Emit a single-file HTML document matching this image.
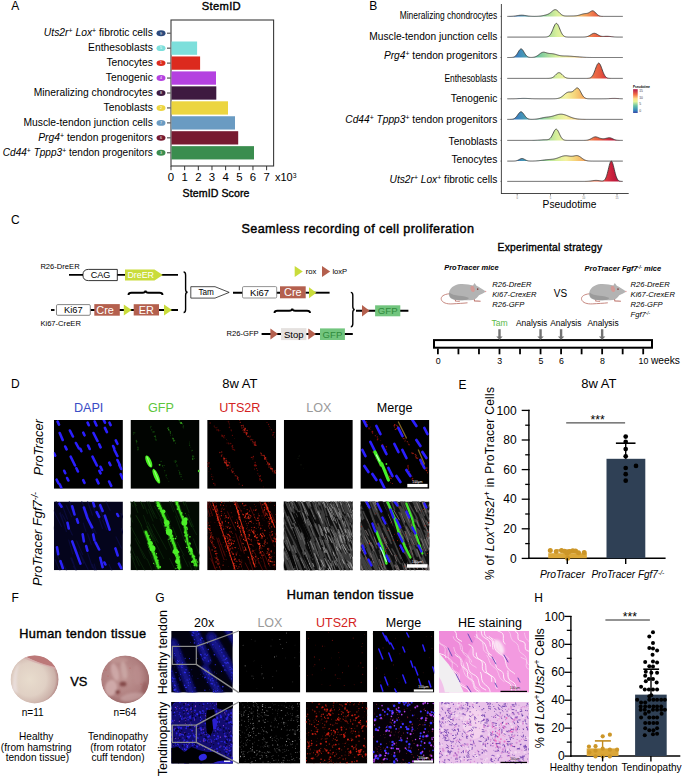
<!DOCTYPE html>
<html><head><meta charset="utf-8"><style>
html,body{margin:0;padding:0;background:#fff;}
svg{display:block;}
text{font-family:"Liberation Sans", sans-serif;}
</style></head><body>
<svg width="685" height="779" viewBox="0 0 685 779" font-family="Liberation Sans, sans-serif">
<text x="11.30" y="10.30" font-size="12.0" >A</text>
<text x="221.20" y="9.60" font-size="11.2" text-anchor="middle" textLength="39.0" lengthAdjust="spacing" fill="#000" stroke="#000" stroke-width="0.38">StemID</text>
<rect x="171.00" y="20.00" width="102.60" height="146.00" fill="none" stroke="#3a3a3a" stroke-width="1.1" />
<line x1="167.00" y1="33.20" x2="170.60" y2="33.20" stroke="#333" stroke-width="1" />
<ellipse cx="161" cy="33.20" rx="4.5" ry="2.95" fill="#2c4a7c"/>
<text x="161.00" y="34.50" font-size="3.6" text-anchor="middle" fill="#fff" >9</text>
<text x="152.80" y="36.00" font-size="10.3" text-anchor="end" ><tspan font-style="italic">Uts2r</tspan><tspan font-size="0.68em" baseline-shift="50%">+</tspan> <tspan font-style="italic">Lox</tspan><tspan font-size="0.68em" baseline-shift="50%">+</tspan> fibrotic cells</text>
<rect x="171.50" y="41.50" width="25.60" height="13.30" fill="#7ddfdb" />
<line x1="167.00" y1="48.15" x2="170.60" y2="48.15" stroke="#333" stroke-width="1" />
<ellipse cx="161" cy="48.15" rx="4.5" ry="2.95" fill="#7ddfdb"/>
<text x="161.00" y="49.45" font-size="3.6" text-anchor="middle" fill="#fff" >5</text>
<text x="152.80" y="50.95" font-size="10.3" text-anchor="end" >Enthesoblasts</text>
<rect x="171.50" y="56.45" width="28.60" height="13.30" fill="#dc2a1e" />
<line x1="167.00" y1="63.10" x2="170.60" y2="63.10" stroke="#333" stroke-width="1" />
<ellipse cx="161" cy="63.10" rx="4.5" ry="2.95" fill="#dc2a1e"/>
<text x="161.00" y="64.40" font-size="3.6" text-anchor="middle" fill="#fff" >1</text>
<text x="152.80" y="65.90" font-size="10.3" text-anchor="end" >Tenocytes</text>
<rect x="171.50" y="71.40" width="44.50" height="13.30" fill="#b441e0" />
<line x1="167.00" y1="78.05" x2="170.60" y2="78.05" stroke="#333" stroke-width="1" />
<ellipse cx="161" cy="78.05" rx="4.5" ry="2.95" fill="#b441e0"/>
<text x="161.00" y="79.35" font-size="3.6" text-anchor="middle" fill="#fff" >4</text>
<text x="152.80" y="80.85" font-size="10.3" text-anchor="end" >Tenogenic</text>
<rect x="171.50" y="86.35" width="44.80" height="13.30" fill="#3e1a40" />
<line x1="167.00" y1="93.00" x2="170.60" y2="93.00" stroke="#333" stroke-width="1" />
<ellipse cx="161" cy="93.00" rx="4.5" ry="2.95" fill="#3e1a40"/>
<text x="161.00" y="94.30" font-size="3.6" text-anchor="middle" fill="#fff" >8</text>
<text x="152.80" y="95.80" font-size="10.3" text-anchor="end" >Mineralizing chondrocytes</text>
<rect x="171.50" y="101.30" width="56.50" height="13.30" fill="#ecd540" />
<line x1="167.00" y1="107.95" x2="170.60" y2="107.95" stroke="#333" stroke-width="1" />
<ellipse cx="161" cy="107.95" rx="4.5" ry="2.95" fill="#ecd540"/>
<text x="161.00" y="109.25" font-size="3.6" text-anchor="middle" fill="#fff" >2</text>
<text x="152.80" y="110.75" font-size="10.3" text-anchor="end" >Tenoblasts</text>
<rect x="171.50" y="116.25" width="63.50" height="13.30" fill="#6a9bc2" />
<line x1="167.00" y1="122.90" x2="170.60" y2="122.90" stroke="#333" stroke-width="1" />
<ellipse cx="161" cy="122.90" rx="4.5" ry="2.95" fill="#6a9bc2"/>
<text x="161.00" y="124.20" font-size="3.6" text-anchor="middle" fill="#fff" >7</text>
<text x="152.80" y="125.70" font-size="10.3" text-anchor="end" >Muscle-tendon junction cells</text>
<rect x="171.50" y="131.20" width="66.70" height="13.30" fill="#771a30" />
<line x1="167.00" y1="137.85" x2="170.60" y2="137.85" stroke="#333" stroke-width="1" />
<ellipse cx="161" cy="137.85" rx="4.5" ry="2.95" fill="#771a30"/>
<text x="161.00" y="139.15" font-size="3.6" text-anchor="middle" fill="#fff" >6</text>
<text x="152.80" y="140.65" font-size="10.3" text-anchor="end" ><tspan font-style="italic">Prg4</tspan><tspan font-size="0.68em" baseline-shift="50%">+</tspan> tendon progenitors</text>
<rect x="171.50" y="146.15" width="82.50" height="13.30" fill="#3a8d4e" />
<line x1="167.00" y1="152.80" x2="170.60" y2="152.80" stroke="#333" stroke-width="1" />
<ellipse cx="161" cy="152.80" rx="4.5" ry="2.95" fill="#3a8d4e"/>
<text x="161.00" y="154.10" font-size="3.6" text-anchor="middle" fill="#fff" >3</text>
<text x="152.80" y="155.60" font-size="10.3" text-anchor="end" textLength="150" lengthAdjust="spacingAndGlyphs"><tspan font-style="italic">Cd44</tspan><tspan font-size="0.68em" baseline-shift="50%">+</tspan> <tspan font-style="italic">Tppp3</tspan><tspan font-size="0.68em" baseline-shift="50%">+</tspan> tendon progenitors</text>
<line x1="171.00" y1="166.00" x2="171.00" y2="170.20" stroke="#333" stroke-width="1" />
<text x="171.00" y="181.00" font-size="11.4" text-anchor="middle" >0</text>
<line x1="184.66" y1="166.00" x2="184.66" y2="170.20" stroke="#333" stroke-width="1" />
<text x="184.66" y="181.00" font-size="11.4" text-anchor="middle" >1</text>
<line x1="198.32" y1="166.00" x2="198.32" y2="170.20" stroke="#333" stroke-width="1" />
<text x="198.32" y="181.00" font-size="11.4" text-anchor="middle" >2</text>
<line x1="211.98" y1="166.00" x2="211.98" y2="170.20" stroke="#333" stroke-width="1" />
<text x="211.98" y="181.00" font-size="11.4" text-anchor="middle" >3</text>
<line x1="225.64" y1="166.00" x2="225.64" y2="170.20" stroke="#333" stroke-width="1" />
<text x="225.64" y="181.00" font-size="11.4" text-anchor="middle" >4</text>
<line x1="239.30" y1="166.00" x2="239.30" y2="170.20" stroke="#333" stroke-width="1" />
<text x="239.30" y="181.00" font-size="11.4" text-anchor="middle" >5</text>
<line x1="252.96" y1="166.00" x2="252.96" y2="170.20" stroke="#333" stroke-width="1" />
<text x="252.96" y="181.00" font-size="11.4" text-anchor="middle" >6</text>
<line x1="266.62" y1="166.00" x2="266.62" y2="170.20" stroke="#333" stroke-width="1" />
<text x="266.62" y="181.00" font-size="11.4" text-anchor="middle" >7</text>
<text x="275.00" y="181.00" font-size="11.0" >x10<tspan font-size="0.62em" dy="-0.45em">3</tspan></text>
<text x="216.00" y="196.50" font-size="10.6" text-anchor="middle" textLength="66.8" lengthAdjust="spacing" fill="#000" stroke="#000" stroke-width="0.36">StemID Score</text>
<text x="369.20" y="9.60" font-size="12.0" >B</text>
<defs><linearGradient id="spec" gradientUnits="userSpaceOnUse" x1="507" y1="0" x2="623" y2="0">
<stop offset="0.0" stop-color="#3a6fb8"/>
<stop offset="0.086" stop-color="#3a7fbf"/>
<stop offset="0.18" stop-color="#4fa7b0"/>
<stop offset="0.267" stop-color="#6cc4a0"/>
<stop offset="0.353" stop-color="#a8dc9c"/>
<stop offset="0.43" stop-color="#d8f09a"/>
<stop offset="0.508" stop-color="#f4f2a0"/>
<stop offset="0.586" stop-color="#f6d47a"/>
<stop offset="0.672" stop-color="#f4a45c"/>
<stop offset="0.758" stop-color="#ec6a46"/>
<stop offset="0.8" stop-color="#e65a3e"/>
<stop offset="0.855" stop-color="#d83640"/>
<stop offset="0.905" stop-color="#c8203c"/>
<stop offset="1" stop-color="#a80c3c"/>
</linearGradient>
<linearGradient id="specv" x1="0" y1="1" x2="0" y2="0">
<stop offset="0" stop-color="#3a46a6"/><stop offset="0.1" stop-color="#3282bc"/><stop offset="0.3" stop-color="#66c2a5"/>
<stop offset="0.48" stop-color="#e6f598"/><stop offset="0.6" stop-color="#fee08b"/>
<stop offset="0.78" stop-color="#f46d43"/><stop offset="1" stop-color="#b0184a"/>
</linearGradient></defs>
<path d="M507.3,16.39 L507.8,16.39 L508.3,16.38 L508.8,16.38 L509.3,16.37 L509.8,16.36 L510.3,16.35 L510.8,16.33 L511.3,16.31 L511.8,16.29 L512.3,16.26 L512.8,16.22 L513.3,16.18 L513.8,16.13 L514.3,16.08 L514.8,16.02 L515.3,15.95 L515.8,15.88 L516.3,15.80 L516.8,15.72 L517.3,15.64 L517.8,15.56 L518.3,15.48 L518.8,15.41 L519.3,15.35 L519.8,15.29 L520.3,15.25 L520.8,15.22 L521.3,15.20 L521.8,15.20 L522.3,15.21 L522.8,15.24 L523.3,15.28 L523.8,15.34 L524.3,15.40 L524.8,15.47 L525.3,15.54 L525.8,15.62 L526.3,15.70 L526.8,15.78 L527.3,15.86 L527.8,15.94 L528.3,16.00 L528.8,16.07 L529.3,16.12 L529.8,16.17 L530.3,16.21 L530.8,16.25 L531.3,16.28 L531.8,16.30 L532.3,16.32 L532.8,16.34 L533.3,16.35 L533.8,16.35 L534.3,16.36 L534.8,16.36 L535.3,16.35 L535.8,16.34 L536.3,16.33 L536.8,16.31 L537.3,16.29 L537.8,16.27 L538.3,16.24 L538.8,16.20 L539.3,16.16 L539.8,16.10 L540.3,16.05 L540.8,15.98 L541.3,15.91 L541.8,15.83 L542.3,15.74 L542.8,15.65 L543.3,15.55 L543.8,15.44 L544.3,15.33 L544.8,15.21 L545.3,15.08 L545.8,14.95 L546.3,14.80 L546.8,14.65 L547.3,14.47 L547.8,14.27 L548.3,14.05 L548.8,13.79 L549.3,13.50 L549.8,13.18 L550.3,12.82 L550.8,12.43 L551.3,12.02 L551.8,11.59 L552.3,11.17 L552.8,10.76 L553.3,10.40 L553.8,10.09 L554.3,9.86 L554.8,9.72 L555.3,9.68 L555.8,9.76 L556.3,9.94 L556.8,10.23 L557.3,10.60 L557.8,11.05 L558.3,11.54 L558.8,12.07 L559.3,12.61 L559.8,13.14 L560.3,13.64 L560.8,14.09 L561.3,14.50 L561.8,14.85 L562.3,15.15 L562.8,15.40 L563.3,15.59 L563.8,15.74 L564.3,15.85 L564.8,15.93 L565.3,15.98 L565.8,16.01 L566.3,16.03 L566.8,16.04 L567.3,16.04 L567.8,16.03 L568.3,16.02 L568.8,16.01 L569.3,16.01 L569.8,16.00 L570.3,15.99 L570.8,15.98 L571.3,15.97 L571.8,15.97 L572.3,15.96 L572.8,15.95 L573.3,15.94 L573.8,15.92 L574.3,15.90 L574.8,15.87 L575.3,15.84 L575.8,15.79 L576.3,15.73 L576.8,15.66 L577.3,15.57 L577.8,15.47 L578.3,15.35 L578.8,15.22 L579.3,15.08 L579.8,14.93 L580.3,14.77 L580.8,14.61 L581.3,14.45 L581.8,14.30 L582.3,14.15 L582.8,14.02 L583.3,13.90 L583.8,13.80 L584.3,13.72 L584.8,13.65 L585.3,13.60 L585.8,13.54 L586.3,13.48 L586.8,13.40 L587.3,13.29 L587.8,13.14 L588.3,12.94 L588.8,12.70 L589.3,12.41 L589.8,12.09 L590.3,11.76 L590.8,11.44 L591.3,11.16 L591.8,10.95 L592.3,10.84 L592.8,10.83 L593.3,10.95 L593.8,11.19 L594.3,11.54 L594.8,11.98 L595.3,12.48 L595.8,13.02 L596.3,13.56 L596.8,14.07 L597.3,14.55 L597.8,14.96 L598.3,15.32 L598.8,15.60 L599.3,15.83 L599.8,16.01 L600.3,16.13 L600.8,16.22 L601.3,16.29 L601.8,16.33 L602.3,16.36 L602.8,16.37 L603.3,16.39 L603.8,16.39 L604.3,16.40 L604.8,16.40 L605.3,16.40 L605.8,16.40 L606.3,16.40 L606.8,16.40 L607.3,16.40 L607.8,16.40 L608.3,16.40 L608.8,16.40 L609.3,16.40 L609.8,16.40 L610.3,16.40 L610.8,16.40 L611.3,16.40 L611.8,16.40 L612.3,16.40 L612.8,16.40 L613.3,16.40 L613.8,16.40 L614.3,16.40 L614.8,16.40 L615.3,16.40 L615.8,16.40 L616.3,16.40 L616.8,16.40 L617.3,16.40 L617.8,16.40 L618.3,16.40 L618.8,16.40 L619.3,16.40 L619.8,16.40 L620.3,16.40 L620.8,16.40 L621.3,16.40 L621.8,16.40 L622.3,16.40 L622.8,16.40 L623.0,16.4 L507.3,16.4 Z" fill="url(#spec)" />
<path d="M507.3,16.39 L507.8,16.39 L508.3,16.38 L508.8,16.38 L509.3,16.37 L509.8,16.36 L510.3,16.35 L510.8,16.33 L511.3,16.31 L511.8,16.29 L512.3,16.26 L512.8,16.22 L513.3,16.18 L513.8,16.13 L514.3,16.08 L514.8,16.02 L515.3,15.95 L515.8,15.88 L516.3,15.80 L516.8,15.72 L517.3,15.64 L517.8,15.56 L518.3,15.48 L518.8,15.41 L519.3,15.35 L519.8,15.29 L520.3,15.25 L520.8,15.22 L521.3,15.20 L521.8,15.20 L522.3,15.21 L522.8,15.24 L523.3,15.28 L523.8,15.34 L524.3,15.40 L524.8,15.47 L525.3,15.54 L525.8,15.62 L526.3,15.70 L526.8,15.78 L527.3,15.86 L527.8,15.94 L528.3,16.00 L528.8,16.07 L529.3,16.12 L529.8,16.17 L530.3,16.21 L530.8,16.25 L531.3,16.28 L531.8,16.30 L532.3,16.32 L532.8,16.34 L533.3,16.35 L533.8,16.35 L534.3,16.36 L534.8,16.36 L535.3,16.35 L535.8,16.34 L536.3,16.33 L536.8,16.31 L537.3,16.29 L537.8,16.27 L538.3,16.24 L538.8,16.20 L539.3,16.16 L539.8,16.10 L540.3,16.05 L540.8,15.98 L541.3,15.91 L541.8,15.83 L542.3,15.74 L542.8,15.65 L543.3,15.55 L543.8,15.44 L544.3,15.33 L544.8,15.21 L545.3,15.08 L545.8,14.95 L546.3,14.80 L546.8,14.65 L547.3,14.47 L547.8,14.27 L548.3,14.05 L548.8,13.79 L549.3,13.50 L549.8,13.18 L550.3,12.82 L550.8,12.43 L551.3,12.02 L551.8,11.59 L552.3,11.17 L552.8,10.76 L553.3,10.40 L553.8,10.09 L554.3,9.86 L554.8,9.72 L555.3,9.68 L555.8,9.76 L556.3,9.94 L556.8,10.23 L557.3,10.60 L557.8,11.05 L558.3,11.54 L558.8,12.07 L559.3,12.61 L559.8,13.14 L560.3,13.64 L560.8,14.09 L561.3,14.50 L561.8,14.85 L562.3,15.15 L562.8,15.40 L563.3,15.59 L563.8,15.74 L564.3,15.85 L564.8,15.93 L565.3,15.98 L565.8,16.01 L566.3,16.03 L566.8,16.04 L567.3,16.04 L567.8,16.03 L568.3,16.02 L568.8,16.01 L569.3,16.01 L569.8,16.00 L570.3,15.99 L570.8,15.98 L571.3,15.97 L571.8,15.97 L572.3,15.96 L572.8,15.95 L573.3,15.94 L573.8,15.92 L574.3,15.90 L574.8,15.87 L575.3,15.84 L575.8,15.79 L576.3,15.73 L576.8,15.66 L577.3,15.57 L577.8,15.47 L578.3,15.35 L578.8,15.22 L579.3,15.08 L579.8,14.93 L580.3,14.77 L580.8,14.61 L581.3,14.45 L581.8,14.30 L582.3,14.15 L582.8,14.02 L583.3,13.90 L583.8,13.80 L584.3,13.72 L584.8,13.65 L585.3,13.60 L585.8,13.54 L586.3,13.48 L586.8,13.40 L587.3,13.29 L587.8,13.14 L588.3,12.94 L588.8,12.70 L589.3,12.41 L589.8,12.09 L590.3,11.76 L590.8,11.44 L591.3,11.16 L591.8,10.95 L592.3,10.84 L592.8,10.83 L593.3,10.95 L593.8,11.19 L594.3,11.54 L594.8,11.98 L595.3,12.48 L595.8,13.02 L596.3,13.56 L596.8,14.07 L597.3,14.55 L597.8,14.96 L598.3,15.32 L598.8,15.60 L599.3,15.83 L599.8,16.01 L600.3,16.13 L600.8,16.22 L601.3,16.29 L601.8,16.33 L602.3,16.36 L602.8,16.37 L603.3,16.39 L603.8,16.39 L604.3,16.40 L604.8,16.40 L605.3,16.40 L605.8,16.40 L606.3,16.40 L606.8,16.40 L607.3,16.40 L607.8,16.40 L608.3,16.40 L608.8,16.40 L609.3,16.40 L609.8,16.40 L610.3,16.40 L610.8,16.40 L611.3,16.40 L611.8,16.40 L612.3,16.40 L612.8,16.40 L613.3,16.40 L613.8,16.40 L614.3,16.40 L614.8,16.40 L615.3,16.40 L615.8,16.40 L616.3,16.40 L616.8,16.40 L617.3,16.40 L617.8,16.40 L618.3,16.40 L618.8,16.40 L619.3,16.40 L619.8,16.40 L620.3,16.40 L620.8,16.40 L621.3,16.40 L621.8,16.40 L622.3,16.40 L622.8,16.40" fill="none" stroke="#303030" stroke-width="0.8" />
<line x1="500.60" y1="16.40" x2="501.40" y2="16.40" stroke="#333" stroke-width="0.8" />
<text x="497.30" y="18.70" font-size="10.2" text-anchor="end" textLength="97.6" lengthAdjust="spacingAndGlyphs">Mineralizing chondrocytes</text>
<path d="M507.3,37.10 L507.8,37.10 L508.3,37.10 L508.8,37.10 L509.3,37.10 L509.8,37.10 L510.3,37.10 L510.8,37.10 L511.3,37.10 L511.8,37.10 L512.3,37.10 L512.8,37.10 L513.3,37.10 L513.8,37.10 L514.3,37.10 L514.8,37.10 L515.3,37.10 L515.8,37.10 L516.3,37.10 L516.8,37.10 L517.3,37.10 L517.8,37.10 L518.3,37.10 L518.8,37.10 L519.3,37.10 L519.8,37.10 L520.3,37.10 L520.8,37.10 L521.3,37.10 L521.8,37.10 L522.3,37.10 L522.8,37.10 L523.3,37.10 L523.8,37.10 L524.3,37.10 L524.8,37.10 L525.3,37.10 L525.8,37.10 L526.3,37.10 L526.8,37.10 L527.3,37.10 L527.8,37.10 L528.3,37.10 L528.8,37.10 L529.3,37.10 L529.8,37.10 L530.3,37.10 L530.8,37.10 L531.3,37.10 L531.8,37.10 L532.3,37.10 L532.8,37.10 L533.3,37.10 L533.8,37.10 L534.3,37.10 L534.8,37.10 L535.3,37.10 L535.8,37.10 L536.3,37.10 L536.8,37.10 L537.3,37.10 L537.8,37.10 L538.3,37.10 L538.8,37.10 L539.3,37.10 L539.8,37.10 L540.3,37.10 L540.8,37.10 L541.3,37.10 L541.8,37.10 L542.3,37.10 L542.8,37.10 L543.3,37.09 L543.8,37.09 L544.3,37.08 L544.8,37.07 L545.3,37.05 L545.8,37.02 L546.3,36.97 L546.8,36.90 L547.3,36.79 L547.8,36.64 L548.3,36.43 L548.8,36.13 L549.3,35.75 L549.8,35.25 L550.3,34.62 L550.8,33.85 L551.3,32.95 L551.8,31.91 L552.3,30.77 L552.8,29.54 L553.3,28.29 L553.8,27.06 L554.3,25.91 L554.8,24.92 L555.3,24.14 L555.8,23.62 L556.3,23.41 L556.8,23.50 L557.3,23.90 L557.8,24.58 L558.3,25.49 L558.8,26.58 L559.3,27.79 L559.8,29.04 L560.3,30.29 L560.8,31.47 L561.3,32.55 L561.8,33.51 L562.3,34.33 L562.8,35.01 L563.3,35.56 L563.8,35.99 L564.3,36.32 L564.8,36.56 L565.3,36.74 L565.8,36.86 L566.3,36.95 L566.8,37.00 L567.3,37.04 L567.8,37.06 L568.3,37.08 L568.8,37.09 L569.3,37.09 L569.8,37.10 L570.3,37.10 L570.8,37.10 L571.3,37.10 L571.8,37.10 L572.3,37.10 L572.8,37.10 L573.3,37.10 L573.8,37.10 L574.3,37.10 L574.8,37.10 L575.3,37.10 L575.8,37.10 L576.3,37.10 L576.8,37.10 L577.3,37.10 L577.8,37.10 L578.3,37.10 L578.8,37.10 L579.3,37.10 L579.8,37.10 L580.3,37.10 L580.8,37.10 L581.3,37.09 L581.8,37.09 L582.3,37.09 L582.8,37.08 L583.3,37.06 L583.8,37.05 L584.3,37.02 L584.8,36.98 L585.3,36.93 L585.8,36.87 L586.3,36.78 L586.8,36.67 L587.3,36.53 L587.8,36.36 L588.3,36.15 L588.8,35.92 L589.3,35.65 L589.8,35.36 L590.3,35.05 L590.8,34.73 L591.3,34.41 L591.8,34.11 L592.3,33.84 L592.8,33.61 L593.3,33.44 L593.8,33.33 L594.3,33.29 L594.8,33.33 L595.3,33.43 L595.8,33.60 L596.3,33.82 L596.8,34.08 L597.3,34.37 L597.8,34.67 L598.3,34.98 L598.8,35.26 L599.3,35.53 L599.8,35.76 L600.3,35.96 L600.8,36.11 L601.3,36.24 L601.8,36.32 L602.3,36.38 L602.8,36.41 L603.3,36.41 L603.8,36.40 L604.3,36.38 L604.8,36.36 L605.3,36.33 L605.8,36.31 L606.3,36.30 L606.8,36.29 L607.3,36.30 L607.8,36.31 L608.3,36.34 L608.8,36.38 L609.3,36.42 L609.8,36.47 L610.3,36.53 L610.8,36.59 L611.3,36.65 L611.8,36.71 L612.3,36.77 L612.8,36.82 L613.3,36.87 L613.8,36.91 L614.3,36.95 L614.8,36.98 L615.3,37.01 L615.8,37.03 L616.3,37.05 L616.8,37.06 L617.3,37.07 L617.8,37.08 L618.3,37.09 L618.8,37.09 L619.3,37.09 L619.8,37.10 L620.3,37.10 L620.8,37.10 L621.3,37.10 L621.8,37.10 L622.3,37.10 L622.8,37.10 L623.0,37.1 L507.3,37.1 Z" fill="url(#spec)" />
<path d="M507.3,37.10 L507.8,37.10 L508.3,37.10 L508.8,37.10 L509.3,37.10 L509.8,37.10 L510.3,37.10 L510.8,37.10 L511.3,37.10 L511.8,37.10 L512.3,37.10 L512.8,37.10 L513.3,37.10 L513.8,37.10 L514.3,37.10 L514.8,37.10 L515.3,37.10 L515.8,37.10 L516.3,37.10 L516.8,37.10 L517.3,37.10 L517.8,37.10 L518.3,37.10 L518.8,37.10 L519.3,37.10 L519.8,37.10 L520.3,37.10 L520.8,37.10 L521.3,37.10 L521.8,37.10 L522.3,37.10 L522.8,37.10 L523.3,37.10 L523.8,37.10 L524.3,37.10 L524.8,37.10 L525.3,37.10 L525.8,37.10 L526.3,37.10 L526.8,37.10 L527.3,37.10 L527.8,37.10 L528.3,37.10 L528.8,37.10 L529.3,37.10 L529.8,37.10 L530.3,37.10 L530.8,37.10 L531.3,37.10 L531.8,37.10 L532.3,37.10 L532.8,37.10 L533.3,37.10 L533.8,37.10 L534.3,37.10 L534.8,37.10 L535.3,37.10 L535.8,37.10 L536.3,37.10 L536.8,37.10 L537.3,37.10 L537.8,37.10 L538.3,37.10 L538.8,37.10 L539.3,37.10 L539.8,37.10 L540.3,37.10 L540.8,37.10 L541.3,37.10 L541.8,37.10 L542.3,37.10 L542.8,37.10 L543.3,37.09 L543.8,37.09 L544.3,37.08 L544.8,37.07 L545.3,37.05 L545.8,37.02 L546.3,36.97 L546.8,36.90 L547.3,36.79 L547.8,36.64 L548.3,36.43 L548.8,36.13 L549.3,35.75 L549.8,35.25 L550.3,34.62 L550.8,33.85 L551.3,32.95 L551.8,31.91 L552.3,30.77 L552.8,29.54 L553.3,28.29 L553.8,27.06 L554.3,25.91 L554.8,24.92 L555.3,24.14 L555.8,23.62 L556.3,23.41 L556.8,23.50 L557.3,23.90 L557.8,24.58 L558.3,25.49 L558.8,26.58 L559.3,27.79 L559.8,29.04 L560.3,30.29 L560.8,31.47 L561.3,32.55 L561.8,33.51 L562.3,34.33 L562.8,35.01 L563.3,35.56 L563.8,35.99 L564.3,36.32 L564.8,36.56 L565.3,36.74 L565.8,36.86 L566.3,36.95 L566.8,37.00 L567.3,37.04 L567.8,37.06 L568.3,37.08 L568.8,37.09 L569.3,37.09 L569.8,37.10 L570.3,37.10 L570.8,37.10 L571.3,37.10 L571.8,37.10 L572.3,37.10 L572.8,37.10 L573.3,37.10 L573.8,37.10 L574.3,37.10 L574.8,37.10 L575.3,37.10 L575.8,37.10 L576.3,37.10 L576.8,37.10 L577.3,37.10 L577.8,37.10 L578.3,37.10 L578.8,37.10 L579.3,37.10 L579.8,37.10 L580.3,37.10 L580.8,37.10 L581.3,37.09 L581.8,37.09 L582.3,37.09 L582.8,37.08 L583.3,37.06 L583.8,37.05 L584.3,37.02 L584.8,36.98 L585.3,36.93 L585.8,36.87 L586.3,36.78 L586.8,36.67 L587.3,36.53 L587.8,36.36 L588.3,36.15 L588.8,35.92 L589.3,35.65 L589.8,35.36 L590.3,35.05 L590.8,34.73 L591.3,34.41 L591.8,34.11 L592.3,33.84 L592.8,33.61 L593.3,33.44 L593.8,33.33 L594.3,33.29 L594.8,33.33 L595.3,33.43 L595.8,33.60 L596.3,33.82 L596.8,34.08 L597.3,34.37 L597.8,34.67 L598.3,34.98 L598.8,35.26 L599.3,35.53 L599.8,35.76 L600.3,35.96 L600.8,36.11 L601.3,36.24 L601.8,36.32 L602.3,36.38 L602.8,36.41 L603.3,36.41 L603.8,36.40 L604.3,36.38 L604.8,36.36 L605.3,36.33 L605.8,36.31 L606.3,36.30 L606.8,36.29 L607.3,36.30 L607.8,36.31 L608.3,36.34 L608.8,36.38 L609.3,36.42 L609.8,36.47 L610.3,36.53 L610.8,36.59 L611.3,36.65 L611.8,36.71 L612.3,36.77 L612.8,36.82 L613.3,36.87 L613.8,36.91 L614.3,36.95 L614.8,36.98 L615.3,37.01 L615.8,37.03 L616.3,37.05 L616.8,37.06 L617.3,37.07 L617.8,37.08 L618.3,37.09 L618.8,37.09 L619.3,37.09 L619.8,37.10 L620.3,37.10 L620.8,37.10 L621.3,37.10 L621.8,37.10 L622.3,37.10 L622.8,37.10" fill="none" stroke="#303030" stroke-width="0.8" />
<line x1="500.60" y1="37.10" x2="501.40" y2="37.10" stroke="#333" stroke-width="0.8" />
<text x="497.30" y="39.70" font-size="10.2" text-anchor="end" >Muscle-tendon junction cells</text>
<path d="M507.3,57.50 L507.8,57.50 L508.3,57.50 L508.8,57.50 L509.3,57.50 L509.8,57.49 L510.3,57.49 L510.8,57.48 L511.3,57.46 L511.8,57.43 L512.3,57.38 L512.8,57.31 L513.3,57.21 L513.8,57.05 L514.3,56.84 L514.8,56.55 L515.3,56.17 L515.8,55.69 L516.3,55.11 L516.8,54.42 L517.3,53.64 L517.8,52.80 L518.3,51.94 L518.8,51.09 L519.3,50.32 L519.8,49.67 L520.3,49.20 L520.8,48.94 L521.3,48.92 L521.8,49.13 L522.3,49.56 L522.8,50.18 L523.3,50.93 L523.8,51.76 L524.3,52.63 L524.8,53.48 L525.3,54.27 L525.8,54.98 L526.3,55.58 L526.8,56.08 L527.3,56.48 L527.8,56.79 L528.3,57.01 L528.8,57.18 L529.3,57.29 L529.8,57.36 L530.3,57.40 L530.8,57.42 L531.3,57.42 L531.8,57.41 L532.3,57.38 L532.8,57.34 L533.3,57.28 L533.8,57.20 L534.3,57.09 L534.8,56.96 L535.3,56.80 L535.8,56.60 L536.3,56.36 L536.8,56.09 L537.3,55.78 L537.8,55.44 L538.3,55.07 L538.8,54.68 L539.3,54.28 L539.8,53.89 L540.3,53.51 L540.8,53.16 L541.3,52.85 L541.8,52.60 L542.3,52.40 L542.8,52.27 L543.3,52.20 L543.8,52.19 L544.3,52.24 L544.8,52.33 L545.3,52.46 L545.8,52.60 L546.3,52.76 L546.8,52.92 L547.3,53.06 L547.8,53.19 L548.3,53.30 L548.8,53.39 L549.3,53.46 L549.8,53.51 L550.3,53.56 L550.8,53.59 L551.3,53.62 L551.8,53.66 L552.3,53.71 L552.8,53.77 L553.3,53.85 L553.8,53.94 L554.3,54.05 L554.8,54.18 L555.3,54.31 L555.8,54.46 L556.3,54.61 L556.8,54.76 L557.3,54.91 L557.8,55.06 L558.3,55.20 L558.8,55.33 L559.3,55.44 L559.8,55.55 L560.3,55.64 L560.8,55.71 L561.3,55.78 L561.8,55.83 L562.3,55.87 L562.8,55.91 L563.3,55.93 L563.8,55.95 L564.3,55.97 L564.8,55.98 L565.3,55.99 L565.8,56.00 L566.3,56.02 L566.8,56.03 L567.3,56.05 L567.8,56.07 L568.3,56.10 L568.8,56.12 L569.3,56.15 L569.8,56.18 L570.3,56.21 L570.8,56.25 L571.3,56.28 L571.8,56.32 L572.3,56.36 L572.8,56.39 L573.3,56.43 L573.8,56.47 L574.3,56.50 L574.8,56.54 L575.3,56.57 L575.8,56.61 L576.3,56.65 L576.8,56.69 L577.3,56.72 L577.8,56.76 L578.3,56.80 L578.8,56.84 L579.3,56.88 L579.8,56.92 L580.3,56.97 L580.8,57.01 L581.3,57.05 L581.8,57.09 L582.3,57.13 L582.8,57.17 L583.3,57.21 L583.8,57.24 L584.3,57.27 L584.8,57.30 L585.3,57.33 L585.8,57.36 L586.3,57.38 L586.8,57.40 L587.3,57.42 L587.8,57.43 L588.3,57.44 L588.8,57.45 L589.3,57.46 L589.8,57.47 L590.3,57.48 L590.8,57.48 L591.3,57.49 L591.8,57.49 L592.3,57.49 L592.8,57.49 L593.3,57.50 L593.8,57.50 L594.3,57.50 L594.8,57.50 L595.3,57.50 L595.8,57.50 L596.3,57.50 L596.8,57.50 L597.3,57.50 L597.8,57.50 L598.3,57.50 L598.8,57.50 L599.3,57.50 L599.8,57.50 L600.3,57.50 L600.8,57.50 L601.3,57.50 L601.8,57.50 L602.3,57.50 L602.8,57.50 L603.3,57.50 L603.8,57.50 L604.3,57.50 L604.8,57.50 L605.3,57.50 L605.8,57.50 L606.3,57.50 L606.8,57.50 L607.3,57.50 L607.8,57.50 L608.3,57.50 L608.8,57.50 L609.3,57.50 L609.8,57.50 L610.3,57.50 L610.8,57.50 L611.3,57.50 L611.8,57.50 L612.3,57.50 L612.8,57.50 L613.3,57.50 L613.8,57.50 L614.3,57.50 L614.8,57.50 L615.3,57.50 L615.8,57.50 L616.3,57.50 L616.8,57.50 L617.3,57.50 L617.8,57.50 L618.3,57.50 L618.8,57.50 L619.3,57.50 L619.8,57.50 L620.3,57.50 L620.8,57.50 L621.3,57.50 L621.8,57.50 L622.3,57.50 L622.8,57.50 L623.0,57.5 L507.3,57.5 Z" fill="url(#spec)" />
<path d="M507.3,57.50 L507.8,57.50 L508.3,57.50 L508.8,57.50 L509.3,57.50 L509.8,57.49 L510.3,57.49 L510.8,57.48 L511.3,57.46 L511.8,57.43 L512.3,57.38 L512.8,57.31 L513.3,57.21 L513.8,57.05 L514.3,56.84 L514.8,56.55 L515.3,56.17 L515.8,55.69 L516.3,55.11 L516.8,54.42 L517.3,53.64 L517.8,52.80 L518.3,51.94 L518.8,51.09 L519.3,50.32 L519.8,49.67 L520.3,49.20 L520.8,48.94 L521.3,48.92 L521.8,49.13 L522.3,49.56 L522.8,50.18 L523.3,50.93 L523.8,51.76 L524.3,52.63 L524.8,53.48 L525.3,54.27 L525.8,54.98 L526.3,55.58 L526.8,56.08 L527.3,56.48 L527.8,56.79 L528.3,57.01 L528.8,57.18 L529.3,57.29 L529.8,57.36 L530.3,57.40 L530.8,57.42 L531.3,57.42 L531.8,57.41 L532.3,57.38 L532.8,57.34 L533.3,57.28 L533.8,57.20 L534.3,57.09 L534.8,56.96 L535.3,56.80 L535.8,56.60 L536.3,56.36 L536.8,56.09 L537.3,55.78 L537.8,55.44 L538.3,55.07 L538.8,54.68 L539.3,54.28 L539.8,53.89 L540.3,53.51 L540.8,53.16 L541.3,52.85 L541.8,52.60 L542.3,52.40 L542.8,52.27 L543.3,52.20 L543.8,52.19 L544.3,52.24 L544.8,52.33 L545.3,52.46 L545.8,52.60 L546.3,52.76 L546.8,52.92 L547.3,53.06 L547.8,53.19 L548.3,53.30 L548.8,53.39 L549.3,53.46 L549.8,53.51 L550.3,53.56 L550.8,53.59 L551.3,53.62 L551.8,53.66 L552.3,53.71 L552.8,53.77 L553.3,53.85 L553.8,53.94 L554.3,54.05 L554.8,54.18 L555.3,54.31 L555.8,54.46 L556.3,54.61 L556.8,54.76 L557.3,54.91 L557.8,55.06 L558.3,55.20 L558.8,55.33 L559.3,55.44 L559.8,55.55 L560.3,55.64 L560.8,55.71 L561.3,55.78 L561.8,55.83 L562.3,55.87 L562.8,55.91 L563.3,55.93 L563.8,55.95 L564.3,55.97 L564.8,55.98 L565.3,55.99 L565.8,56.00 L566.3,56.02 L566.8,56.03 L567.3,56.05 L567.8,56.07 L568.3,56.10 L568.8,56.12 L569.3,56.15 L569.8,56.18 L570.3,56.21 L570.8,56.25 L571.3,56.28 L571.8,56.32 L572.3,56.36 L572.8,56.39 L573.3,56.43 L573.8,56.47 L574.3,56.50 L574.8,56.54 L575.3,56.57 L575.8,56.61 L576.3,56.65 L576.8,56.69 L577.3,56.72 L577.8,56.76 L578.3,56.80 L578.8,56.84 L579.3,56.88 L579.8,56.92 L580.3,56.97 L580.8,57.01 L581.3,57.05 L581.8,57.09 L582.3,57.13 L582.8,57.17 L583.3,57.21 L583.8,57.24 L584.3,57.27 L584.8,57.30 L585.3,57.33 L585.8,57.36 L586.3,57.38 L586.8,57.40 L587.3,57.42 L587.8,57.43 L588.3,57.44 L588.8,57.45 L589.3,57.46 L589.8,57.47 L590.3,57.48 L590.8,57.48 L591.3,57.49 L591.8,57.49 L592.3,57.49 L592.8,57.49 L593.3,57.50 L593.8,57.50 L594.3,57.50 L594.8,57.50 L595.3,57.50 L595.8,57.50 L596.3,57.50 L596.8,57.50 L597.3,57.50 L597.8,57.50 L598.3,57.50 L598.8,57.50 L599.3,57.50 L599.8,57.50 L600.3,57.50 L600.8,57.50 L601.3,57.50 L601.8,57.50 L602.3,57.50 L602.8,57.50 L603.3,57.50 L603.8,57.50 L604.3,57.50 L604.8,57.50 L605.3,57.50 L605.8,57.50 L606.3,57.50 L606.8,57.50 L607.3,57.50 L607.8,57.50 L608.3,57.50 L608.8,57.50 L609.3,57.50 L609.8,57.50 L610.3,57.50 L610.8,57.50 L611.3,57.50 L611.8,57.50 L612.3,57.50 L612.8,57.50 L613.3,57.50 L613.8,57.50 L614.3,57.50 L614.8,57.50 L615.3,57.50 L615.8,57.50 L616.3,57.50 L616.8,57.50 L617.3,57.50 L617.8,57.50 L618.3,57.50 L618.8,57.50 L619.3,57.50 L619.8,57.50 L620.3,57.50 L620.8,57.50 L621.3,57.50 L621.8,57.50 L622.3,57.50 L622.8,57.50" fill="none" stroke="#303030" stroke-width="0.8" />
<line x1="500.60" y1="57.50" x2="501.40" y2="57.50" stroke="#333" stroke-width="0.8" />
<text x="497.30" y="59.40" font-size="10.2" text-anchor="end" ><tspan font-style="italic">Prg4</tspan><tspan font-size="0.68em" baseline-shift="50%">+</tspan> tendon progenitors</text>
<path d="M507.3,78.40 L507.8,78.40 L508.3,78.40 L508.8,78.40 L509.3,78.40 L509.8,78.40 L510.3,78.40 L510.8,78.40 L511.3,78.40 L511.8,78.40 L512.3,78.40 L512.8,78.40 L513.3,78.40 L513.8,78.40 L514.3,78.40 L514.8,78.40 L515.3,78.40 L515.8,78.40 L516.3,78.40 L516.8,78.40 L517.3,78.40 L517.8,78.40 L518.3,78.40 L518.8,78.40 L519.3,78.40 L519.8,78.40 L520.3,78.40 L520.8,78.40 L521.3,78.40 L521.8,78.40 L522.3,78.40 L522.8,78.40 L523.3,78.40 L523.8,78.40 L524.3,78.40 L524.8,78.40 L525.3,78.40 L525.8,78.40 L526.3,78.40 L526.8,78.40 L527.3,78.40 L527.8,78.40 L528.3,78.40 L528.8,78.40 L529.3,78.40 L529.8,78.40 L530.3,78.40 L530.8,78.40 L531.3,78.40 L531.8,78.40 L532.3,78.40 L532.8,78.40 L533.3,78.40 L533.8,78.40 L534.3,78.40 L534.8,78.40 L535.3,78.40 L535.8,78.40 L536.3,78.40 L536.8,78.40 L537.3,78.40 L537.8,78.40 L538.3,78.40 L538.8,78.40 L539.3,78.40 L539.8,78.40 L540.3,78.40 L540.8,78.40 L541.3,78.40 L541.8,78.40 L542.3,78.40 L542.8,78.40 L543.3,78.40 L543.8,78.40 L544.3,78.40 L544.8,78.40 L545.3,78.40 L545.8,78.40 L546.3,78.39 L546.8,78.39 L547.3,78.38 L547.8,78.37 L548.3,78.36 L548.8,78.34 L549.3,78.30 L549.8,78.25 L550.3,78.18 L550.8,78.09 L551.3,77.96 L551.8,77.79 L552.3,77.58 L552.8,77.32 L553.3,77.00 L553.8,76.63 L554.3,76.21 L554.8,75.74 L555.3,75.25 L555.8,74.74 L556.3,74.24 L556.8,73.78 L557.3,73.37 L557.8,73.04 L558.3,72.82 L558.8,72.71 L559.3,72.72 L559.8,72.86 L560.3,73.10 L560.8,73.45 L561.3,73.87 L561.8,74.34 L562.3,74.84 L562.8,75.35 L563.3,75.84 L563.8,76.30 L564.3,76.71 L564.8,77.07 L565.3,77.38 L565.8,77.63 L566.3,77.83 L566.8,77.99 L567.3,78.11 L567.8,78.20 L568.3,78.26 L568.8,78.31 L569.3,78.34 L569.8,78.36 L570.3,78.38 L570.8,78.39 L571.3,78.39 L571.8,78.40 L572.3,78.40 L572.8,78.40 L573.3,78.40 L573.8,78.40 L574.3,78.40 L574.8,78.40 L575.3,78.40 L575.8,78.40 L576.3,78.40 L576.8,78.40 L577.3,78.40 L577.8,78.40 L578.3,78.40 L578.8,78.40 L579.3,78.40 L579.8,78.40 L580.3,78.40 L580.8,78.40 L581.3,78.40 L581.8,78.40 L582.3,78.40 L582.8,78.40 L583.3,78.40 L583.8,78.40 L584.3,78.40 L584.8,78.40 L585.3,78.40 L585.8,78.39 L586.3,78.39 L586.8,78.38 L587.3,78.36 L587.8,78.33 L588.3,78.29 L588.8,78.23 L589.3,78.14 L589.8,78.00 L590.3,77.80 L590.8,77.53 L591.3,77.16 L591.8,76.68 L592.3,76.07 L592.8,75.31 L593.3,74.39 L593.8,73.32 L594.3,72.11 L594.8,70.79 L595.3,69.40 L595.8,68.00 L596.3,66.66 L596.8,65.44 L597.3,64.42 L597.8,63.66 L598.3,63.21 L598.8,63.11 L599.3,63.35 L599.8,63.93 L600.3,64.80 L600.8,65.90 L601.3,67.18 L601.8,68.56 L602.3,69.96 L602.8,71.33 L603.3,72.61 L603.8,73.76 L604.3,74.77 L604.8,75.63 L605.3,76.33 L605.8,76.89 L606.3,77.32 L606.8,77.65 L607.3,77.89 L607.8,78.06 L608.3,78.18 L608.8,78.26 L609.3,78.31 L609.8,78.35 L610.3,78.37 L610.8,78.38 L611.3,78.39 L611.8,78.39 L612.3,78.40 L612.8,78.40 L613.3,78.40 L613.8,78.40 L614.3,78.40 L614.8,78.40 L615.3,78.40 L615.8,78.40 L616.3,78.40 L616.8,78.40 L617.3,78.40 L617.8,78.40 L618.3,78.40 L618.8,78.40 L619.3,78.40 L619.8,78.40 L620.3,78.40 L620.8,78.40 L621.3,78.40 L621.8,78.40 L622.3,78.40 L622.8,78.40 L623.0,78.4 L507.3,78.4 Z" fill="url(#spec)" />
<path d="M507.3,78.40 L507.8,78.40 L508.3,78.40 L508.8,78.40 L509.3,78.40 L509.8,78.40 L510.3,78.40 L510.8,78.40 L511.3,78.40 L511.8,78.40 L512.3,78.40 L512.8,78.40 L513.3,78.40 L513.8,78.40 L514.3,78.40 L514.8,78.40 L515.3,78.40 L515.8,78.40 L516.3,78.40 L516.8,78.40 L517.3,78.40 L517.8,78.40 L518.3,78.40 L518.8,78.40 L519.3,78.40 L519.8,78.40 L520.3,78.40 L520.8,78.40 L521.3,78.40 L521.8,78.40 L522.3,78.40 L522.8,78.40 L523.3,78.40 L523.8,78.40 L524.3,78.40 L524.8,78.40 L525.3,78.40 L525.8,78.40 L526.3,78.40 L526.8,78.40 L527.3,78.40 L527.8,78.40 L528.3,78.40 L528.8,78.40 L529.3,78.40 L529.8,78.40 L530.3,78.40 L530.8,78.40 L531.3,78.40 L531.8,78.40 L532.3,78.40 L532.8,78.40 L533.3,78.40 L533.8,78.40 L534.3,78.40 L534.8,78.40 L535.3,78.40 L535.8,78.40 L536.3,78.40 L536.8,78.40 L537.3,78.40 L537.8,78.40 L538.3,78.40 L538.8,78.40 L539.3,78.40 L539.8,78.40 L540.3,78.40 L540.8,78.40 L541.3,78.40 L541.8,78.40 L542.3,78.40 L542.8,78.40 L543.3,78.40 L543.8,78.40 L544.3,78.40 L544.8,78.40 L545.3,78.40 L545.8,78.40 L546.3,78.39 L546.8,78.39 L547.3,78.38 L547.8,78.37 L548.3,78.36 L548.8,78.34 L549.3,78.30 L549.8,78.25 L550.3,78.18 L550.8,78.09 L551.3,77.96 L551.8,77.79 L552.3,77.58 L552.8,77.32 L553.3,77.00 L553.8,76.63 L554.3,76.21 L554.8,75.74 L555.3,75.25 L555.8,74.74 L556.3,74.24 L556.8,73.78 L557.3,73.37 L557.8,73.04 L558.3,72.82 L558.8,72.71 L559.3,72.72 L559.8,72.86 L560.3,73.10 L560.8,73.45 L561.3,73.87 L561.8,74.34 L562.3,74.84 L562.8,75.35 L563.3,75.84 L563.8,76.30 L564.3,76.71 L564.8,77.07 L565.3,77.38 L565.8,77.63 L566.3,77.83 L566.8,77.99 L567.3,78.11 L567.8,78.20 L568.3,78.26 L568.8,78.31 L569.3,78.34 L569.8,78.36 L570.3,78.38 L570.8,78.39 L571.3,78.39 L571.8,78.40 L572.3,78.40 L572.8,78.40 L573.3,78.40 L573.8,78.40 L574.3,78.40 L574.8,78.40 L575.3,78.40 L575.8,78.40 L576.3,78.40 L576.8,78.40 L577.3,78.40 L577.8,78.40 L578.3,78.40 L578.8,78.40 L579.3,78.40 L579.8,78.40 L580.3,78.40 L580.8,78.40 L581.3,78.40 L581.8,78.40 L582.3,78.40 L582.8,78.40 L583.3,78.40 L583.8,78.40 L584.3,78.40 L584.8,78.40 L585.3,78.40 L585.8,78.39 L586.3,78.39 L586.8,78.38 L587.3,78.36 L587.8,78.33 L588.3,78.29 L588.8,78.23 L589.3,78.14 L589.8,78.00 L590.3,77.80 L590.8,77.53 L591.3,77.16 L591.8,76.68 L592.3,76.07 L592.8,75.31 L593.3,74.39 L593.8,73.32 L594.3,72.11 L594.8,70.79 L595.3,69.40 L595.8,68.00 L596.3,66.66 L596.8,65.44 L597.3,64.42 L597.8,63.66 L598.3,63.21 L598.8,63.11 L599.3,63.35 L599.8,63.93 L600.3,64.80 L600.8,65.90 L601.3,67.18 L601.8,68.56 L602.3,69.96 L602.8,71.33 L603.3,72.61 L603.8,73.76 L604.3,74.77 L604.8,75.63 L605.3,76.33 L605.8,76.89 L606.3,77.32 L606.8,77.65 L607.3,77.89 L607.8,78.06 L608.3,78.18 L608.8,78.26 L609.3,78.31 L609.8,78.35 L610.3,78.37 L610.8,78.38 L611.3,78.39 L611.8,78.39 L612.3,78.40 L612.8,78.40 L613.3,78.40 L613.8,78.40 L614.3,78.40 L614.8,78.40 L615.3,78.40 L615.8,78.40 L616.3,78.40 L616.8,78.40 L617.3,78.40 L617.8,78.40 L618.3,78.40 L618.8,78.40 L619.3,78.40 L619.8,78.40 L620.3,78.40 L620.8,78.40 L621.3,78.40 L621.8,78.40 L622.3,78.40 L622.8,78.40" fill="none" stroke="#303030" stroke-width="0.8" />
<line x1="500.60" y1="78.40" x2="501.40" y2="78.40" stroke="#333" stroke-width="0.8" />
<text x="497.30" y="81.70" font-size="10.2" text-anchor="end" textLength="52.9" lengthAdjust="spacingAndGlyphs">Enthesoblasts</text>
<path d="M507.3,98.80 L507.8,98.80 L508.3,98.80 L508.8,98.80 L509.3,98.79 L509.8,98.79 L510.3,98.79 L510.8,98.79 L511.3,98.78 L511.8,98.78 L512.3,98.77 L512.8,98.77 L513.3,98.76 L513.8,98.75 L514.3,98.74 L514.8,98.73 L515.3,98.71 L515.8,98.70 L516.3,98.68 L516.8,98.66 L517.3,98.64 L517.8,98.61 L518.3,98.59 L518.8,98.57 L519.3,98.54 L519.8,98.52 L520.3,98.50 L520.8,98.47 L521.3,98.45 L521.8,98.44 L522.3,98.42 L522.8,98.41 L523.3,98.40 L523.8,98.40 L524.3,98.40 L524.8,98.41 L525.3,98.41 L525.8,98.43 L526.3,98.44 L526.8,98.46 L527.3,98.48 L527.8,98.50 L528.3,98.52 L528.8,98.55 L529.3,98.57 L529.8,98.60 L530.3,98.62 L530.8,98.64 L531.3,98.66 L531.8,98.68 L532.3,98.70 L532.8,98.71 L533.3,98.73 L533.8,98.74 L534.3,98.75 L534.8,98.76 L535.3,98.77 L535.8,98.78 L536.3,98.78 L536.8,98.78 L537.3,98.79 L537.8,98.79 L538.3,98.79 L538.8,98.79 L539.3,98.80 L539.8,98.80 L540.3,98.80 L540.8,98.80 L541.3,98.80 L541.8,98.80 L542.3,98.80 L542.8,98.80 L543.3,98.80 L543.8,98.80 L544.3,98.80 L544.8,98.80 L545.3,98.80 L545.8,98.80 L546.3,98.80 L546.8,98.80 L547.3,98.80 L547.8,98.80 L548.3,98.80 L548.8,98.80 L549.3,98.80 L549.8,98.80 L550.3,98.80 L550.8,98.80 L551.3,98.80 L551.8,98.79 L552.3,98.79 L552.8,98.79 L553.3,98.78 L553.8,98.77 L554.3,98.76 L554.8,98.74 L555.3,98.71 L555.8,98.68 L556.3,98.64 L556.8,98.58 L557.3,98.51 L557.8,98.42 L558.3,98.30 L558.8,98.16 L559.3,98.00 L559.8,97.80 L560.3,97.56 L560.8,97.30 L561.3,96.99 L561.8,96.65 L562.3,96.28 L562.8,95.89 L563.3,95.47 L563.8,95.03 L564.3,94.59 L564.8,94.16 L565.3,93.74 L565.8,93.36 L566.3,93.01 L566.8,92.70 L567.3,92.46 L567.8,92.27 L568.3,92.13 L568.8,92.05 L569.3,92.01 L569.8,92.00 L570.3,91.99 L570.8,91.97 L571.3,91.92 L571.8,91.81 L572.3,91.63 L572.8,91.36 L573.3,91.01 L573.8,90.58 L574.3,90.09 L574.8,89.56 L575.3,89.05 L575.8,88.58 L576.3,88.21 L576.8,87.98 L577.3,87.91 L577.8,88.04 L578.3,88.36 L578.8,88.87 L579.3,89.54 L579.8,90.36 L580.3,91.26 L580.8,92.21 L581.3,93.17 L581.8,94.10 L582.3,94.96 L582.8,95.73 L583.3,96.40 L583.8,96.97 L584.3,97.43 L584.8,97.80 L585.3,98.09 L585.8,98.30 L586.3,98.46 L586.8,98.58 L587.3,98.65 L587.8,98.71 L588.3,98.74 L588.8,98.76 L589.3,98.78 L589.8,98.79 L590.3,98.79 L590.8,98.80 L591.3,98.80 L591.8,98.80 L592.3,98.80 L592.8,98.80 L593.3,98.80 L593.8,98.80 L594.3,98.80 L594.8,98.80 L595.3,98.80 L595.8,98.80 L596.3,98.80 L596.8,98.80 L597.3,98.80 L597.8,98.80 L598.3,98.80 L598.8,98.80 L599.3,98.80 L599.8,98.80 L600.3,98.80 L600.8,98.80 L601.3,98.80 L601.8,98.80 L602.3,98.79 L602.8,98.79 L603.3,98.79 L603.8,98.78 L604.3,98.78 L604.8,98.77 L605.3,98.76 L605.8,98.75 L606.3,98.74 L606.8,98.72 L607.3,98.70 L607.8,98.68 L608.3,98.66 L608.8,98.63 L609.3,98.60 L609.8,98.57 L610.3,98.54 L610.8,98.51 L611.3,98.48 L611.8,98.46 L612.3,98.43 L612.8,98.42 L613.3,98.41 L613.8,98.40 L614.3,98.40 L614.8,98.41 L615.3,98.42 L615.8,98.44 L616.3,98.46 L616.8,98.49 L617.3,98.52 L617.8,98.55 L618.3,98.58 L618.8,98.61 L619.3,98.63 L619.8,98.66 L620.3,98.68 L620.8,98.71 L621.3,98.72 L621.8,98.74 L622.3,98.75 L622.8,98.76 L623.0,98.8 L507.3,98.8 Z" fill="url(#spec)" />
<path d="M507.3,98.80 L507.8,98.80 L508.3,98.80 L508.8,98.80 L509.3,98.79 L509.8,98.79 L510.3,98.79 L510.8,98.79 L511.3,98.78 L511.8,98.78 L512.3,98.77 L512.8,98.77 L513.3,98.76 L513.8,98.75 L514.3,98.74 L514.8,98.73 L515.3,98.71 L515.8,98.70 L516.3,98.68 L516.8,98.66 L517.3,98.64 L517.8,98.61 L518.3,98.59 L518.8,98.57 L519.3,98.54 L519.8,98.52 L520.3,98.50 L520.8,98.47 L521.3,98.45 L521.8,98.44 L522.3,98.42 L522.8,98.41 L523.3,98.40 L523.8,98.40 L524.3,98.40 L524.8,98.41 L525.3,98.41 L525.8,98.43 L526.3,98.44 L526.8,98.46 L527.3,98.48 L527.8,98.50 L528.3,98.52 L528.8,98.55 L529.3,98.57 L529.8,98.60 L530.3,98.62 L530.8,98.64 L531.3,98.66 L531.8,98.68 L532.3,98.70 L532.8,98.71 L533.3,98.73 L533.8,98.74 L534.3,98.75 L534.8,98.76 L535.3,98.77 L535.8,98.78 L536.3,98.78 L536.8,98.78 L537.3,98.79 L537.8,98.79 L538.3,98.79 L538.8,98.79 L539.3,98.80 L539.8,98.80 L540.3,98.80 L540.8,98.80 L541.3,98.80 L541.8,98.80 L542.3,98.80 L542.8,98.80 L543.3,98.80 L543.8,98.80 L544.3,98.80 L544.8,98.80 L545.3,98.80 L545.8,98.80 L546.3,98.80 L546.8,98.80 L547.3,98.80 L547.8,98.80 L548.3,98.80 L548.8,98.80 L549.3,98.80 L549.8,98.80 L550.3,98.80 L550.8,98.80 L551.3,98.80 L551.8,98.79 L552.3,98.79 L552.8,98.79 L553.3,98.78 L553.8,98.77 L554.3,98.76 L554.8,98.74 L555.3,98.71 L555.8,98.68 L556.3,98.64 L556.8,98.58 L557.3,98.51 L557.8,98.42 L558.3,98.30 L558.8,98.16 L559.3,98.00 L559.8,97.80 L560.3,97.56 L560.8,97.30 L561.3,96.99 L561.8,96.65 L562.3,96.28 L562.8,95.89 L563.3,95.47 L563.8,95.03 L564.3,94.59 L564.8,94.16 L565.3,93.74 L565.8,93.36 L566.3,93.01 L566.8,92.70 L567.3,92.46 L567.8,92.27 L568.3,92.13 L568.8,92.05 L569.3,92.01 L569.8,92.00 L570.3,91.99 L570.8,91.97 L571.3,91.92 L571.8,91.81 L572.3,91.63 L572.8,91.36 L573.3,91.01 L573.8,90.58 L574.3,90.09 L574.8,89.56 L575.3,89.05 L575.8,88.58 L576.3,88.21 L576.8,87.98 L577.3,87.91 L577.8,88.04 L578.3,88.36 L578.8,88.87 L579.3,89.54 L579.8,90.36 L580.3,91.26 L580.8,92.21 L581.3,93.17 L581.8,94.10 L582.3,94.96 L582.8,95.73 L583.3,96.40 L583.8,96.97 L584.3,97.43 L584.8,97.80 L585.3,98.09 L585.8,98.30 L586.3,98.46 L586.8,98.58 L587.3,98.65 L587.8,98.71 L588.3,98.74 L588.8,98.76 L589.3,98.78 L589.8,98.79 L590.3,98.79 L590.8,98.80 L591.3,98.80 L591.8,98.80 L592.3,98.80 L592.8,98.80 L593.3,98.80 L593.8,98.80 L594.3,98.80 L594.8,98.80 L595.3,98.80 L595.8,98.80 L596.3,98.80 L596.8,98.80 L597.3,98.80 L597.8,98.80 L598.3,98.80 L598.8,98.80 L599.3,98.80 L599.8,98.80 L600.3,98.80 L600.8,98.80 L601.3,98.80 L601.8,98.80 L602.3,98.79 L602.8,98.79 L603.3,98.79 L603.8,98.78 L604.3,98.78 L604.8,98.77 L605.3,98.76 L605.8,98.75 L606.3,98.74 L606.8,98.72 L607.3,98.70 L607.8,98.68 L608.3,98.66 L608.8,98.63 L609.3,98.60 L609.8,98.57 L610.3,98.54 L610.8,98.51 L611.3,98.48 L611.8,98.46 L612.3,98.43 L612.8,98.42 L613.3,98.41 L613.8,98.40 L614.3,98.40 L614.8,98.41 L615.3,98.42 L615.8,98.44 L616.3,98.46 L616.8,98.49 L617.3,98.52 L617.8,98.55 L618.3,98.58 L618.8,98.61 L619.3,98.63 L619.8,98.66 L620.3,98.68 L620.8,98.71 L621.3,98.72 L621.8,98.74 L622.3,98.75 L622.8,98.76" fill="none" stroke="#303030" stroke-width="0.8" />
<line x1="500.60" y1="98.80" x2="501.40" y2="98.80" stroke="#333" stroke-width="0.8" />
<text x="497.30" y="102.00" font-size="10.2" text-anchor="end" >Tenogenic</text>
<path d="M507.3,119.40 L507.8,119.40 L508.3,119.40 L508.8,119.39 L509.3,119.39 L509.8,119.38 L510.3,119.37 L510.8,119.35 L511.3,119.32 L511.8,119.28 L512.3,119.21 L512.8,119.11 L513.3,118.98 L513.8,118.80 L514.3,118.55 L514.8,118.24 L515.3,117.84 L515.8,117.37 L516.3,116.82 L516.8,116.19 L517.3,115.51 L517.8,114.79 L518.3,114.08 L518.8,113.40 L519.3,112.80 L519.8,112.32 L520.3,111.98 L520.8,111.81 L521.3,111.83 L521.8,112.03 L522.3,112.40 L522.8,112.91 L523.3,113.53 L523.8,114.22 L524.3,114.93 L524.8,115.64 L525.3,116.32 L525.8,116.93 L526.3,117.47 L526.8,117.93 L527.3,118.30 L527.8,118.60 L528.3,118.83 L528.8,119.00 L529.3,119.13 L529.8,119.21 L530.3,119.27 L530.8,119.30 L531.3,119.32 L531.8,119.33 L532.3,119.32 L532.8,119.31 L533.3,119.29 L533.8,119.27 L534.3,119.24 L534.8,119.20 L535.3,119.16 L535.8,119.11 L536.3,119.05 L536.8,118.98 L537.3,118.91 L537.8,118.82 L538.3,118.74 L538.8,118.64 L539.3,118.54 L539.8,118.43 L540.3,118.32 L540.8,118.21 L541.3,118.09 L541.8,117.98 L542.3,117.87 L542.8,117.76 L543.3,117.66 L543.8,117.57 L544.3,117.48 L544.8,117.40 L545.3,117.32 L545.8,117.25 L546.3,117.19 L546.8,117.13 L547.3,117.07 L547.8,117.01 L548.3,116.95 L548.8,116.89 L549.3,116.82 L549.8,116.75 L550.3,116.67 L550.8,116.57 L551.3,116.47 L551.8,116.35 L552.3,116.23 L552.8,116.10 L553.3,115.95 L553.8,115.80 L554.3,115.64 L554.8,115.49 L555.3,115.32 L555.8,115.17 L556.3,115.01 L556.8,114.86 L557.3,114.72 L557.8,114.60 L558.3,114.48 L558.8,114.39 L559.3,114.31 L559.8,114.25 L560.3,114.21 L560.8,114.19 L561.3,114.20 L561.8,114.22 L562.3,114.27 L562.8,114.34 L563.3,114.44 L563.8,114.55 L564.3,114.68 L564.8,114.83 L565.3,114.99 L565.8,115.16 L566.3,115.35 L566.8,115.54 L567.3,115.75 L567.8,115.95 L568.3,116.16 L568.8,116.37 L569.3,116.58 L569.8,116.79 L570.3,116.99 L570.8,117.19 L571.3,117.37 L571.8,117.56 L572.3,117.73 L572.8,117.89 L573.3,118.04 L573.8,118.19 L574.3,118.32 L574.8,118.44 L575.3,118.56 L575.8,118.66 L576.3,118.75 L576.8,118.83 L577.3,118.91 L577.8,118.98 L578.3,119.04 L578.8,119.09 L579.3,119.14 L579.8,119.18 L580.3,119.21 L580.8,119.24 L581.3,119.27 L581.8,119.29 L582.3,119.31 L582.8,119.32 L583.3,119.34 L583.8,119.35 L584.3,119.36 L584.8,119.37 L585.3,119.37 L585.8,119.38 L586.3,119.38 L586.8,119.39 L587.3,119.39 L587.8,119.39 L588.3,119.39 L588.8,119.39 L589.3,119.40 L589.8,119.40 L590.3,119.40 L590.8,119.40 L591.3,119.40 L591.8,119.40 L592.3,119.40 L592.8,119.40 L593.3,119.40 L593.8,119.40 L594.3,119.40 L594.8,119.40 L595.3,119.40 L595.8,119.40 L596.3,119.40 L596.8,119.40 L597.3,119.40 L597.8,119.40 L598.3,119.40 L598.8,119.40 L599.3,119.40 L599.8,119.40 L600.3,119.40 L600.8,119.40 L601.3,119.40 L601.8,119.40 L602.3,119.40 L602.8,119.40 L603.3,119.40 L603.8,119.40 L604.3,119.40 L604.8,119.40 L605.3,119.40 L605.8,119.40 L606.3,119.40 L606.8,119.40 L607.3,119.40 L607.8,119.40 L608.3,119.40 L608.8,119.40 L609.3,119.40 L609.8,119.40 L610.3,119.40 L610.8,119.40 L611.3,119.40 L611.8,119.40 L612.3,119.40 L612.8,119.40 L613.3,119.40 L613.8,119.40 L614.3,119.40 L614.8,119.40 L615.3,119.40 L615.8,119.40 L616.3,119.40 L616.8,119.40 L617.3,119.40 L617.8,119.40 L618.3,119.40 L618.8,119.40 L619.3,119.40 L619.8,119.40 L620.3,119.40 L620.8,119.40 L621.3,119.40 L621.8,119.40 L622.3,119.40 L622.8,119.40 L623.0,119.4 L507.3,119.4 Z" fill="url(#spec)" />
<path d="M507.3,119.40 L507.8,119.40 L508.3,119.40 L508.8,119.39 L509.3,119.39 L509.8,119.38 L510.3,119.37 L510.8,119.35 L511.3,119.32 L511.8,119.28 L512.3,119.21 L512.8,119.11 L513.3,118.98 L513.8,118.80 L514.3,118.55 L514.8,118.24 L515.3,117.84 L515.8,117.37 L516.3,116.82 L516.8,116.19 L517.3,115.51 L517.8,114.79 L518.3,114.08 L518.8,113.40 L519.3,112.80 L519.8,112.32 L520.3,111.98 L520.8,111.81 L521.3,111.83 L521.8,112.03 L522.3,112.40 L522.8,112.91 L523.3,113.53 L523.8,114.22 L524.3,114.93 L524.8,115.64 L525.3,116.32 L525.8,116.93 L526.3,117.47 L526.8,117.93 L527.3,118.30 L527.8,118.60 L528.3,118.83 L528.8,119.00 L529.3,119.13 L529.8,119.21 L530.3,119.27 L530.8,119.30 L531.3,119.32 L531.8,119.33 L532.3,119.32 L532.8,119.31 L533.3,119.29 L533.8,119.27 L534.3,119.24 L534.8,119.20 L535.3,119.16 L535.8,119.11 L536.3,119.05 L536.8,118.98 L537.3,118.91 L537.8,118.82 L538.3,118.74 L538.8,118.64 L539.3,118.54 L539.8,118.43 L540.3,118.32 L540.8,118.21 L541.3,118.09 L541.8,117.98 L542.3,117.87 L542.8,117.76 L543.3,117.66 L543.8,117.57 L544.3,117.48 L544.8,117.40 L545.3,117.32 L545.8,117.25 L546.3,117.19 L546.8,117.13 L547.3,117.07 L547.8,117.01 L548.3,116.95 L548.8,116.89 L549.3,116.82 L549.8,116.75 L550.3,116.67 L550.8,116.57 L551.3,116.47 L551.8,116.35 L552.3,116.23 L552.8,116.10 L553.3,115.95 L553.8,115.80 L554.3,115.64 L554.8,115.49 L555.3,115.32 L555.8,115.17 L556.3,115.01 L556.8,114.86 L557.3,114.72 L557.8,114.60 L558.3,114.48 L558.8,114.39 L559.3,114.31 L559.8,114.25 L560.3,114.21 L560.8,114.19 L561.3,114.20 L561.8,114.22 L562.3,114.27 L562.8,114.34 L563.3,114.44 L563.8,114.55 L564.3,114.68 L564.8,114.83 L565.3,114.99 L565.8,115.16 L566.3,115.35 L566.8,115.54 L567.3,115.75 L567.8,115.95 L568.3,116.16 L568.8,116.37 L569.3,116.58 L569.8,116.79 L570.3,116.99 L570.8,117.19 L571.3,117.37 L571.8,117.56 L572.3,117.73 L572.8,117.89 L573.3,118.04 L573.8,118.19 L574.3,118.32 L574.8,118.44 L575.3,118.56 L575.8,118.66 L576.3,118.75 L576.8,118.83 L577.3,118.91 L577.8,118.98 L578.3,119.04 L578.8,119.09 L579.3,119.14 L579.8,119.18 L580.3,119.21 L580.8,119.24 L581.3,119.27 L581.8,119.29 L582.3,119.31 L582.8,119.32 L583.3,119.34 L583.8,119.35 L584.3,119.36 L584.8,119.37 L585.3,119.37 L585.8,119.38 L586.3,119.38 L586.8,119.39 L587.3,119.39 L587.8,119.39 L588.3,119.39 L588.8,119.39 L589.3,119.40 L589.8,119.40 L590.3,119.40 L590.8,119.40 L591.3,119.40 L591.8,119.40 L592.3,119.40 L592.8,119.40 L593.3,119.40 L593.8,119.40 L594.3,119.40 L594.8,119.40 L595.3,119.40 L595.8,119.40 L596.3,119.40 L596.8,119.40 L597.3,119.40 L597.8,119.40 L598.3,119.40 L598.8,119.40 L599.3,119.40 L599.8,119.40 L600.3,119.40 L600.8,119.40 L601.3,119.40 L601.8,119.40 L602.3,119.40 L602.8,119.40 L603.3,119.40 L603.8,119.40 L604.3,119.40 L604.8,119.40 L605.3,119.40 L605.8,119.40 L606.3,119.40 L606.8,119.40 L607.3,119.40 L607.8,119.40 L608.3,119.40 L608.8,119.40 L609.3,119.40 L609.8,119.40 L610.3,119.40 L610.8,119.40 L611.3,119.40 L611.8,119.40 L612.3,119.40 L612.8,119.40 L613.3,119.40 L613.8,119.40 L614.3,119.40 L614.8,119.40 L615.3,119.40 L615.8,119.40 L616.3,119.40 L616.8,119.40 L617.3,119.40 L617.8,119.40 L618.3,119.40 L618.8,119.40 L619.3,119.40 L619.8,119.40 L620.3,119.40 L620.8,119.40 L621.3,119.40 L621.8,119.40 L622.3,119.40 L622.8,119.40" fill="none" stroke="#303030" stroke-width="0.8" />
<line x1="500.60" y1="119.40" x2="501.40" y2="119.40" stroke="#333" stroke-width="0.8" />
<text x="497.30" y="122.50" font-size="10.2" text-anchor="end" ><tspan font-style="italic">Cd44</tspan><tspan font-size="0.68em" baseline-shift="50%">+</tspan> <tspan font-style="italic">Tppp3</tspan><tspan font-size="0.68em" baseline-shift="50%">+</tspan> tendon progenitors</text>
<path d="M507.3,140.40 L507.8,140.40 L508.3,140.40 L508.8,140.40 L509.3,140.40 L509.8,140.40 L510.3,140.40 L510.8,140.40 L511.3,140.40 L511.8,140.40 L512.3,140.40 L512.8,140.40 L513.3,140.40 L513.8,140.40 L514.3,140.40 L514.8,140.40 L515.3,140.40 L515.8,140.40 L516.3,140.40 L516.8,140.40 L517.3,140.40 L517.8,140.40 L518.3,140.40 L518.8,140.40 L519.3,140.40 L519.8,140.40 L520.3,140.40 L520.8,140.40 L521.3,140.40 L521.8,140.40 L522.3,140.40 L522.8,140.40 L523.3,140.40 L523.8,140.40 L524.3,140.40 L524.8,140.40 L525.3,140.40 L525.8,140.40 L526.3,140.40 L526.8,140.40 L527.3,140.40 L527.8,140.40 L528.3,140.40 L528.8,140.40 L529.3,140.40 L529.8,140.39 L530.3,140.39 L530.8,140.39 L531.3,140.39 L531.8,140.38 L532.3,140.38 L532.8,140.37 L533.3,140.36 L533.8,140.35 L534.3,140.34 L534.8,140.33 L535.3,140.31 L535.8,140.29 L536.3,140.27 L536.8,140.24 L537.3,140.22 L537.8,140.19 L538.3,140.16 L538.8,140.12 L539.3,140.09 L539.8,140.05 L540.3,140.01 L540.8,139.98 L541.3,139.94 L541.8,139.91 L542.3,139.88 L542.8,139.85 L543.3,139.83 L543.8,139.81 L544.3,139.80 L544.8,139.79 L545.3,139.78 L545.8,139.77 L546.3,139.75 L546.8,139.72 L547.3,139.68 L547.8,139.60 L548.3,139.48 L548.8,139.30 L549.3,139.04 L549.8,138.69 L550.3,138.23 L550.8,137.64 L551.3,136.92 L551.8,136.07 L552.3,135.12 L552.8,134.08 L553.3,133.02 L553.8,131.97 L554.3,131.01 L554.8,130.20 L555.3,129.59 L555.8,129.23 L556.3,129.16 L556.8,129.37 L557.3,129.85 L557.8,130.57 L558.3,131.48 L558.8,132.51 L559.3,133.60 L559.8,134.69 L560.3,135.72 L560.8,136.67 L561.3,137.50 L561.8,138.21 L562.3,138.78 L562.8,139.24 L563.3,139.59 L563.8,139.84 L564.3,140.03 L564.8,140.16 L565.3,140.25 L565.8,140.31 L566.3,140.34 L566.8,140.37 L567.3,140.38 L567.8,140.39 L568.3,140.39 L568.8,140.40 L569.3,140.40 L569.8,140.40 L570.3,140.40 L570.8,140.40 L571.3,140.40 L571.8,140.40 L572.3,140.40 L572.8,140.40 L573.3,140.40 L573.8,140.40 L574.3,140.40 L574.8,140.40 L575.3,140.40 L575.8,140.40 L576.3,140.40 L576.8,140.40 L577.3,140.40 L577.8,140.40 L578.3,140.40 L578.8,140.40 L579.3,140.40 L579.8,140.40 L580.3,140.40 L580.8,140.40 L581.3,140.40 L581.8,140.40 L582.3,140.39 L582.8,140.39 L583.3,140.39 L583.8,140.38 L584.3,140.37 L584.8,140.35 L585.3,140.33 L585.8,140.29 L586.3,140.25 L586.8,140.18 L587.3,140.10 L587.8,140.00 L588.3,139.87 L588.8,139.71 L589.3,139.53 L589.8,139.31 L590.3,139.07 L590.8,138.80 L591.3,138.51 L591.8,138.22 L592.3,137.92 L592.8,137.65 L593.3,137.39 L593.8,137.18 L594.3,137.01 L594.8,136.90 L595.3,136.85 L595.8,136.86 L596.3,136.92 L596.8,137.04 L597.3,137.20 L597.8,137.38 L598.3,137.58 L598.8,137.78 L599.3,137.97 L599.8,138.15 L600.3,138.31 L600.8,138.44 L601.3,138.54 L601.8,138.62 L602.3,138.68 L602.8,138.71 L603.3,138.72 L603.8,138.70 L604.3,138.65 L604.8,138.58 L605.3,138.49 L605.8,138.37 L606.3,138.25 L606.8,138.12 L607.3,137.99 L607.8,137.88 L608.3,137.79 L608.8,137.74 L609.3,137.73 L609.8,137.77 L610.3,137.86 L610.8,137.99 L611.3,138.16 L611.8,138.37 L612.3,138.59 L612.8,138.82 L613.3,139.05 L613.8,139.27 L614.3,139.48 L614.8,139.66 L615.3,139.82 L615.8,139.96 L616.3,140.07 L616.8,140.16 L617.3,140.23 L617.8,140.28 L618.3,140.32 L618.8,140.34 L619.3,140.36 L619.8,140.38 L620.3,140.38 L620.8,140.39 L621.3,140.39 L621.8,140.40 L622.3,140.40 L622.8,140.40 L623.0,140.4 L507.3,140.4 Z" fill="url(#spec)" />
<path d="M507.3,140.40 L507.8,140.40 L508.3,140.40 L508.8,140.40 L509.3,140.40 L509.8,140.40 L510.3,140.40 L510.8,140.40 L511.3,140.40 L511.8,140.40 L512.3,140.40 L512.8,140.40 L513.3,140.40 L513.8,140.40 L514.3,140.40 L514.8,140.40 L515.3,140.40 L515.8,140.40 L516.3,140.40 L516.8,140.40 L517.3,140.40 L517.8,140.40 L518.3,140.40 L518.8,140.40 L519.3,140.40 L519.8,140.40 L520.3,140.40 L520.8,140.40 L521.3,140.40 L521.8,140.40 L522.3,140.40 L522.8,140.40 L523.3,140.40 L523.8,140.40 L524.3,140.40 L524.8,140.40 L525.3,140.40 L525.8,140.40 L526.3,140.40 L526.8,140.40 L527.3,140.40 L527.8,140.40 L528.3,140.40 L528.8,140.40 L529.3,140.40 L529.8,140.39 L530.3,140.39 L530.8,140.39 L531.3,140.39 L531.8,140.38 L532.3,140.38 L532.8,140.37 L533.3,140.36 L533.8,140.35 L534.3,140.34 L534.8,140.33 L535.3,140.31 L535.8,140.29 L536.3,140.27 L536.8,140.24 L537.3,140.22 L537.8,140.19 L538.3,140.16 L538.8,140.12 L539.3,140.09 L539.8,140.05 L540.3,140.01 L540.8,139.98 L541.3,139.94 L541.8,139.91 L542.3,139.88 L542.8,139.85 L543.3,139.83 L543.8,139.81 L544.3,139.80 L544.8,139.79 L545.3,139.78 L545.8,139.77 L546.3,139.75 L546.8,139.72 L547.3,139.68 L547.8,139.60 L548.3,139.48 L548.8,139.30 L549.3,139.04 L549.8,138.69 L550.3,138.23 L550.8,137.64 L551.3,136.92 L551.8,136.07 L552.3,135.12 L552.8,134.08 L553.3,133.02 L553.8,131.97 L554.3,131.01 L554.8,130.20 L555.3,129.59 L555.8,129.23 L556.3,129.16 L556.8,129.37 L557.3,129.85 L557.8,130.57 L558.3,131.48 L558.8,132.51 L559.3,133.60 L559.8,134.69 L560.3,135.72 L560.8,136.67 L561.3,137.50 L561.8,138.21 L562.3,138.78 L562.8,139.24 L563.3,139.59 L563.8,139.84 L564.3,140.03 L564.8,140.16 L565.3,140.25 L565.8,140.31 L566.3,140.34 L566.8,140.37 L567.3,140.38 L567.8,140.39 L568.3,140.39 L568.8,140.40 L569.3,140.40 L569.8,140.40 L570.3,140.40 L570.8,140.40 L571.3,140.40 L571.8,140.40 L572.3,140.40 L572.8,140.40 L573.3,140.40 L573.8,140.40 L574.3,140.40 L574.8,140.40 L575.3,140.40 L575.8,140.40 L576.3,140.40 L576.8,140.40 L577.3,140.40 L577.8,140.40 L578.3,140.40 L578.8,140.40 L579.3,140.40 L579.8,140.40 L580.3,140.40 L580.8,140.40 L581.3,140.40 L581.8,140.40 L582.3,140.39 L582.8,140.39 L583.3,140.39 L583.8,140.38 L584.3,140.37 L584.8,140.35 L585.3,140.33 L585.8,140.29 L586.3,140.25 L586.8,140.18 L587.3,140.10 L587.8,140.00 L588.3,139.87 L588.8,139.71 L589.3,139.53 L589.8,139.31 L590.3,139.07 L590.8,138.80 L591.3,138.51 L591.8,138.22 L592.3,137.92 L592.8,137.65 L593.3,137.39 L593.8,137.18 L594.3,137.01 L594.8,136.90 L595.3,136.85 L595.8,136.86 L596.3,136.92 L596.8,137.04 L597.3,137.20 L597.8,137.38 L598.3,137.58 L598.8,137.78 L599.3,137.97 L599.8,138.15 L600.3,138.31 L600.8,138.44 L601.3,138.54 L601.8,138.62 L602.3,138.68 L602.8,138.71 L603.3,138.72 L603.8,138.70 L604.3,138.65 L604.8,138.58 L605.3,138.49 L605.8,138.37 L606.3,138.25 L606.8,138.12 L607.3,137.99 L607.8,137.88 L608.3,137.79 L608.8,137.74 L609.3,137.73 L609.8,137.77 L610.3,137.86 L610.8,137.99 L611.3,138.16 L611.8,138.37 L612.3,138.59 L612.8,138.82 L613.3,139.05 L613.8,139.27 L614.3,139.48 L614.8,139.66 L615.3,139.82 L615.8,139.96 L616.3,140.07 L616.8,140.16 L617.3,140.23 L617.8,140.28 L618.3,140.32 L618.8,140.34 L619.3,140.36 L619.8,140.38 L620.3,140.38 L620.8,140.39 L621.3,140.39 L621.8,140.40 L622.3,140.40 L622.8,140.40" fill="none" stroke="#303030" stroke-width="0.8" />
<line x1="500.60" y1="140.40" x2="501.40" y2="140.40" stroke="#333" stroke-width="0.8" />
<text x="497.30" y="144.60" font-size="10.2" text-anchor="end" >Tenoblasts</text>
<path d="M507.3,161.10 L507.8,161.10 L508.3,161.10 L508.8,161.10 L509.3,161.10 L509.8,161.10 L510.3,161.10 L510.8,161.10 L511.3,161.10 L511.8,161.10 L512.3,161.09 L512.8,161.09 L513.3,161.08 L513.8,161.06 L514.3,161.04 L514.8,161.00 L515.3,160.95 L515.8,160.88 L516.3,160.77 L516.8,160.64 L517.3,160.46 L517.8,160.26 L518.3,160.01 L518.8,159.75 L519.3,159.47 L519.8,159.19 L520.3,158.94 L520.8,158.73 L521.3,158.58 L521.8,158.51 L522.3,158.51 L522.8,158.60 L523.3,158.77 L523.8,158.98 L524.3,159.24 L524.8,159.52 L525.3,159.80 L525.8,160.06 L526.3,160.30 L526.8,160.50 L527.3,160.66 L527.8,160.79 L528.3,160.89 L528.8,160.96 L529.3,161.00 L529.8,161.03 L530.3,161.05 L530.8,161.06 L531.3,161.06 L531.8,161.06 L532.3,161.05 L532.8,161.05 L533.3,161.03 L533.8,161.02 L534.3,161.00 L534.8,160.98 L535.3,160.96 L535.8,160.93 L536.3,160.90 L536.8,160.87 L537.3,160.83 L537.8,160.79 L538.3,160.75 L538.8,160.70 L539.3,160.64 L539.8,160.58 L540.3,160.52 L540.8,160.46 L541.3,160.39 L541.8,160.32 L542.3,160.25 L542.8,160.18 L543.3,160.11 L543.8,160.04 L544.3,159.97 L544.8,159.91 L545.3,159.85 L545.8,159.79 L546.3,159.73 L546.8,159.68 L547.3,159.63 L547.8,159.59 L548.3,159.55 L548.8,159.51 L549.3,159.48 L549.8,159.44 L550.3,159.41 L550.8,159.37 L551.3,159.32 L551.8,159.28 L552.3,159.22 L552.8,159.16 L553.3,159.09 L553.8,159.01 L554.3,158.91 L554.8,158.80 L555.3,158.68 L555.8,158.55 L556.3,158.41 L556.8,158.25 L557.3,158.08 L557.8,157.91 L558.3,157.73 L558.8,157.54 L559.3,157.34 L559.8,157.15 L560.3,156.96 L560.8,156.78 L561.3,156.60 L561.8,156.43 L562.3,156.28 L562.8,156.14 L563.3,156.02 L563.8,155.92 L564.3,155.85 L564.8,155.79 L565.3,155.76 L565.8,155.75 L566.3,155.76 L566.8,155.78 L567.3,155.83 L567.8,155.89 L568.3,155.95 L568.8,156.02 L569.3,156.09 L569.8,156.16 L570.3,156.21 L570.8,156.25 L571.3,156.26 L571.8,156.26 L572.3,156.23 L572.8,156.17 L573.3,156.10 L573.8,156.01 L574.3,155.91 L574.8,155.82 L575.3,155.73 L575.8,155.66 L576.3,155.61 L576.8,155.61 L577.3,155.65 L577.8,155.74 L578.3,155.89 L578.8,156.09 L579.3,156.34 L579.8,156.63 L580.3,156.96 L580.8,157.31 L581.3,157.68 L581.8,158.06 L582.3,158.44 L582.8,158.80 L583.3,159.14 L583.8,159.45 L584.3,159.74 L584.8,159.99 L585.3,160.20 L585.8,160.39 L586.3,160.55 L586.8,160.67 L587.3,160.78 L587.8,160.86 L588.3,160.92 L588.8,160.97 L589.3,161.01 L589.8,161.03 L590.3,161.05 L590.8,161.07 L591.3,161.08 L591.8,161.08 L592.3,161.09 L592.8,161.09 L593.3,161.10 L593.8,161.10 L594.3,161.10 L594.8,161.10 L595.3,161.10 L595.8,161.10 L596.3,161.10 L596.8,161.10 L597.3,161.10 L597.8,161.10 L598.3,161.10 L598.8,161.10 L599.3,161.10 L599.8,161.10 L600.3,161.10 L600.8,161.10 L601.3,161.10 L601.8,161.10 L602.3,161.10 L602.8,161.10 L603.3,161.10 L603.8,161.10 L604.3,161.10 L604.8,161.10 L605.3,161.10 L605.8,161.10 L606.3,161.10 L606.8,161.10 L607.3,161.10 L607.8,161.10 L608.3,161.10 L608.8,161.10 L609.3,161.10 L609.8,161.10 L610.3,161.10 L610.8,161.10 L611.3,161.10 L611.8,161.10 L612.3,161.10 L612.8,161.10 L613.3,161.10 L613.8,161.10 L614.3,161.10 L614.8,161.10 L615.3,161.10 L615.8,161.10 L616.3,161.10 L616.8,161.10 L617.3,161.10 L617.8,161.10 L618.3,161.10 L618.8,161.10 L619.3,161.10 L619.8,161.10 L620.3,161.10 L620.8,161.10 L621.3,161.10 L621.8,161.10 L622.3,161.10 L622.8,161.10 L623.0,161.1 L507.3,161.1 Z" fill="url(#spec)" />
<path d="M507.3,161.10 L507.8,161.10 L508.3,161.10 L508.8,161.10 L509.3,161.10 L509.8,161.10 L510.3,161.10 L510.8,161.10 L511.3,161.10 L511.8,161.10 L512.3,161.09 L512.8,161.09 L513.3,161.08 L513.8,161.06 L514.3,161.04 L514.8,161.00 L515.3,160.95 L515.8,160.88 L516.3,160.77 L516.8,160.64 L517.3,160.46 L517.8,160.26 L518.3,160.01 L518.8,159.75 L519.3,159.47 L519.8,159.19 L520.3,158.94 L520.8,158.73 L521.3,158.58 L521.8,158.51 L522.3,158.51 L522.8,158.60 L523.3,158.77 L523.8,158.98 L524.3,159.24 L524.8,159.52 L525.3,159.80 L525.8,160.06 L526.3,160.30 L526.8,160.50 L527.3,160.66 L527.8,160.79 L528.3,160.89 L528.8,160.96 L529.3,161.00 L529.8,161.03 L530.3,161.05 L530.8,161.06 L531.3,161.06 L531.8,161.06 L532.3,161.05 L532.8,161.05 L533.3,161.03 L533.8,161.02 L534.3,161.00 L534.8,160.98 L535.3,160.96 L535.8,160.93 L536.3,160.90 L536.8,160.87 L537.3,160.83 L537.8,160.79 L538.3,160.75 L538.8,160.70 L539.3,160.64 L539.8,160.58 L540.3,160.52 L540.8,160.46 L541.3,160.39 L541.8,160.32 L542.3,160.25 L542.8,160.18 L543.3,160.11 L543.8,160.04 L544.3,159.97 L544.8,159.91 L545.3,159.85 L545.8,159.79 L546.3,159.73 L546.8,159.68 L547.3,159.63 L547.8,159.59 L548.3,159.55 L548.8,159.51 L549.3,159.48 L549.8,159.44 L550.3,159.41 L550.8,159.37 L551.3,159.32 L551.8,159.28 L552.3,159.22 L552.8,159.16 L553.3,159.09 L553.8,159.01 L554.3,158.91 L554.8,158.80 L555.3,158.68 L555.8,158.55 L556.3,158.41 L556.8,158.25 L557.3,158.08 L557.8,157.91 L558.3,157.73 L558.8,157.54 L559.3,157.34 L559.8,157.15 L560.3,156.96 L560.8,156.78 L561.3,156.60 L561.8,156.43 L562.3,156.28 L562.8,156.14 L563.3,156.02 L563.8,155.92 L564.3,155.85 L564.8,155.79 L565.3,155.76 L565.8,155.75 L566.3,155.76 L566.8,155.78 L567.3,155.83 L567.8,155.89 L568.3,155.95 L568.8,156.02 L569.3,156.09 L569.8,156.16 L570.3,156.21 L570.8,156.25 L571.3,156.26 L571.8,156.26 L572.3,156.23 L572.8,156.17 L573.3,156.10 L573.8,156.01 L574.3,155.91 L574.8,155.82 L575.3,155.73 L575.8,155.66 L576.3,155.61 L576.8,155.61 L577.3,155.65 L577.8,155.74 L578.3,155.89 L578.8,156.09 L579.3,156.34 L579.8,156.63 L580.3,156.96 L580.8,157.31 L581.3,157.68 L581.8,158.06 L582.3,158.44 L582.8,158.80 L583.3,159.14 L583.8,159.45 L584.3,159.74 L584.8,159.99 L585.3,160.20 L585.8,160.39 L586.3,160.55 L586.8,160.67 L587.3,160.78 L587.8,160.86 L588.3,160.92 L588.8,160.97 L589.3,161.01 L589.8,161.03 L590.3,161.05 L590.8,161.07 L591.3,161.08 L591.8,161.08 L592.3,161.09 L592.8,161.09 L593.3,161.10 L593.8,161.10 L594.3,161.10 L594.8,161.10 L595.3,161.10 L595.8,161.10 L596.3,161.10 L596.8,161.10 L597.3,161.10 L597.8,161.10 L598.3,161.10 L598.8,161.10 L599.3,161.10 L599.8,161.10 L600.3,161.10 L600.8,161.10 L601.3,161.10 L601.8,161.10 L602.3,161.10 L602.8,161.10 L603.3,161.10 L603.8,161.10 L604.3,161.10 L604.8,161.10 L605.3,161.10 L605.8,161.10 L606.3,161.10 L606.8,161.10 L607.3,161.10 L607.8,161.10 L608.3,161.10 L608.8,161.10 L609.3,161.10 L609.8,161.10 L610.3,161.10 L610.8,161.10 L611.3,161.10 L611.8,161.10 L612.3,161.10 L612.8,161.10 L613.3,161.10 L613.8,161.10 L614.3,161.10 L614.8,161.10 L615.3,161.10 L615.8,161.10 L616.3,161.10 L616.8,161.10 L617.3,161.10 L617.8,161.10 L618.3,161.10 L618.8,161.10 L619.3,161.10 L619.8,161.10 L620.3,161.10 L620.8,161.10 L621.3,161.10 L621.8,161.10 L622.3,161.10 L622.8,161.10" fill="none" stroke="#303030" stroke-width="0.8" />
<line x1="500.60" y1="161.10" x2="501.40" y2="161.10" stroke="#333" stroke-width="0.8" />
<text x="497.30" y="163.10" font-size="10.2" text-anchor="end" >Tenocytes</text>
<path d="M507.3,181.40 L507.8,181.40 L508.3,181.40 L508.8,181.40 L509.3,181.40 L509.8,181.40 L510.3,181.40 L510.8,181.40 L511.3,181.40 L511.8,181.40 L512.3,181.40 L512.8,181.40 L513.3,181.40 L513.8,181.40 L514.3,181.40 L514.8,181.40 L515.3,181.40 L515.8,181.40 L516.3,181.40 L516.8,181.40 L517.3,181.40 L517.8,181.40 L518.3,181.40 L518.8,181.40 L519.3,181.40 L519.8,181.40 L520.3,181.40 L520.8,181.40 L521.3,181.40 L521.8,181.40 L522.3,181.40 L522.8,181.40 L523.3,181.40 L523.8,181.40 L524.3,181.40 L524.8,181.40 L525.3,181.40 L525.8,181.40 L526.3,181.40 L526.8,181.40 L527.3,181.40 L527.8,181.40 L528.3,181.40 L528.8,181.40 L529.3,181.40 L529.8,181.40 L530.3,181.40 L530.8,181.40 L531.3,181.40 L531.8,181.40 L532.3,181.40 L532.8,181.40 L533.3,181.40 L533.8,181.40 L534.3,181.40 L534.8,181.40 L535.3,181.40 L535.8,181.40 L536.3,181.40 L536.8,181.40 L537.3,181.40 L537.8,181.40 L538.3,181.40 L538.8,181.40 L539.3,181.40 L539.8,181.40 L540.3,181.40 L540.8,181.40 L541.3,181.40 L541.8,181.40 L542.3,181.40 L542.8,181.40 L543.3,181.40 L543.8,181.40 L544.3,181.40 L544.8,181.40 L545.3,181.40 L545.8,181.40 L546.3,181.40 L546.8,181.40 L547.3,181.40 L547.8,181.40 L548.3,181.40 L548.8,181.40 L549.3,181.40 L549.8,181.40 L550.3,181.40 L550.8,181.40 L551.3,181.40 L551.8,181.40 L552.3,181.40 L552.8,181.40 L553.3,181.40 L553.8,181.40 L554.3,181.40 L554.8,181.40 L555.3,181.40 L555.8,181.40 L556.3,181.40 L556.8,181.40 L557.3,181.40 L557.8,181.40 L558.3,181.40 L558.8,181.40 L559.3,181.40 L559.8,181.40 L560.3,181.40 L560.8,181.40 L561.3,181.40 L561.8,181.40 L562.3,181.40 L562.8,181.40 L563.3,181.40 L563.8,181.40 L564.3,181.40 L564.8,181.40 L565.3,181.40 L565.8,181.40 L566.3,181.40 L566.8,181.40 L567.3,181.40 L567.8,181.40 L568.3,181.40 L568.8,181.40 L569.3,181.40 L569.8,181.40 L570.3,181.40 L570.8,181.40 L571.3,181.40 L571.8,181.40 L572.3,181.40 L572.8,181.40 L573.3,181.40 L573.8,181.40 L574.3,181.40 L574.8,181.40 L575.3,181.40 L575.8,181.40 L576.3,181.40 L576.8,181.40 L577.3,181.40 L577.8,181.40 L578.3,181.40 L578.8,181.40 L579.3,181.40 L579.8,181.40 L580.3,181.40 L580.8,181.40 L581.3,181.40 L581.8,181.40 L582.3,181.40 L582.8,181.40 L583.3,181.39 L583.8,181.39 L584.3,181.39 L584.8,181.38 L585.3,181.37 L585.8,181.36 L586.3,181.35 L586.8,181.33 L587.3,181.31 L587.8,181.28 L588.3,181.24 L588.8,181.20 L589.3,181.15 L589.8,181.10 L590.3,181.04 L590.8,180.97 L591.3,180.90 L591.8,180.82 L592.3,180.75 L592.8,180.67 L593.3,180.60 L593.8,180.54 L594.3,180.49 L594.8,180.44 L595.3,180.42 L595.8,180.40 L596.3,180.40 L596.8,180.42 L597.3,180.45 L597.8,180.50 L598.3,180.55 L598.8,180.62 L599.3,180.68 L599.8,180.76 L600.3,180.82 L600.8,180.88 L601.3,180.93 L601.8,180.96 L602.3,180.95 L602.8,180.89 L603.3,180.76 L603.8,180.53 L604.3,180.18 L604.8,179.66 L605.3,178.95 L605.8,177.99 L606.3,176.77 L606.8,175.28 L607.3,173.54 L607.8,171.59 L608.3,169.50 L608.8,167.39 L609.3,165.39 L609.8,163.64 L610.3,162.27 L610.8,161.40 L611.3,161.10 L611.8,161.40 L612.3,162.27 L612.8,163.64 L613.3,165.40 L613.8,167.40 L614.3,169.51 L614.8,171.60 L615.3,173.56 L615.8,175.31 L616.3,176.81 L616.8,178.04 L617.3,179.01 L617.8,179.75 L618.3,180.30 L618.8,180.68 L619.3,180.95 L619.8,181.12 L620.3,181.24 L620.8,181.31 L621.3,181.35 L621.8,181.37 L622.3,181.38 L622.8,181.39 L623.0,181.4 L507.3,181.4 Z" fill="url(#spec)" />
<path d="M507.3,181.40 L507.8,181.40 L508.3,181.40 L508.8,181.40 L509.3,181.40 L509.8,181.40 L510.3,181.40 L510.8,181.40 L511.3,181.40 L511.8,181.40 L512.3,181.40 L512.8,181.40 L513.3,181.40 L513.8,181.40 L514.3,181.40 L514.8,181.40 L515.3,181.40 L515.8,181.40 L516.3,181.40 L516.8,181.40 L517.3,181.40 L517.8,181.40 L518.3,181.40 L518.8,181.40 L519.3,181.40 L519.8,181.40 L520.3,181.40 L520.8,181.40 L521.3,181.40 L521.8,181.40 L522.3,181.40 L522.8,181.40 L523.3,181.40 L523.8,181.40 L524.3,181.40 L524.8,181.40 L525.3,181.40 L525.8,181.40 L526.3,181.40 L526.8,181.40 L527.3,181.40 L527.8,181.40 L528.3,181.40 L528.8,181.40 L529.3,181.40 L529.8,181.40 L530.3,181.40 L530.8,181.40 L531.3,181.40 L531.8,181.40 L532.3,181.40 L532.8,181.40 L533.3,181.40 L533.8,181.40 L534.3,181.40 L534.8,181.40 L535.3,181.40 L535.8,181.40 L536.3,181.40 L536.8,181.40 L537.3,181.40 L537.8,181.40 L538.3,181.40 L538.8,181.40 L539.3,181.40 L539.8,181.40 L540.3,181.40 L540.8,181.40 L541.3,181.40 L541.8,181.40 L542.3,181.40 L542.8,181.40 L543.3,181.40 L543.8,181.40 L544.3,181.40 L544.8,181.40 L545.3,181.40 L545.8,181.40 L546.3,181.40 L546.8,181.40 L547.3,181.40 L547.8,181.40 L548.3,181.40 L548.8,181.40 L549.3,181.40 L549.8,181.40 L550.3,181.40 L550.8,181.40 L551.3,181.40 L551.8,181.40 L552.3,181.40 L552.8,181.40 L553.3,181.40 L553.8,181.40 L554.3,181.40 L554.8,181.40 L555.3,181.40 L555.8,181.40 L556.3,181.40 L556.8,181.40 L557.3,181.40 L557.8,181.40 L558.3,181.40 L558.8,181.40 L559.3,181.40 L559.8,181.40 L560.3,181.40 L560.8,181.40 L561.3,181.40 L561.8,181.40 L562.3,181.40 L562.8,181.40 L563.3,181.40 L563.8,181.40 L564.3,181.40 L564.8,181.40 L565.3,181.40 L565.8,181.40 L566.3,181.40 L566.8,181.40 L567.3,181.40 L567.8,181.40 L568.3,181.40 L568.8,181.40 L569.3,181.40 L569.8,181.40 L570.3,181.40 L570.8,181.40 L571.3,181.40 L571.8,181.40 L572.3,181.40 L572.8,181.40 L573.3,181.40 L573.8,181.40 L574.3,181.40 L574.8,181.40 L575.3,181.40 L575.8,181.40 L576.3,181.40 L576.8,181.40 L577.3,181.40 L577.8,181.40 L578.3,181.40 L578.8,181.40 L579.3,181.40 L579.8,181.40 L580.3,181.40 L580.8,181.40 L581.3,181.40 L581.8,181.40 L582.3,181.40 L582.8,181.40 L583.3,181.39 L583.8,181.39 L584.3,181.39 L584.8,181.38 L585.3,181.37 L585.8,181.36 L586.3,181.35 L586.8,181.33 L587.3,181.31 L587.8,181.28 L588.3,181.24 L588.8,181.20 L589.3,181.15 L589.8,181.10 L590.3,181.04 L590.8,180.97 L591.3,180.90 L591.8,180.82 L592.3,180.75 L592.8,180.67 L593.3,180.60 L593.8,180.54 L594.3,180.49 L594.8,180.44 L595.3,180.42 L595.8,180.40 L596.3,180.40 L596.8,180.42 L597.3,180.45 L597.8,180.50 L598.3,180.55 L598.8,180.62 L599.3,180.68 L599.8,180.76 L600.3,180.82 L600.8,180.88 L601.3,180.93 L601.8,180.96 L602.3,180.95 L602.8,180.89 L603.3,180.76 L603.8,180.53 L604.3,180.18 L604.8,179.66 L605.3,178.95 L605.8,177.99 L606.3,176.77 L606.8,175.28 L607.3,173.54 L607.8,171.59 L608.3,169.50 L608.8,167.39 L609.3,165.39 L609.8,163.64 L610.3,162.27 L610.8,161.40 L611.3,161.10 L611.8,161.40 L612.3,162.27 L612.8,163.64 L613.3,165.40 L613.8,167.40 L614.3,169.51 L614.8,171.60 L615.3,173.56 L615.8,175.31 L616.3,176.81 L616.8,178.04 L617.3,179.01 L617.8,179.75 L618.3,180.30 L618.8,180.68 L619.3,180.95 L619.8,181.12 L620.3,181.24 L620.8,181.31 L621.3,181.35 L621.8,181.37 L622.3,181.38 L622.8,181.39" fill="none" stroke="#303030" stroke-width="0.8" />
<line x1="500.60" y1="181.40" x2="501.40" y2="181.40" stroke="#333" stroke-width="0.8" />
<text x="497.30" y="183.10" font-size="10.2" text-anchor="end" ><tspan font-style="italic">Uts2r</tspan><tspan font-size="0.68em" baseline-shift="50%">+</tspan> <tspan font-style="italic">Lox</tspan><tspan font-size="0.68em" baseline-shift="50%">+</tspan> fibrotic cells</text>
<line x1="501.40" y1="4.00" x2="501.40" y2="193.90" stroke="#333" stroke-width="0.9" />
<line x1="501.00" y1="193.50" x2="628.70" y2="193.50" stroke="#333" stroke-width="0.9" />
<line x1="517.20" y1="193.50" x2="517.20" y2="195.60" stroke="#333" stroke-width="0.6" />
<text x="517.20" y="199.20" font-size="2.6" text-anchor="middle" fill="#666" >0</text>
<line x1="550.50" y1="193.50" x2="550.50" y2="195.60" stroke="#333" stroke-width="0.6" />
<text x="550.50" y="199.20" font-size="2.6" text-anchor="middle" fill="#666" >5</text>
<line x1="583.80" y1="193.50" x2="583.80" y2="195.60" stroke="#333" stroke-width="0.6" />
<text x="583.80" y="199.20" font-size="2.6" text-anchor="middle" fill="#666" >10</text>
<line x1="617.00" y1="193.50" x2="617.00" y2="195.60" stroke="#333" stroke-width="0.6" />
<text x="617.00" y="199.20" font-size="2.6" text-anchor="middle" fill="#666" >15</text>
<text x="569.50" y="208.20" font-size="10.2" text-anchor="middle" >Pseudotime</text>
<rect x="633.10" y="89.20" width="4.60" height="23.80" fill="url(#specv)" />
<text x="633.00" y="87.60" font-size="3.0" font-weight="700" >Pseudotime</text>
<text x="639.20" y="91.70" font-size="3.4" fill="#444" >15</text>
<text x="639.20" y="98.60" font-size="3.4" fill="#444" >10</text>
<text x="639.20" y="105.30" font-size="3.4" fill="#444" >5</text>
<text x="639.20" y="112.10" font-size="3.4" fill="#444" >0</text>
<text x="11.00" y="223.80" font-size="12.0" >C</text>
<text x="357.70" y="232.80" font-size="12.6" text-anchor="middle" textLength="232.5" lengthAdjust="spacing" fill="#000" stroke="#000" stroke-width="0.42">Seamless recording of cell proliferation</text>
<text x="40.40" y="269.40" font-size="7.6" >R26-DreER</text>
<line x1="69.00" y1="274.90" x2="178.00" y2="274.90" stroke="#000" stroke-width="1.9" />
<path d="M88.5,269.4 L117.3,269.4 L117.3,280.6 L88.5,280.6 Q82.9,280.6 82.9,275 Q82.9,269.4 88.5,269.4 Z" fill="#fff" stroke="#000" stroke-width="0.8" />
<text x="100.60" y="278.30" font-size="9.1" text-anchor="middle" >CAG</text>
<path d="M125,269.6 L154.5,269.6 L162.8,275.1 L154.5,280.6 L125,280.6 Z" fill="#c9dc3b" />
<text x="140.70" y="278.30" font-size="8.9" text-anchor="middle" fill="#fff" >DreER</text>
<path d="M128.50,295.00 Q128.50,292.80 131.50,292.80 L142.50,292.80 Q145.50,292.80 145.50,290.60 Q145.50,292.80 148.50,292.80 L159.50,292.80 Q162.50,292.80 162.50,295.00" fill="none" stroke="#000" stroke-width="1.9" />
<line x1="51.00" y1="310.00" x2="54.50" y2="310.00" stroke="#000" stroke-width="1.9" />
<line x1="90.30" y1="310.00" x2="178.00" y2="310.00" stroke="#000" stroke-width="1.9" />
<rect x="56.50" y="304.60" width="33.80" height="10.70" fill="#fff" stroke="#666" stroke-width="0.8" rx="1.2"/>
<text x="73.40" y="313.30" font-size="9.3" text-anchor="middle" >Ki67</text>
<rect x="94.30" y="304.10" width="25.50" height="11.60" fill="#b4604e" />
<text x="105.05" y="313.82" font-size="10.9" text-anchor="middle" fill="#fff" >Cre</text>
<path d="M123.80,304.50 L131.70,310.00 L123.80,315.50 Z" fill="#c9dc3b" />
<rect x="133.70" y="304.20" width="25.30" height="11.30" fill="#b4604e" />
<text x="146.35" y="313.77" font-size="10.9" text-anchor="middle" fill="#fff" >ER</text>
<path d="M164.00,304.50 L172.00,310.00 L164.00,315.50 Z" fill="#c9dc3b" />
<text x="40.40" y="326.40" font-size="7.6" >Ki67-CreER</text>
<path d="M183.60,272.00 Q185.60,272.00 185.60,275.00 L185.60,289.25 Q185.60,292.25 187.60,292.25 Q185.60,292.25 185.60,295.25 L185.60,309.50 Q185.60,312.50 183.60,312.50" fill="none" stroke="#000" stroke-width="1.4" />
<path d="M190.8,286.7 L215,286.7 L229.2,292.4 L215,298.1 L190.8,298.1 Z" fill="#fff" stroke="#000" stroke-width="0.7" />
<text x="206.20" y="295.40" font-size="8.2" text-anchor="middle" >Tam</text>
<line x1="233.00" y1="292.70" x2="280.00" y2="292.70" stroke="#000" stroke-width="1.9" />
<rect x="242.50" y="286.60" width="34.20" height="11.40" fill="#fff" stroke="#777" stroke-width="0.8" rx="1.2"/>
<text x="259.60" y="295.72" font-size="9.5" text-anchor="middle" >Ki67</text>
<rect x="280.00" y="286.30" width="25.70" height="12.00" fill="#b4604e" />
<text x="292.85" y="296.22" font-size="10.9" text-anchor="middle" fill="#fff" >Cre</text>
<line x1="305.70" y1="292.70" x2="329.60" y2="292.70" stroke="#000" stroke-width="1.9" />
<path d="M309.00,287.20 L316.40,292.70 L309.00,298.20 Z" fill="#c9dc3b" />
<path d="M274.50,313.00 Q274.50,310.80 277.50,310.80 L289.25,310.80 Q292.25,310.80 292.25,308.60 Q292.25,310.80 295.25,310.80 L307.00,310.80 Q310.00,310.80 310.00,313.00" fill="none" stroke="#000" stroke-width="1.9" />
<path d="M294.70,266.10 L302.80,271.60 L294.70,277.10 Z" fill="#c9dc3b" />
<text x="305.70" y="274.30" font-size="7.7" >rox</text>
<path d="M322.00,266.10 L330.20,271.60 L322.00,277.10 Z" fill="#b4604e" />
<text x="332.40" y="274.30" font-size="7.6" >loxP</text>
<path d="M350.80,292.40 Q352.80,292.40 352.80,295.40 L352.80,306.60 Q352.80,309.60 354.80,309.60 Q352.80,309.60 352.80,312.60 L352.80,323.80 Q352.80,326.80 350.80,326.80" fill="none" stroke="#000" stroke-width="1.4" />
<line x1="356.00" y1="310.80" x2="408.40" y2="310.80" stroke="#000" stroke-width="1.9" />
<path d="M362.00,305.00 L369.60,310.80 L362.00,316.60 Z" fill="#b4604e" />
<rect x="375.10" y="305.30" width="25.20" height="11.00" fill="#72c57e" />
<text x="387.70" y="314.26" font-size="9.6" text-anchor="middle" fill="#2f8a3c" >GFP</text>
<text x="226.60" y="336.40" font-size="7.6" >R26-GFP</text>
<line x1="261.60" y1="334.00" x2="352.80" y2="334.00" stroke="#000" stroke-width="1.9" />
<path d="M270.40,328.40 L278.10,334.00 L270.40,339.60 Z" fill="#b4604e" />
<rect x="281.00" y="328.10" width="25.40" height="12.00" fill="#e5e1df" />
<text x="293.70" y="337.52" font-size="9.5" text-anchor="middle" >Stop</text>
<path d="M308.30,328.40 L316.00,334.00 L308.30,339.60 Z" fill="#b4604e" />
<rect x="320.00" y="328.40" width="24.90" height="11.60" fill="#72c57e" />
<text x="332.45" y="337.66" font-size="9.6" text-anchor="middle" fill="#2f8a3c" >GFP</text>
<text x="549.80" y="250.90" font-size="10.3" text-anchor="middle" textLength="104.5" lengthAdjust="spacing" fill="#000" stroke="#000" stroke-width="0.36">Experimental strategy</text>
<text x="444.20" y="270.40" font-size="7.5" font-weight="700" font-style="italic" >ProTracer mice</text>
<text x="584.50" y="270.70" font-size="7.5" font-weight="700" font-style="italic" >ProTracer Fgf7<tspan font-size="0.6em" dy="-0.45em">-/-</tspan><tspan dy="0.27em"> mice</tspan></text>
<text x="492.20" y="286.70" font-size="7.6" font-style="italic" >R26-DreER</text>
<text x="492.20" y="296.90" font-size="7.6" font-style="italic" >Ki67-CrexER</text>
<text x="492.20" y="307.10" font-size="7.6" font-style="italic" >R26-GFP</text>
<text x="630.60" y="286.70" font-size="7.6" font-style="italic" >R26-DreER</text>
<text x="630.60" y="296.95" font-size="7.6" font-style="italic" >Ki67-CrexER</text>
<text x="630.60" y="307.20" font-size="7.6" font-style="italic" >R26-GFP</text>
<text x="630.60" y="317.45" font-size="7.6" font-style="italic" >Fgf7<tspan font-size="0.6em" dy="-0.45em">-/-</tspan></text>
<text x="560.40" y="297.20" font-size="10.0" text-anchor="middle" >VS</text>
<g transform="translate(438,278)"><path d="M11.2,15.8 C6,16.2 2.5,18.5 3.3,21.5 C4.2,24.8 9,26.2 14,25.9 C20,25.5 25,25.3 29.5,24.8" fill="none" stroke="#c07a72" stroke-width="0.9"/><path d="M17,20.5 L17.6,23.0 L21.8,23.2" fill="none" stroke="#c07a72" stroke-width="1.1"/><path d="M36,20.5 L36.6,22.9 L42.6,23.2" fill="none" stroke="#c07a72" stroke-width="1.1"/><g transform="translate(0,-0.5) scale(1,1.08)"><path d="M11,15 C11,10 16,6.5 22.5,6 C28,5.8 32,6.6 35,7.3 L36.5,5 L38.5,7.6 C41,8.6 44.5,10.8 47.8,12.9 C45.5,14.5 43,15.6 41,16.5 C39.5,18.5 37.5,20.3 35,20.8 C29,21.2 22,21 17,20.5 C12.5,20 11,18 11,15 Z" fill="#b3b3b3"/><path d="M11.2,16 C12,19.5 16,21 22,21 C27,21.2 30,20.8 31,19 C29,18.2 25,17.2 21,17 C17,16.8 13.5,15.5 11.2,14 Z" fill="#9b9b9b"/><ellipse cx="34.6" cy="10.6" rx="2.0" ry="2.9" transform="rotate(-20 34.6 10.6)" fill="#d39a96"/><circle cx="39.7" cy="10.8" r="0.75" fill="#7a3a3a"/><circle cx="47.6" cy="12.9" r="0.7" fill="#e0a0a0"/></g></g>
<g transform="translate(578.3,278)"><path d="M11.2,15.8 C6,16.2 2.5,18.5 3.3,21.5 C4.2,24.8 9,26.2 14,25.9 C20,25.5 25,25.3 29.5,24.8" fill="none" stroke="#c07a72" stroke-width="0.9"/><path d="M17,20.5 L17.6,23.0 L21.8,23.2" fill="none" stroke="#c07a72" stroke-width="1.1"/><path d="M36,20.5 L36.6,22.9 L42.6,23.2" fill="none" stroke="#c07a72" stroke-width="1.1"/><g transform="translate(0,-0.5) scale(1,1.08)"><path d="M11,15 C11,10 16,6.5 22.5,6 C28,5.8 32,6.6 35,7.3 L36.5,5 L38.5,7.6 C41,8.6 44.5,10.8 47.8,12.9 C45.5,14.5 43,15.6 41,16.5 C39.5,18.5 37.5,20.3 35,20.8 C29,21.2 22,21 17,20.5 C12.5,20 11,18 11,15 Z" fill="#b3b3b3"/><path d="M11.2,16 C12,19.5 16,21 22,21 C27,21.2 30,20.8 31,19 C29,18.2 25,17.2 21,17 C17,16.8 13.5,15.5 11.2,14 Z" fill="#9b9b9b"/><ellipse cx="34.6" cy="10.6" rx="2.0" ry="2.9" transform="rotate(-20 34.6 10.6)" fill="#d39a96"/><circle cx="39.7" cy="10.8" r="0.75" fill="#7a3a3a"/><circle cx="47.6" cy="12.9" r="0.7" fill="#e0a0a0"/></g></g>
<rect x="434.00" y="340.10" width="218.00" height="7.60" fill="#fff" stroke="#000" stroke-width="2.0" />
<line x1="437.90" y1="348.50" x2="437.90" y2="354.30" stroke="#000" stroke-width="1.8" />
<line x1="458.43" y1="348.50" x2="458.43" y2="354.30" stroke="#000" stroke-width="1.8" />
<line x1="478.96" y1="348.50" x2="478.96" y2="354.30" stroke="#000" stroke-width="1.8" />
<line x1="499.49" y1="348.50" x2="499.49" y2="354.30" stroke="#000" stroke-width="1.8" />
<line x1="520.02" y1="348.50" x2="520.02" y2="354.30" stroke="#000" stroke-width="1.8" />
<line x1="540.55" y1="348.50" x2="540.55" y2="354.30" stroke="#000" stroke-width="1.8" />
<line x1="561.08" y1="348.50" x2="561.08" y2="354.30" stroke="#000" stroke-width="1.8" />
<line x1="581.61" y1="348.50" x2="581.61" y2="354.30" stroke="#000" stroke-width="1.8" />
<line x1="602.14" y1="348.50" x2="602.14" y2="354.30" stroke="#000" stroke-width="1.8" />
<line x1="622.67" y1="348.50" x2="622.67" y2="354.30" stroke="#000" stroke-width="1.8" />
<line x1="643.20" y1="348.50" x2="643.20" y2="354.30" stroke="#000" stroke-width="1.8" />
<text x="438.20" y="363.80" font-size="8.8" text-anchor="middle" >0</text>
<text x="499.79" y="363.80" font-size="8.8" text-anchor="middle" >3</text>
<text x="540.85" y="363.80" font-size="8.8" text-anchor="middle" >5</text>
<text x="561.38" y="363.80" font-size="8.8" text-anchor="middle" >6</text>
<text x="602.44" y="363.80" font-size="8.8" text-anchor="middle" >8</text>
<text x="643.50" y="363.80" font-size="8.8" text-anchor="middle" >10</text>
<text x="651.00" y="363.70" font-size="10.2" >weeks</text>
<line x1="499.49" y1="329.20" x2="499.49" y2="337.00" stroke="#727272" stroke-width="2.4" />
<path d="M496.29,336.4 L502.69,336.4 L499.49,339.7 Z" fill="#727272" />
<line x1="540.55" y1="329.20" x2="540.55" y2="337.00" stroke="#727272" stroke-width="2.4" />
<path d="M537.35,336.4 L543.75,336.4 L540.55,339.7 Z" fill="#727272" />
<line x1="561.08" y1="329.20" x2="561.08" y2="337.00" stroke="#727272" stroke-width="2.4" />
<path d="M557.88,336.4 L564.28,336.4 L561.08,339.7 Z" fill="#727272" />
<line x1="602.14" y1="329.20" x2="602.14" y2="337.00" stroke="#727272" stroke-width="2.4" />
<path d="M598.94,336.4 L605.34,336.4 L602.14,339.7 Z" fill="#727272" />
<text x="499.50" y="326.30" font-size="8.6" text-anchor="middle" fill="#5cb94a" >Tam</text>
<text x="531.60" y="326.30" font-size="8.4" text-anchor="middle" >Analysis</text>
<text x="565.80" y="326.30" font-size="8.4" text-anchor="middle" >Analysis</text>
<text x="603.00" y="326.30" font-size="8.4" text-anchor="middle" >Analysis</text>
<text x="11.10" y="388.30" font-size="12.0" >D</text>
<text x="239.90" y="388.20" font-size="13.0" text-anchor="middle" >8w AT</text>
<text x="88.60" y="411.90" font-size="12.6" text-anchor="middle" fill="#3a4ec6" >DAPI</text>
<text x="160.90" y="411.90" font-size="12.6" text-anchor="middle" fill="#5ec63c" >GFP</text>
<text x="239.80" y="411.90" font-size="12.6" text-anchor="middle" fill="#d42222" >UTS2R</text>
<text x="318.80" y="411.90" font-size="12.6" text-anchor="middle" fill="#9a9a9a" >LOX</text>
<text x="394.70" y="411.90" font-size="12.6" text-anchor="middle" >Merge</text>
<text transform="translate(43.2,447.3) rotate(-90)" font-size="12.9" font-style="italic" text-anchor="middle">ProTracer</text>
<text transform="translate(41.8,539.0) rotate(-90)" font-size="12.9" font-style="italic" text-anchor="middle">ProTracer Fgf7<tspan font-size="0.68em" baseline-shift="50%">-/-</tspan></text>
<clipPath id="c1"><rect x="53.90" y="420.00" width="69.00" height="68.80"/></clipPath><g clip-path="url(#c1)">
<rect x="53.90" y="420.00" width="69.00" height="68.80" fill="#000" />
<path d="M57.6,421.6l1.4,3.0M87.6,422.6l1.2,2.6M94.7,421.5l1.8,4.0M103.3,419.0l1.7,3.7M109.5,422.7l1.1,2.4M59.7,433.0l3.0,7.0M69.9,430.5l3.0,6.0M93.5,433.0l4.0,8.0M75.9,443.0l3.0,5.5M88.1,445.5l1.6,3.5M99.2,444.3l1.4,3.1M114.4,450.0l3.0,6.0M113.1,446.0l1.1,2.4M115.8,440.4l1.6,3.4M54.1,453.3l1.1,2.4M70.7,456.7l4.3,8.8M92.5,456.7l4.4,8.8M76.4,468.3l1.5,3.2M64.2,470.8l1.1,2.4M99.3,470.8l1.2,2.5M100.5,466.8l1.5,3.2M117.4,460.0l2.5,5.0M119.3,464.9l1.9,4.1M67.1,478.0l1.2,2.5M83.2,480.1l1.3,2.8M96.8,479.7l1.7,3.7M109.1,481.5l2.1,4.4M56.7,479.7l1.7,3.6M59.7,484.3l1.5,3.2M120.7,474.2l2.1,4.5M80.3,448.8l1.1,2.4M104.9,427.9l2.0,4.2M65.2,446.5l1.4,2.9M83.3,432.7l1.2,2.6M109.3,462.7l1.2,2.5" stroke="#2a1eff" stroke-width="2.6" stroke-linecap="round" fill="none"/>
</g>
<clipPath id="c2"><rect x="130.50" y="420.00" width="69.00" height="68.80"/></clipPath><g clip-path="url(#c2)">
<rect x="130.50" y="420.00" width="69.00" height="68.80" fill="#010401" />
<path d="M170.0,432.1a0.53,0.53 0 1,0 1.07,0a0.53,0.53 0 1,0 -1.07,0M171.8,438.1a0.33,0.33 0 1,0 0.65,0a0.33,0.33 0 1,0 -0.65,0M168.4,429.6a0.47,0.47 0 1,0 0.94,0a0.47,0.47 0 1,0 -0.94,0M169.4,432.2a0.42,0.42 0 1,0 0.84,0a0.42,0.42 0 1,0 -0.84,0M173.1,439.4a0.53,0.53 0 1,0 1.06,0a0.53,0.53 0 1,0 -1.06,0M172.1,435.1a0.42,0.42 0 1,0 0.83,0a0.42,0.42 0 1,0 -0.83,0M174.9,443.1a0.60,0.60 0 1,0 1.21,0a0.60,0.60 0 1,0 -1.21,0M168.5,430.1a0.57,0.57 0 1,0 1.13,0a0.57,0.57 0 1,0 -1.13,0M172.0,438.9a0.43,0.43 0 1,0 0.85,0a0.43,0.43 0 1,0 -0.85,0M171.9,437.9a0.48,0.48 0 1,0 0.96,0a0.48,0.48 0 1,0 -0.96,0M174.2,440.3a0.57,0.57 0 1,0 1.13,0a0.57,0.57 0 1,0 -1.13,0M167.7,427.9a0.70,0.70 0 1,0 1.39,0a0.70,0.70 0 1,0 -1.39,0M173.3,440.9a0.57,0.57 0 1,0 1.13,0a0.57,0.57 0 1,0 -1.13,0M167.7,428.2a0.35,0.35 0 1,0 0.69,0a0.35,0.35 0 1,0 -0.69,0" fill="#124a0c"/>
<path d="M179.4,420.2a0.40,0.40 0 1,0 0.80,0a0.40,0.40 0 1,0 -0.80,0M180.8,422.9a0.48,0.48 0 1,0 0.96,0a0.48,0.48 0 1,0 -0.96,0M181.9,423.7a0.65,0.65 0 1,0 1.29,0a0.65,0.65 0 1,0 -1.29,0M179.5,422.5a0.65,0.65 0 1,0 1.31,0a0.65,0.65 0 1,0 -1.31,0M183.2,428.0a0.39,0.39 0 1,0 0.79,0a0.39,0.39 0 1,0 -0.79,0M179.2,421.9a0.41,0.41 0 1,0 0.81,0a0.41,0.41 0 1,0 -0.81,0M178.5,420.3a0.53,0.53 0 1,0 1.05,0a0.53,0.53 0 1,0 -1.05,0M182.5,427.0a0.55,0.55 0 1,0 1.09,0a0.55,0.55 0 1,0 -1.09,0M182.8,425.8a0.61,0.61 0 1,0 1.22,0a0.61,0.61 0 1,0 -1.22,0M182.7,426.4a0.46,0.46 0 1,0 0.92,0a0.46,0.46 0 1,0 -0.92,0M179.4,420.7a0.33,0.33 0 1,0 0.65,0a0.33,0.33 0 1,0 -0.65,0M180.3,422.1a0.32,0.32 0 1,0 0.64,0a0.32,0.32 0 1,0 -0.64,0M179.2,420.2a0.45,0.45 0 1,0 0.89,0a0.45,0.45 0 1,0 -0.89,0M179.8,419.6a0.36,0.36 0 1,0 0.72,0a0.36,0.36 0 1,0 -0.72,0" fill="#124a0c"/>
<path d="M189.1,445.5a0.35,0.35 0 1,0 0.70,0a0.35,0.35 0 1,0 -0.70,0M192.9,456.9a0.49,0.49 0 1,0 0.99,0a0.49,0.49 0 1,0 -0.99,0M189.0,442.0a0.41,0.41 0 1,0 0.81,0a0.41,0.41 0 1,0 -0.81,0M192.0,456.7a0.68,0.68 0 1,0 1.36,0a0.68,0.68 0 1,0 -1.36,0M191.3,451.2a0.31,0.31 0 1,0 0.62,0a0.31,0.31 0 1,0 -0.62,0M191.7,450.4a0.58,0.58 0 1,0 1.16,0a0.58,0.58 0 1,0 -1.16,0M189.0,445.5a0.61,0.61 0 1,0 1.22,0a0.61,0.61 0 1,0 -1.22,0M190.9,450.1a0.39,0.39 0 1,0 0.78,0a0.39,0.39 0 1,0 -0.78,0M193.1,456.1a0.62,0.62 0 1,0 1.24,0a0.62,0.62 0 1,0 -1.24,0M192.1,455.9a0.51,0.51 0 1,0 1.01,0a0.51,0.51 0 1,0 -1.01,0M190.0,447.1a0.41,0.41 0 1,0 0.82,0a0.41,0.41 0 1,0 -0.82,0M188.8,443.8a0.48,0.48 0 1,0 0.96,0a0.48,0.48 0 1,0 -0.96,0M194.2,458.6a0.45,0.45 0 1,0 0.89,0a0.45,0.45 0 1,0 -0.89,0M189.3,444.8a0.38,0.38 0 1,0 0.76,0a0.38,0.38 0 1,0 -0.76,0" fill="#124a0c"/>
<path d="M136.7,441.8a0.49,0.49 0 1,0 0.98,0a0.49,0.49 0 1,0 -0.98,0M135.9,442.8a0.56,0.56 0 1,0 1.13,0a0.56,0.56 0 1,0 -1.13,0M137.7,447.2a0.49,0.49 0 1,0 0.98,0a0.49,0.49 0 1,0 -0.98,0M133.1,433.0a0.62,0.62 0 1,0 1.24,0a0.62,0.62 0 1,0 -1.24,0M137.2,449.8a0.68,0.68 0 1,0 1.36,0a0.68,0.68 0 1,0 -1.36,0M136.6,444.8a0.36,0.36 0 1,0 0.72,0a0.36,0.36 0 1,0 -0.72,0M137.4,447.8a0.63,0.63 0 1,0 1.26,0a0.63,0.63 0 1,0 -1.26,0M137.6,449.1a0.52,0.52 0 1,0 1.04,0a0.52,0.52 0 1,0 -1.04,0M134.3,432.8a0.56,0.56 0 1,0 1.12,0a0.56,0.56 0 1,0 -1.12,0M135.6,440.3a0.65,0.65 0 1,0 1.30,0a0.65,0.65 0 1,0 -1.30,0M137.2,447.0a0.42,0.42 0 1,0 0.83,0a0.42,0.42 0 1,0 -0.83,0M133.1,434.6a0.47,0.47 0 1,0 0.94,0a0.47,0.47 0 1,0 -0.94,0M133.3,432.3a0.48,0.48 0 1,0 0.97,0a0.48,0.48 0 1,0 -0.97,0M135.8,441.3a0.67,0.67 0 1,0 1.33,0a0.67,0.67 0 1,0 -1.33,0" fill="#124a0c"/>
<path d="M152.5,432.4a0.31,0.31 0 1,0 0.61,0a0.31,0.31 0 1,0 -0.61,0M152.5,431.7a0.62,0.62 0 1,0 1.24,0a0.62,0.62 0 1,0 -1.24,0M150.1,427.7a0.52,0.52 0 1,0 1.05,0a0.52,0.52 0 1,0 -1.05,0M151.1,429.8a0.61,0.61 0 1,0 1.23,0a0.61,0.61 0 1,0 -1.23,0M150.3,426.4a0.41,0.41 0 1,0 0.82,0a0.41,0.41 0 1,0 -0.82,0M153.8,436.5a0.60,0.60 0 1,0 1.21,0a0.60,0.60 0 1,0 -1.21,0M154.7,439.0a0.50,0.50 0 1,0 1.00,0a0.50,0.50 0 1,0 -1.00,0M152.8,432.1a0.51,0.51 0 1,0 1.03,0a0.51,0.51 0 1,0 -1.03,0M153.6,431.8a0.65,0.65 0 1,0 1.30,0a0.65,0.65 0 1,0 -1.30,0M155.4,439.9a0.68,0.68 0 1,0 1.35,0a0.68,0.68 0 1,0 -1.35,0M155.3,437.8a0.48,0.48 0 1,0 0.95,0a0.48,0.48 0 1,0 -0.95,0M150.4,426.3a0.57,0.57 0 1,0 1.14,0a0.57,0.57 0 1,0 -1.14,0M154.9,436.5a0.59,0.59 0 1,0 1.17,0a0.59,0.59 0 1,0 -1.17,0M154.5,435.9a0.69,0.69 0 1,0 1.37,0a0.69,0.69 0 1,0 -1.37,0" fill="#124a0c"/>
<path d="M176.3,464.2a0.49,0.49 0 1,0 0.99,0a0.49,0.49 0 1,0 -0.99,0M182.1,479.5a0.47,0.47 0 1,0 0.95,0a0.47,0.47 0 1,0 -0.95,0M178.0,470.6a0.43,0.43 0 1,0 0.85,0a0.43,0.43 0 1,0 -0.85,0M180.6,474.5a0.48,0.48 0 1,0 0.95,0a0.48,0.48 0 1,0 -0.95,0M173.7,461.1a0.50,0.50 0 1,0 1.01,0a0.50,0.50 0 1,0 -1.01,0M175.4,461.2a0.69,0.69 0 1,0 1.38,0a0.69,0.69 0 1,0 -1.38,0M174.7,462.3a0.61,0.61 0 1,0 1.22,0a0.61,0.61 0 1,0 -1.22,0M176.4,465.9a0.66,0.66 0 1,0 1.33,0a0.66,0.66 0 1,0 -1.33,0M180.4,476.7a0.67,0.67 0 1,0 1.34,0a0.67,0.67 0 1,0 -1.34,0M178.7,471.2a0.32,0.32 0 1,0 0.65,0a0.32,0.32 0 1,0 -0.65,0M179.1,473.9a0.68,0.68 0 1,0 1.35,0a0.68,0.68 0 1,0 -1.35,0M179.0,472.5a0.64,0.64 0 1,0 1.28,0a0.64,0.64 0 1,0 -1.28,0M175.0,460.8a0.44,0.44 0 1,0 0.87,0a0.44,0.44 0 1,0 -0.87,0M179.0,470.9a0.35,0.35 0 1,0 0.70,0a0.35,0.35 0 1,0 -0.70,0" fill="#124a0c"/>
<path d="M164.4,471.9a0.36,0.36 0 1,0 0.73,0a0.36,0.36 0 1,0 -0.73,0M160.6,461.6a0.42,0.42 0 1,0 0.84,0a0.42,0.42 0 1,0 -0.84,0M166.0,477.4a0.37,0.37 0 1,0 0.74,0a0.37,0.37 0 1,0 -0.74,0M163.4,467.7a0.31,0.31 0 1,0 0.61,0a0.31,0.31 0 1,0 -0.61,0M165.5,476.0a0.49,0.49 0 1,0 0.98,0a0.49,0.49 0 1,0 -0.98,0M168.4,481.2a0.47,0.47 0 1,0 0.95,0a0.47,0.47 0 1,0 -0.95,0M164.3,470.4a0.50,0.50 0 1,0 1.01,0a0.50,0.50 0 1,0 -1.01,0M165.9,475.1a0.63,0.63 0 1,0 1.27,0a0.63,0.63 0 1,0 -1.27,0M165.3,475.1a0.44,0.44 0 1,0 0.88,0a0.44,0.44 0 1,0 -0.88,0M160.5,461.4a0.60,0.60 0 1,0 1.19,0a0.60,0.60 0 1,0 -1.19,0M162.0,465.8a0.64,0.64 0 1,0 1.27,0a0.64,0.64 0 1,0 -1.27,0M166.8,478.7a0.40,0.40 0 1,0 0.79,0a0.40,0.40 0 1,0 -0.79,0M162.0,466.5a0.48,0.48 0 1,0 0.96,0a0.48,0.48 0 1,0 -0.96,0M163.7,465.4a0.52,0.52 0 1,0 1.04,0a0.52,0.52 0 1,0 -1.04,0" fill="#124a0c"/>
<path d="M169.9,431.4a0.48,0.48 0 1,0 0.96,0a0.48,0.48 0 1,0 -0.96,0M167.2,428.2a0.55,0.55 0 1,0 1.10,0a0.55,0.55 0 1,0 -1.10,0M169.1,430.9a0.43,0.43 0 1,0 0.86,0a0.43,0.43 0 1,0 -0.86,0M168.4,429.3a0.31,0.31 0 1,0 0.62,0a0.31,0.31 0 1,0 -0.62,0M169.8,433.1a0.56,0.56 0 1,0 1.13,0a0.56,0.56 0 1,0 -1.13,0M172.3,438.5a0.74,0.74 0 1,0 1.48,0a0.74,0.74 0 1,0 -1.48,0M169.9,435.0a0.37,0.37 0 1,0 0.75,0a0.37,0.37 0 1,0 -0.75,0M172.5,438.7a0.72,0.72 0 1,0 1.44,0a0.72,0.72 0 1,0 -1.44,0M173.2,440.8a0.71,0.71 0 1,0 1.41,0a0.71,0.71 0 1,0 -1.41,0M167.9,429.8a0.72,0.72 0 1,0 1.43,0a0.72,0.72 0 1,0 -1.43,0" fill="#2a7a18"/>
<ellipse cx="148.8" cy="461.5" rx="2.6" ry="6.5" transform="rotate(-24 148.8 461.5)" fill="#46f020"/>
<ellipse cx="156.3" cy="476.2" rx="2.4" ry="8.0" transform="rotate(-24 156.3 476.2)" fill="#46f020"/>
<path d="M147.0,457.0l3.5,9.0M154.5,471.0l4.0,10.0" stroke="#90ff70" stroke-width="1.2" stroke-linecap="round" fill="none"/>
<circle cx="159.60" cy="464.80" r="0.90" fill="#3ac020" />
<circle cx="199.00" cy="471.00" r="1.20" fill="#40d020" />
<circle cx="181.10" cy="423.00" r="1.00" fill="#3ab020" />
<circle cx="192.70" cy="459.00" r="0.80" fill="#2a9018" />
</g>
<clipPath id="c3"><rect x="207.20" y="420.00" width="69.00" height="68.80"/></clipPath><g clip-path="url(#c3)">
<rect x="207.20" y="420.00" width="69.00" height="68.80" fill="#000" />
<path d="M230.1,443.5a0.66,0.66 0 1,0 1.31,0a0.66,0.66 0 1,0 -1.31,0M226.8,440.5a0.31,0.31 0 1,0 0.62,0a0.31,0.31 0 1,0 -0.62,0M213.6,426.1a0.63,0.63 0 1,0 1.27,0a0.63,0.63 0 1,0 -1.27,0M223.0,436.7a0.57,0.57 0 1,0 1.14,0a0.57,0.57 0 1,0 -1.14,0M223.9,435.7a0.60,0.60 0 1,0 1.20,0a0.60,0.60 0 1,0 -1.20,0M221.6,435.8a0.33,0.33 0 1,0 0.65,0a0.33,0.33 0 1,0 -0.65,0M228.2,443.0a0.41,0.41 0 1,0 0.81,0a0.41,0.41 0 1,0 -0.81,0M228.2,443.8a0.69,0.69 0 1,0 1.38,0a0.69,0.69 0 1,0 -1.38,0M221.6,436.5a0.57,0.57 0 1,0 1.15,0a0.57,0.57 0 1,0 -1.15,0M228.1,442.6a0.33,0.33 0 1,0 0.66,0a0.33,0.33 0 1,0 -0.66,0M214.4,427.6a0.42,0.42 0 1,0 0.84,0a0.42,0.42 0 1,0 -0.84,0M224.6,437.9a0.41,0.41 0 1,0 0.82,0a0.41,0.41 0 1,0 -0.82,0M226.2,439.6a0.42,0.42 0 1,0 0.83,0a0.42,0.42 0 1,0 -0.83,0M222.2,436.7a0.35,0.35 0 1,0 0.69,0a0.35,0.35 0 1,0 -0.69,0M232.4,449.4a0.67,0.67 0 1,0 1.35,0a0.67,0.67 0 1,0 -1.35,0M209.5,422.9a0.69,0.69 0 1,0 1.37,0a0.69,0.69 0 1,0 -1.37,0M221.2,435.2a0.68,0.68 0 1,0 1.36,0a0.68,0.68 0 1,0 -1.36,0M215.4,427.7a0.51,0.51 0 1,0 1.02,0a0.51,0.51 0 1,0 -1.02,0M234.3,449.9a0.50,0.50 0 1,0 1.01,0a0.50,0.50 0 1,0 -1.01,0M231.3,446.2a0.66,0.66 0 1,0 1.32,0a0.66,0.66 0 1,0 -1.32,0M222.4,435.6a0.50,0.50 0 1,0 0.99,0a0.50,0.50 0 1,0 -0.99,0M221.4,435.1a0.44,0.44 0 1,0 0.88,0a0.44,0.44 0 1,0 -0.88,0M218.2,430.8a0.60,0.60 0 1,0 1.20,0a0.60,0.60 0 1,0 -1.20,0M231.9,446.9a0.59,0.59 0 1,0 1.17,0a0.59,0.59 0 1,0 -1.17,0M231.8,448.1a0.46,0.46 0 1,0 0.91,0a0.46,0.46 0 1,0 -0.91,0M233.6,449.5a0.47,0.47 0 1,0 0.94,0a0.47,0.47 0 1,0 -0.94,0M217.6,429.8a0.63,0.63 0 1,0 1.27,0a0.63,0.63 0 1,0 -1.27,0M218.3,429.7a0.41,0.41 0 1,0 0.81,0a0.41,0.41 0 1,0 -0.81,0M223.0,437.1a0.68,0.68 0 1,0 1.36,0a0.68,0.68 0 1,0 -1.36,0M231.9,445.6a0.67,0.67 0 1,0 1.33,0a0.67,0.67 0 1,0 -1.33,0M231.7,447.9a0.32,0.32 0 1,0 0.64,0a0.32,0.32 0 1,0 -0.64,0M226.5,443.0a0.56,0.56 0 1,0 1.12,0a0.56,0.56 0 1,0 -1.12,0M219.7,430.6a0.35,0.35 0 1,0 0.70,0a0.35,0.35 0 1,0 -0.70,0M221.4,435.9a0.60,0.60 0 1,0 1.19,0a0.60,0.60 0 1,0 -1.19,0M233.7,450.6a0.42,0.42 0 1,0 0.84,0a0.42,0.42 0 1,0 -0.84,0M223.6,437.9a0.36,0.36 0 1,0 0.73,0a0.36,0.36 0 1,0 -0.73,0M216.8,427.2a0.39,0.39 0 1,0 0.78,0a0.39,0.39 0 1,0 -0.78,0M233.2,447.4a0.36,0.36 0 1,0 0.71,0a0.36,0.36 0 1,0 -0.71,0M216.3,427.8a0.34,0.34 0 1,0 0.67,0a0.34,0.34 0 1,0 -0.67,0M216.3,429.9a0.65,0.65 0 1,0 1.31,0a0.65,0.65 0 1,0 -1.31,0" fill="#660a06"/>
<path d="M250.4,440.0a0.51,0.51 0 1,0 1.02,0a0.51,0.51 0 1,0 -1.02,0M245.1,431.1a0.41,0.41 0 1,0 0.82,0a0.41,0.41 0 1,0 -0.82,0M255.5,445.4a0.55,0.55 0 1,0 1.10,0a0.55,0.55 0 1,0 -1.10,0M253.3,442.9a0.40,0.40 0 1,0 0.80,0a0.40,0.40 0 1,0 -0.80,0M243.3,432.1a0.64,0.64 0 1,0 1.28,0a0.64,0.64 0 1,0 -1.28,0M253.4,442.5a0.58,0.58 0 1,0 1.17,0a0.58,0.58 0 1,0 -1.17,0M252.6,443.2a0.30,0.30 0 1,0 0.60,0a0.30,0.30 0 1,0 -0.60,0M246.7,430.4a0.64,0.64 0 1,0 1.28,0a0.64,0.64 0 1,0 -1.28,0M255.0,445.2a0.36,0.36 0 1,0 0.72,0a0.36,0.36 0 1,0 -0.72,0M246.5,432.3a0.59,0.59 0 1,0 1.18,0a0.59,0.59 0 1,0 -1.18,0M249.6,436.2a0.52,0.52 0 1,0 1.04,0a0.52,0.52 0 1,0 -1.04,0M239.6,422.3a0.67,0.67 0 1,0 1.34,0a0.67,0.67 0 1,0 -1.34,0M249.5,437.5a0.40,0.40 0 1,0 0.80,0a0.40,0.40 0 1,0 -0.80,0M249.4,436.5a0.33,0.33 0 1,0 0.66,0a0.33,0.33 0 1,0 -0.66,0M246.9,433.8a0.39,0.39 0 1,0 0.78,0a0.39,0.39 0 1,0 -0.78,0M249.6,436.1a0.48,0.48 0 1,0 0.97,0a0.48,0.48 0 1,0 -0.97,0M253.5,443.0a0.49,0.49 0 1,0 0.98,0a0.49,0.49 0 1,0 -0.98,0M242.8,429.8a0.58,0.58 0 1,0 1.16,0a0.58,0.58 0 1,0 -1.16,0M245.0,429.3a0.57,0.57 0 1,0 1.14,0a0.57,0.57 0 1,0 -1.14,0M245.6,433.2a0.67,0.67 0 1,0 1.34,0a0.67,0.67 0 1,0 -1.34,0M243.5,427.5a0.47,0.47 0 1,0 0.94,0a0.47,0.47 0 1,0 -0.94,0M250.5,439.5a0.60,0.60 0 1,0 1.19,0a0.60,0.60 0 1,0 -1.19,0M248.0,436.1a0.42,0.42 0 1,0 0.85,0a0.42,0.42 0 1,0 -0.85,0M252.3,441.8a0.60,0.60 0 1,0 1.21,0a0.60,0.60 0 1,0 -1.21,0M244.9,428.6a0.37,0.37 0 1,0 0.75,0a0.37,0.37 0 1,0 -0.75,0M241.3,427.9a0.68,0.68 0 1,0 1.36,0a0.68,0.68 0 1,0 -1.36,0M240.7,425.8a0.69,0.69 0 1,0 1.38,0a0.69,0.69 0 1,0 -1.38,0M241.7,425.4a0.46,0.46 0 1,0 0.91,0a0.46,0.46 0 1,0 -0.91,0M254.5,442.0a0.70,0.70 0 1,0 1.40,0a0.70,0.70 0 1,0 -1.40,0M253.7,444.3a0.67,0.67 0 1,0 1.35,0a0.67,0.67 0 1,0 -1.35,0M252.5,439.7a0.45,0.45 0 1,0 0.90,0a0.45,0.45 0 1,0 -0.90,0M245.0,431.2a0.30,0.30 0 1,0 0.60,0a0.30,0.30 0 1,0 -0.60,0M242.4,430.4a0.35,0.35 0 1,0 0.70,0a0.35,0.35 0 1,0 -0.70,0M254.8,445.4a0.63,0.63 0 1,0 1.26,0a0.63,0.63 0 1,0 -1.26,0M252.1,441.4a0.49,0.49 0 1,0 0.98,0a0.49,0.49 0 1,0 -0.98,0M245.6,430.4a0.45,0.45 0 1,0 0.89,0a0.45,0.45 0 1,0 -0.89,0M254.4,443.2a0.62,0.62 0 1,0 1.25,0a0.62,0.62 0 1,0 -1.25,0M251.9,440.0a0.33,0.33 0 1,0 0.65,0a0.33,0.33 0 1,0 -0.65,0M253.8,445.0a0.66,0.66 0 1,0 1.32,0a0.66,0.66 0 1,0 -1.32,0M244.2,432.2a0.55,0.55 0 1,0 1.09,0a0.55,0.55 0 1,0 -1.09,0M243.2,427.4a0.41,0.41 0 1,0 0.82,0a0.41,0.41 0 1,0 -0.82,0M239.1,420.1a0.55,0.55 0 1,0 1.11,0a0.55,0.55 0 1,0 -1.11,0M255.0,444.2a0.49,0.49 0 1,0 0.98,0a0.49,0.49 0 1,0 -0.98,0M255.5,444.1a0.40,0.40 0 1,0 0.80,0a0.40,0.40 0 1,0 -0.80,0M244.1,432.1a0.37,0.37 0 1,0 0.75,0a0.37,0.37 0 1,0 -0.75,0" fill="#901610"/>
<path d="M236.9,476.9a0.61,0.61 0 1,0 1.22,0a0.61,0.61 0 1,0 -1.22,0M232.7,472.9a0.44,0.44 0 1,0 0.89,0a0.44,0.44 0 1,0 -0.89,0M237.2,478.2a0.60,0.60 0 1,0 1.20,0a0.60,0.60 0 1,0 -1.20,0M225.7,460.6a0.52,0.52 0 1,0 1.04,0a0.52,0.52 0 1,0 -1.04,0M228.8,462.8a0.70,0.70 0 1,0 1.39,0a0.70,0.70 0 1,0 -1.39,0M226.2,461.2a0.50,0.50 0 1,0 1.00,0a0.50,0.50 0 1,0 -1.00,0M234.6,475.8a0.47,0.47 0 1,0 0.93,0a0.47,0.47 0 1,0 -0.93,0M232.5,471.3a0.64,0.64 0 1,0 1.28,0a0.64,0.64 0 1,0 -1.28,0M235.6,475.3a0.42,0.42 0 1,0 0.84,0a0.42,0.42 0 1,0 -0.84,0M231.3,471.9a0.38,0.38 0 1,0 0.76,0a0.38,0.38 0 1,0 -0.76,0M225.4,461.0a0.65,0.65 0 1,0 1.31,0a0.65,0.65 0 1,0 -1.31,0M231.8,472.1a0.70,0.70 0 1,0 1.39,0a0.70,0.70 0 1,0 -1.39,0M231.1,470.6a0.56,0.56 0 1,0 1.12,0a0.56,0.56 0 1,0 -1.12,0M241.8,485.3a0.63,0.63 0 1,0 1.26,0a0.63,0.63 0 1,0 -1.26,0M238.3,479.7a0.42,0.42 0 1,0 0.83,0a0.42,0.42 0 1,0 -0.83,0M223.7,458.5a0.53,0.53 0 1,0 1.07,0a0.53,0.53 0 1,0 -1.07,0M238.6,484.0a0.48,0.48 0 1,0 0.96,0a0.48,0.48 0 1,0 -0.96,0M226.3,458.7a0.34,0.34 0 1,0 0.68,0a0.34,0.34 0 1,0 -0.68,0M232.4,471.4a0.45,0.45 0 1,0 0.89,0a0.45,0.45 0 1,0 -0.89,0M223.4,457.7a0.54,0.54 0 1,0 1.08,0a0.54,0.54 0 1,0 -1.08,0M234.1,473.8a0.43,0.43 0 1,0 0.86,0a0.43,0.43 0 1,0 -0.86,0M235.0,475.2a0.38,0.38 0 1,0 0.76,0a0.38,0.38 0 1,0 -0.76,0M236.8,478.2a0.34,0.34 0 1,0 0.68,0a0.34,0.34 0 1,0 -0.68,0M227.5,464.9a0.34,0.34 0 1,0 0.67,0a0.34,0.34 0 1,0 -0.67,0M223.5,456.9a0.41,0.41 0 1,0 0.83,0a0.41,0.41 0 1,0 -0.83,0M227.5,462.2a0.53,0.53 0 1,0 1.05,0a0.53,0.53 0 1,0 -1.05,0M226.0,464.9a0.70,0.70 0 1,0 1.40,0a0.70,0.70 0 1,0 -1.40,0M228.5,465.6a0.38,0.38 0 1,0 0.76,0a0.38,0.38 0 1,0 -0.76,0M221.1,452.0a0.63,0.63 0 1,0 1.26,0a0.63,0.63 0 1,0 -1.26,0M229.7,465.0a0.37,0.37 0 1,0 0.73,0a0.37,0.37 0 1,0 -0.73,0M219.2,452.5a0.66,0.66 0 1,0 1.33,0a0.66,0.66 0 1,0 -1.33,0M221.5,454.7a0.50,0.50 0 1,0 1.00,0a0.50,0.50 0 1,0 -1.00,0M223.0,458.2a0.67,0.67 0 1,0 1.34,0a0.67,0.67 0 1,0 -1.34,0M220.8,456.0a0.69,0.69 0 1,0 1.37,0a0.69,0.69 0 1,0 -1.37,0M225.8,460.4a0.69,0.69 0 1,0 1.38,0a0.69,0.69 0 1,0 -1.38,0M232.4,468.8a0.46,0.46 0 1,0 0.91,0a0.46,0.46 0 1,0 -0.91,0M238.2,480.7a0.36,0.36 0 1,0 0.73,0a0.36,0.36 0 1,0 -0.73,0M236.8,478.9a0.64,0.64 0 1,0 1.28,0a0.64,0.64 0 1,0 -1.28,0M238.0,480.0a0.46,0.46 0 1,0 0.92,0a0.46,0.46 0 1,0 -0.92,0M230.9,469.6a0.40,0.40 0 1,0 0.80,0a0.40,0.40 0 1,0 -0.80,0M235.7,475.9a0.52,0.52 0 1,0 1.05,0a0.52,0.52 0 1,0 -1.05,0M238.0,477.5a0.35,0.35 0 1,0 0.69,0a0.35,0.35 0 1,0 -0.69,0M231.8,471.6a0.42,0.42 0 1,0 0.84,0a0.42,0.42 0 1,0 -0.84,0M228.2,465.6a0.56,0.56 0 1,0 1.13,0a0.56,0.56 0 1,0 -1.13,0M229.5,467.0a0.55,0.55 0 1,0 1.10,0a0.55,0.55 0 1,0 -1.10,0" fill="#901610"/>
<path d="M267.5,464.2a0.61,0.61 0 1,0 1.22,0a0.61,0.61 0 1,0 -1.22,0M267.6,462.9a0.34,0.34 0 1,0 0.69,0a0.34,0.34 0 1,0 -0.69,0M261.6,455.3a0.48,0.48 0 1,0 0.95,0a0.48,0.48 0 1,0 -0.95,0M269.2,463.4a0.33,0.33 0 1,0 0.67,0a0.33,0.33 0 1,0 -0.67,0M271.5,466.7a0.32,0.32 0 1,0 0.64,0a0.32,0.32 0 1,0 -0.64,0M266.2,464.5a0.35,0.35 0 1,0 0.71,0a0.35,0.35 0 1,0 -0.71,0M274.4,470.4a0.63,0.63 0 1,0 1.25,0a0.63,0.63 0 1,0 -1.25,0M263.8,456.3a0.68,0.68 0 1,0 1.37,0a0.68,0.68 0 1,0 -1.37,0M274.6,473.0a0.67,0.67 0 1,0 1.34,0a0.67,0.67 0 1,0 -1.34,0M260.2,455.0a0.36,0.36 0 1,0 0.73,0a0.36,0.36 0 1,0 -0.73,0M273.5,472.9a0.36,0.36 0 1,0 0.71,0a0.36,0.36 0 1,0 -0.71,0M268.3,462.6a0.41,0.41 0 1,0 0.81,0a0.41,0.41 0 1,0 -0.81,0M267.7,463.2a0.37,0.37 0 1,0 0.75,0a0.37,0.37 0 1,0 -0.75,0M263.5,455.3a0.66,0.66 0 1,0 1.32,0a0.66,0.66 0 1,0 -1.32,0M262.6,455.5a0.51,0.51 0 1,0 1.02,0a0.51,0.51 0 1,0 -1.02,0M268.5,467.2a0.52,0.52 0 1,0 1.04,0a0.52,0.52 0 1,0 -1.04,0M268.9,464.3a0.70,0.70 0 1,0 1.39,0a0.70,0.70 0 1,0 -1.39,0M268.4,466.6a0.41,0.41 0 1,0 0.81,0a0.41,0.41 0 1,0 -0.81,0M274.2,472.8a0.61,0.61 0 1,0 1.21,0a0.61,0.61 0 1,0 -1.21,0M267.6,463.0a0.32,0.32 0 1,0 0.64,0a0.32,0.32 0 1,0 -0.64,0M272.2,470.9a0.69,0.69 0 1,0 1.39,0a0.69,0.69 0 1,0 -1.39,0M268.7,464.0a0.30,0.30 0 1,0 0.60,0a0.30,0.30 0 1,0 -0.60,0M261.3,454.1a0.47,0.47 0 1,0 0.95,0a0.47,0.47 0 1,0 -0.95,0M268.3,462.9a0.39,0.39 0 1,0 0.78,0a0.39,0.39 0 1,0 -0.78,0M270.0,466.1a0.44,0.44 0 1,0 0.88,0a0.44,0.44 0 1,0 -0.88,0M261.2,455.1a0.53,0.53 0 1,0 1.07,0a0.53,0.53 0 1,0 -1.07,0M269.3,466.0a0.49,0.49 0 1,0 0.98,0a0.49,0.49 0 1,0 -0.98,0M262.8,455.0a0.36,0.36 0 1,0 0.72,0a0.36,0.36 0 1,0 -0.72,0M260.2,453.0a0.61,0.61 0 1,0 1.23,0a0.61,0.61 0 1,0 -1.23,0M266.0,461.0a0.56,0.56 0 1,0 1.12,0a0.56,0.56 0 1,0 -1.12,0M267.8,465.3a0.48,0.48 0 1,0 0.96,0a0.48,0.48 0 1,0 -0.96,0M274.0,471.4a0.66,0.66 0 1,0 1.32,0a0.66,0.66 0 1,0 -1.32,0M259.9,453.1a0.40,0.40 0 1,0 0.79,0a0.40,0.40 0 1,0 -0.79,0M260.9,453.5a0.52,0.52 0 1,0 1.04,0a0.52,0.52 0 1,0 -1.04,0M274.6,472.6a0.54,0.54 0 1,0 1.09,0a0.54,0.54 0 1,0 -1.09,0M266.8,461.8a0.37,0.37 0 1,0 0.74,0a0.37,0.37 0 1,0 -0.74,0M264.5,459.2a0.66,0.66 0 1,0 1.31,0a0.66,0.66 0 1,0 -1.31,0M271.7,468.7a0.64,0.64 0 1,0 1.28,0a0.64,0.64 0 1,0 -1.28,0M269.9,468.4a0.48,0.48 0 1,0 0.96,0a0.48,0.48 0 1,0 -0.96,0M264.1,457.5a0.32,0.32 0 1,0 0.63,0a0.32,0.32 0 1,0 -0.63,0" fill="#981a0e"/>
<path d="M254.6,464.7a0.64,0.64 0 1,0 1.28,0a0.64,0.64 0 1,0 -1.28,0M259.2,478.5a0.47,0.47 0 1,0 0.95,0a0.47,0.47 0 1,0 -0.95,0M259.4,479.6a0.56,0.56 0 1,0 1.11,0a0.56,0.56 0 1,0 -1.11,0M262.9,486.8a0.31,0.31 0 1,0 0.61,0a0.31,0.31 0 1,0 -0.61,0M253.8,465.3a0.68,0.68 0 1,0 1.36,0a0.68,0.68 0 1,0 -1.36,0M258.9,480.0a0.43,0.43 0 1,0 0.86,0a0.43,0.43 0 1,0 -0.86,0M254.6,462.5a0.58,0.58 0 1,0 1.15,0a0.58,0.58 0 1,0 -1.15,0M259.6,475.8a0.64,0.64 0 1,0 1.27,0a0.64,0.64 0 1,0 -1.27,0M259.6,476.2a0.59,0.59 0 1,0 1.18,0a0.59,0.59 0 1,0 -1.18,0M257.3,473.7a0.55,0.55 0 1,0 1.10,0a0.55,0.55 0 1,0 -1.10,0M252.2,458.1a0.31,0.31 0 1,0 0.62,0a0.31,0.31 0 1,0 -0.62,0M252.9,458.8a0.36,0.36 0 1,0 0.71,0a0.36,0.36 0 1,0 -0.71,0M252.3,457.2a0.55,0.55 0 1,0 1.11,0a0.55,0.55 0 1,0 -1.11,0M259.0,476.6a0.54,0.54 0 1,0 1.07,0a0.54,0.54 0 1,0 -1.07,0M255.6,465.4a0.66,0.66 0 1,0 1.31,0a0.66,0.66 0 1,0 -1.31,0M252.7,456.5a0.68,0.68 0 1,0 1.36,0a0.68,0.68 0 1,0 -1.36,0M252.3,459.6a0.31,0.31 0 1,0 0.63,0a0.31,0.31 0 1,0 -0.63,0M261.2,480.3a0.63,0.63 0 1,0 1.26,0a0.63,0.63 0 1,0 -1.26,0M258.3,475.3a0.34,0.34 0 1,0 0.68,0a0.34,0.34 0 1,0 -0.68,0M260.0,479.5a0.47,0.47 0 1,0 0.94,0a0.47,0.47 0 1,0 -0.94,0M250.8,457.4a0.59,0.59 0 1,0 1.17,0a0.59,0.59 0 1,0 -1.17,0M254.1,469.1a0.50,0.50 0 1,0 1.00,0a0.50,0.50 0 1,0 -1.00,0M260.8,481.4a0.47,0.47 0 1,0 0.93,0a0.47,0.47 0 1,0 -0.93,0M256.0,468.3a0.58,0.58 0 1,0 1.16,0a0.58,0.58 0 1,0 -1.16,0M257.7,473.9a0.34,0.34 0 1,0 0.67,0a0.34,0.34 0 1,0 -0.67,0M260.7,480.6a0.38,0.38 0 1,0 0.76,0a0.38,0.38 0 1,0 -0.76,0M259.9,478.9a0.50,0.50 0 1,0 0.99,0a0.50,0.50 0 1,0 -0.99,0M256.8,470.2a0.50,0.50 0 1,0 1.00,0a0.50,0.50 0 1,0 -1.00,0M255.0,465.8a0.68,0.68 0 1,0 1.36,0a0.68,0.68 0 1,0 -1.36,0M254.4,465.9a0.50,0.50 0 1,0 1.00,0a0.50,0.50 0 1,0 -1.00,0" fill="#7a0c08"/>
<path d="M207.2,462.6a0.62,0.62 0 1,0 1.23,0a0.62,0.62 0 1,0 -1.23,0M212.6,476.9a0.44,0.44 0 1,0 0.88,0a0.44,0.44 0 1,0 -0.88,0M208.6,471.6a0.33,0.33 0 1,0 0.67,0a0.33,0.33 0 1,0 -0.67,0M214.5,483.2a0.41,0.41 0 1,0 0.81,0a0.41,0.41 0 1,0 -0.81,0M212.9,483.4a0.65,0.65 0 1,0 1.31,0a0.65,0.65 0 1,0 -1.31,0M207.4,466.3a0.60,0.60 0 1,0 1.20,0a0.60,0.60 0 1,0 -1.20,0M212.3,478.9a0.43,0.43 0 1,0 0.86,0a0.43,0.43 0 1,0 -0.86,0M208.6,462.9a0.60,0.60 0 1,0 1.19,0a0.60,0.60 0 1,0 -1.19,0M206.6,465.0a0.53,0.53 0 1,0 1.06,0a0.53,0.53 0 1,0 -1.06,0M206.0,463.7a0.40,0.40 0 1,0 0.79,0a0.40,0.40 0 1,0 -0.79,0M207.6,466.3a0.64,0.64 0 1,0 1.27,0a0.64,0.64 0 1,0 -1.27,0M208.4,464.6a0.43,0.43 0 1,0 0.86,0a0.43,0.43 0 1,0 -0.86,0M211.4,474.3a0.38,0.38 0 1,0 0.75,0a0.38,0.38 0 1,0 -0.75,0M214.3,484.9a0.68,0.68 0 1,0 1.37,0a0.68,0.68 0 1,0 -1.37,0M205.5,464.4a0.62,0.62 0 1,0 1.24,0a0.62,0.62 0 1,0 -1.24,0M212.0,479.3a0.56,0.56 0 1,0 1.11,0a0.56,0.56 0 1,0 -1.11,0M208.0,463.6a0.31,0.31 0 1,0 0.63,0a0.31,0.31 0 1,0 -0.63,0M210.2,469.0a0.50,0.50 0 1,0 1.00,0a0.50,0.50 0 1,0 -1.00,0M211.2,476.6a0.54,0.54 0 1,0 1.08,0a0.54,0.54 0 1,0 -1.08,0M209.9,468.6a0.47,0.47 0 1,0 0.94,0a0.47,0.47 0 1,0 -0.94,0" fill="#6a0a08"/>
<path d="M271.4,430.2a0.39,0.39 0 1,0 0.78,0a0.39,0.39 0 1,0 -0.78,0M273.5,432.5a0.58,0.58 0 1,0 1.16,0a0.58,0.58 0 1,0 -1.16,0M273.0,434.5a0.48,0.48 0 1,0 0.96,0a0.48,0.48 0 1,0 -0.96,0M269.0,426.7a0.47,0.47 0 1,0 0.94,0a0.47,0.47 0 1,0 -0.94,0M272.8,433.3a0.40,0.40 0 1,0 0.80,0a0.40,0.40 0 1,0 -0.80,0M268.9,429.1a0.46,0.46 0 1,0 0.93,0a0.46,0.46 0 1,0 -0.93,0M272.6,432.6a0.56,0.56 0 1,0 1.12,0a0.56,0.56 0 1,0 -1.12,0M271.9,435.1a0.69,0.69 0 1,0 1.38,0a0.69,0.69 0 1,0 -1.38,0M266.4,422.5a0.61,0.61 0 1,0 1.23,0a0.61,0.61 0 1,0 -1.23,0M273.8,437.0a0.53,0.53 0 1,0 1.06,0a0.53,0.53 0 1,0 -1.06,0M270.8,429.6a0.56,0.56 0 1,0 1.11,0a0.56,0.56 0 1,0 -1.11,0M272.2,435.1a0.68,0.68 0 1,0 1.36,0a0.68,0.68 0 1,0 -1.36,0M267.9,424.5a0.61,0.61 0 1,0 1.21,0a0.61,0.61 0 1,0 -1.21,0M268.7,423.9a0.32,0.32 0 1,0 0.65,0a0.32,0.32 0 1,0 -0.65,0M268.8,426.5a0.47,0.47 0 1,0 0.93,0a0.47,0.47 0 1,0 -0.93,0M269.9,427.9a0.41,0.41 0 1,0 0.81,0a0.41,0.41 0 1,0 -0.81,0" fill="#6a0a08"/>
<path d="M228.8,423.9a0.51,0.51 0 1,0 1.02,0a0.51,0.51 0 1,0 -1.02,0M229.3,425.1a0.38,0.38 0 1,0 0.77,0a0.38,0.38 0 1,0 -0.77,0M228.2,422.7a0.55,0.55 0 1,0 1.11,0a0.55,0.55 0 1,0 -1.11,0M230.6,430.2a0.69,0.69 0 1,0 1.37,0a0.69,0.69 0 1,0 -1.37,0M229.0,427.1a0.63,0.63 0 1,0 1.25,0a0.63,0.63 0 1,0 -1.25,0M231.2,431.5a0.35,0.35 0 1,0 0.70,0a0.35,0.35 0 1,0 -0.70,0M234.1,438.4a0.41,0.41 0 1,0 0.81,0a0.41,0.41 0 1,0 -0.81,0M230.6,429.7a0.37,0.37 0 1,0 0.75,0a0.37,0.37 0 1,0 -0.75,0M226.7,421.3a0.40,0.40 0 1,0 0.80,0a0.40,0.40 0 1,0 -0.80,0M228.7,427.6a0.55,0.55 0 1,0 1.11,0a0.55,0.55 0 1,0 -1.11,0M231.8,435.4a0.64,0.64 0 1,0 1.28,0a0.64,0.64 0 1,0 -1.28,0M228.1,421.3a0.61,0.61 0 1,0 1.23,0a0.61,0.61 0 1,0 -1.23,0M228.9,423.4a0.31,0.31 0 1,0 0.61,0a0.31,0.31 0 1,0 -0.61,0M228.2,421.8a0.40,0.40 0 1,0 0.80,0a0.40,0.40 0 1,0 -0.80,0" fill="#5a0806"/>
<path d="M223.5,458.7a0.61,0.61 0 1,0 1.22,0a0.61,0.61 0 1,0 -1.22,0M225.4,462.6a0.62,0.62 0 1,0 1.23,0a0.62,0.62 0 1,0 -1.23,0M224.2,458.7a0.61,0.61 0 1,0 1.23,0a0.61,0.61 0 1,0 -1.23,0M227.4,465.0a0.64,0.64 0 1,0 1.27,0a0.64,0.64 0 1,0 -1.27,0M223.5,458.9a0.60,0.60 0 1,0 1.19,0a0.60,0.60 0 1,0 -1.19,0M226.0,462.2a0.41,0.41 0 1,0 0.81,0a0.41,0.41 0 1,0 -0.81,0M224.7,460.6a0.32,0.32 0 1,0 0.65,0a0.32,0.32 0 1,0 -0.65,0M225.9,463.6a0.50,0.50 0 1,0 1.00,0a0.50,0.50 0 1,0 -1.00,0M225.8,464.0a0.64,0.64 0 1,0 1.27,0a0.64,0.64 0 1,0 -1.27,0M224.6,462.7a0.64,0.64 0 1,0 1.27,0a0.64,0.64 0 1,0 -1.27,0M223.8,462.6a0.33,0.33 0 1,0 0.66,0a0.33,0.33 0 1,0 -0.66,0M226.4,465.2a0.54,0.54 0 1,0 1.09,0a0.54,0.54 0 1,0 -1.09,0M227.1,465.6a0.69,0.69 0 1,0 1.39,0a0.69,0.69 0 1,0 -1.39,0M224.7,463.8a0.31,0.31 0 1,0 0.63,0a0.31,0.31 0 1,0 -0.63,0M226.5,465.9a0.64,0.64 0 1,0 1.29,0a0.64,0.64 0 1,0 -1.29,0M224.1,461.9a0.61,0.61 0 1,0 1.22,0a0.61,0.61 0 1,0 -1.22,0M223.4,460.0a0.52,0.52 0 1,0 1.04,0a0.52,0.52 0 1,0 -1.04,0M227.4,468.8a0.46,0.46 0 1,0 0.92,0a0.46,0.46 0 1,0 -0.92,0" fill="#c82416"/>
<path d="M245.4,432.8a0.69,0.69 0 1,0 1.38,0a0.69,0.69 0 1,0 -1.38,0M246.8,433.3a0.43,0.43 0 1,0 0.85,0a0.43,0.43 0 1,0 -0.85,0M243.7,429.2a0.61,0.61 0 1,0 1.23,0a0.61,0.61 0 1,0 -1.23,0M242.7,425.2a0.52,0.52 0 1,0 1.04,0a0.52,0.52 0 1,0 -1.04,0M243.1,426.7a0.38,0.38 0 1,0 0.75,0a0.38,0.38 0 1,0 -0.75,0M247.4,436.5a0.62,0.62 0 1,0 1.23,0a0.62,0.62 0 1,0 -1.23,0M247.5,436.4a0.55,0.55 0 1,0 1.10,0a0.55,0.55 0 1,0 -1.10,0M246.2,433.8a0.39,0.39 0 1,0 0.77,0a0.39,0.39 0 1,0 -0.77,0M245.9,434.3a0.34,0.34 0 1,0 0.68,0a0.34,0.34 0 1,0 -0.68,0M244.6,428.4a0.67,0.67 0 1,0 1.33,0a0.67,0.67 0 1,0 -1.33,0M245.8,434.7a0.61,0.61 0 1,0 1.23,0a0.61,0.61 0 1,0 -1.23,0M246.1,433.3a0.47,0.47 0 1,0 0.94,0a0.47,0.47 0 1,0 -0.94,0M243.7,430.2a0.67,0.67 0 1,0 1.35,0a0.67,0.67 0 1,0 -1.35,0M243.0,426.6a0.35,0.35 0 1,0 0.70,0a0.35,0.35 0 1,0 -0.70,0" fill="#c02214"/>
<path d="M270.0,468.7a0.48,0.48 0 1,0 0.96,0a0.48,0.48 0 1,0 -0.96,0M264.0,458.7a0.68,0.68 0 1,0 1.35,0a0.68,0.68 0 1,0 -1.35,0M272.1,471.8a0.34,0.34 0 1,0 0.68,0a0.34,0.34 0 1,0 -0.68,0M270.1,467.4a0.31,0.31 0 1,0 0.61,0a0.31,0.31 0 1,0 -0.61,0M264.4,457.8a0.69,0.69 0 1,0 1.37,0a0.69,0.69 0 1,0 -1.37,0M265.8,459.0a0.31,0.31 0 1,0 0.61,0a0.31,0.31 0 1,0 -0.61,0M270.6,469.0a0.37,0.37 0 1,0 0.75,0a0.37,0.37 0 1,0 -0.75,0M265.1,457.8a0.64,0.64 0 1,0 1.28,0a0.64,0.64 0 1,0 -1.28,0M271.2,468.6a0.58,0.58 0 1,0 1.17,0a0.58,0.58 0 1,0 -1.17,0M268.6,464.3a0.69,0.69 0 1,0 1.37,0a0.69,0.69 0 1,0 -1.37,0M270.5,468.0a0.56,0.56 0 1,0 1.12,0a0.56,0.56 0 1,0 -1.12,0M271.6,469.7a0.59,0.59 0 1,0 1.18,0a0.59,0.59 0 1,0 -1.18,0M266.6,459.8a0.32,0.32 0 1,0 0.65,0a0.32,0.32 0 1,0 -0.65,0M267.0,462.9a0.57,0.57 0 1,0 1.14,0a0.57,0.57 0 1,0 -1.14,0" fill="#c82416"/>
</g>
<clipPath id="c4"><rect x="283.80" y="420.00" width="69.00" height="68.80"/></clipPath><g clip-path="url(#c4)">
<rect x="283.80" y="420.00" width="69.00" height="68.80" fill="#000" />
<path d="M298.4,456.4a0.49,0.49 0 1,0 0.99,0a0.49,0.49 0 1,0 -0.99,0M300.4,464.8a0.54,0.54 0 1,0 1.07,0a0.54,0.54 0 1,0 -1.07,0M303.3,468.2a0.39,0.39 0 1,0 0.78,0a0.39,0.39 0 1,0 -0.78,0M298.8,455.7a0.55,0.55 0 1,0 1.10,0a0.55,0.55 0 1,0 -1.10,0M297.5,458.6a0.55,0.55 0 1,0 1.10,0a0.55,0.55 0 1,0 -1.10,0M300.5,464.8a0.57,0.57 0 1,0 1.13,0a0.57,0.57 0 1,0 -1.13,0" fill="#141a10"/>
</g>
<clipPath id="c5"><rect x="360.40" y="420.00" width="69.00" height="68.80"/></clipPath><g clip-path="url(#c5)">
<rect x="360.40" y="420.00" width="69.00" height="68.80" fill="#000" />
<path d="M371.9,431.4a0.66,0.66 0 1,0 1.32,0a0.66,0.66 0 1,0 -1.32,0M382.6,444.7a0.41,0.41 0 1,0 0.81,0a0.41,0.41 0 1,0 -0.81,0M372.0,433.0a0.65,0.65 0 1,0 1.31,0a0.65,0.65 0 1,0 -1.31,0M365.5,421.8a0.65,0.65 0 1,0 1.29,0a0.65,0.65 0 1,0 -1.29,0M376.7,439.8a0.62,0.62 0 1,0 1.25,0a0.62,0.62 0 1,0 -1.25,0M380.5,440.7a0.33,0.33 0 1,0 0.67,0a0.33,0.33 0 1,0 -0.67,0M376.7,436.9a0.60,0.60 0 1,0 1.20,0a0.60,0.60 0 1,0 -1.20,0M385.4,449.3a0.57,0.57 0 1,0 1.14,0a0.57,0.57 0 1,0 -1.14,0M374.7,435.7a0.60,0.60 0 1,0 1.20,0a0.60,0.60 0 1,0 -1.20,0M381.6,444.3a0.62,0.62 0 1,0 1.25,0a0.62,0.62 0 1,0 -1.25,0M381.6,444.8a0.66,0.66 0 1,0 1.32,0a0.66,0.66 0 1,0 -1.32,0M383.2,446.6a0.54,0.54 0 1,0 1.07,0a0.54,0.54 0 1,0 -1.07,0M368.4,427.8a0.58,0.58 0 1,0 1.16,0a0.58,0.58 0 1,0 -1.16,0M371.4,431.8a0.51,0.51 0 1,0 1.01,0a0.51,0.51 0 1,0 -1.01,0M370.3,427.0a0.45,0.45 0 1,0 0.90,0a0.45,0.45 0 1,0 -0.90,0M365.4,423.8a0.36,0.36 0 1,0 0.72,0a0.36,0.36 0 1,0 -0.72,0M377.2,439.6a0.31,0.31 0 1,0 0.62,0a0.31,0.31 0 1,0 -0.62,0M366.5,422.8a0.49,0.49 0 1,0 0.99,0a0.49,0.49 0 1,0 -0.99,0M376.9,439.4a0.47,0.47 0 1,0 0.94,0a0.47,0.47 0 1,0 -0.94,0M385.7,446.8a0.69,0.69 0 1,0 1.37,0a0.69,0.69 0 1,0 -1.37,0M370.5,429.3a0.37,0.37 0 1,0 0.74,0a0.37,0.37 0 1,0 -0.74,0M366.8,424.7a0.65,0.65 0 1,0 1.30,0a0.65,0.65 0 1,0 -1.30,0M376.5,434.2a0.33,0.33 0 1,0 0.65,0a0.33,0.33 0 1,0 -0.65,0M377.1,439.0a0.68,0.68 0 1,0 1.37,0a0.68,0.68 0 1,0 -1.37,0M368.4,428.7a0.68,0.68 0 1,0 1.37,0a0.68,0.68 0 1,0 -1.37,0" fill="#8a1010"/>
<path d="M402.0,438.0a0.36,0.36 0 1,0 0.73,0a0.36,0.36 0 1,0 -0.73,0M408.2,444.2a0.32,0.32 0 1,0 0.63,0a0.32,0.32 0 1,0 -0.63,0M394.7,429.4a0.66,0.66 0 1,0 1.32,0a0.66,0.66 0 1,0 -1.32,0M406.7,441.7a0.58,0.58 0 1,0 1.17,0a0.58,0.58 0 1,0 -1.17,0M402.7,436.8a0.36,0.36 0 1,0 0.72,0a0.36,0.36 0 1,0 -0.72,0M405.3,438.9a0.42,0.42 0 1,0 0.84,0a0.42,0.42 0 1,0 -0.84,0M401.5,435.2a0.43,0.43 0 1,0 0.86,0a0.43,0.43 0 1,0 -0.86,0M396.9,428.6a0.37,0.37 0 1,0 0.73,0a0.37,0.37 0 1,0 -0.73,0M396.8,428.5a0.31,0.31 0 1,0 0.61,0a0.31,0.31 0 1,0 -0.61,0M403.3,438.7a0.67,0.67 0 1,0 1.34,0a0.67,0.67 0 1,0 -1.34,0M396.9,426.3a0.66,0.66 0 1,0 1.31,0a0.66,0.66 0 1,0 -1.31,0M393.6,425.3a0.67,0.67 0 1,0 1.34,0a0.67,0.67 0 1,0 -1.34,0M404.8,440.7a0.44,0.44 0 1,0 0.87,0a0.44,0.44 0 1,0 -0.87,0M404.0,441.1a0.36,0.36 0 1,0 0.71,0a0.36,0.36 0 1,0 -0.71,0M396.8,427.6a0.52,0.52 0 1,0 1.04,0a0.52,0.52 0 1,0 -1.04,0M394.7,424.8a0.46,0.46 0 1,0 0.93,0a0.46,0.46 0 1,0 -0.93,0M394.2,427.3a0.43,0.43 0 1,0 0.87,0a0.43,0.43 0 1,0 -0.87,0M393.6,425.9a0.66,0.66 0 1,0 1.32,0a0.66,0.66 0 1,0 -1.32,0M393.9,424.6a0.66,0.66 0 1,0 1.32,0a0.66,0.66 0 1,0 -1.32,0M402.9,438.4a0.41,0.41 0 1,0 0.83,0a0.41,0.41 0 1,0 -0.83,0M396.1,428.7a0.70,0.70 0 1,0 1.39,0a0.70,0.70 0 1,0 -1.39,0M408.3,444.8a0.42,0.42 0 1,0 0.83,0a0.42,0.42 0 1,0 -0.83,0M407.7,443.1a0.42,0.42 0 1,0 0.83,0a0.42,0.42 0 1,0 -0.83,0M409.2,444.7a0.44,0.44 0 1,0 0.87,0a0.44,0.44 0 1,0 -0.87,0M395.8,425.2a0.51,0.51 0 1,0 1.02,0a0.51,0.51 0 1,0 -1.02,0" fill="#a01a10"/>
<path d="M375.1,458.9a0.39,0.39 0 1,0 0.77,0a0.39,0.39 0 1,0 -0.77,0M385.2,471.3a0.61,0.61 0 1,0 1.22,0a0.61,0.61 0 1,0 -1.22,0M388.1,475.8a0.33,0.33 0 1,0 0.67,0a0.33,0.33 0 1,0 -0.67,0M385.1,472.1a0.38,0.38 0 1,0 0.76,0a0.38,0.38 0 1,0 -0.76,0M385.3,470.6a0.53,0.53 0 1,0 1.07,0a0.53,0.53 0 1,0 -1.07,0M378.5,459.3a0.46,0.46 0 1,0 0.93,0a0.46,0.46 0 1,0 -0.93,0M389.7,476.4a0.43,0.43 0 1,0 0.87,0a0.43,0.43 0 1,0 -0.87,0M391.5,479.0a0.31,0.31 0 1,0 0.61,0a0.31,0.31 0 1,0 -0.61,0M390.3,482.3a0.41,0.41 0 1,0 0.81,0a0.41,0.41 0 1,0 -0.81,0M377.4,457.4a0.37,0.37 0 1,0 0.73,0a0.37,0.37 0 1,0 -0.73,0M380.6,464.2a0.51,0.51 0 1,0 1.02,0a0.51,0.51 0 1,0 -1.02,0M381.7,466.7a0.59,0.59 0 1,0 1.17,0a0.59,0.59 0 1,0 -1.17,0M390.5,478.4a0.58,0.58 0 1,0 1.17,0a0.58,0.58 0 1,0 -1.17,0M380.8,464.3a0.65,0.65 0 1,0 1.30,0a0.65,0.65 0 1,0 -1.30,0M391.8,483.5a0.51,0.51 0 1,0 1.02,0a0.51,0.51 0 1,0 -1.02,0M386.6,470.0a0.39,0.39 0 1,0 0.78,0a0.39,0.39 0 1,0 -0.78,0M377.1,458.4a0.63,0.63 0 1,0 1.25,0a0.63,0.63 0 1,0 -1.25,0M374.8,453.8a0.38,0.38 0 1,0 0.76,0a0.38,0.38 0 1,0 -0.76,0M372.3,451.9a0.51,0.51 0 1,0 1.02,0a0.51,0.51 0 1,0 -1.02,0M389.0,476.3a0.59,0.59 0 1,0 1.17,0a0.59,0.59 0 1,0 -1.17,0M374.6,454.2a0.50,0.50 0 1,0 1.00,0a0.50,0.50 0 1,0 -1.00,0M379.6,461.9a0.35,0.35 0 1,0 0.71,0a0.35,0.35 0 1,0 -0.71,0M385.6,471.1a0.53,0.53 0 1,0 1.06,0a0.53,0.53 0 1,0 -1.06,0M389.3,478.1a0.68,0.68 0 1,0 1.35,0a0.68,0.68 0 1,0 -1.35,0M379.5,465.7a0.51,0.51 0 1,0 1.02,0a0.51,0.51 0 1,0 -1.02,0" fill="#a01a10"/>
<path d="M420.4,459.7a0.44,0.44 0 1,0 0.87,0a0.44,0.44 0 1,0 -0.87,0M415.8,457.9a0.69,0.69 0 1,0 1.38,0a0.69,0.69 0 1,0 -1.38,0M426.2,468.0a0.64,0.64 0 1,0 1.28,0a0.64,0.64 0 1,0 -1.28,0M411.3,452.9a0.67,0.67 0 1,0 1.35,0a0.67,0.67 0 1,0 -1.35,0M415.6,457.8a0.45,0.45 0 1,0 0.89,0a0.45,0.45 0 1,0 -0.89,0M421.7,463.6a0.50,0.50 0 1,0 1.00,0a0.50,0.50 0 1,0 -1.00,0M414.6,454.3a0.61,0.61 0 1,0 1.22,0a0.61,0.61 0 1,0 -1.22,0M425.7,470.5a0.65,0.65 0 1,0 1.31,0a0.65,0.65 0 1,0 -1.31,0M427.5,470.9a0.41,0.41 0 1,0 0.81,0a0.41,0.41 0 1,0 -0.81,0M422.7,467.4a0.67,0.67 0 1,0 1.34,0a0.67,0.67 0 1,0 -1.34,0M422.2,466.1a0.47,0.47 0 1,0 0.95,0a0.47,0.47 0 1,0 -0.95,0M426.9,472.7a0.56,0.56 0 1,0 1.12,0a0.56,0.56 0 1,0 -1.12,0M412.8,453.3a0.51,0.51 0 1,0 1.01,0a0.51,0.51 0 1,0 -1.01,0M416.0,457.9a0.36,0.36 0 1,0 0.72,0a0.36,0.36 0 1,0 -0.72,0M415.3,455.2a0.46,0.46 0 1,0 0.93,0a0.46,0.46 0 1,0 -0.93,0M417.2,458.4a0.52,0.52 0 1,0 1.04,0a0.52,0.52 0 1,0 -1.04,0M424.5,468.9a0.56,0.56 0 1,0 1.12,0a0.56,0.56 0 1,0 -1.12,0M415.7,455.3a0.52,0.52 0 1,0 1.04,0a0.52,0.52 0 1,0 -1.04,0M421.4,465.0a0.40,0.40 0 1,0 0.79,0a0.40,0.40 0 1,0 -0.79,0M415.3,456.6a0.53,0.53 0 1,0 1.07,0a0.53,0.53 0 1,0 -1.07,0M412.1,453.7a0.40,0.40 0 1,0 0.79,0a0.40,0.40 0 1,0 -0.79,0M420.3,463.7a0.70,0.70 0 1,0 1.39,0a0.70,0.70 0 1,0 -1.39,0M417.6,457.7a0.33,0.33 0 1,0 0.65,0a0.33,0.33 0 1,0 -0.65,0M425.7,470.4a0.46,0.46 0 1,0 0.91,0a0.46,0.46 0 1,0 -0.91,0M419.6,460.8a0.39,0.39 0 1,0 0.78,0a0.39,0.39 0 1,0 -0.78,0" fill="#b02010"/>
<path d="M415.4,484.3a0.43,0.43 0 1,0 0.87,0a0.43,0.43 0 1,0 -0.87,0M407.4,465.5a0.64,0.64 0 1,0 1.28,0a0.64,0.64 0 1,0 -1.28,0M412.2,480.5a0.60,0.60 0 1,0 1.19,0a0.60,0.60 0 1,0 -1.19,0M411.4,479.0a0.58,0.58 0 1,0 1.17,0a0.58,0.58 0 1,0 -1.17,0M416.3,484.7a0.30,0.30 0 1,0 0.60,0a0.30,0.30 0 1,0 -0.60,0M412.0,478.4a0.69,0.69 0 1,0 1.37,0a0.69,0.69 0 1,0 -1.37,0M409.2,473.9a0.65,0.65 0 1,0 1.30,0a0.65,0.65 0 1,0 -1.30,0M410.5,474.9a0.48,0.48 0 1,0 0.97,0a0.48,0.48 0 1,0 -0.97,0M412.3,478.6a0.52,0.52 0 1,0 1.04,0a0.52,0.52 0 1,0 -1.04,0M407.7,469.0a0.64,0.64 0 1,0 1.28,0a0.64,0.64 0 1,0 -1.28,0M409.4,471.2a0.42,0.42 0 1,0 0.84,0a0.42,0.42 0 1,0 -0.84,0M404.7,459.8a0.34,0.34 0 1,0 0.67,0a0.34,0.34 0 1,0 -0.67,0M414.0,485.2a0.64,0.64 0 1,0 1.27,0a0.64,0.64 0 1,0 -1.27,0M415.5,485.7a0.66,0.66 0 1,0 1.33,0a0.66,0.66 0 1,0 -1.33,0M405.1,456.7a0.50,0.50 0 1,0 1.00,0a0.50,0.50 0 1,0 -1.00,0M414.9,482.5a0.70,0.70 0 1,0 1.40,0a0.70,0.70 0 1,0 -1.40,0M408.8,471.4a0.46,0.46 0 1,0 0.91,0a0.46,0.46 0 1,0 -0.91,0M407.3,466.3a0.68,0.68 0 1,0 1.36,0a0.68,0.68 0 1,0 -1.36,0M411.7,476.2a0.45,0.45 0 1,0 0.90,0a0.45,0.45 0 1,0 -0.90,0M407.5,467.6a0.65,0.65 0 1,0 1.30,0a0.65,0.65 0 1,0 -1.30,0" fill="#801010"/>
<path d="M363.4,420.0l3.0,6.0M376.4,426.0l4.0,8.0M370.4,442.0l4.0,8.0M382.4,446.0l4.0,8.0M394.4,444.0l4.0,8.0M398.4,428.0l4.0,8.0M402.4,450.0l4.0,8.0M412.4,420.0l4.0,6.0M416.4,440.0l4.0,6.0M422.4,452.0l4.0,6.0M420.4,460.0l4.0,8.0M364.4,466.0l4.0,6.0M372.4,474.0l4.0,6.0M388.4,468.0l4.0,8.0M396.4,476.0l4.0,6.0M406.4,470.0l4.0,6.0M380.4,480.0l4.0,8.0M424.4,428.0l3.0,6.0M362.4,450.0l3.0,6.0" stroke="#2a1eff" stroke-width="2.7" stroke-linecap="round" fill="none"/>
<path d="M374.9,452.0l6.5,13.0" stroke="#44ee28" stroke-width="3.4" stroke-linecap="round" fill="none"/>
<path d="M381.9,464.0l6.5,16.0" stroke="#44ee28" stroke-width="3.2" stroke-linecap="round" fill="none"/>
<path d="M376.4,455.0l3.0,6.0" stroke="#c0ffc0" stroke-width="1.2" stroke-linecap="round" fill="none"/>
<path d="M398.4,422.0l8.0,16.0M418.4,450.0l6.0,14.0" stroke="#a08030" stroke-width="1.3" stroke-linecap="round" fill="none" stroke-opacity="0.8"/>
<circle cx="386.40" cy="464.00" r="0.90" fill="#40e020" />
<rect x="407.30" y="483.90" width="20.30" height="3.30" fill="#fff" />
<text x="417.45" y="482.90" font-size="3.3" text-anchor="middle" fill="#fff" >100μm</text>
</g>
<clipPath id="c6"><rect x="53.90" y="501.50" width="69.00" height="68.80"/></clipPath><g clip-path="url(#c6)">
<rect x="53.90" y="501.50" width="69.00" height="68.80" fill="#04041c" />
<path d="M121.3,528.7l4.7,12.4M123.8,517.2l4.5,13.6M60.3,512.7l6.1,18.8M86.2,497.6l6.3,17.6M109.1,564.4l7.3,17.2M59.7,513.4l5.3,13.1M62.0,504.6l5.5,14.6M73.6,566.3l7.2,13.9M79.7,552.2l3.9,11.0M47.5,512.6l6.5,16.9M98.6,506.4l5.1,13.0M68.7,540.1l4.0,13.8M92.0,524.9l4.2,8.5M106.1,502.0l4.0,8.3M87.7,553.1l4.8,14.6M51.6,491.1l7.0,15.7M102.6,520.3l4.2,9.1M55.0,559.6l6.1,13.7M83.3,523.1l2.6,8.3M92.3,564.5l4.7,12.4M66.5,492.3l5.8,18.3M70.7,558.0l7.3,16.2M94.2,564.0l4.0,13.4M65.3,520.0l7.1,15.0M71.7,557.8l4.4,13.1M66.3,505.6l5.3,11.1M120.9,513.5l6.6,13.2M88.0,521.5l5.9,11.4M57.2,555.0l5.2,11.1M62.5,514.7l5.0,9.6M99.2,519.2l3.3,9.3M53.5,510.4l8.0,16.1M80.2,553.4l7.8,15.9M75.5,546.7l3.6,12.0M63.2,563.7l6.0,12.7M81.3,500.5l6.9,14.9M116.1,536.9l5.3,11.2M92.5,505.9l8.2,16.5M87.6,533.8l3.6,10.6M76.6,541.1l6.1,13.5" stroke="#0a0a3a" stroke-width="1.2" stroke-linecap="round" fill="none"/>
<path d="M59.5,503.7l2.0,3.0M72.2,506.3l2.3,8.2M83.9,507.5l3.5,10.5M93.2,502.8l1.2,3.5M100.2,505.2l2.4,5.8M96.7,512.2l2.4,4.7M104.9,515.7l4.7,14.0M67.5,522.7l1.2,5.8M76.9,519.2l1.1,3.5M87.4,518.0l4.7,9.4M117.2,514.0l1.0,2.0M82.7,534.4l1.2,7.0M93.2,534.4l1.2,5.8M95.6,542.5l3.5,7.0M72.2,541.4l8.2,22.2M57.0,547.2l1.2,7.0M86.2,546.1l1.2,4.6M100.2,557.7l2.4,9.4M115.4,548.4l2.3,7.0M60.5,561.2l2.3,7.0M118.9,563.6l2.3,4.6M104.4,562.5l1.0,2.0" stroke="#2a22f8" stroke-width="2.6" stroke-linecap="round" fill="none"/>
</g>
<clipPath id="c7"><rect x="130.50" y="501.50" width="69.00" height="68.80"/></clipPath><g clip-path="url(#c7)">
<rect x="130.50" y="501.50" width="69.00" height="68.80" fill="#020a02" />
<path d="M154.4,498.2l4.6,12.7M149.0,542.6l4.8,11.2M150.6,529.0l7.8,13.9M148.4,509.4l4.6,11.7M143.5,515.4l10.0,26.4M191.2,557.6l5.7,11.3M124.2,539.0l10.1,21.0M152.9,537.3l10.9,21.4M186.0,514.7l10.5,20.0M131.3,555.6l9.0,23.0M127.1,495.2l6.1,11.7M147.7,522.0l4.8,9.7M170.2,499.3l10.5,24.6M178.0,508.7l6.9,17.4M148.8,485.7l9.4,25.0M143.6,488.8l10.5,25.0M128.5,510.8l4.3,11.4M136.9,556.3l12.1,21.9M175.5,516.1l8.6,23.4M142.3,491.7l12.2,26.2M193.4,538.8l8.5,23.3M172.7,527.2l4.1,10.3M152.8,524.2l13.6,25.1M180.7,490.1l8.4,22.6M141.3,525.8l11.2,27.2M165.9,511.9l4.9,10.1M154.4,506.2l7.7,14.3M177.3,542.2l6.7,13.1M159.9,518.8l12.5,25.9M147.2,559.1l5.1,11.8M148.6,550.0l7.5,19.6M135.3,538.5l9.1,20.0M182.5,555.5l5.5,11.0M151.9,508.7l5.0,10.0M137.5,542.8l9.1,16.6M147.6,525.9l8.1,15.2M127.2,484.9l10.7,27.9M127.6,538.7l11.7,27.2M131.0,526.8l8.7,16.5M162.9,485.6l10.8,26.3M169.5,558.6l10.5,20.5M143.9,503.6l3.7,9.9M188.2,514.1l5.2,12.7M188.9,561.9l4.7,12.5M186.2,546.9l7.7,14.6" stroke="#0a220a" stroke-width="1.0" stroke-linecap="round" fill="none"/>
<path d="M187.8,517.8l3.8,8.9M153.0,557.3l4.1,7.3M167.5,539.0l5.2,13.2M193.5,564.6l4.5,10.0M136.1,515.6l5.7,10.3M177.6,505.5l3.3,9.9M131.4,496.5l4.8,9.2M179.5,491.5l4.9,13.6M185.1,526.2l3.3,8.2M164.1,525.7l3.9,8.5M174.1,553.9l7.1,13.3M147.0,526.4l5.1,10.5M140.0,500.3l3.8,8.4M198.5,559.9l4.6,13.9" stroke="#14400e" stroke-width="0.7" stroke-linecap="round" fill="none"/>
<path d="M157.5,501.5 L166.8,522.7 L169.1,532.0 L173.8,543.7 L177.3,555.4 L179.6,567.5" fill="none" stroke="#2a9a14" stroke-width="4.8" stroke-linecap="round" stroke-linejoin="round" opacity="0.35"/>
<path d="M157.5,501.5 L166.8,522.7 L169.1,532.0 L173.8,543.7 L177.3,555.4 L179.6,567.5" fill="none" stroke="#40e020" stroke-width="2.55" stroke-linecap="round" stroke-linejoin="round"/>
<path d="M163.9,519.9a0.44,0.44 0 1,0 0.87,0a0.44,0.44 0 1,0 -0.87,0M162.0,515.0a0.74,0.74 0 1,0 1.49,0a0.74,0.74 0 1,0 -1.49,0M163.5,522.0a0.58,0.58 0 1,0 1.16,0a0.58,0.58 0 1,0 -1.16,0M160.5,508.5a0.51,0.51 0 1,0 1.03,0a0.51,0.51 0 1,0 -1.03,0M162.4,516.1a0.80,0.80 0 1,0 1.59,0a0.80,0.80 0 1,0 -1.59,0M158.8,508.6a0.72,0.72 0 1,0 1.44,0a0.72,0.72 0 1,0 -1.44,0M161.6,514.0a0.51,0.51 0 1,0 1.02,0a0.51,0.51 0 1,0 -1.02,0M164.1,520.1a0.92,0.92 0 1,0 1.83,0a0.92,0.92 0 1,0 -1.83,0M160.9,508.0a0.55,0.55 0 1,0 1.10,0a0.55,0.55 0 1,0 -1.10,0M160.2,511.5a0.74,0.74 0 1,0 1.49,0a0.74,0.74 0 1,0 -1.49,0M156.0,503.7a0.45,0.45 0 1,0 0.90,0a0.45,0.45 0 1,0 -0.90,0M161.9,510.9a0.92,0.92 0 1,0 1.84,0a0.92,0.92 0 1,0 -1.84,0M161.6,510.5a0.47,0.47 0 1,0 0.94,0a0.47,0.47 0 1,0 -0.94,0M165.7,521.8a0.90,0.90 0 1,0 1.80,0a0.90,0.90 0 1,0 -1.80,0M162.3,513.4a0.74,0.74 0 1,0 1.48,0a0.74,0.74 0 1,0 -1.48,0M166.1,520.0a0.43,0.43 0 1,0 0.87,0a0.43,0.43 0 1,0 -0.87,0M158.8,506.7a0.76,0.76 0 1,0 1.51,0a0.76,0.76 0 1,0 -1.51,0M158.1,508.4a0.66,0.66 0 1,0 1.31,0a0.66,0.66 0 1,0 -1.31,0" fill="#48e824"/>
<path d="M165.8,528.7a0.74,0.74 0 1,0 1.48,0a0.74,0.74 0 1,0 -1.48,0M168.7,530.5a0.85,0.85 0 1,0 1.69,0a0.85,0.85 0 1,0 -1.69,0M166.9,523.5a0.90,0.90 0 1,0 1.79,0a0.90,0.90 0 1,0 -1.79,0M164.3,525.7a0.97,0.97 0 1,0 1.94,0a0.97,0.97 0 1,0 -1.94,0M170.1,530.0a0.46,0.46 0 1,0 0.92,0a0.46,0.46 0 1,0 -0.92,0M167.4,527.1a0.96,0.96 0 1,0 1.91,0a0.96,0.96 0 1,0 -1.91,0M167.7,530.0a0.67,0.67 0 1,0 1.34,0a0.67,0.67 0 1,0 -1.34,0M167.6,530.1a0.41,0.41 0 1,0 0.83,0a0.41,0.41 0 1,0 -0.83,0M166.6,522.8a0.73,0.73 0 1,0 1.47,0a0.73,0.73 0 1,0 -1.47,0M166.4,524.0a0.49,0.49 0 1,0 0.97,0a0.49,0.49 0 1,0 -0.97,0M165.6,530.3a0.88,0.88 0 1,0 1.77,0a0.88,0.88 0 1,0 -1.77,0M170.0,531.7a0.49,0.49 0 1,0 0.98,0a0.49,0.49 0 1,0 -0.98,0M169.5,525.3a0.42,0.42 0 1,0 0.84,0a0.42,0.42 0 1,0 -0.84,0M167.6,522.2a0.64,0.64 0 1,0 1.27,0a0.64,0.64 0 1,0 -1.27,0M168.9,529.7a0.64,0.64 0 1,0 1.27,0a0.64,0.64 0 1,0 -1.27,0M167.7,530.4a0.60,0.60 0 1,0 1.20,0a0.60,0.60 0 1,0 -1.20,0M168.5,523.4a0.43,0.43 0 1,0 0.85,0a0.43,0.43 0 1,0 -0.85,0M165.3,525.7a0.75,0.75 0 1,0 1.49,0a0.75,0.75 0 1,0 -1.49,0" fill="#48e824"/>
<path d="M170.1,536.7a0.75,0.75 0 1,0 1.49,0a0.75,0.75 0 1,0 -1.49,0M171.4,536.1a0.99,0.99 0 1,0 1.98,0a0.99,0.99 0 1,0 -1.98,0M170.2,534.4a0.56,0.56 0 1,0 1.13,0a0.56,0.56 0 1,0 -1.13,0M168.4,535.2a0.74,0.74 0 1,0 1.48,0a0.74,0.74 0 1,0 -1.48,0M176.0,536.8a0.42,0.42 0 1,0 0.84,0a0.42,0.42 0 1,0 -0.84,0M171.3,535.3a0.86,0.86 0 1,0 1.73,0a0.86,0.86 0 1,0 -1.73,0M170.5,538.3a0.57,0.57 0 1,0 1.14,0a0.57,0.57 0 1,0 -1.14,0M174.7,538.6a0.81,0.81 0 1,0 1.62,0a0.81,0.81 0 1,0 -1.62,0M170.0,532.9a0.71,0.71 0 1,0 1.41,0a0.71,0.71 0 1,0 -1.41,0M170.2,541.1a0.64,0.64 0 1,0 1.29,0a0.64,0.64 0 1,0 -1.29,0M167.7,533.9a0.99,0.99 0 1,0 1.99,0a0.99,0.99 0 1,0 -1.99,0M170.0,538.5a0.54,0.54 0 1,0 1.08,0a0.54,0.54 0 1,0 -1.08,0M169.9,536.2a0.92,0.92 0 1,0 1.85,0a0.92,0.92 0 1,0 -1.85,0M168.7,538.0a0.58,0.58 0 1,0 1.16,0a0.58,0.58 0 1,0 -1.16,0M170.5,534.5a0.59,0.59 0 1,0 1.17,0a0.59,0.59 0 1,0 -1.17,0M168.3,539.3a0.60,0.60 0 1,0 1.21,0a0.60,0.60 0 1,0 -1.21,0M172.4,542.5a0.51,0.51 0 1,0 1.01,0a0.51,0.51 0 1,0 -1.01,0M172.5,538.7a0.86,0.86 0 1,0 1.73,0a0.86,0.86 0 1,0 -1.73,0" fill="#48e824"/>
<path d="M175.0,548.3a0.69,0.69 0 1,0 1.38,0a0.69,0.69 0 1,0 -1.38,0M176.3,555.4a0.41,0.41 0 1,0 0.83,0a0.41,0.41 0 1,0 -0.83,0M173.6,548.1a0.53,0.53 0 1,0 1.06,0a0.53,0.53 0 1,0 -1.06,0M174.9,550.4a0.92,0.92 0 1,0 1.84,0a0.92,0.92 0 1,0 -1.84,0M175.9,553.7a0.98,0.98 0 1,0 1.96,0a0.98,0.98 0 1,0 -1.96,0M177.5,552.1a0.93,0.93 0 1,0 1.85,0a0.93,0.93 0 1,0 -1.85,0M174.9,548.5a0.72,0.72 0 1,0 1.44,0a0.72,0.72 0 1,0 -1.44,0M174.0,551.2a0.53,0.53 0 1,0 1.05,0a0.53,0.53 0 1,0 -1.05,0M174.3,545.2a0.64,0.64 0 1,0 1.29,0a0.64,0.64 0 1,0 -1.29,0M175.2,552.1a0.65,0.65 0 1,0 1.30,0a0.65,0.65 0 1,0 -1.30,0M172.2,543.2a0.70,0.70 0 1,0 1.39,0a0.70,0.70 0 1,0 -1.39,0M175.4,552.5a0.41,0.41 0 1,0 0.82,0a0.41,0.41 0 1,0 -0.82,0M172.2,552.7a0.43,0.43 0 1,0 0.87,0a0.43,0.43 0 1,0 -0.87,0M175.3,549.5a0.46,0.46 0 1,0 0.91,0a0.46,0.46 0 1,0 -0.91,0M175.6,547.7a0.45,0.45 0 1,0 0.91,0a0.45,0.45 0 1,0 -0.91,0M174.1,554.1a0.75,0.75 0 1,0 1.51,0a0.75,0.75 0 1,0 -1.51,0M174.0,548.4a0.60,0.60 0 1,0 1.20,0a0.60,0.60 0 1,0 -1.20,0M175.4,554.9a0.86,0.86 0 1,0 1.72,0a0.86,0.86 0 1,0 -1.72,0" fill="#48e824"/>
<path d="M177.1,567.4a0.99,0.99 0 1,0 1.97,0a0.99,0.99 0 1,0 -1.97,0M177.0,562.8a0.96,0.96 0 1,0 1.93,0a0.96,0.96 0 1,0 -1.93,0M178.6,557.1a0.79,0.79 0 1,0 1.59,0a0.79,0.79 0 1,0 -1.59,0M175.4,568.4a0.54,0.54 0 1,0 1.07,0a0.54,0.54 0 1,0 -1.07,0M178.9,564.8a0.48,0.48 0 1,0 0.96,0a0.48,0.48 0 1,0 -0.96,0M174.9,556.1a0.51,0.51 0 1,0 1.02,0a0.51,0.51 0 1,0 -1.02,0M178.4,567.5a0.51,0.51 0 1,0 1.01,0a0.51,0.51 0 1,0 -1.01,0M179.4,563.9a0.42,0.42 0 1,0 0.83,0a0.42,0.42 0 1,0 -0.83,0M178.6,569.4a0.70,0.70 0 1,0 1.40,0a0.70,0.70 0 1,0 -1.40,0M176.5,565.5a0.68,0.68 0 1,0 1.35,0a0.68,0.68 0 1,0 -1.35,0M177.8,558.9a0.84,0.84 0 1,0 1.68,0a0.84,0.84 0 1,0 -1.68,0M175.5,554.9a0.92,0.92 0 1,0 1.84,0a0.92,0.92 0 1,0 -1.84,0M175.0,555.5a0.95,0.95 0 1,0 1.90,0a0.95,0.95 0 1,0 -1.90,0M178.1,566.0a0.55,0.55 0 1,0 1.10,0a0.55,0.55 0 1,0 -1.10,0M176.3,559.0a0.52,0.52 0 1,0 1.04,0a0.52,0.52 0 1,0 -1.04,0M177.2,563.5a1.00,1.00 0 1,0 1.99,0a1.00,1.00 0 1,0 -1.99,0M176.0,557.6a0.92,0.92 0 1,0 1.84,0a0.92,0.92 0 1,0 -1.84,0M178.1,568.6a0.89,0.89 0 1,0 1.79,0a0.89,0.89 0 1,0 -1.79,0" fill="#48e824"/>
<path d="M176.1,501.5 L184.3,522.7 L187.8,543.7 L193.7,557.7 L196.5,565.5" fill="none" stroke="#2a9a14" stroke-width="4.0" stroke-linecap="round" stroke-linejoin="round" opacity="0.35"/>
<path d="M176.1,501.5 L184.3,522.7 L187.8,543.7 L193.7,557.7 L196.5,565.5" fill="none" stroke="#40e020" stroke-width="1.9500000000000002" stroke-linecap="round" stroke-linejoin="round"/>
<path d="M176.6,509.1a0.93,0.93 0 1,0 1.87,0a0.93,0.93 0 1,0 -1.87,0M175.9,503.0a0.67,0.67 0 1,0 1.34,0a0.67,0.67 0 1,0 -1.34,0M180.7,513.0a0.93,0.93 0 1,0 1.86,0a0.93,0.93 0 1,0 -1.86,0M179.1,506.0a0.51,0.51 0 1,0 1.02,0a0.51,0.51 0 1,0 -1.02,0M184.1,519.8a0.41,0.41 0 1,0 0.83,0a0.41,0.41 0 1,0 -0.83,0M176.3,503.8a0.95,0.95 0 1,0 1.89,0a0.95,0.95 0 1,0 -1.89,0M176.8,504.0a0.50,0.50 0 1,0 1.00,0a0.50,0.50 0 1,0 -1.00,0M182.0,516.8a0.95,0.95 0 1,0 1.90,0a0.95,0.95 0 1,0 -1.90,0M184.8,513.7a0.42,0.42 0 1,0 0.84,0a0.42,0.42 0 1,0 -0.84,0M178.2,504.1a0.42,0.42 0 1,0 0.85,0a0.42,0.42 0 1,0 -0.85,0M180.0,513.9a0.46,0.46 0 1,0 0.93,0a0.46,0.46 0 1,0 -0.93,0M176.7,501.8a0.93,0.93 0 1,0 1.85,0a0.93,0.93 0 1,0 -1.85,0M175.6,504.1a0.66,0.66 0 1,0 1.31,0a0.66,0.66 0 1,0 -1.31,0M176.4,504.5a0.84,0.84 0 1,0 1.69,0a0.84,0.84 0 1,0 -1.69,0M180.6,513.1a0.70,0.70 0 1,0 1.40,0a0.70,0.70 0 1,0 -1.40,0M182.0,521.9a0.98,0.98 0 1,0 1.96,0a0.98,0.98 0 1,0 -1.96,0M182.7,519.0a0.51,0.51 0 1,0 1.01,0a0.51,0.51 0 1,0 -1.01,0M178.0,507.3a0.71,0.71 0 1,0 1.41,0a0.71,0.71 0 1,0 -1.41,0" fill="#48e824"/>
<path d="M183.9,530.7a0.41,0.41 0 1,0 0.81,0a0.41,0.41 0 1,0 -0.81,0M184.8,535.5a0.73,0.73 0 1,0 1.46,0a0.73,0.73 0 1,0 -1.46,0M189.1,536.8a0.83,0.83 0 1,0 1.66,0a0.83,0.83 0 1,0 -1.66,0M184.0,532.6a0.98,0.98 0 1,0 1.97,0a0.98,0.98 0 1,0 -1.97,0M183.9,531.9a0.49,0.49 0 1,0 0.97,0a0.49,0.49 0 1,0 -0.97,0M189.0,543.7a0.96,0.96 0 1,0 1.91,0a0.96,0.96 0 1,0 -1.91,0M183.5,527.0a0.54,0.54 0 1,0 1.09,0a0.54,0.54 0 1,0 -1.09,0M186.4,528.9a0.87,0.87 0 1,0 1.74,0a0.87,0.87 0 1,0 -1.74,0M189.2,542.5a0.59,0.59 0 1,0 1.19,0a0.59,0.59 0 1,0 -1.19,0M184.3,535.8a0.98,0.98 0 1,0 1.97,0a0.98,0.98 0 1,0 -1.97,0M183.5,519.6a0.71,0.71 0 1,0 1.41,0a0.71,0.71 0 1,0 -1.41,0M186.8,535.1a0.78,0.78 0 1,0 1.56,0a0.78,0.78 0 1,0 -1.56,0M184.4,540.1a0.64,0.64 0 1,0 1.27,0a0.64,0.64 0 1,0 -1.27,0M183.7,532.2a0.59,0.59 0 1,0 1.19,0a0.59,0.59 0 1,0 -1.19,0M184.6,535.6a0.77,0.77 0 1,0 1.54,0a0.77,0.77 0 1,0 -1.54,0M185.9,527.3a0.83,0.83 0 1,0 1.67,0a0.83,0.83 0 1,0 -1.67,0M184.5,533.8a0.49,0.49 0 1,0 0.97,0a0.49,0.49 0 1,0 -0.97,0M184.9,541.8a0.72,0.72 0 1,0 1.43,0a0.72,0.72 0 1,0 -1.43,0" fill="#48e824"/>
<path d="M191.8,556.1a0.89,0.89 0 1,0 1.79,0a0.89,0.89 0 1,0 -1.79,0M187.7,547.8a0.94,0.94 0 1,0 1.87,0a0.94,0.94 0 1,0 -1.87,0M193.5,556.3a0.90,0.90 0 1,0 1.80,0a0.90,0.90 0 1,0 -1.80,0M192.7,555.8a0.55,0.55 0 1,0 1.10,0a0.55,0.55 0 1,0 -1.10,0M185.9,547.4a0.71,0.71 0 1,0 1.43,0a0.71,0.71 0 1,0 -1.43,0M190.8,550.9a1.00,1.00 0 1,0 2.00,0a1.00,1.00 0 1,0 -2.00,0M189.3,554.0a0.88,0.88 0 1,0 1.76,0a0.88,0.88 0 1,0 -1.76,0M193.1,556.3a0.62,0.62 0 1,0 1.24,0a0.62,0.62 0 1,0 -1.24,0M190.4,552.5a0.60,0.60 0 1,0 1.21,0a0.60,0.60 0 1,0 -1.21,0M190.4,549.2a0.74,0.74 0 1,0 1.48,0a0.74,0.74 0 1,0 -1.48,0M188.7,546.8a0.56,0.56 0 1,0 1.13,0a0.56,0.56 0 1,0 -1.13,0M189.4,551.3a0.45,0.45 0 1,0 0.91,0a0.45,0.45 0 1,0 -0.91,0M191.6,551.8a0.65,0.65 0 1,0 1.31,0a0.65,0.65 0 1,0 -1.31,0M190.9,553.8a0.43,0.43 0 1,0 0.85,0a0.43,0.43 0 1,0 -0.85,0M188.1,551.8a0.58,0.58 0 1,0 1.15,0a0.58,0.58 0 1,0 -1.15,0M187.9,547.1a0.61,0.61 0 1,0 1.22,0a0.61,0.61 0 1,0 -1.22,0M186.4,547.4a0.51,0.51 0 1,0 1.03,0a0.51,0.51 0 1,0 -1.03,0M192.4,555.8a0.80,0.80 0 1,0 1.60,0a0.80,0.80 0 1,0 -1.60,0" fill="#48e824"/>
<path d="M196.4,561.4a0.63,0.63 0 1,0 1.26,0a0.63,0.63 0 1,0 -1.26,0M190.9,561.9a0.85,0.85 0 1,0 1.71,0a0.85,0.85 0 1,0 -1.71,0M191.6,556.9a0.68,0.68 0 1,0 1.35,0a0.68,0.68 0 1,0 -1.35,0M193.6,565.2a0.93,0.93 0 1,0 1.87,0a0.93,0.93 0 1,0 -1.87,0M192.1,561.2a0.89,0.89 0 1,0 1.79,0a0.89,0.89 0 1,0 -1.79,0M195.1,561.3a0.42,0.42 0 1,0 0.85,0a0.42,0.42 0 1,0 -0.85,0M192.2,562.1a0.86,0.86 0 1,0 1.72,0a0.86,0.86 0 1,0 -1.72,0M193.3,559.3a0.89,0.89 0 1,0 1.78,0a0.89,0.89 0 1,0 -1.78,0M195.5,559.9a0.74,0.74 0 1,0 1.48,0a0.74,0.74 0 1,0 -1.48,0M192.1,555.8a0.69,0.69 0 1,0 1.38,0a0.69,0.69 0 1,0 -1.38,0M192.5,556.6a0.75,0.75 0 1,0 1.50,0a0.75,0.75 0 1,0 -1.50,0M197.3,562.5a0.49,0.49 0 1,0 0.97,0a0.49,0.49 0 1,0 -0.97,0M193.5,560.3a0.99,0.99 0 1,0 1.99,0a0.99,0.99 0 1,0 -1.99,0M193.8,561.2a0.55,0.55 0 1,0 1.11,0a0.55,0.55 0 1,0 -1.11,0M193.7,563.7a0.65,0.65 0 1,0 1.30,0a0.65,0.65 0 1,0 -1.30,0M191.9,561.1a0.88,0.88 0 1,0 1.76,0a0.88,0.88 0 1,0 -1.76,0M195.6,565.5a0.43,0.43 0 1,0 0.86,0a0.43,0.43 0 1,0 -0.86,0M193.3,563.2a0.69,0.69 0 1,0 1.39,0a0.69,0.69 0 1,0 -1.39,0" fill="#48e824"/>
<path d="M145.8,532.0 L152.8,550.7 L158.6,567.5" fill="none" stroke="#2a9a14" stroke-width="4.8" stroke-linecap="round" stroke-linejoin="round" opacity="0.35"/>
<path d="M145.8,532.0 L152.8,550.7 L158.6,567.5" fill="none" stroke="#40e020" stroke-width="2.55" stroke-linecap="round" stroke-linejoin="round"/>
<path d="M147.5,545.1a0.52,0.52 0 1,0 1.04,0a0.52,0.52 0 1,0 -1.04,0M151.2,549.0a0.59,0.59 0 1,0 1.18,0a0.59,0.59 0 1,0 -1.18,0M147.2,543.1a0.59,0.59 0 1,0 1.19,0a0.59,0.59 0 1,0 -1.19,0M147.3,535.8a0.83,0.83 0 1,0 1.65,0a0.83,0.83 0 1,0 -1.65,0M149.0,546.0a0.96,0.96 0 1,0 1.92,0a0.96,0.96 0 1,0 -1.92,0M148.7,539.9a0.66,0.66 0 1,0 1.32,0a0.66,0.66 0 1,0 -1.32,0M152.9,544.9a0.44,0.44 0 1,0 0.89,0a0.44,0.44 0 1,0 -0.89,0M150.8,546.4a0.74,0.74 0 1,0 1.47,0a0.74,0.74 0 1,0 -1.47,0M148.2,547.0a0.80,0.80 0 1,0 1.61,0a0.80,0.80 0 1,0 -1.61,0M148.1,540.5a0.49,0.49 0 1,0 0.97,0a0.49,0.49 0 1,0 -0.97,0M152.0,549.9a0.46,0.46 0 1,0 0.91,0a0.46,0.46 0 1,0 -0.91,0M152.1,546.2a0.80,0.80 0 1,0 1.59,0a0.80,0.80 0 1,0 -1.59,0M149.1,535.5a0.49,0.49 0 1,0 0.99,0a0.49,0.49 0 1,0 -0.99,0M145.1,532.6a0.90,0.90 0 1,0 1.80,0a0.90,0.90 0 1,0 -1.80,0M147.5,539.6a0.59,0.59 0 1,0 1.18,0a0.59,0.59 0 1,0 -1.18,0M151.1,545.4a0.59,0.59 0 1,0 1.19,0a0.59,0.59 0 1,0 -1.19,0M152.4,550.1a0.99,0.99 0 1,0 1.98,0a0.99,0.99 0 1,0 -1.98,0M149.3,539.6a0.78,0.78 0 1,0 1.57,0a0.78,0.78 0 1,0 -1.57,0" fill="#48e824"/>
<path d="M152.7,554.3a0.68,0.68 0 1,0 1.36,0a0.68,0.68 0 1,0 -1.36,0M154.4,564.0a0.47,0.47 0 1,0 0.94,0a0.47,0.47 0 1,0 -0.94,0M159.2,567.1a1.00,1.00 0 1,0 2.00,0a1.00,1.00 0 1,0 -2.00,0M156.3,566.3a0.61,0.61 0 1,0 1.22,0a0.61,0.61 0 1,0 -1.22,0M153.0,563.4a0.46,0.46 0 1,0 0.91,0a0.46,0.46 0 1,0 -0.91,0M156.3,557.2a0.72,0.72 0 1,0 1.45,0a0.72,0.72 0 1,0 -1.45,0M153.2,553.2a0.94,0.94 0 1,0 1.87,0a0.94,0.94 0 1,0 -1.87,0M157.8,568.5a0.42,0.42 0 1,0 0.84,0a0.42,0.42 0 1,0 -0.84,0M156.7,560.5a0.97,0.97 0 1,0 1.93,0a0.97,0.97 0 1,0 -1.93,0M157.3,562.2a0.67,0.67 0 1,0 1.34,0a0.67,0.67 0 1,0 -1.34,0M153.3,553.9a0.87,0.87 0 1,0 1.75,0a0.87,0.87 0 1,0 -1.75,0M155.9,556.6a0.46,0.46 0 1,0 0.91,0a0.46,0.46 0 1,0 -0.91,0M155.8,557.9a0.68,0.68 0 1,0 1.35,0a0.68,0.68 0 1,0 -1.35,0M151.5,551.2a0.79,0.79 0 1,0 1.58,0a0.79,0.79 0 1,0 -1.58,0M151.6,552.2a0.62,0.62 0 1,0 1.25,0a0.62,0.62 0 1,0 -1.25,0M156.2,562.7a0.96,0.96 0 1,0 1.93,0a0.96,0.96 0 1,0 -1.93,0M155.8,553.6a0.69,0.69 0 1,0 1.38,0a0.69,0.69 0 1,0 -1.38,0M155.9,555.0a0.47,0.47 0 1,0 0.94,0a0.47,0.47 0 1,0 -0.94,0" fill="#48e824"/>
<circle cx="166.80" cy="522.70" r="2.80" fill="#4cf028" />
<circle cx="169.10" cy="532.00" r="3.20" fill="#4cf028" />
<circle cx="175.50" cy="551.50" r="2.80" fill="#4cf028" />
<circle cx="184.30" cy="522.70" r="3.00" fill="#4cf028" />
<circle cx="185.50" cy="519.50" r="2.20" fill="#4cf028" />
<circle cx="152.50" cy="548.50" r="3.00" fill="#4cf028" />
<circle cx="150.50" cy="543.50" r="2.40" fill="#4cf028" />
<circle cx="163.50" cy="511.50" r="2.00" fill="#4cf028" />
<circle cx="190.50" cy="549.50" r="2.00" fill="#4cf028" />
<circle cx="177.50" cy="561.50" r="2.40" fill="#4cf028" />
<circle cx="158.50" cy="505.50" r="1.80" fill="#4cf028" />
</g>
<clipPath id="c8"><rect x="207.20" y="501.50" width="69.00" height="68.80"/></clipPath><g clip-path="url(#c8)">
<rect x="207.20" y="501.50" width="69.00" height="68.80" fill="#050000" />
<path d="M241.1,538.4a0.34,0.34 0 1,0 0.67,0a0.34,0.34 0 1,0 -0.67,0M239.0,512.8a0.46,0.46 0 1,0 0.92,0a0.46,0.46 0 1,0 -0.92,0M241.8,526.7a0.36,0.36 0 1,0 0.72,0a0.36,0.36 0 1,0 -0.72,0M234.7,515.5a0.34,0.34 0 1,0 0.68,0a0.34,0.34 0 1,0 -0.68,0M223.3,561.5a0.45,0.45 0 1,0 0.90,0a0.45,0.45 0 1,0 -0.90,0M268.1,502.5a0.58,0.58 0 1,0 1.17,0a0.58,0.58 0 1,0 -1.17,0M240.4,555.9a0.47,0.47 0 1,0 0.94,0a0.47,0.47 0 1,0 -0.94,0M254.2,517.3a0.53,0.53 0 1,0 1.05,0a0.53,0.53 0 1,0 -1.05,0M217.5,519.7a0.31,0.31 0 1,0 0.62,0a0.31,0.31 0 1,0 -0.62,0M233.9,537.1a0.39,0.39 0 1,0 0.78,0a0.39,0.39 0 1,0 -0.78,0M268.2,507.3a0.47,0.47 0 1,0 0.95,0a0.47,0.47 0 1,0 -0.95,0M222.8,542.5a0.54,0.54 0 1,0 1.07,0a0.54,0.54 0 1,0 -1.07,0M255.9,505.8a0.37,0.37 0 1,0 0.75,0a0.37,0.37 0 1,0 -0.75,0M248.2,569.1a0.31,0.31 0 1,0 0.62,0a0.31,0.31 0 1,0 -0.62,0M249.3,549.1a0.54,0.54 0 1,0 1.09,0a0.54,0.54 0 1,0 -1.09,0M230.4,557.3a0.44,0.44 0 1,0 0.88,0a0.44,0.44 0 1,0 -0.88,0M270.2,502.2a0.58,0.58 0 1,0 1.16,0a0.58,0.58 0 1,0 -1.16,0M235.3,529.5a0.33,0.33 0 1,0 0.65,0a0.33,0.33 0 1,0 -0.65,0M223.6,552.0a0.50,0.50 0 1,0 1.01,0a0.50,0.50 0 1,0 -1.01,0M217.3,525.2a0.34,0.34 0 1,0 0.68,0a0.34,0.34 0 1,0 -0.68,0M220.5,516.6a0.40,0.40 0 1,0 0.80,0a0.40,0.40 0 1,0 -0.80,0M274.0,570.1a0.54,0.54 0 1,0 1.07,0a0.54,0.54 0 1,0 -1.07,0M239.8,535.7a0.53,0.53 0 1,0 1.07,0a0.53,0.53 0 1,0 -1.07,0M269.4,553.2a0.49,0.49 0 1,0 0.98,0a0.49,0.49 0 1,0 -0.98,0M220.4,544.5a0.55,0.55 0 1,0 1.11,0a0.55,0.55 0 1,0 -1.11,0M261.0,507.9a0.52,0.52 0 1,0 1.03,0a0.52,0.52 0 1,0 -1.03,0M230.7,512.7a0.59,0.59 0 1,0 1.18,0a0.59,0.59 0 1,0 -1.18,0M253.3,552.8a0.34,0.34 0 1,0 0.68,0a0.34,0.34 0 1,0 -0.68,0M263.8,566.0a0.57,0.57 0 1,0 1.14,0a0.57,0.57 0 1,0 -1.14,0M258.1,558.8a0.54,0.54 0 1,0 1.08,0a0.54,0.54 0 1,0 -1.08,0M247.4,531.5a0.55,0.55 0 1,0 1.10,0a0.55,0.55 0 1,0 -1.10,0M260.9,561.4a0.39,0.39 0 1,0 0.78,0a0.39,0.39 0 1,0 -0.78,0M272.9,538.1a0.58,0.58 0 1,0 1.17,0a0.58,0.58 0 1,0 -1.17,0M214.7,568.1a0.54,0.54 0 1,0 1.07,0a0.54,0.54 0 1,0 -1.07,0M224.2,559.2a0.37,0.37 0 1,0 0.74,0a0.37,0.37 0 1,0 -0.74,0M220.5,533.0a0.37,0.37 0 1,0 0.74,0a0.37,0.37 0 1,0 -0.74,0M240.7,564.0a0.51,0.51 0 1,0 1.01,0a0.51,0.51 0 1,0 -1.01,0M255.7,528.5a0.54,0.54 0 1,0 1.07,0a0.54,0.54 0 1,0 -1.07,0M261.4,548.5a0.58,0.58 0 1,0 1.17,0a0.58,0.58 0 1,0 -1.17,0M263.9,529.4a0.33,0.33 0 1,0 0.65,0a0.33,0.33 0 1,0 -0.65,0M251.8,559.0a0.40,0.40 0 1,0 0.80,0a0.40,0.40 0 1,0 -0.80,0M247.7,559.0a0.54,0.54 0 1,0 1.08,0a0.54,0.54 0 1,0 -1.08,0M207.2,535.1a0.30,0.30 0 1,0 0.61,0a0.30,0.30 0 1,0 -0.61,0M214.4,557.4a0.43,0.43 0 1,0 0.85,0a0.43,0.43 0 1,0 -0.85,0M248.5,533.0a0.40,0.40 0 1,0 0.80,0a0.40,0.40 0 1,0 -0.80,0M221.4,525.8a0.55,0.55 0 1,0 1.11,0a0.55,0.55 0 1,0 -1.11,0M249.6,521.6a0.33,0.33 0 1,0 0.65,0a0.33,0.33 0 1,0 -0.65,0M225.5,549.7a0.43,0.43 0 1,0 0.87,0a0.43,0.43 0 1,0 -0.87,0M252.5,557.0a0.34,0.34 0 1,0 0.67,0a0.34,0.34 0 1,0 -0.67,0M253.8,504.4a0.55,0.55 0 1,0 1.09,0a0.55,0.55 0 1,0 -1.09,0M219.3,520.2a0.59,0.59 0 1,0 1.17,0a0.59,0.59 0 1,0 -1.17,0M231.6,516.9a0.57,0.57 0 1,0 1.13,0a0.57,0.57 0 1,0 -1.13,0M248.9,563.0a0.42,0.42 0 1,0 0.84,0a0.42,0.42 0 1,0 -0.84,0M241.2,567.3a0.45,0.45 0 1,0 0.90,0a0.45,0.45 0 1,0 -0.90,0M274.9,514.5a0.55,0.55 0 1,0 1.10,0a0.55,0.55 0 1,0 -1.10,0M218.1,537.8a0.30,0.30 0 1,0 0.60,0a0.30,0.30 0 1,0 -0.60,0M218.9,566.5a0.44,0.44 0 1,0 0.87,0a0.44,0.44 0 1,0 -0.87,0M262.6,518.8a0.41,0.41 0 1,0 0.81,0a0.41,0.41 0 1,0 -0.81,0M213.6,539.5a0.56,0.56 0 1,0 1.12,0a0.56,0.56 0 1,0 -1.12,0M242.1,527.4a0.58,0.58 0 1,0 1.16,0a0.58,0.58 0 1,0 -1.16,0M268.5,547.3a0.32,0.32 0 1,0 0.65,0a0.32,0.32 0 1,0 -0.65,0M249.7,532.1a0.59,0.59 0 1,0 1.17,0a0.59,0.59 0 1,0 -1.17,0M231.7,547.0a0.49,0.49 0 1,0 0.98,0a0.49,0.49 0 1,0 -0.98,0M232.6,537.4a0.50,0.50 0 1,0 1.01,0a0.50,0.50 0 1,0 -1.01,0M269.4,535.8a0.41,0.41 0 1,0 0.82,0a0.41,0.41 0 1,0 -0.82,0M274.0,505.4a0.55,0.55 0 1,0 1.10,0a0.55,0.55 0 1,0 -1.10,0M253.9,539.9a0.43,0.43 0 1,0 0.87,0a0.43,0.43 0 1,0 -0.87,0M258.5,562.8a0.52,0.52 0 1,0 1.04,0a0.52,0.52 0 1,0 -1.04,0M258.5,503.9a0.40,0.40 0 1,0 0.80,0a0.40,0.40 0 1,0 -0.80,0M216.1,567.1a0.57,0.57 0 1,0 1.13,0a0.57,0.57 0 1,0 -1.13,0M216.7,541.9a0.47,0.47 0 1,0 0.95,0a0.47,0.47 0 1,0 -0.95,0M209.9,528.5a0.52,0.52 0 1,0 1.05,0a0.52,0.52 0 1,0 -1.05,0M250.9,520.8a0.53,0.53 0 1,0 1.06,0a0.53,0.53 0 1,0 -1.06,0M226.9,538.9a0.43,0.43 0 1,0 0.85,0a0.43,0.43 0 1,0 -0.85,0M274.2,546.1a0.54,0.54 0 1,0 1.08,0a0.54,0.54 0 1,0 -1.08,0M253.3,527.7a0.59,0.59 0 1,0 1.18,0a0.59,0.59 0 1,0 -1.18,0M255.8,549.0a0.38,0.38 0 1,0 0.77,0a0.38,0.38 0 1,0 -0.77,0M217.8,541.1a0.55,0.55 0 1,0 1.10,0a0.55,0.55 0 1,0 -1.10,0M261.6,525.4a0.34,0.34 0 1,0 0.68,0a0.34,0.34 0 1,0 -0.68,0M242.5,561.9a0.35,0.35 0 1,0 0.70,0a0.35,0.35 0 1,0 -0.70,0M257.8,513.2a0.39,0.39 0 1,0 0.79,0a0.39,0.39 0 1,0 -0.79,0M210.5,522.0a0.41,0.41 0 1,0 0.83,0a0.41,0.41 0 1,0 -0.83,0M273.6,567.7a0.36,0.36 0 1,0 0.71,0a0.36,0.36 0 1,0 -0.71,0M228.2,566.4a0.36,0.36 0 1,0 0.72,0a0.36,0.36 0 1,0 -0.72,0M229.0,531.7a0.33,0.33 0 1,0 0.67,0a0.33,0.33 0 1,0 -0.67,0M224.7,528.6a0.42,0.42 0 1,0 0.83,0a0.42,0.42 0 1,0 -0.83,0M273.3,519.9a0.36,0.36 0 1,0 0.72,0a0.36,0.36 0 1,0 -0.72,0M269.4,532.5a0.55,0.55 0 1,0 1.10,0a0.55,0.55 0 1,0 -1.10,0M250.8,555.1a0.39,0.39 0 1,0 0.79,0a0.39,0.39 0 1,0 -0.79,0M217.3,553.6a0.44,0.44 0 1,0 0.88,0a0.44,0.44 0 1,0 -0.88,0M245.2,547.6a0.53,0.53 0 1,0 1.05,0a0.53,0.53 0 1,0 -1.05,0M225.6,526.5a0.58,0.58 0 1,0 1.15,0a0.58,0.58 0 1,0 -1.15,0M243.2,521.3a0.49,0.49 0 1,0 0.98,0a0.49,0.49 0 1,0 -0.98,0M224.8,554.6a0.31,0.31 0 1,0 0.62,0a0.31,0.31 0 1,0 -0.62,0M263.8,540.5a0.41,0.41 0 1,0 0.81,0a0.41,0.41 0 1,0 -0.81,0M271.7,519.8a0.37,0.37 0 1,0 0.75,0a0.37,0.37 0 1,0 -0.75,0M211.5,539.2a0.53,0.53 0 1,0 1.05,0a0.53,0.53 0 1,0 -1.05,0M253.4,529.9a0.54,0.54 0 1,0 1.08,0a0.54,0.54 0 1,0 -1.08,0M214.4,522.6a0.49,0.49 0 1,0 0.99,0a0.49,0.49 0 1,0 -0.99,0M273.4,545.1a0.51,0.51 0 1,0 1.02,0a0.51,0.51 0 1,0 -1.02,0M260.1,528.6a0.58,0.58 0 1,0 1.16,0a0.58,0.58 0 1,0 -1.16,0M258.0,525.0a0.42,0.42 0 1,0 0.84,0a0.42,0.42 0 1,0 -0.84,0M262.4,525.6a0.36,0.36 0 1,0 0.71,0a0.36,0.36 0 1,0 -0.71,0M266.9,538.1a0.46,0.46 0 1,0 0.91,0a0.46,0.46 0 1,0 -0.91,0M253.0,563.5a0.34,0.34 0 1,0 0.68,0a0.34,0.34 0 1,0 -0.68,0M230.1,506.0a0.42,0.42 0 1,0 0.85,0a0.42,0.42 0 1,0 -0.85,0M241.3,560.1a0.50,0.50 0 1,0 1.00,0a0.50,0.50 0 1,0 -1.00,0M246.6,529.3a0.47,0.47 0 1,0 0.94,0a0.47,0.47 0 1,0 -0.94,0M225.6,559.6a0.54,0.54 0 1,0 1.07,0a0.54,0.54 0 1,0 -1.07,0M264.5,511.9a0.50,0.50 0 1,0 1.00,0a0.50,0.50 0 1,0 -1.00,0M258.7,535.9a0.57,0.57 0 1,0 1.14,0a0.57,0.57 0 1,0 -1.14,0M268.7,552.6a0.55,0.55 0 1,0 1.09,0a0.55,0.55 0 1,0 -1.09,0M251.6,562.0a0.34,0.34 0 1,0 0.68,0a0.34,0.34 0 1,0 -0.68,0M255.3,549.9a0.48,0.48 0 1,0 0.97,0a0.48,0.48 0 1,0 -0.97,0M225.7,506.1a0.48,0.48 0 1,0 0.96,0a0.48,0.48 0 1,0 -0.96,0M263.7,520.3a0.36,0.36 0 1,0 0.73,0a0.36,0.36 0 1,0 -0.73,0M222.1,508.0a0.50,0.50 0 1,0 1.01,0a0.50,0.50 0 1,0 -1.01,0M274.1,556.7a0.41,0.41 0 1,0 0.82,0a0.41,0.41 0 1,0 -0.82,0M254.9,506.5a0.55,0.55 0 1,0 1.10,0a0.55,0.55 0 1,0 -1.10,0M229.1,501.7a0.49,0.49 0 1,0 0.98,0a0.49,0.49 0 1,0 -0.98,0M216.5,520.4a0.32,0.32 0 1,0 0.64,0a0.32,0.32 0 1,0 -0.64,0M237.4,539.7a0.54,0.54 0 1,0 1.08,0a0.54,0.54 0 1,0 -1.08,0M209.6,558.4a0.33,0.33 0 1,0 0.67,0a0.33,0.33 0 1,0 -0.67,0M222.3,544.8a0.40,0.40 0 1,0 0.80,0a0.40,0.40 0 1,0 -0.80,0M229.7,540.6a0.37,0.37 0 1,0 0.73,0a0.37,0.37 0 1,0 -0.73,0M261.4,515.9a0.55,0.55 0 1,0 1.10,0a0.55,0.55 0 1,0 -1.10,0M262.7,538.5a0.31,0.31 0 1,0 0.62,0a0.31,0.31 0 1,0 -0.62,0M260.4,503.5a0.45,0.45 0 1,0 0.90,0a0.45,0.45 0 1,0 -0.90,0M236.0,505.8a0.49,0.49 0 1,0 0.98,0a0.49,0.49 0 1,0 -0.98,0M256.8,541.7a0.42,0.42 0 1,0 0.84,0a0.42,0.42 0 1,0 -0.84,0M242.2,542.0a0.37,0.37 0 1,0 0.74,0a0.37,0.37 0 1,0 -0.74,0M266.5,570.0a0.54,0.54 0 1,0 1.08,0a0.54,0.54 0 1,0 -1.08,0M272.9,524.2a0.60,0.60 0 1,0 1.19,0a0.60,0.60 0 1,0 -1.19,0M211.8,534.4a0.34,0.34 0 1,0 0.68,0a0.34,0.34 0 1,0 -0.68,0M238.0,548.5a0.51,0.51 0 1,0 1.03,0a0.51,0.51 0 1,0 -1.03,0M238.2,525.0a0.36,0.36 0 1,0 0.71,0a0.36,0.36 0 1,0 -0.71,0M234.6,520.9a0.36,0.36 0 1,0 0.72,0a0.36,0.36 0 1,0 -0.72,0M257.6,537.0a0.43,0.43 0 1,0 0.86,0a0.43,0.43 0 1,0 -0.86,0M220.5,549.9a0.36,0.36 0 1,0 0.72,0a0.36,0.36 0 1,0 -0.72,0M225.0,540.0a0.51,0.51 0 1,0 1.02,0a0.51,0.51 0 1,0 -1.02,0M273.8,552.9a0.58,0.58 0 1,0 1.17,0a0.58,0.58 0 1,0 -1.17,0M270.2,551.2a0.52,0.52 0 1,0 1.03,0a0.52,0.52 0 1,0 -1.03,0M211.2,515.6a0.30,0.30 0 1,0 0.61,0a0.30,0.30 0 1,0 -0.61,0M266.3,551.2a0.49,0.49 0 1,0 0.98,0a0.49,0.49 0 1,0 -0.98,0M225.1,526.0a0.35,0.35 0 1,0 0.70,0a0.35,0.35 0 1,0 -0.70,0M250.4,569.7a0.39,0.39 0 1,0 0.78,0a0.39,0.39 0 1,0 -0.78,0M209.8,513.6a0.41,0.41 0 1,0 0.81,0a0.41,0.41 0 1,0 -0.81,0M268.8,556.8a0.44,0.44 0 1,0 0.87,0a0.44,0.44 0 1,0 -0.87,0M213.9,508.8a0.35,0.35 0 1,0 0.69,0a0.35,0.35 0 1,0 -0.69,0M260.2,533.9a0.60,0.60 0 1,0 1.19,0a0.60,0.60 0 1,0 -1.19,0M269.7,556.2a0.44,0.44 0 1,0 0.89,0a0.44,0.44 0 1,0 -0.89,0M263.6,510.3a0.33,0.33 0 1,0 0.67,0a0.33,0.33 0 1,0 -0.67,0M245.7,536.4a0.36,0.36 0 1,0 0.73,0a0.36,0.36 0 1,0 -0.73,0M224.0,503.0a0.57,0.57 0 1,0 1.15,0a0.57,0.57 0 1,0 -1.15,0M255.6,566.5a0.59,0.59 0 1,0 1.19,0a0.59,0.59 0 1,0 -1.19,0M236.9,551.9a0.42,0.42 0 1,0 0.83,0a0.42,0.42 0 1,0 -0.83,0M262.9,559.4a0.34,0.34 0 1,0 0.68,0a0.34,0.34 0 1,0 -0.68,0M207.6,516.2a0.48,0.48 0 1,0 0.95,0a0.48,0.48 0 1,0 -0.95,0M232.8,502.1a0.55,0.55 0 1,0 1.10,0a0.55,0.55 0 1,0 -1.10,0M261.1,533.4a0.31,0.31 0 1,0 0.63,0a0.31,0.31 0 1,0 -0.63,0" fill="#5a0a06"/>
<path d="M269.5,534.3l3.4,8.5M248.7,557.6l5.0,15.0M215.3,506.0l8.2,20.9M209.6,538.2l4.0,9.2M235.7,533.7l5.5,17.3M232.9,494.3l8.4,17.7M236.7,519.4l5.6,17.9M218.6,538.3l6.6,17.9M210.8,558.9l7.5,15.9M219.7,567.3l4.2,10.9M260.9,551.7l5.3,17.3M203.3,493.8l6.7,22.7M205.1,496.0l3.0,11.5M216.8,538.0l7.2,21.7M271.2,513.3l4.5,9.4M257.7,494.7l7.1,22.5M216.1,554.2l3.6,10.0M208.9,546.9l5.8,21.5M201.6,554.4l4.7,16.2M239.4,536.6l4.9,16.8M206.4,494.4l6.4,15.5M229.6,489.7l8.6,17.9M263.5,552.5l6.4,13.9M250.0,507.0l6.2,13.5M275.0,533.2l5.7,12.4M254.6,552.6l9.0,19.6M227.5,511.8l8.3,18.4M245.3,563.0l8.9,18.3M206.4,497.6l6.2,18.1M240.9,525.7l4.6,13.8" stroke="#6a0c08" stroke-width="0.7" stroke-linecap="round" fill="none"/>
<path d="M212.8,502.8l22.2,66.6" stroke="#d82a14" stroke-width="1.0" stroke-linecap="round" fill="none"/>
<path d="M227.4,545.5a0.62,0.62 0 1,0 1.24,0a0.62,0.62 0 1,0 -1.24,0M233.2,562.8a0.31,0.31 0 1,0 0.62,0a0.31,0.31 0 1,0 -0.62,0M227.6,547.6a0.65,0.65 0 1,0 1.30,0a0.65,0.65 0 1,0 -1.30,0M216.8,514.5a0.58,0.58 0 1,0 1.17,0a0.58,0.58 0 1,0 -1.17,0M217.8,520.2a0.43,0.43 0 1,0 0.86,0a0.43,0.43 0 1,0 -0.86,0M212.8,509.7a0.56,0.56 0 1,0 1.12,0a0.56,0.56 0 1,0 -1.12,0M232.9,563.7a0.70,0.70 0 1,0 1.40,0a0.70,0.70 0 1,0 -1.40,0M229.0,553.4a0.46,0.46 0 1,0 0.93,0a0.46,0.46 0 1,0 -0.93,0M212.7,505.4a0.67,0.67 0 1,0 1.34,0a0.67,0.67 0 1,0 -1.34,0M219.6,523.7a0.66,0.66 0 1,0 1.31,0a0.66,0.66 0 1,0 -1.31,0M229.5,555.7a0.63,0.63 0 1,0 1.26,0a0.63,0.63 0 1,0 -1.26,0M218.8,523.3a0.51,0.51 0 1,0 1.03,0a0.51,0.51 0 1,0 -1.03,0M234.1,567.7a0.56,0.56 0 1,0 1.12,0a0.56,0.56 0 1,0 -1.12,0M224.7,538.4a0.67,0.67 0 1,0 1.33,0a0.67,0.67 0 1,0 -1.33,0M228.0,548.7a0.38,0.38 0 1,0 0.77,0a0.38,0.38 0 1,0 -0.77,0M218.9,521.9a0.40,0.40 0 1,0 0.81,0a0.40,0.40 0 1,0 -0.81,0M228.6,550.4a0.48,0.48 0 1,0 0.95,0a0.48,0.48 0 1,0 -0.95,0M227.1,547.6a0.60,0.60 0 1,0 1.20,0a0.60,0.60 0 1,0 -1.20,0M217.7,519.5a0.58,0.58 0 1,0 1.15,0a0.58,0.58 0 1,0 -1.15,0M216.8,518.3a0.56,0.56 0 1,0 1.11,0a0.56,0.56 0 1,0 -1.11,0M224.9,541.5a0.58,0.58 0 1,0 1.16,0a0.58,0.58 0 1,0 -1.16,0M219.4,523.1a0.31,0.31 0 1,0 0.61,0a0.31,0.31 0 1,0 -0.61,0M220.5,527.1a0.50,0.50 0 1,0 0.99,0a0.50,0.50 0 1,0 -0.99,0M233.5,566.9a0.61,0.61 0 1,0 1.22,0a0.61,0.61 0 1,0 -1.22,0M216.7,514.9a0.46,0.46 0 1,0 0.93,0a0.46,0.46 0 1,0 -0.93,0M226.9,549.1a0.34,0.34 0 1,0 0.68,0a0.34,0.34 0 1,0 -0.68,0M232.6,565.8a0.31,0.31 0 1,0 0.62,0a0.31,0.31 0 1,0 -0.62,0M230.8,559.2a0.62,0.62 0 1,0 1.24,0a0.62,0.62 0 1,0 -1.24,0M227.3,547.6a0.38,0.38 0 1,0 0.75,0a0.38,0.38 0 1,0 -0.75,0M232.8,563.8a0.53,0.53 0 1,0 1.07,0a0.53,0.53 0 1,0 -1.07,0M227.3,547.1a0.34,0.34 0 1,0 0.68,0a0.34,0.34 0 1,0 -0.68,0M233.4,568.8a0.53,0.53 0 1,0 1.06,0a0.53,0.53 0 1,0 -1.06,0M217.2,517.7a0.64,0.64 0 1,0 1.28,0a0.64,0.64 0 1,0 -1.28,0M215.7,511.3a0.59,0.59 0 1,0 1.18,0a0.59,0.59 0 1,0 -1.18,0M215.5,511.6a0.45,0.45 0 1,0 0.89,0a0.45,0.45 0 1,0 -0.89,0M224.1,537.9a0.62,0.62 0 1,0 1.24,0a0.62,0.62 0 1,0 -1.24,0M218.0,522.5a0.39,0.39 0 1,0 0.78,0a0.39,0.39 0 1,0 -0.78,0M216.8,516.3a0.45,0.45 0 1,0 0.89,0a0.45,0.45 0 1,0 -0.89,0M225.5,545.7a0.32,0.32 0 1,0 0.64,0a0.32,0.32 0 1,0 -0.64,0M227.4,546.6a0.31,0.31 0 1,0 0.62,0a0.31,0.31 0 1,0 -0.62,0" fill="#e8321a"/>
<path d="M235.0,502.8l19.9,64.3" stroke="#d82a14" stroke-width="1.0" stroke-linecap="round" fill="none"/>
<path d="M243.6,531.4a0.58,0.58 0 1,0 1.17,0a0.58,0.58 0 1,0 -1.17,0M237.0,509.3a0.37,0.37 0 1,0 0.74,0a0.37,0.37 0 1,0 -0.74,0M239.0,517.7a0.33,0.33 0 1,0 0.65,0a0.33,0.33 0 1,0 -0.65,0M240.3,526.3a0.52,0.52 0 1,0 1.04,0a0.52,0.52 0 1,0 -1.04,0M236.1,508.4a0.53,0.53 0 1,0 1.05,0a0.53,0.53 0 1,0 -1.05,0M253.1,558.5a0.34,0.34 0 1,0 0.69,0a0.34,0.34 0 1,0 -0.69,0M253.0,563.4a0.37,0.37 0 1,0 0.74,0a0.37,0.37 0 1,0 -0.74,0M251.9,558.6a0.41,0.41 0 1,0 0.81,0a0.41,0.41 0 1,0 -0.81,0M252.1,562.5a0.33,0.33 0 1,0 0.66,0a0.33,0.33 0 1,0 -0.66,0M243.3,532.3a0.57,0.57 0 1,0 1.13,0a0.57,0.57 0 1,0 -1.13,0M243.0,527.2a0.49,0.49 0 1,0 0.99,0a0.49,0.49 0 1,0 -0.99,0M238.9,514.4a0.51,0.51 0 1,0 1.01,0a0.51,0.51 0 1,0 -1.01,0M234.0,504.6a0.51,0.51 0 1,0 1.03,0a0.51,0.51 0 1,0 -1.03,0M238.3,517.9a0.56,0.56 0 1,0 1.12,0a0.56,0.56 0 1,0 -1.12,0M237.8,510.8a0.60,0.60 0 1,0 1.19,0a0.60,0.60 0 1,0 -1.19,0M250.8,558.9a0.37,0.37 0 1,0 0.75,0a0.37,0.37 0 1,0 -0.75,0M238.1,516.6a0.33,0.33 0 1,0 0.67,0a0.33,0.33 0 1,0 -0.67,0M239.6,516.9a0.36,0.36 0 1,0 0.71,0a0.36,0.36 0 1,0 -0.71,0M238.1,514.3a0.68,0.68 0 1,0 1.35,0a0.68,0.68 0 1,0 -1.35,0M242.3,528.6a0.68,0.68 0 1,0 1.36,0a0.68,0.68 0 1,0 -1.36,0M238.2,517.9a0.68,0.68 0 1,0 1.36,0a0.68,0.68 0 1,0 -1.36,0M245.2,534.4a0.39,0.39 0 1,0 0.77,0a0.39,0.39 0 1,0 -0.77,0M251.8,558.7a0.48,0.48 0 1,0 0.97,0a0.48,0.48 0 1,0 -0.97,0M239.6,517.2a0.46,0.46 0 1,0 0.93,0a0.46,0.46 0 1,0 -0.93,0M241.3,524.8a0.45,0.45 0 1,0 0.90,0a0.45,0.45 0 1,0 -0.90,0M237.7,513.2a0.54,0.54 0 1,0 1.09,0a0.54,0.54 0 1,0 -1.09,0M238.8,519.6a0.58,0.58 0 1,0 1.17,0a0.58,0.58 0 1,0 -1.17,0M237.1,512.0a0.68,0.68 0 1,0 1.37,0a0.68,0.68 0 1,0 -1.37,0M237.9,512.9a0.53,0.53 0 1,0 1.07,0a0.53,0.53 0 1,0 -1.07,0M252.7,560.0a0.37,0.37 0 1,0 0.73,0a0.37,0.37 0 1,0 -0.73,0M245.4,540.6a0.66,0.66 0 1,0 1.31,0a0.66,0.66 0 1,0 -1.31,0M248.7,544.2a0.41,0.41 0 1,0 0.82,0a0.41,0.41 0 1,0 -0.82,0M252.9,563.5a0.67,0.67 0 1,0 1.33,0a0.67,0.67 0 1,0 -1.33,0M237.1,509.5a0.42,0.42 0 1,0 0.83,0a0.42,0.42 0 1,0 -0.83,0M254.2,564.5a0.51,0.51 0 1,0 1.02,0a0.51,0.51 0 1,0 -1.02,0M251.7,556.6a0.51,0.51 0 1,0 1.01,0a0.51,0.51 0 1,0 -1.01,0M236.8,511.2a0.53,0.53 0 1,0 1.07,0a0.53,0.53 0 1,0 -1.07,0M251.8,553.4a0.38,0.38 0 1,0 0.75,0a0.38,0.38 0 1,0 -0.75,0M236.8,507.2a0.37,0.37 0 1,0 0.75,0a0.37,0.37 0 1,0 -0.75,0M248.3,547.7a0.45,0.45 0 1,0 0.89,0a0.45,0.45 0 1,0 -0.89,0" fill="#e8321a"/>
<path d="M265.4,502.8l9.3,24.6" stroke="#d82a14" stroke-width="1.0" stroke-linecap="round" fill="none"/>
<path d="M269.6,515.5a0.60,0.60 0 1,0 1.19,0a0.60,0.60 0 1,0 -1.19,0M269.7,518.3a0.62,0.62 0 1,0 1.24,0a0.62,0.62 0 1,0 -1.24,0M264.0,503.2a0.58,0.58 0 1,0 1.17,0a0.58,0.58 0 1,0 -1.17,0M271.4,520.1a0.61,0.61 0 1,0 1.23,0a0.61,0.61 0 1,0 -1.23,0M265.8,509.2a0.38,0.38 0 1,0 0.77,0a0.38,0.38 0 1,0 -0.77,0M270.1,512.6a0.39,0.39 0 1,0 0.79,0a0.39,0.39 0 1,0 -0.79,0M271.1,521.6a0.61,0.61 0 1,0 1.21,0a0.61,0.61 0 1,0 -1.21,0M266.3,506.3a0.41,0.41 0 1,0 0.81,0a0.41,0.41 0 1,0 -0.81,0M265.7,504.1a0.47,0.47 0 1,0 0.94,0a0.47,0.47 0 1,0 -0.94,0M264.3,504.0a0.53,0.53 0 1,0 1.06,0a0.53,0.53 0 1,0 -1.06,0M268.2,510.9a0.37,0.37 0 1,0 0.74,0a0.37,0.37 0 1,0 -0.74,0M270.4,514.7a0.36,0.36 0 1,0 0.73,0a0.36,0.36 0 1,0 -0.73,0M269.2,511.7a0.63,0.63 0 1,0 1.27,0a0.63,0.63 0 1,0 -1.27,0M270.1,517.9a0.69,0.69 0 1,0 1.37,0a0.69,0.69 0 1,0 -1.37,0M266.9,507.1a0.40,0.40 0 1,0 0.80,0a0.40,0.40 0 1,0 -0.80,0M271.5,522.3a0.65,0.65 0 1,0 1.30,0a0.65,0.65 0 1,0 -1.30,0M270.4,517.4a0.51,0.51 0 1,0 1.03,0a0.51,0.51 0 1,0 -1.03,0M271.8,520.9a0.30,0.30 0 1,0 0.60,0a0.30,0.30 0 1,0 -0.60,0M266.6,507.0a0.39,0.39 0 1,0 0.78,0a0.39,0.39 0 1,0 -0.78,0M267.1,507.6a0.31,0.31 0 1,0 0.62,0a0.31,0.31 0 1,0 -0.62,0M267.6,505.0a0.36,0.36 0 1,0 0.72,0a0.36,0.36 0 1,0 -0.72,0M267.5,511.0a0.47,0.47 0 1,0 0.93,0a0.47,0.47 0 1,0 -0.93,0M269.5,514.8a0.33,0.33 0 1,0 0.67,0a0.33,0.33 0 1,0 -0.67,0M267.0,507.3a0.58,0.58 0 1,0 1.16,0a0.58,0.58 0 1,0 -1.16,0M267.7,508.3a0.44,0.44 0 1,0 0.87,0a0.44,0.44 0 1,0 -0.87,0M270.0,516.2a0.52,0.52 0 1,0 1.05,0a0.52,0.52 0 1,0 -1.05,0M265.9,504.8a0.45,0.45 0 1,0 0.91,0a0.45,0.45 0 1,0 -0.91,0M271.6,521.5a0.62,0.62 0 1,0 1.24,0a0.62,0.62 0 1,0 -1.24,0M265.4,504.9a0.58,0.58 0 1,0 1.17,0a0.58,0.58 0 1,0 -1.17,0M272.7,522.2a0.34,0.34 0 1,0 0.67,0a0.34,0.34 0 1,0 -0.67,0M270.9,519.0a0.38,0.38 0 1,0 0.75,0a0.38,0.38 0 1,0 -0.75,0M271.1,517.7a0.40,0.40 0 1,0 0.79,0a0.40,0.40 0 1,0 -0.79,0M266.6,509.5a0.59,0.59 0 1,0 1.18,0a0.59,0.59 0 1,0 -1.18,0M265.2,503.1a0.42,0.42 0 1,0 0.83,0a0.42,0.42 0 1,0 -0.83,0M270.4,517.8a0.66,0.66 0 1,0 1.32,0a0.66,0.66 0 1,0 -1.32,0M266.6,508.7a0.40,0.40 0 1,0 0.81,0a0.40,0.40 0 1,0 -0.81,0M266.4,507.7a0.63,0.63 0 1,0 1.26,0a0.63,0.63 0 1,0 -1.26,0M272.7,520.1a0.42,0.42 0 1,0 0.85,0a0.42,0.42 0 1,0 -0.85,0M267.8,510.4a0.54,0.54 0 1,0 1.09,0a0.54,0.54 0 1,0 -1.09,0M266.6,505.2a0.36,0.36 0 1,0 0.72,0a0.36,0.36 0 1,0 -0.72,0" fill="#e8321a"/>
<path d="M240.6,562.0a0.39,0.39 0 1,0 0.78,0a0.39,0.39 0 1,0 -0.78,0M221.4,511.1a0.46,0.46 0 1,0 0.93,0a0.46,0.46 0 1,0 -0.93,0M232.8,548.9a0.35,0.35 0 1,0 0.70,0a0.35,0.35 0 1,0 -0.70,0M221.0,509.0a0.41,0.41 0 1,0 0.83,0a0.41,0.41 0 1,0 -0.83,0M234.3,547.5a0.51,0.51 0 1,0 1.03,0a0.51,0.51 0 1,0 -1.03,0M235.1,547.8a0.50,0.50 0 1,0 1.00,0a0.50,0.50 0 1,0 -1.00,0M241.2,562.1a0.35,0.35 0 1,0 0.69,0a0.35,0.35 0 1,0 -0.69,0M229.3,531.8a0.32,0.32 0 1,0 0.63,0a0.32,0.32 0 1,0 -0.63,0M240.9,565.9a0.51,0.51 0 1,0 1.02,0a0.51,0.51 0 1,0 -1.02,0M232.8,543.6a0.64,0.64 0 1,0 1.28,0a0.64,0.64 0 1,0 -1.28,0M235.6,553.1a0.48,0.48 0 1,0 0.95,0a0.48,0.48 0 1,0 -0.95,0M223.1,509.4a0.43,0.43 0 1,0 0.86,0a0.43,0.43 0 1,0 -0.86,0M236.7,553.1a0.33,0.33 0 1,0 0.66,0a0.33,0.33 0 1,0 -0.66,0M221.5,513.5a0.38,0.38 0 1,0 0.75,0a0.38,0.38 0 1,0 -0.75,0M224.4,513.1a0.45,0.45 0 1,0 0.90,0a0.45,0.45 0 1,0 -0.90,0M223.5,515.1a0.35,0.35 0 1,0 0.71,0a0.35,0.35 0 1,0 -0.71,0M225.5,517.2a0.71,0.71 0 1,0 1.41,0a0.71,0.71 0 1,0 -1.41,0M232.1,533.2a0.43,0.43 0 1,0 0.86,0a0.43,0.43 0 1,0 -0.86,0M229.7,531.0a0.36,0.36 0 1,0 0.72,0a0.36,0.36 0 1,0 -0.72,0M225.1,515.7a0.67,0.67 0 1,0 1.33,0a0.67,0.67 0 1,0 -1.33,0M227.5,526.3a0.51,0.51 0 1,0 1.02,0a0.51,0.51 0 1,0 -1.02,0M242.2,569.1a0.44,0.44 0 1,0 0.89,0a0.44,0.44 0 1,0 -0.89,0M224.2,513.3a0.38,0.38 0 1,0 0.77,0a0.38,0.38 0 1,0 -0.77,0M230.2,527.8a0.56,0.56 0 1,0 1.12,0a0.56,0.56 0 1,0 -1.12,0M220.9,502.3a0.70,0.70 0 1,0 1.41,0a0.70,0.70 0 1,0 -1.41,0M238.3,566.8a0.67,0.67 0 1,0 1.34,0a0.67,0.67 0 1,0 -1.34,0M225.2,521.5a0.46,0.46 0 1,0 0.92,0a0.46,0.46 0 1,0 -0.92,0M228.8,528.3a0.71,0.71 0 1,0 1.42,0a0.71,0.71 0 1,0 -1.42,0M226.8,527.6a0.64,0.64 0 1,0 1.28,0a0.64,0.64 0 1,0 -1.28,0M227.6,517.9a0.75,0.75 0 1,0 1.49,0a0.75,0.75 0 1,0 -1.49,0M235.4,547.5a0.41,0.41 0 1,0 0.83,0a0.41,0.41 0 1,0 -0.83,0M232.0,547.3a0.36,0.36 0 1,0 0.72,0a0.36,0.36 0 1,0 -0.72,0M230.2,540.2a0.46,0.46 0 1,0 0.91,0a0.46,0.46 0 1,0 -0.91,0M239.4,555.2a0.36,0.36 0 1,0 0.73,0a0.36,0.36 0 1,0 -0.73,0M239.3,561.4a0.59,0.59 0 1,0 1.19,0a0.59,0.59 0 1,0 -1.19,0M222.9,505.3a0.51,0.51 0 1,0 1.01,0a0.51,0.51 0 1,0 -1.01,0M227.8,522.8a0.69,0.69 0 1,0 1.38,0a0.69,0.69 0 1,0 -1.38,0M224.6,518.1a0.35,0.35 0 1,0 0.69,0a0.35,0.35 0 1,0 -0.69,0M229.8,524.8a0.40,0.40 0 1,0 0.80,0a0.40,0.40 0 1,0 -0.80,0M224.3,509.0a0.39,0.39 0 1,0 0.78,0a0.39,0.39 0 1,0 -0.78,0M227.7,534.5a0.73,0.73 0 1,0 1.46,0a0.73,0.73 0 1,0 -1.46,0M224.9,521.1a0.51,0.51 0 1,0 1.02,0a0.51,0.51 0 1,0 -1.02,0M238.4,559.9a0.69,0.69 0 1,0 1.39,0a0.69,0.69 0 1,0 -1.39,0M233.5,541.3a0.67,0.67 0 1,0 1.35,0a0.67,0.67 0 1,0 -1.35,0M229.4,536.8a0.70,0.70 0 1,0 1.39,0a0.70,0.70 0 1,0 -1.39,0M234.4,547.4a0.46,0.46 0 1,0 0.93,0a0.46,0.46 0 1,0 -0.93,0M239.4,564.2a0.71,0.71 0 1,0 1.42,0a0.71,0.71 0 1,0 -1.42,0M220.0,504.9a0.62,0.62 0 1,0 1.25,0a0.62,0.62 0 1,0 -1.25,0M230.5,531.9a0.67,0.67 0 1,0 1.34,0a0.67,0.67 0 1,0 -1.34,0M235.7,554.8a0.64,0.64 0 1,0 1.27,0a0.64,0.64 0 1,0 -1.27,0" fill="#b81e10"/>
<path d="M259.4,552.8a0.75,0.75 0 1,0 1.49,0a0.75,0.75 0 1,0 -1.49,0M250.7,530.1a0.72,0.72 0 1,0 1.44,0a0.72,0.72 0 1,0 -1.44,0M247.8,516.4a0.63,0.63 0 1,0 1.26,0a0.63,0.63 0 1,0 -1.26,0M246.4,513.9a0.60,0.60 0 1,0 1.20,0a0.60,0.60 0 1,0 -1.20,0M253.3,510.1a0.55,0.55 0 1,0 1.10,0a0.55,0.55 0 1,0 -1.10,0M260.2,552.4a0.55,0.55 0 1,0 1.10,0a0.55,0.55 0 1,0 -1.10,0M259.1,546.6a0.72,0.72 0 1,0 1.43,0a0.72,0.72 0 1,0 -1.43,0M249.9,515.8a0.70,0.70 0 1,0 1.41,0a0.70,0.70 0 1,0 -1.41,0M262.3,555.3a0.72,0.72 0 1,0 1.44,0a0.72,0.72 0 1,0 -1.44,0M255.8,537.5a0.66,0.66 0 1,0 1.32,0a0.66,0.66 0 1,0 -1.32,0M251.5,527.4a0.42,0.42 0 1,0 0.85,0a0.42,0.42 0 1,0 -0.85,0M250.9,527.7a0.34,0.34 0 1,0 0.68,0a0.34,0.34 0 1,0 -0.68,0M243.5,505.7a0.64,0.64 0 1,0 1.27,0a0.64,0.64 0 1,0 -1.27,0M249.0,518.9a0.38,0.38 0 1,0 0.76,0a0.38,0.38 0 1,0 -0.76,0M256.3,537.9a0.56,0.56 0 1,0 1.13,0a0.56,0.56 0 1,0 -1.13,0M257.5,543.1a0.62,0.62 0 1,0 1.24,0a0.62,0.62 0 1,0 -1.24,0M251.5,516.6a0.32,0.32 0 1,0 0.65,0a0.32,0.32 0 1,0 -0.65,0M261.3,558.5a0.33,0.33 0 1,0 0.66,0a0.33,0.33 0 1,0 -0.66,0M258.7,549.0a0.51,0.51 0 1,0 1.01,0a0.51,0.51 0 1,0 -1.01,0M257.3,540.5a0.64,0.64 0 1,0 1.29,0a0.64,0.64 0 1,0 -1.29,0M249.4,518.5a0.48,0.48 0 1,0 0.97,0a0.48,0.48 0 1,0 -0.97,0M255.7,540.1a0.40,0.40 0 1,0 0.80,0a0.40,0.40 0 1,0 -0.80,0M246.6,509.6a0.53,0.53 0 1,0 1.05,0a0.53,0.53 0 1,0 -1.05,0M246.3,514.3a0.74,0.74 0 1,0 1.48,0a0.74,0.74 0 1,0 -1.48,0M255.1,531.2a0.39,0.39 0 1,0 0.78,0a0.39,0.39 0 1,0 -0.78,0M256.0,538.5a0.33,0.33 0 1,0 0.67,0a0.33,0.33 0 1,0 -0.67,0M258.8,543.9a0.46,0.46 0 1,0 0.92,0a0.46,0.46 0 1,0 -0.92,0M251.1,529.9a0.48,0.48 0 1,0 0.95,0a0.48,0.48 0 1,0 -0.95,0M248.8,511.0a0.30,0.30 0 1,0 0.61,0a0.30,0.30 0 1,0 -0.61,0M259.7,551.5a0.58,0.58 0 1,0 1.17,0a0.58,0.58 0 1,0 -1.17,0M260.1,557.7a0.43,0.43 0 1,0 0.87,0a0.43,0.43 0 1,0 -0.87,0M253.3,533.7a0.73,0.73 0 1,0 1.45,0a0.73,0.73 0 1,0 -1.45,0M245.3,514.0a0.66,0.66 0 1,0 1.31,0a0.66,0.66 0 1,0 -1.31,0M254.5,536.6a0.73,0.73 0 1,0 1.45,0a0.73,0.73 0 1,0 -1.45,0M254.0,535.9a0.35,0.35 0 1,0 0.70,0a0.35,0.35 0 1,0 -0.70,0M261.0,555.2a0.45,0.45 0 1,0 0.89,0a0.45,0.45 0 1,0 -0.89,0M251.8,531.4a0.70,0.70 0 1,0 1.41,0a0.70,0.70 0 1,0 -1.41,0M247.8,523.1a0.59,0.59 0 1,0 1.18,0a0.59,0.59 0 1,0 -1.18,0M252.5,532.4a0.57,0.57 0 1,0 1.15,0a0.57,0.57 0 1,0 -1.15,0M258.8,550.4a0.47,0.47 0 1,0 0.95,0a0.47,0.47 0 1,0 -0.95,0M252.8,523.6a0.42,0.42 0 1,0 0.85,0a0.42,0.42 0 1,0 -0.85,0M250.9,522.0a0.61,0.61 0 1,0 1.22,0a0.61,0.61 0 1,0 -1.22,0M245.1,505.2a0.66,0.66 0 1,0 1.33,0a0.66,0.66 0 1,0 -1.33,0M247.5,512.5a0.42,0.42 0 1,0 0.84,0a0.42,0.42 0 1,0 -0.84,0M257.1,543.0a0.73,0.73 0 1,0 1.45,0a0.73,0.73 0 1,0 -1.45,0M254.9,535.2a0.72,0.72 0 1,0 1.43,0a0.72,0.72 0 1,0 -1.43,0M253.1,530.9a0.69,0.69 0 1,0 1.37,0a0.69,0.69 0 1,0 -1.37,0M253.9,527.4a0.64,0.64 0 1,0 1.28,0a0.64,0.64 0 1,0 -1.28,0M256.0,538.1a0.33,0.33 0 1,0 0.65,0a0.33,0.33 0 1,0 -0.65,0M249.0,511.0a0.58,0.58 0 1,0 1.17,0a0.58,0.58 0 1,0 -1.17,0" fill="#b81e10"/>
<path d="M257.1,518.5a0.57,0.57 0 1,0 1.15,0a0.57,0.57 0 1,0 -1.15,0M267.9,548.9a0.74,0.74 0 1,0 1.48,0a0.74,0.74 0 1,0 -1.48,0M261.8,536.5a0.40,0.40 0 1,0 0.81,0a0.40,0.40 0 1,0 -0.81,0M274.6,566.0a0.38,0.38 0 1,0 0.76,0a0.38,0.38 0 1,0 -0.76,0M258.6,522.6a0.63,0.63 0 1,0 1.26,0a0.63,0.63 0 1,0 -1.26,0M253.9,514.4a0.32,0.32 0 1,0 0.63,0a0.32,0.32 0 1,0 -0.63,0M263.1,534.3a0.50,0.50 0 1,0 1.01,0a0.50,0.50 0 1,0 -1.01,0M269.6,560.1a0.48,0.48 0 1,0 0.96,0a0.48,0.48 0 1,0 -0.96,0M273.6,561.9a0.55,0.55 0 1,0 1.10,0a0.55,0.55 0 1,0 -1.10,0M257.8,520.7a0.61,0.61 0 1,0 1.22,0a0.61,0.61 0 1,0 -1.22,0M255.5,509.4a0.53,0.53 0 1,0 1.06,0a0.53,0.53 0 1,0 -1.06,0M255.1,510.4a0.60,0.60 0 1,0 1.20,0a0.60,0.60 0 1,0 -1.20,0M264.5,542.0a0.73,0.73 0 1,0 1.46,0a0.73,0.73 0 1,0 -1.46,0M273.7,564.2a0.44,0.44 0 1,0 0.88,0a0.44,0.44 0 1,0 -0.88,0M261.0,535.6a0.66,0.66 0 1,0 1.31,0a0.66,0.66 0 1,0 -1.31,0M270.6,551.8a0.61,0.61 0 1,0 1.22,0a0.61,0.61 0 1,0 -1.22,0M260.4,528.2a0.57,0.57 0 1,0 1.15,0a0.57,0.57 0 1,0 -1.15,0M258.6,519.1a0.42,0.42 0 1,0 0.85,0a0.42,0.42 0 1,0 -0.85,0M274.0,564.8a0.64,0.64 0 1,0 1.28,0a0.64,0.64 0 1,0 -1.28,0M257.3,518.0a0.71,0.71 0 1,0 1.42,0a0.71,0.71 0 1,0 -1.42,0M262.5,545.8a0.34,0.34 0 1,0 0.68,0a0.34,0.34 0 1,0 -0.68,0M269.7,555.7a0.35,0.35 0 1,0 0.70,0a0.35,0.35 0 1,0 -0.70,0M268.4,561.1a0.42,0.42 0 1,0 0.83,0a0.42,0.42 0 1,0 -0.83,0M267.4,551.9a0.52,0.52 0 1,0 1.04,0a0.52,0.52 0 1,0 -1.04,0M268.2,553.9a0.43,0.43 0 1,0 0.85,0a0.43,0.43 0 1,0 -0.85,0M264.1,530.6a0.75,0.75 0 1,0 1.50,0a0.75,0.75 0 1,0 -1.50,0M259.9,534.3a0.64,0.64 0 1,0 1.28,0a0.64,0.64 0 1,0 -1.28,0M263.6,536.0a0.73,0.73 0 1,0 1.46,0a0.73,0.73 0 1,0 -1.46,0M265.1,539.6a0.37,0.37 0 1,0 0.73,0a0.37,0.37 0 1,0 -0.73,0M270.8,550.9a0.54,0.54 0 1,0 1.09,0a0.54,0.54 0 1,0 -1.09,0M269.4,554.4a0.47,0.47 0 1,0 0.94,0a0.47,0.47 0 1,0 -0.94,0M259.3,525.1a0.52,0.52 0 1,0 1.03,0a0.52,0.52 0 1,0 -1.03,0M258.2,514.0a0.32,0.32 0 1,0 0.63,0a0.32,0.32 0 1,0 -0.63,0M260.7,537.9a0.63,0.63 0 1,0 1.26,0a0.63,0.63 0 1,0 -1.26,0M261.8,530.4a0.36,0.36 0 1,0 0.72,0a0.36,0.36 0 1,0 -0.72,0M270.0,557.7a0.53,0.53 0 1,0 1.05,0a0.53,0.53 0 1,0 -1.05,0M262.4,533.1a0.51,0.51 0 1,0 1.03,0a0.51,0.51 0 1,0 -1.03,0M268.9,558.6a0.40,0.40 0 1,0 0.80,0a0.40,0.40 0 1,0 -0.80,0M268.0,559.8a0.65,0.65 0 1,0 1.29,0a0.65,0.65 0 1,0 -1.29,0M263.4,546.3a0.50,0.50 0 1,0 1.00,0a0.50,0.50 0 1,0 -1.00,0M258.5,515.7a0.61,0.61 0 1,0 1.21,0a0.61,0.61 0 1,0 -1.21,0M268.1,554.8a0.67,0.67 0 1,0 1.34,0a0.67,0.67 0 1,0 -1.34,0M272.6,565.0a0.61,0.61 0 1,0 1.22,0a0.61,0.61 0 1,0 -1.22,0M264.1,543.0a0.36,0.36 0 1,0 0.72,0a0.36,0.36 0 1,0 -0.72,0M262.1,537.9a0.47,0.47 0 1,0 0.93,0a0.47,0.47 0 1,0 -0.93,0M264.9,540.7a0.37,0.37 0 1,0 0.75,0a0.37,0.37 0 1,0 -0.75,0M268.0,563.7a0.74,0.74 0 1,0 1.48,0a0.74,0.74 0 1,0 -1.48,0M254.1,517.6a0.47,0.47 0 1,0 0.95,0a0.47,0.47 0 1,0 -0.95,0M264.5,542.5a0.39,0.39 0 1,0 0.78,0a0.39,0.39 0 1,0 -0.78,0M256.5,520.4a0.55,0.55 0 1,0 1.11,0a0.55,0.55 0 1,0 -1.11,0" fill="#b81e10"/>
<path d="M217.3,563.9a0.73,0.73 0 1,0 1.45,0a0.73,0.73 0 1,0 -1.45,0M211.5,549.9a0.60,0.60 0 1,0 1.20,0a0.60,0.60 0 1,0 -1.20,0M209.9,537.4a0.74,0.74 0 1,0 1.47,0a0.74,0.74 0 1,0 -1.47,0M210.3,532.6a0.30,0.30 0 1,0 0.61,0a0.30,0.30 0 1,0 -0.61,0M213.9,548.5a0.35,0.35 0 1,0 0.71,0a0.35,0.35 0 1,0 -0.71,0M215.5,558.1a0.72,0.72 0 1,0 1.43,0a0.72,0.72 0 1,0 -1.43,0M217.8,565.1a0.30,0.30 0 1,0 0.60,0a0.30,0.30 0 1,0 -0.60,0M204.0,525.4a0.44,0.44 0 1,0 0.88,0a0.44,0.44 0 1,0 -0.88,0M214.8,547.7a0.71,0.71 0 1,0 1.41,0a0.71,0.71 0 1,0 -1.41,0M214.0,548.4a0.39,0.39 0 1,0 0.78,0a0.39,0.39 0 1,0 -0.78,0M209.0,529.2a0.72,0.72 0 1,0 1.44,0a0.72,0.72 0 1,0 -1.44,0M211.2,532.7a0.45,0.45 0 1,0 0.89,0a0.45,0.45 0 1,0 -0.89,0M216.7,567.2a0.33,0.33 0 1,0 0.66,0a0.33,0.33 0 1,0 -0.66,0M217.2,559.6a0.64,0.64 0 1,0 1.27,0a0.64,0.64 0 1,0 -1.27,0M210.6,535.0a0.60,0.60 0 1,0 1.20,0a0.60,0.60 0 1,0 -1.20,0M222.5,565.2a0.58,0.58 0 1,0 1.16,0a0.58,0.58 0 1,0 -1.16,0M215.7,553.5a0.55,0.55 0 1,0 1.10,0a0.55,0.55 0 1,0 -1.10,0M212.0,537.4a0.36,0.36 0 1,0 0.73,0a0.36,0.36 0 1,0 -0.73,0M209.5,530.3a0.66,0.66 0 1,0 1.32,0a0.66,0.66 0 1,0 -1.32,0M206.7,528.8a0.55,0.55 0 1,0 1.10,0a0.55,0.55 0 1,0 -1.10,0M211.6,540.4a0.33,0.33 0 1,0 0.65,0a0.33,0.33 0 1,0 -0.65,0M212.1,543.3a0.41,0.41 0 1,0 0.82,0a0.41,0.41 0 1,0 -0.82,0M216.6,560.0a0.51,0.51 0 1,0 1.03,0a0.51,0.51 0 1,0 -1.03,0M210.2,541.4a0.40,0.40 0 1,0 0.80,0a0.40,0.40 0 1,0 -0.80,0M215.5,551.0a0.53,0.53 0 1,0 1.05,0a0.53,0.53 0 1,0 -1.05,0M217.3,563.4a0.33,0.33 0 1,0 0.66,0a0.33,0.33 0 1,0 -0.66,0M207.3,525.8a0.59,0.59 0 1,0 1.18,0a0.59,0.59 0 1,0 -1.18,0M211.0,542.6a0.72,0.72 0 1,0 1.44,0a0.72,0.72 0 1,0 -1.44,0M210.4,533.7a0.45,0.45 0 1,0 0.89,0a0.45,0.45 0 1,0 -0.89,0M217.3,561.9a0.37,0.37 0 1,0 0.75,0a0.37,0.37 0 1,0 -0.75,0M209.1,525.5a0.59,0.59 0 1,0 1.18,0a0.59,0.59 0 1,0 -1.18,0M208.2,528.4a0.53,0.53 0 1,0 1.06,0a0.53,0.53 0 1,0 -1.06,0M212.4,538.3a0.62,0.62 0 1,0 1.25,0a0.62,0.62 0 1,0 -1.25,0M213.9,546.8a0.49,0.49 0 1,0 0.99,0a0.49,0.49 0 1,0 -0.99,0M217.4,553.6a0.30,0.30 0 1,0 0.60,0a0.30,0.30 0 1,0 -0.60,0M208.8,532.3a0.34,0.34 0 1,0 0.68,0a0.34,0.34 0 1,0 -0.68,0M216.3,553.1a0.42,0.42 0 1,0 0.84,0a0.42,0.42 0 1,0 -0.84,0M214.9,553.7a0.61,0.61 0 1,0 1.22,0a0.61,0.61 0 1,0 -1.22,0M212.1,541.8a0.54,0.54 0 1,0 1.09,0a0.54,0.54 0 1,0 -1.09,0M219.1,566.8a0.53,0.53 0 1,0 1.05,0a0.53,0.53 0 1,0 -1.05,0M213.3,545.9a0.52,0.52 0 1,0 1.05,0a0.52,0.52 0 1,0 -1.05,0M215.4,561.9a0.67,0.67 0 1,0 1.33,0a0.67,0.67 0 1,0 -1.33,0M213.5,544.5a0.36,0.36 0 1,0 0.71,0a0.36,0.36 0 1,0 -0.71,0M214.1,551.3a0.74,0.74 0 1,0 1.48,0a0.74,0.74 0 1,0 -1.48,0M206.8,521.1a0.35,0.35 0 1,0 0.70,0a0.35,0.35 0 1,0 -0.70,0M212.2,536.9a0.63,0.63 0 1,0 1.25,0a0.63,0.63 0 1,0 -1.25,0M210.3,536.2a0.62,0.62 0 1,0 1.24,0a0.62,0.62 0 1,0 -1.24,0M211.7,534.0a0.30,0.30 0 1,0 0.60,0a0.30,0.30 0 1,0 -0.60,0M207.3,522.9a0.59,0.59 0 1,0 1.17,0a0.59,0.59 0 1,0 -1.17,0M210.3,527.0a0.35,0.35 0 1,0 0.70,0a0.35,0.35 0 1,0 -0.70,0" fill="#b81e10"/>
<path d="M230.6,545.1a0.32,0.32 0 1,0 0.64,0a0.32,0.32 0 1,0 -0.64,0M233.6,540.9a0.44,0.44 0 1,0 0.89,0a0.44,0.44 0 1,0 -0.89,0M236.4,561.5a0.56,0.56 0 1,0 1.13,0a0.56,0.56 0 1,0 -1.13,0M234.2,563.7a0.55,0.55 0 1,0 1.11,0a0.55,0.55 0 1,0 -1.11,0M227.1,538.4a0.45,0.45 0 1,0 0.90,0a0.45,0.45 0 1,0 -0.90,0M228.7,544.8a0.40,0.40 0 1,0 0.80,0a0.40,0.40 0 1,0 -0.80,0M227.8,541.5a0.49,0.49 0 1,0 0.98,0a0.49,0.49 0 1,0 -0.98,0M234.1,557.0a0.42,0.42 0 1,0 0.85,0a0.42,0.42 0 1,0 -0.85,0M233.7,556.9a0.53,0.53 0 1,0 1.07,0a0.53,0.53 0 1,0 -1.07,0M230.7,539.7a0.47,0.47 0 1,0 0.94,0a0.47,0.47 0 1,0 -0.94,0M227.6,543.2a0.67,0.67 0 1,0 1.34,0a0.67,0.67 0 1,0 -1.34,0M231.4,547.9a0.50,0.50 0 1,0 1.01,0a0.50,0.50 0 1,0 -1.01,0M229.7,545.6a0.64,0.64 0 1,0 1.28,0a0.64,0.64 0 1,0 -1.28,0M234.2,558.9a0.65,0.65 0 1,0 1.31,0a0.65,0.65 0 1,0 -1.31,0M232.2,553.3a0.61,0.61 0 1,0 1.22,0a0.61,0.61 0 1,0 -1.22,0M230.8,541.8a0.31,0.31 0 1,0 0.63,0a0.31,0.31 0 1,0 -0.63,0M234.0,565.8a0.73,0.73 0 1,0 1.47,0a0.73,0.73 0 1,0 -1.47,0M235.1,561.7a0.35,0.35 0 1,0 0.70,0a0.35,0.35 0 1,0 -0.70,0M234.6,558.5a0.47,0.47 0 1,0 0.93,0a0.47,0.47 0 1,0 -0.93,0M227.0,541.4a0.70,0.70 0 1,0 1.41,0a0.70,0.70 0 1,0 -1.41,0M236.2,560.9a0.49,0.49 0 1,0 0.98,0a0.49,0.49 0 1,0 -0.98,0M230.8,542.7a0.37,0.37 0 1,0 0.74,0a0.37,0.37 0 1,0 -0.74,0M232.0,540.3a0.45,0.45 0 1,0 0.90,0a0.45,0.45 0 1,0 -0.90,0M236.5,561.2a0.39,0.39 0 1,0 0.77,0a0.39,0.39 0 1,0 -0.77,0M233.7,559.8a0.71,0.71 0 1,0 1.41,0a0.71,0.71 0 1,0 -1.41,0M229.7,548.5a0.41,0.41 0 1,0 0.83,0a0.41,0.41 0 1,0 -0.83,0M226.0,533.1a0.30,0.30 0 1,0 0.61,0a0.30,0.30 0 1,0 -0.61,0M230.4,543.6a0.61,0.61 0 1,0 1.21,0a0.61,0.61 0 1,0 -1.21,0M232.9,554.2a0.60,0.60 0 1,0 1.21,0a0.60,0.60 0 1,0 -1.21,0M232.4,554.4a0.68,0.68 0 1,0 1.37,0a0.68,0.68 0 1,0 -1.37,0M235.9,566.1a0.56,0.56 0 1,0 1.12,0a0.56,0.56 0 1,0 -1.12,0M231.0,543.4a0.59,0.59 0 1,0 1.18,0a0.59,0.59 0 1,0 -1.18,0M232.1,553.1a0.40,0.40 0 1,0 0.79,0a0.40,0.40 0 1,0 -0.79,0M228.5,543.4a0.71,0.71 0 1,0 1.41,0a0.71,0.71 0 1,0 -1.41,0M228.7,535.6a0.69,0.69 0 1,0 1.37,0a0.69,0.69 0 1,0 -1.37,0M228.2,539.6a0.32,0.32 0 1,0 0.63,0a0.32,0.32 0 1,0 -0.63,0M234.9,559.1a0.65,0.65 0 1,0 1.30,0a0.65,0.65 0 1,0 -1.30,0M232.0,548.7a0.47,0.47 0 1,0 0.94,0a0.47,0.47 0 1,0 -0.94,0M227.1,538.0a0.68,0.68 0 1,0 1.36,0a0.68,0.68 0 1,0 -1.36,0M230.4,552.9a0.35,0.35 0 1,0 0.69,0a0.35,0.35 0 1,0 -0.69,0M229.1,539.4a0.75,0.75 0 1,0 1.49,0a0.75,0.75 0 1,0 -1.49,0M226.9,535.0a0.30,0.30 0 1,0 0.60,0a0.30,0.30 0 1,0 -0.60,0M228.8,535.6a0.49,0.49 0 1,0 0.99,0a0.49,0.49 0 1,0 -0.99,0M231.2,551.9a0.53,0.53 0 1,0 1.06,0a0.53,0.53 0 1,0 -1.06,0M237.3,568.3a0.52,0.52 0 1,0 1.04,0a0.52,0.52 0 1,0 -1.04,0M230.8,544.2a0.69,0.69 0 1,0 1.39,0a0.69,0.69 0 1,0 -1.39,0M229.2,546.0a0.55,0.55 0 1,0 1.11,0a0.55,0.55 0 1,0 -1.11,0M232.6,543.5a0.47,0.47 0 1,0 0.93,0a0.47,0.47 0 1,0 -0.93,0M226.9,534.2a0.45,0.45 0 1,0 0.89,0a0.45,0.45 0 1,0 -0.89,0M230.7,542.3a0.49,0.49 0 1,0 0.98,0a0.49,0.49 0 1,0 -0.98,0" fill="#b81e10"/>
<path d="M255.2,565.8a0.37,0.37 0 1,0 0.75,0a0.37,0.37 0 1,0 -0.75,0M250.5,544.6a0.48,0.48 0 1,0 0.97,0a0.48,0.48 0 1,0 -0.97,0M244.6,516.9a0.67,0.67 0 1,0 1.35,0a0.67,0.67 0 1,0 -1.35,0M246.8,527.2a0.40,0.40 0 1,0 0.80,0a0.40,0.40 0 1,0 -0.80,0M255.2,563.1a0.52,0.52 0 1,0 1.05,0a0.52,0.52 0 1,0 -1.05,0M248.4,534.5a0.59,0.59 0 1,0 1.18,0a0.59,0.59 0 1,0 -1.18,0M251.8,549.9a0.36,0.36 0 1,0 0.72,0a0.36,0.36 0 1,0 -0.72,0M251.4,544.2a0.44,0.44 0 1,0 0.88,0a0.44,0.44 0 1,0 -0.88,0M250.5,539.9a0.58,0.58 0 1,0 1.15,0a0.58,0.58 0 1,0 -1.15,0M242.1,514.1a0.55,0.55 0 1,0 1.09,0a0.55,0.55 0 1,0 -1.09,0M251.0,541.2a0.40,0.40 0 1,0 0.80,0a0.40,0.40 0 1,0 -0.80,0M248.5,530.2a0.64,0.64 0 1,0 1.28,0a0.64,0.64 0 1,0 -1.28,0M242.8,528.0a0.67,0.67 0 1,0 1.34,0a0.67,0.67 0 1,0 -1.34,0M252.8,546.5a0.31,0.31 0 1,0 0.63,0a0.31,0.31 0 1,0 -0.63,0M257.9,562.9a0.42,0.42 0 1,0 0.84,0a0.42,0.42 0 1,0 -0.84,0M255.4,560.0a0.53,0.53 0 1,0 1.07,0a0.53,0.53 0 1,0 -1.07,0M241.9,503.5a0.67,0.67 0 1,0 1.35,0a0.67,0.67 0 1,0 -1.35,0M249.1,547.0a0.39,0.39 0 1,0 0.78,0a0.39,0.39 0 1,0 -0.78,0M255.0,561.3a0.45,0.45 0 1,0 0.90,0a0.45,0.45 0 1,0 -0.90,0M243.7,508.6a0.35,0.35 0 1,0 0.71,0a0.35,0.35 0 1,0 -0.71,0M242.7,514.8a0.71,0.71 0 1,0 1.43,0a0.71,0.71 0 1,0 -1.43,0M258.1,558.4a0.50,0.50 0 1,0 1.00,0a0.50,0.50 0 1,0 -1.00,0M252.7,557.6a0.66,0.66 0 1,0 1.33,0a0.66,0.66 0 1,0 -1.33,0M252.3,551.0a0.72,0.72 0 1,0 1.43,0a0.72,0.72 0 1,0 -1.43,0M247.5,537.0a0.36,0.36 0 1,0 0.73,0a0.36,0.36 0 1,0 -0.73,0M249.5,548.8a0.51,0.51 0 1,0 1.01,0a0.51,0.51 0 1,0 -1.01,0M244.8,515.8a0.64,0.64 0 1,0 1.27,0a0.64,0.64 0 1,0 -1.27,0M254.1,558.9a0.48,0.48 0 1,0 0.96,0a0.48,0.48 0 1,0 -0.96,0M245.0,521.2a0.47,0.47 0 1,0 0.93,0a0.47,0.47 0 1,0 -0.93,0M248.4,536.1a0.64,0.64 0 1,0 1.28,0a0.64,0.64 0 1,0 -1.28,0M253.7,550.3a0.39,0.39 0 1,0 0.79,0a0.39,0.39 0 1,0 -0.79,0M246.0,523.7a0.48,0.48 0 1,0 0.97,0a0.48,0.48 0 1,0 -0.97,0M250.9,539.7a0.51,0.51 0 1,0 1.02,0a0.51,0.51 0 1,0 -1.02,0M248.9,535.0a0.63,0.63 0 1,0 1.25,0a0.63,0.63 0 1,0 -1.25,0M246.7,525.5a0.42,0.42 0 1,0 0.85,0a0.42,0.42 0 1,0 -0.85,0M249.5,544.3a0.56,0.56 0 1,0 1.12,0a0.56,0.56 0 1,0 -1.12,0M243.9,517.5a0.66,0.66 0 1,0 1.32,0a0.66,0.66 0 1,0 -1.32,0M245.6,518.2a0.57,0.57 0 1,0 1.14,0a0.57,0.57 0 1,0 -1.14,0M252.5,545.3a0.43,0.43 0 1,0 0.86,0a0.43,0.43 0 1,0 -0.86,0M254.8,556.7a0.67,0.67 0 1,0 1.33,0a0.67,0.67 0 1,0 -1.33,0M246.2,528.4a0.39,0.39 0 1,0 0.77,0a0.39,0.39 0 1,0 -0.77,0M241.0,510.8a0.37,0.37 0 1,0 0.73,0a0.37,0.37 0 1,0 -0.73,0M245.3,516.6a0.37,0.37 0 1,0 0.73,0a0.37,0.37 0 1,0 -0.73,0M242.8,514.8a0.51,0.51 0 1,0 1.03,0a0.51,0.51 0 1,0 -1.03,0M247.6,538.5a0.68,0.68 0 1,0 1.35,0a0.68,0.68 0 1,0 -1.35,0M242.0,504.2a0.32,0.32 0 1,0 0.63,0a0.32,0.32 0 1,0 -0.63,0M251.5,551.9a0.40,0.40 0 1,0 0.80,0a0.40,0.40 0 1,0 -0.80,0M252.5,555.6a0.40,0.40 0 1,0 0.81,0a0.40,0.40 0 1,0 -0.81,0M249.0,539.1a0.52,0.52 0 1,0 1.03,0a0.52,0.52 0 1,0 -1.03,0M240.5,506.0a0.37,0.37 0 1,0 0.74,0a0.37,0.37 0 1,0 -0.74,0" fill="#b81e10"/>
<path d="M269.1,523.8a0.68,0.68 0 1,0 1.36,0a0.68,0.68 0 1,0 -1.36,0M274.3,536.9a0.34,0.34 0 1,0 0.68,0a0.34,0.34 0 1,0 -0.68,0M267.2,513.9a0.41,0.41 0 1,0 0.83,0a0.41,0.41 0 1,0 -0.83,0M264.8,515.2a0.65,0.65 0 1,0 1.31,0a0.65,0.65 0 1,0 -1.31,0M272.3,531.6a0.30,0.30 0 1,0 0.61,0a0.30,0.30 0 1,0 -0.61,0M268.2,517.4a0.65,0.65 0 1,0 1.30,0a0.65,0.65 0 1,0 -1.30,0M274.6,541.7a0.64,0.64 0 1,0 1.28,0a0.64,0.64 0 1,0 -1.28,0M269.0,518.6a0.44,0.44 0 1,0 0.88,0a0.44,0.44 0 1,0 -0.88,0M265.2,505.7a0.50,0.50 0 1,0 1.00,0a0.50,0.50 0 1,0 -1.00,0M268.2,517.5a0.51,0.51 0 1,0 1.03,0a0.51,0.51 0 1,0 -1.03,0M262.4,511.9a0.48,0.48 0 1,0 0.97,0a0.48,0.48 0 1,0 -0.97,0M269.1,528.0a0.56,0.56 0 1,0 1.12,0a0.56,0.56 0 1,0 -1.12,0M263.2,511.8a0.34,0.34 0 1,0 0.67,0a0.34,0.34 0 1,0 -0.67,0M270.2,514.9a0.31,0.31 0 1,0 0.61,0a0.31,0.31 0 1,0 -0.61,0M268.4,525.3a0.51,0.51 0 1,0 1.02,0a0.51,0.51 0 1,0 -1.02,0M263.5,510.6a0.63,0.63 0 1,0 1.26,0a0.63,0.63 0 1,0 -1.26,0M263.8,509.7a0.60,0.60 0 1,0 1.19,0a0.60,0.60 0 1,0 -1.19,0M261.7,504.8a0.57,0.57 0 1,0 1.14,0a0.57,0.57 0 1,0 -1.14,0M268.3,517.8a0.43,0.43 0 1,0 0.86,0a0.43,0.43 0 1,0 -0.86,0M271.4,535.2a0.66,0.66 0 1,0 1.33,0a0.66,0.66 0 1,0 -1.33,0M263.8,507.4a0.72,0.72 0 1,0 1.44,0a0.72,0.72 0 1,0 -1.44,0M262.9,503.1a0.38,0.38 0 1,0 0.76,0a0.38,0.38 0 1,0 -0.76,0M266.1,518.5a0.36,0.36 0 1,0 0.71,0a0.36,0.36 0 1,0 -0.71,0M267.9,526.8a0.47,0.47 0 1,0 0.94,0a0.47,0.47 0 1,0 -0.94,0M268.5,523.7a0.44,0.44 0 1,0 0.89,0a0.44,0.44 0 1,0 -0.89,0M271.0,526.8a0.64,0.64 0 1,0 1.28,0a0.64,0.64 0 1,0 -1.28,0M266.4,514.4a0.50,0.50 0 1,0 1.00,0a0.50,0.50 0 1,0 -1.00,0M273.5,538.2a0.64,0.64 0 1,0 1.29,0a0.64,0.64 0 1,0 -1.29,0M267.0,515.4a0.49,0.49 0 1,0 0.98,0a0.49,0.49 0 1,0 -0.98,0M274.7,538.5a0.55,0.55 0 1,0 1.10,0a0.55,0.55 0 1,0 -1.10,0M269.0,519.6a0.71,0.71 0 1,0 1.42,0a0.71,0.71 0 1,0 -1.42,0M264.6,513.9a0.33,0.33 0 1,0 0.66,0a0.33,0.33 0 1,0 -0.66,0M274.6,539.4a0.62,0.62 0 1,0 1.24,0a0.62,0.62 0 1,0 -1.24,0M262.4,504.7a0.51,0.51 0 1,0 1.03,0a0.51,0.51 0 1,0 -1.03,0M263.6,504.9a0.34,0.34 0 1,0 0.67,0a0.34,0.34 0 1,0 -0.67,0M264.5,508.5a0.36,0.36 0 1,0 0.72,0a0.36,0.36 0 1,0 -0.72,0M271.7,535.2a0.41,0.41 0 1,0 0.82,0a0.41,0.41 0 1,0 -0.82,0M275.1,536.1a0.34,0.34 0 1,0 0.69,0a0.34,0.34 0 1,0 -0.69,0M272.3,540.4a0.69,0.69 0 1,0 1.38,0a0.69,0.69 0 1,0 -1.38,0M265.8,508.2a0.56,0.56 0 1,0 1.13,0a0.56,0.56 0 1,0 -1.13,0M271.2,532.5a0.38,0.38 0 1,0 0.77,0a0.38,0.38 0 1,0 -0.77,0M267.6,521.9a0.43,0.43 0 1,0 0.87,0a0.43,0.43 0 1,0 -0.87,0M265.5,513.5a0.66,0.66 0 1,0 1.32,0a0.66,0.66 0 1,0 -1.32,0M268.7,523.0a0.53,0.53 0 1,0 1.06,0a0.53,0.53 0 1,0 -1.06,0M268.5,521.3a0.49,0.49 0 1,0 0.97,0a0.49,0.49 0 1,0 -0.97,0M272.6,541.3a0.70,0.70 0 1,0 1.40,0a0.70,0.70 0 1,0 -1.40,0M275.4,540.8a0.67,0.67 0 1,0 1.33,0a0.67,0.67 0 1,0 -1.33,0M271.3,531.4a0.59,0.59 0 1,0 1.18,0a0.59,0.59 0 1,0 -1.18,0M271.7,534.1a0.69,0.69 0 1,0 1.38,0a0.69,0.69 0 1,0 -1.38,0M264.8,512.1a0.39,0.39 0 1,0 0.77,0a0.39,0.39 0 1,0 -0.77,0" fill="#b81e10"/>
<path d="M220.9,525.1a0.60,0.60 0 1,0 1.19,0a0.60,0.60 0 1,0 -1.19,0M214.1,508.8a0.61,0.61 0 1,0 1.22,0a0.61,0.61 0 1,0 -1.22,0M216.6,508.9a0.48,0.48 0 1,0 0.95,0a0.48,0.48 0 1,0 -0.95,0M219.0,525.4a0.63,0.63 0 1,0 1.27,0a0.63,0.63 0 1,0 -1.27,0M222.3,535.8a0.53,0.53 0 1,0 1.06,0a0.53,0.53 0 1,0 -1.06,0M220.6,511.4a0.65,0.65 0 1,0 1.30,0a0.65,0.65 0 1,0 -1.30,0M226.1,551.7a0.41,0.41 0 1,0 0.82,0a0.41,0.41 0 1,0 -0.82,0M224.2,535.9a0.68,0.68 0 1,0 1.35,0a0.68,0.68 0 1,0 -1.35,0M226.7,548.2a0.51,0.51 0 1,0 1.03,0a0.51,0.51 0 1,0 -1.03,0M217.2,520.3a0.68,0.68 0 1,0 1.36,0a0.68,0.68 0 1,0 -1.36,0M226.2,543.3a0.37,0.37 0 1,0 0.74,0a0.37,0.37 0 1,0 -0.74,0M223.1,532.0a0.35,0.35 0 1,0 0.69,0a0.35,0.35 0 1,0 -0.69,0M216.5,510.0a0.68,0.68 0 1,0 1.36,0a0.68,0.68 0 1,0 -1.36,0M220.1,518.3a0.42,0.42 0 1,0 0.84,0a0.42,0.42 0 1,0 -0.84,0M221.7,522.6a0.47,0.47 0 1,0 0.94,0a0.47,0.47 0 1,0 -0.94,0M216.0,503.1a0.30,0.30 0 1,0 0.60,0a0.30,0.30 0 1,0 -0.60,0M228.5,550.7a0.31,0.31 0 1,0 0.62,0a0.31,0.31 0 1,0 -0.62,0M215.6,506.5a0.53,0.53 0 1,0 1.05,0a0.53,0.53 0 1,0 -1.05,0M217.3,518.9a0.47,0.47 0 1,0 0.94,0a0.47,0.47 0 1,0 -0.94,0M228.9,550.5a0.68,0.68 0 1,0 1.36,0a0.68,0.68 0 1,0 -1.36,0M214.3,502.0a0.61,0.61 0 1,0 1.23,0a0.61,0.61 0 1,0 -1.23,0M222.7,529.1a0.54,0.54 0 1,0 1.09,0a0.54,0.54 0 1,0 -1.09,0M217.6,516.8a0.62,0.62 0 1,0 1.24,0a0.62,0.62 0 1,0 -1.24,0M223.0,529.1a0.57,0.57 0 1,0 1.14,0a0.57,0.57 0 1,0 -1.14,0M228.4,546.1a0.45,0.45 0 1,0 0.89,0a0.45,0.45 0 1,0 -0.89,0M227.3,548.5a0.45,0.45 0 1,0 0.90,0a0.45,0.45 0 1,0 -0.90,0M226.3,536.6a0.60,0.60 0 1,0 1.20,0a0.60,0.60 0 1,0 -1.20,0M228.1,547.0a0.51,0.51 0 1,0 1.02,0a0.51,0.51 0 1,0 -1.02,0M225.0,540.6a0.58,0.58 0 1,0 1.16,0a0.58,0.58 0 1,0 -1.16,0M225.8,544.5a0.70,0.70 0 1,0 1.40,0a0.70,0.70 0 1,0 -1.40,0M217.6,510.9a0.45,0.45 0 1,0 0.90,0a0.45,0.45 0 1,0 -0.90,0M229.4,549.0a0.66,0.66 0 1,0 1.31,0a0.66,0.66 0 1,0 -1.31,0M225.4,537.1a0.38,0.38 0 1,0 0.76,0a0.38,0.38 0 1,0 -0.76,0M215.5,507.2a0.52,0.52 0 1,0 1.03,0a0.52,0.52 0 1,0 -1.03,0M221.7,522.9a0.68,0.68 0 1,0 1.36,0a0.68,0.68 0 1,0 -1.36,0M224.8,540.4a0.44,0.44 0 1,0 0.87,0a0.44,0.44 0 1,0 -0.87,0M220.0,528.3a0.53,0.53 0 1,0 1.05,0a0.53,0.53 0 1,0 -1.05,0M215.6,516.1a0.39,0.39 0 1,0 0.78,0a0.39,0.39 0 1,0 -0.78,0M220.2,519.7a0.32,0.32 0 1,0 0.65,0a0.32,0.32 0 1,0 -0.65,0M221.5,521.9a0.73,0.73 0 1,0 1.47,0a0.73,0.73 0 1,0 -1.47,0M225.0,542.7a0.31,0.31 0 1,0 0.61,0a0.31,0.31 0 1,0 -0.61,0M220.1,523.9a0.33,0.33 0 1,0 0.66,0a0.33,0.33 0 1,0 -0.66,0M221.2,530.7a0.48,0.48 0 1,0 0.96,0a0.48,0.48 0 1,0 -0.96,0M215.8,505.9a0.57,0.57 0 1,0 1.14,0a0.57,0.57 0 1,0 -1.14,0M213.8,507.4a0.74,0.74 0 1,0 1.49,0a0.74,0.74 0 1,0 -1.49,0M228.0,540.7a0.60,0.60 0 1,0 1.20,0a0.60,0.60 0 1,0 -1.20,0M220.7,515.5a0.70,0.70 0 1,0 1.41,0a0.70,0.70 0 1,0 -1.41,0M217.0,514.7a0.43,0.43 0 1,0 0.87,0a0.43,0.43 0 1,0 -0.87,0M224.4,539.2a0.54,0.54 0 1,0 1.09,0a0.54,0.54 0 1,0 -1.09,0M224.8,546.8a0.55,0.55 0 1,0 1.11,0a0.55,0.55 0 1,0 -1.11,0" fill="#b81e10"/>
<path d="M261.7,551.4a0.52,0.52 0 1,0 1.04,0a0.52,0.52 0 1,0 -1.04,0M258.3,540.3a0.49,0.49 0 1,0 0.98,0a0.49,0.49 0 1,0 -0.98,0M253.9,536.5a0.68,0.68 0 1,0 1.36,0a0.68,0.68 0 1,0 -1.36,0M246.2,513.9a0.32,0.32 0 1,0 0.65,0a0.32,0.32 0 1,0 -0.65,0M259.1,543.4a0.62,0.62 0 1,0 1.24,0a0.62,0.62 0 1,0 -1.24,0M249.4,521.5a0.58,0.58 0 1,0 1.16,0a0.58,0.58 0 1,0 -1.16,0M253.4,532.1a0.53,0.53 0 1,0 1.07,0a0.53,0.53 0 1,0 -1.07,0M260.6,547.3a0.40,0.40 0 1,0 0.80,0a0.40,0.40 0 1,0 -0.80,0M253.1,532.7a0.62,0.62 0 1,0 1.24,0a0.62,0.62 0 1,0 -1.24,0M247.4,517.9a0.67,0.67 0 1,0 1.35,0a0.67,0.67 0 1,0 -1.35,0M246.6,513.4a0.67,0.67 0 1,0 1.35,0a0.67,0.67 0 1,0 -1.35,0M249.5,517.2a0.52,0.52 0 1,0 1.04,0a0.52,0.52 0 1,0 -1.04,0M260.7,549.0a0.36,0.36 0 1,0 0.72,0a0.36,0.36 0 1,0 -0.72,0M248.0,518.3a0.53,0.53 0 1,0 1.06,0a0.53,0.53 0 1,0 -1.06,0M248.9,515.2a0.36,0.36 0 1,0 0.71,0a0.36,0.36 0 1,0 -0.71,0M258.3,543.7a0.68,0.68 0 1,0 1.35,0a0.68,0.68 0 1,0 -1.35,0M257.9,544.0a0.65,0.65 0 1,0 1.29,0a0.65,0.65 0 1,0 -1.29,0M259.6,545.5a0.61,0.61 0 1,0 1.22,0a0.61,0.61 0 1,0 -1.22,0M257.1,534.3a0.43,0.43 0 1,0 0.86,0a0.43,0.43 0 1,0 -0.86,0M259.1,544.4a0.57,0.57 0 1,0 1.15,0a0.57,0.57 0 1,0 -1.15,0M257.1,537.8a0.41,0.41 0 1,0 0.82,0a0.41,0.41 0 1,0 -0.82,0M249.6,521.4a0.64,0.64 0 1,0 1.29,0a0.64,0.64 0 1,0 -1.29,0M259.2,548.6a0.57,0.57 0 1,0 1.14,0a0.57,0.57 0 1,0 -1.14,0M248.8,514.7a0.42,0.42 0 1,0 0.85,0a0.42,0.42 0 1,0 -0.85,0M247.7,517.1a0.49,0.49 0 1,0 0.97,0a0.49,0.49 0 1,0 -0.97,0M258.4,544.5a0.44,0.44 0 1,0 0.88,0a0.44,0.44 0 1,0 -0.88,0M259.1,547.0a0.60,0.60 0 1,0 1.20,0a0.60,0.60 0 1,0 -1.20,0M247.9,514.8a0.40,0.40 0 1,0 0.80,0a0.40,0.40 0 1,0 -0.80,0M256.7,537.3a0.48,0.48 0 1,0 0.96,0a0.48,0.48 0 1,0 -0.96,0M246.6,513.4a0.62,0.62 0 1,0 1.23,0a0.62,0.62 0 1,0 -1.23,0" fill="#e8361c"/>
<path d="M266.9,548.9a0.58,0.58 0 1,0 1.16,0a0.58,0.58 0 1,0 -1.16,0M257.9,527.1a0.41,0.41 0 1,0 0.83,0a0.41,0.41 0 1,0 -0.83,0M267.3,551.9a0.41,0.41 0 1,0 0.83,0a0.41,0.41 0 1,0 -0.83,0M268.1,555.2a0.45,0.45 0 1,0 0.90,0a0.45,0.45 0 1,0 -0.90,0M270.6,558.0a0.53,0.53 0 1,0 1.05,0a0.53,0.53 0 1,0 -1.05,0M268.9,556.8a0.34,0.34 0 1,0 0.68,0a0.34,0.34 0 1,0 -0.68,0M263.8,541.0a0.47,0.47 0 1,0 0.95,0a0.47,0.47 0 1,0 -0.95,0M269.5,561.2a0.64,0.64 0 1,0 1.27,0a0.64,0.64 0 1,0 -1.27,0M268.8,557.5a0.55,0.55 0 1,0 1.11,0a0.55,0.55 0 1,0 -1.11,0M268.4,550.4a0.42,0.42 0 1,0 0.85,0a0.42,0.42 0 1,0 -0.85,0M263.7,543.2a0.49,0.49 0 1,0 0.97,0a0.49,0.49 0 1,0 -0.97,0M271.4,556.7a0.49,0.49 0 1,0 0.98,0a0.49,0.49 0 1,0 -0.98,0M271.6,561.8a0.56,0.56 0 1,0 1.11,0a0.56,0.56 0 1,0 -1.11,0M266.5,558.0a0.31,0.31 0 1,0 0.62,0a0.31,0.31 0 1,0 -0.62,0M268.8,554.5a0.63,0.63 0 1,0 1.26,0a0.63,0.63 0 1,0 -1.26,0M259.7,528.9a0.46,0.46 0 1,0 0.93,0a0.46,0.46 0 1,0 -0.93,0M260.1,527.8a0.34,0.34 0 1,0 0.67,0a0.34,0.34 0 1,0 -0.67,0M270.6,561.6a0.47,0.47 0 1,0 0.93,0a0.47,0.47 0 1,0 -0.93,0M266.6,543.0a0.55,0.55 0 1,0 1.11,0a0.55,0.55 0 1,0 -1.11,0M262.1,536.4a0.51,0.51 0 1,0 1.02,0a0.51,0.51 0 1,0 -1.02,0M262.2,545.8a0.47,0.47 0 1,0 0.93,0a0.47,0.47 0 1,0 -0.93,0M260.9,535.8a0.68,0.68 0 1,0 1.35,0a0.68,0.68 0 1,0 -1.35,0M264.1,544.9a0.40,0.40 0 1,0 0.80,0a0.40,0.40 0 1,0 -0.80,0M259.8,534.2a0.69,0.69 0 1,0 1.38,0a0.69,0.69 0 1,0 -1.38,0M264.8,544.3a0.36,0.36 0 1,0 0.73,0a0.36,0.36 0 1,0 -0.73,0M262.1,533.3a0.39,0.39 0 1,0 0.79,0a0.39,0.39 0 1,0 -0.79,0M266.5,553.2a0.51,0.51 0 1,0 1.03,0a0.51,0.51 0 1,0 -1.03,0M258.6,523.8a0.58,0.58 0 1,0 1.15,0a0.58,0.58 0 1,0 -1.15,0M263.7,535.8a0.42,0.42 0 1,0 0.84,0a0.42,0.42 0 1,0 -0.84,0M256.4,523.7a0.39,0.39 0 1,0 0.78,0a0.39,0.39 0 1,0 -0.78,0" fill="#e8361c"/>
<path d="M236.9,523.2a0.59,0.59 0 1,0 1.19,0a0.59,0.59 0 1,0 -1.19,0M244.1,546.3a0.39,0.39 0 1,0 0.79,0a0.39,0.39 0 1,0 -0.79,0M239.7,530.2a0.48,0.48 0 1,0 0.96,0a0.48,0.48 0 1,0 -0.96,0M244.2,550.2a0.54,0.54 0 1,0 1.08,0a0.54,0.54 0 1,0 -1.08,0M243.7,547.2a0.38,0.38 0 1,0 0.75,0a0.38,0.38 0 1,0 -0.75,0M247.8,557.4a0.56,0.56 0 1,0 1.11,0a0.56,0.56 0 1,0 -1.11,0M237.4,525.9a0.64,0.64 0 1,0 1.27,0a0.64,0.64 0 1,0 -1.27,0M234.8,522.7a0.61,0.61 0 1,0 1.23,0a0.61,0.61 0 1,0 -1.23,0M245.0,549.5a0.58,0.58 0 1,0 1.16,0a0.58,0.58 0 1,0 -1.16,0M240.0,531.9a0.60,0.60 0 1,0 1.21,0a0.60,0.60 0 1,0 -1.21,0M244.8,540.6a0.45,0.45 0 1,0 0.90,0a0.45,0.45 0 1,0 -0.90,0M250.8,559.1a0.31,0.31 0 1,0 0.62,0a0.31,0.31 0 1,0 -0.62,0M242.0,543.3a0.43,0.43 0 1,0 0.85,0a0.43,0.43 0 1,0 -0.85,0M239.4,528.2a0.60,0.60 0 1,0 1.20,0a0.60,0.60 0 1,0 -1.20,0M244.4,540.5a0.39,0.39 0 1,0 0.77,0a0.39,0.39 0 1,0 -0.77,0M243.1,539.4a0.57,0.57 0 1,0 1.13,0a0.57,0.57 0 1,0 -1.13,0M245.1,549.7a0.59,0.59 0 1,0 1.19,0a0.59,0.59 0 1,0 -1.19,0M245.0,548.1a0.54,0.54 0 1,0 1.08,0a0.54,0.54 0 1,0 -1.08,0M245.8,550.0a0.44,0.44 0 1,0 0.87,0a0.44,0.44 0 1,0 -0.87,0M236.9,526.5a0.53,0.53 0 1,0 1.06,0a0.53,0.53 0 1,0 -1.06,0M238.6,527.6a0.60,0.60 0 1,0 1.20,0a0.60,0.60 0 1,0 -1.20,0M239.1,527.5a0.51,0.51 0 1,0 1.01,0a0.51,0.51 0 1,0 -1.01,0M241.8,530.2a0.41,0.41 0 1,0 0.83,0a0.41,0.41 0 1,0 -0.83,0M245.4,548.8a0.40,0.40 0 1,0 0.80,0a0.40,0.40 0 1,0 -0.80,0M248.3,557.5a0.43,0.43 0 1,0 0.86,0a0.43,0.43 0 1,0 -0.86,0M240.7,534.7a0.66,0.66 0 1,0 1.32,0a0.66,0.66 0 1,0 -1.32,0M237.6,521.7a0.31,0.31 0 1,0 0.61,0a0.31,0.31 0 1,0 -0.61,0M247.6,556.4a0.35,0.35 0 1,0 0.69,0a0.35,0.35 0 1,0 -0.69,0M241.7,535.9a0.40,0.40 0 1,0 0.80,0a0.40,0.40 0 1,0 -0.80,0M242.8,543.8a0.51,0.51 0 1,0 1.02,0a0.51,0.51 0 1,0 -1.02,0" fill="#e8361c"/>
</g>
<clipPath id="c9"><rect x="283.80" y="501.50" width="69.00" height="68.80"/></clipPath><g clip-path="url(#c9)">
<rect x="283.80" y="501.50" width="69.00" height="68.80" fill="#101010" />
<path d="M337.0,546.1l4.1,13.6M337.0,533.0l6.7,15.1M286.3,556.6l8.5,16.9M349.2,561.1l2.9,8.1M293.8,528.1l9.3,21.1M316.2,543.0l4.0,10.7M310.7,567.1l3.8,10.7M281.2,514.3l4.5,9.1M315.4,501.3l10.1,19.9M325.4,558.6l4.4,9.3M333.4,522.3l10.1,22.6M308.6,563.7l4.0,13.6M345.4,504.7l5.1,17.1M285.7,551.9l7.1,20.7M320.3,494.4l11.4,22.5M337.5,546.3l4.6,12.9M310.2,550.7l2.5,8.4M306.9,551.0l5.2,15.7M301.6,535.4l3.2,7.8M282.4,553.8l7.9,18.6M348.6,558.5l11.5,22.5M329.4,544.8l8.8,16.7M347.5,522.4l5.9,17.8M296.1,489.1l10.3,22.4M279.2,496.2l8.5,24.5M292.1,497.8l8.3,22.7M322.4,500.6l4.4,14.8M279.4,525.4l2.5,8.7M284.5,559.3l7.6,21.9M280.4,542.9l6.3,15.6M286.4,526.8l10.0,20.1M344.1,524.1l5.4,11.6M312.5,538.3l5.4,17.4M313.6,525.2l11.1,23.3M278.6,516.8l6.1,12.2M307.4,489.3l9.3,22.8M343.6,540.8l6.8,20.0M301.1,547.8l4.3,10.9M323.3,551.7l4.5,10.1M337.2,547.5l11.5,22.9M292.9,496.2l6.9,19.9M326.4,549.0l6.3,16.1M346.7,537.9l7.1,18.5M313.8,547.1l8.2,16.4M309.8,522.6l5.7,14.7M304.7,520.5l6.3,14.4M352.7,501.0l2.8,7.8M306.6,523.5l7.5,17.1M295.1,487.9l6.8,22.7M298.9,527.1l6.3,12.3M345.5,555.8l5.2,11.2M330.1,550.8l6.5,15.1M294.5,547.3l7.2,22.4M284.8,530.9l8.6,24.3M313.7,504.8l3.0,8.6M281.8,550.0l7.6,18.5M343.7,560.1l8.6,17.0M323.2,523.9l3.6,12.0M333.3,501.7l4.9,11.1M321.3,515.1l5.0,15.1M292.1,545.9l4.0,13.4M348.3,514.4l8.5,16.9M307.6,536.3l7.9,17.8M279.0,499.3l7.9,16.3M299.1,533.6l9.0,22.5M297.6,536.3l4.1,12.3M289.9,510.3l4.7,15.2M290.7,507.9l4.5,9.4M301.3,518.0l8.5,19.9M313.2,517.6l6.5,21.0M310.9,561.8l3.5,12.0M317.1,542.9l6.2,13.5M288.2,558.2l4.9,13.6M312.8,532.6l5.1,10.5M301.7,541.8l8.3,15.7M332.4,526.6l3.9,8.4M292.8,552.2l7.3,16.3M296.6,514.1l5.3,11.9M337.3,547.9l6.1,19.6M328.1,502.7l3.9,7.9M295.9,527.4l8.2,21.3M308.8,504.2l8.3,24.3M300.8,489.9l10.8,23.3M340.7,497.9l7.9,18.1M345.7,516.1l4.2,8.8M338.2,562.9l6.6,18.4M300.4,514.1l2.7,9.2M280.5,538.0l6.2,12.9M310.7,562.9l5.5,11.2M324.4,540.0l7.5,15.5M344.3,501.4l4.7,10.1M316.4,525.6l5.9,17.0M346.9,529.3l2.7,8.3M279.9,517.2l3.8,9.9M337.7,501.5l4.1,12.7M329.4,496.6l6.4,19.3M307.3,500.8l8.1,18.1M287.1,503.7l6.8,13.6M306.1,531.5l7.1,16.5M339.1,498.0l4.0,13.3M341.9,557.6l8.0,20.2M338.0,536.8l4.3,9.2M285.0,557.9l5.4,12.7M317.9,495.9l6.6,19.6M337.7,558.6l6.1,12.3M335.2,543.8l5.9,13.4M289.5,553.3l5.1,15.5M303.3,514.2l5.6,16.3M343.3,515.4l8.1,18.8M342.1,547.3l7.2,16.5M296.5,554.8l9.2,20.4M280.9,501.6l11.7,22.5M338.5,529.7l6.6,16.7M310.1,535.6l2.8,9.2M284.7,499.1l7.0,18.9M335.9,539.5l11.4,22.0M276.3,506.1l9.7,19.8M318.7,551.3l4.0,10.0M345.8,547.6l5.7,14.0M297.7,560.4l7.5,20.8M300.8,545.5l5.3,15.9M304.1,555.4l7.8,18.8M320.6,550.6l5.0,16.8M277.0,556.3l7.9,19.3M342.5,502.7l4.7,13.3M338.4,514.1l8.9,24.3M282.1,503.0l3.4,8.7M301.1,510.7l7.3,14.3M345.9,553.2l7.0,16.7M301.8,536.8l4.0,13.7M347.7,542.9l10.4,20.4M287.7,519.5l4.0,9.5M349.8,549.8l10.8,22.8M294.2,494.1l5.9,11.5M316.8,511.4l7.3,18.8M322.1,510.8l7.2,20.0M331.2,526.3l6.8,14.9M279.2,524.7l8.3,17.2M342.0,553.5l7.3,22.2M315.3,505.3l4.2,12.2M353.4,502.8l3.3,7.4M305.3,538.5l3.1,9.5M303.1,560.5l5.7,12.7M290.8,562.3l5.8,17.7M282.2,529.0l5.9,20.4M349.4,498.8l4.1,14.1M318.0,564.9l5.8,11.1M348.5,509.7l7.3,16.6M320.4,556.8l7.5,23.9M298.2,556.4l3.3,7.7M349.4,510.5l5.2,13.6M293.8,542.9l8.9,17.6M346.0,494.1l8.3,18.8M287.1,491.6l8.2,24.6M311.5,546.0l7.4,24.4M318.3,510.5l4.8,16.6M331.2,538.1l9.1,21.3M321.0,556.8l3.5,11.0M278.2,530.5l8.1,16.5M348.1,526.1l4.4,10.4" stroke="#3c3c3c" stroke-width="1.6" stroke-linecap="round" fill="none"/>
<path d="M324.1,528.3l2.3,4.5M333.2,504.1l2.6,7.9M344.0,561.6l3.4,6.4M335.3,539.1l4.5,8.6M311.3,509.9l3.5,12.1M293.1,497.5l6.3,12.5M293.6,523.2l7.3,16.3M302.9,530.8l2.8,6.5M330.2,515.7l6.7,13.8M286.5,540.3l3.2,10.4M285.6,548.3l5.5,12.6M287.3,537.5l5.6,13.7M313.7,544.0l5.0,11.9M292.7,527.3l3.6,11.6M353.9,536.0l4.0,8.4M326.8,550.1l2.8,7.7M352.9,519.8l6.7,15.9M328.3,560.1l3.1,7.0M353.3,498.8l3.4,8.3M334.0,537.8l5.8,16.1M279.4,500.9l2.1,5.0M279.5,531.9l5.7,11.9M341.8,521.4l7.0,16.0M326.1,535.1l2.7,8.0M279.3,512.6l2.7,8.7M316.8,496.7l3.1,8.3M338.7,499.4l6.0,13.9M318.6,524.8l3.0,10.3M347.7,560.7l4.9,13.7M288.4,493.3l5.4,14.9M327.0,517.7l2.5,8.1M318.8,495.2l3.8,8.6M282.9,564.1l5.2,15.9M279.6,526.6l2.1,6.1M338.4,551.0l6.8,13.7M278.9,497.5l4.9,15.2M315.9,508.6l7.2,14.4M301.5,490.0l7.0,16.4M337.1,552.7l3.5,12.1M335.2,560.4l8.0,15.6M335.5,511.0l3.7,8.4M353.0,497.9l4.7,9.5M353.4,529.0l5.2,13.1M336.9,518.6l3.4,9.8M332.3,560.9l2.8,8.6M334.4,536.6l3.7,9.6M284.2,501.4l4.0,8.1M281.5,545.5l5.1,13.6M293.2,545.3l5.5,14.7M295.5,536.2l4.2,9.2M289.7,557.2l3.8,12.7M290.7,512.9l5.3,10.3M301.6,533.6l3.3,10.8M322.2,540.3l4.0,12.0M305.3,489.7l5.6,16.8M288.6,502.8l2.7,7.4M287.6,494.5l5.4,10.1M298.2,523.6l3.6,6.8M298.3,512.3l3.6,8.5M306.9,520.1l1.6,5.0M335.3,533.1l2.1,4.6M347.5,529.0l2.4,7.3M345.9,501.9l4.2,10.7M287.0,516.1l4.4,12.3M325.8,540.6l4.5,8.8M279.2,553.7l4.8,15.5M284.7,553.0l2.9,6.6M293.1,555.7l4.8,14.9M307.8,565.0l3.0,7.8M329.2,511.3l4.5,8.9M339.4,508.9l2.8,6.2M327.1,540.7l3.6,11.3M334.8,508.6l5.2,10.7M297.5,506.4l2.4,5.5M346.3,544.9l2.6,5.5M324.0,535.8l2.4,4.8M322.3,540.7l1.9,5.7M296.2,537.2l4.8,10.9M350.3,523.1l3.9,9.8M341.3,565.8l5.5,14.0M332.3,538.0l4.9,16.8M335.6,508.7l4.8,11.4M296.6,553.5l2.6,7.4M315.1,523.7l4.7,13.4M352.2,566.7l6.5,14.0M327.8,527.6l6.6,15.9M305.4,494.9l4.1,10.3M301.2,501.0l5.2,10.0M291.6,527.2l3.6,8.8M319.0,524.5l3.1,6.0M321.1,567.5l3.5,7.9M302.8,548.8l3.6,10.8M279.2,504.6l3.1,7.0M307.3,519.1l6.8,16.2M321.7,564.7l4.8,12.5M342.4,520.7l1.6,5.2M319.9,539.3l1.9,5.5M307.4,542.6l2.5,8.3M304.8,511.4l7.1,15.0M296.9,527.0l8.0,15.9M295.1,555.5l2.3,5.5M336.4,545.2l6.9,13.7M344.9,517.9l5.9,14.4M346.2,530.5l3.7,7.5M317.0,498.4l2.1,6.8M322.6,560.2l2.6,6.4M314.7,502.2l2.5,8.1M333.3,530.4l3.9,12.3M351.9,540.4l1.7,5.4M291.6,513.1l2.5,6.3" stroke="#5e5e5e" stroke-width="1.0" stroke-linecap="round" fill="none"/>
<path d="M330.8,529.0l3.9,7.8M339.0,535.4l2.2,6.7M348.8,561.7l6.3,12.3M321.2,529.0l2.1,6.2M348.9,504.2l2.6,8.7M348.3,529.8l1.9,4.7M328.0,554.9l2.4,5.3M352.1,494.4l4.6,9.0M339.0,524.1l5.7,12.0M347.6,513.3l2.0,4.0M302.7,521.2l5.5,12.6M338.3,496.4l3.4,8.5M304.9,538.1l3.5,7.7M344.9,548.1l2.3,4.6M302.7,513.0l2.9,9.9M352.7,561.0l1.7,5.0M340.0,527.3l5.0,13.0M306.8,511.9l1.9,5.0M334.0,561.2l1.9,3.6M352.8,514.7l2.0,6.3M305.0,552.0l4.7,12.1M332.4,493.8l3.5,9.4M341.8,534.9l2.2,4.6M335.5,501.8l2.1,4.6M343.2,535.8l2.1,7.3M331.2,511.5l2.9,9.2M319.9,526.3l2.7,9.4M333.8,507.3l4.0,9.0M326.1,550.1l1.6,3.9M316.0,537.8l4.7,11.3M334.1,516.9l2.4,6.1M327.9,509.6l4.4,10.8M318.7,511.3l3.7,11.8M351.1,514.6l1.6,4.4M300.5,557.9l4.4,9.9M324.0,547.2l2.2,5.1M341.5,545.2l4.4,8.8M312.3,515.5l1.5,4.0M330.8,563.4l2.8,9.1M325.3,534.1l2.6,6.3M351.0,533.1l1.6,3.7M310.3,541.0l3.4,8.4M350.2,553.6l2.3,4.3M337.1,538.3l3.9,9.8M301.1,526.5l4.4,11.6M301.3,501.4l4.8,12.1M308.2,545.2l4.0,12.6M335.2,556.9l1.9,4.5M344.2,521.3l1.6,5.2M338.5,496.5l1.7,4.3M349.9,539.1l5.7,11.4M330.8,508.5l3.2,6.6M324.5,496.6l3.7,9.9M349.4,553.9l1.4,4.5M328.6,564.9l4.1,7.9M336.8,504.7l5.1,12.9M348.7,531.9l2.5,6.8M338.3,529.8l2.6,6.2M338.8,512.8l2.1,5.2M335.9,499.9l1.9,6.4M314.1,553.3l3.2,6.3M324.8,558.6l5.4,10.4M337.8,540.9l3.0,8.3M327.0,507.0l4.9,9.8M316.2,558.0l3.6,9.0M338.2,531.7l2.9,7.3M301.9,522.6l1.2,4.2M349.4,544.9l1.7,5.3M314.7,554.0l3.7,9.8M339.1,512.6l4.5,11.5" stroke="#8a8a8a" stroke-width="0.8" stroke-linecap="round" fill="none"/>
<path d="M342.4,559.6l1.7,3.9M322.9,500.4l2.5,6.9M328.6,536.0l3.4,6.6M322.9,547.4l2.1,5.3M317.8,512.0l2.6,5.8M350.3,562.7l3.3,7.1M330.4,503.8l2.2,4.3M329.5,567.4l2.7,6.2M319.5,567.0l1.0,3.1M346.7,499.6l2.7,7.3M324.3,527.4l2.2,5.6M347.5,563.8l2.2,4.1M342.9,544.3l2.9,5.6M309.4,563.8l1.8,4.5M352.3,510.1l2.8,5.5M333.1,552.2l1.2,3.6M352.5,557.2l2.0,6.7M340.2,536.1l2.2,6.8M336.3,546.9l1.6,3.6M320.9,559.9l2.9,6.3M354.0,501.0l1.3,3.0M309.4,567.8l1.9,4.4M346.8,535.6l2.4,5.7M328.1,568.5l1.6,4.1M329.1,507.0l1.4,3.5M344.8,529.2l1.0,3.2M312.7,563.5l1.1,3.0M312.8,515.3l1.7,4.8M326.7,527.4l1.9,4.7M319.3,568.4l1.8,3.5" stroke="#c0c0c0" stroke-width="0.7" stroke-linecap="round" fill="none"/>
<path d="M294.8,513.8l11.3,21.7M298.7,512.6l11.8,26.0M292.3,512.7l8.6,18.8M299.4,518.2l10.0,22.0M293.2,528.8l8.4,22.9M293.8,499.1l5.4,11.0M283.7,501.3l9.4,21.2M309.0,509.1l6.5,13.4M282.5,539.9l9.1,19.6M305.8,540.5l6.6,17.4M301.6,526.0l4.7,10.8M308.4,516.2l10.3,20.3M304.4,555.5l7.0,16.0M296.1,510.8l6.3,12.7M300.8,522.6l8.2,27.9M304.9,557.7l12.4,23.7M281.7,559.1l9.7,25.7M298.7,522.8l8.2,16.6M298.5,512.9l3.8,11.9M298.4,557.0l5.7,14.8M289.0,554.3l4.9,13.3M298.4,517.3l4.4,10.7M296.5,553.6l6.1,12.7M289.8,551.9l5.1,13.7M278.8,493.1l9.1,22.4" stroke="#050505" stroke-width="1.5" stroke-linecap="round" fill="none"/>
</g>
<clipPath id="c10"><rect x="360.40" y="501.50" width="69.00" height="68.80"/></clipPath><g clip-path="url(#c10)">
<rect x="360.40" y="501.50" width="69.00" height="68.80" fill="#101010" />
<path d="M360.2,522.6l10.7,22.5M395.0,522.4l8.4,14.9M420.8,535.6l6.4,12.7M366.2,558.3l9.9,20.9M399.9,534.8l5.7,10.1M408.2,502.5l9.0,15.8M354.8,501.4l7.6,18.2M427.8,540.5l8.7,15.1M423.9,524.9l11.5,20.4M417.8,528.7l5.1,10.8M360.5,536.5l4.4,11.1M366.6,541.4l7.0,17.8M424.8,511.2l8.7,18.4M420.6,550.5l8.4,20.0M372.7,554.7l8.1,24.1M379.2,550.8l6.9,19.0M415.2,525.4l5.3,14.2M400.8,528.6l11.7,20.6M356.3,528.6l3.3,9.2M360.8,559.5l5.7,10.6M411.2,542.3l6.0,14.2M395.5,562.0l6.8,15.7M387.1,520.3l9.8,17.9M405.2,558.4l8.6,19.9M381.8,501.0l3.9,8.9M421.7,558.3l4.1,10.5M412.8,524.0l10.9,20.8M378.0,527.4l8.8,19.2M376.7,556.8l6.4,13.6M369.4,525.3l9.0,18.7M405.9,531.5l2.6,7.8M373.0,528.2l11.7,22.4M360.0,508.5l3.6,10.1M393.6,495.3l5.2,11.8M365.1,510.2l10.1,22.1M372.6,538.7l4.0,9.2M402.2,496.8l7.9,16.0M408.8,533.4l9.4,22.5M367.3,502.4l7.2,19.4M359.0,523.6l5.4,11.9M419.4,530.4l7.6,20.0M375.0,538.2l6.1,13.4M395.3,543.4l3.8,10.4M365.5,510.7l7.3,22.1M383.4,566.0l2.8,8.2M367.1,491.1l10.2,19.2M411.8,494.0l4.4,9.2M360.8,527.1l5.1,13.3M388.9,560.9l10.9,20.5M422.9,557.5l7.3,16.6M367.1,517.1l5.6,10.6M399.3,512.6l8.6,20.1M415.0,494.1l9.4,21.3M400.6,506.8l8.7,18.6M409.4,537.6l4.7,9.4M410.2,490.4l7.7,17.8M407.8,515.4l6.8,15.1M409.9,495.9l7.8,15.3M399.0,512.5l5.4,10.4M420.6,514.5l8.6,22.2M376.0,536.1l2.6,7.7M401.3,498.7l7.1,15.8M403.2,508.7l9.3,22.5M357.2,549.3l10.6,21.4M405.1,552.7l11.6,20.8M416.3,506.4l8.3,20.8M388.8,555.6l7.0,21.4M425.7,531.6l7.9,19.7M383.4,528.2l7.9,15.2M372.5,551.2l8.6,21.6M405.8,528.2l6.9,17.0M351.6,520.4l11.8,22.6M390.3,498.0l4.3,11.8M355.7,548.0l7.5,21.1M373.4,561.9l6.1,13.4M424.3,530.4l9.7,17.8M355.6,513.4l3.4,9.3M371.2,561.6l9.4,17.9M406.6,514.5l8.5,15.3M416.7,549.1l6.8,17.1M380.3,501.3l5.0,12.9M397.2,502.6l5.1,11.2M354.2,494.4l7.7,14.2M420.7,497.7l7.5,20.1M375.9,527.1l9.9,23.9M384.3,565.9l4.0,12.0M377.9,523.6l5.2,12.7M422.2,544.9l3.5,10.7M406.2,526.2l11.2,20.4M398.2,547.3l8.2,20.4M359.2,528.3l5.0,11.8M383.6,524.4l6.9,16.3M421.5,513.7l6.0,11.5M359.6,551.6l11.7,21.6M380.6,555.3l7.4,22.4M430.2,516.9l4.2,8.2M392.5,493.5l5.2,11.4M406.4,505.2l4.5,9.2M362.1,502.7l3.4,9.2M419.9,490.7l7.6,21.1M400.8,510.8l11.0,19.9M358.5,564.6l3.9,11.3M412.4,497.1l3.7,9.0M363.4,539.5l9.2,17.9M388.6,503.2l9.0,21.9M407.9,540.8l3.0,8.6M412.3,528.5l7.6,17.0M411.7,532.5l5.2,11.9M370.3,490.2l5.8,16.4M408.2,506.0l6.7,15.8M397.7,524.9l6.4,15.9M419.7,526.8l8.2,20.5M363.1,511.5l5.9,12.3M389.5,508.2l9.4,24.2M379.3,540.2l11.6,21.7M402.2,563.7l4.9,13.9M416.1,517.3l3.7,9.9M385.5,517.0l5.9,15.2M419.7,557.8l10.2,19.3M382.4,493.4l5.1,10.4M368.4,529.3l3.9,9.6M383.7,507.6l8.9,18.3M355.2,551.3l7.2,20.3M374.4,509.0l9.7,18.1M425.9,539.7l8.8,15.6M372.4,518.8l12.1,22.6M397.3,492.1l9.1,23.8M416.1,549.8l5.1,10.0M357.7,535.6l4.4,8.4M365.2,557.8l9.9,19.9M428.4,505.4l4.5,9.5M413.7,495.3l8.8,20.4M415.4,519.7l4.2,7.7M406.8,526.8l10.1,19.3M373.9,503.2l8.6,21.7M366.9,549.0l3.6,7.9M372.6,546.2l7.8,19.4M368.3,492.2l7.2,18.1M352.4,550.6l10.5,21.8M391.7,535.9l9.3,22.8M391.9,548.9l8.3,14.6M395.5,523.0l6.0,12.7M370.2,511.5l7.1,20.2M389.5,557.4l4.1,9.4M409.9,550.6l7.0,13.2M425.6,535.3l8.6,17.8M363.0,534.0l5.1,14.4M404.0,546.7l6.5,17.0M363.5,565.0l7.2,17.0M367.6,495.3l7.5,19.3" stroke="#404040" stroke-width="1.5" stroke-linecap="round" fill="none"/>
<path d="M405.7,512.5l3.7,9.7M404.5,564.1l2.1,5.6M355.3,540.6l5.3,9.5M385.2,542.3l7.1,12.7M394.6,555.3l2.1,5.9M426.5,520.8l3.5,6.4M371.6,523.7l4.1,12.1M397.5,565.7l3.6,9.0M355.7,527.4l2.5,4.6M416.7,502.9l3.3,7.6M395.7,497.5l2.3,5.8M385.5,500.4l4.4,9.3M431.1,498.6l3.4,6.1M395.5,564.8l6.5,11.9M395.0,517.8l5.8,14.7M400.8,513.0l3.9,9.0M384.4,538.0l2.5,5.4M430.0,523.3l3.8,9.9M416.9,549.5l3.4,8.6M370.9,542.5l2.4,4.6M367.0,519.0l6.5,11.4M421.0,497.7l4.9,14.6M400.4,554.7l6.4,14.0M419.3,494.4l5.1,12.6M414.7,506.6l2.4,5.4M401.6,546.9l2.7,6.4M428.3,510.6l4.4,13.3M406.0,527.0l4.0,8.7M364.5,500.1l3.8,7.1M422.3,518.7l5.8,13.4M422.4,560.1l5.3,11.7M374.0,536.8l2.9,7.9M358.4,542.3l3.7,7.9M394.7,565.2l6.9,14.4M427.5,565.4l4.3,9.9M370.1,553.0l3.7,9.7M424.4,539.4l5.0,11.6M365.6,530.3l2.7,5.0M430.0,523.9l2.7,5.9M359.8,540.7l3.5,6.7M404.4,565.7l1.9,4.8M398.7,530.7l4.8,8.4M382.3,533.5l2.7,8.3M380.3,555.5l4.9,13.0M390.9,529.6l6.8,12.5M371.8,494.3l4.3,9.5M427.6,564.2l3.9,8.6M362.4,550.3l5.0,9.5M422.0,498.0l2.9,6.5M431.2,504.8l2.8,7.4M381.3,566.1l2.4,4.6M379.3,559.4l2.3,5.7M420.9,565.8l6.8,12.1M392.2,511.8l2.9,5.6M411.3,538.7l2.9,5.8M359.2,562.1l5.5,12.1M428.3,568.8l3.3,6.5M369.1,540.3l4.7,10.6M414.1,534.2l3.2,7.8M426.5,497.3l4.9,9.1M411.0,524.1l5.3,13.2M427.9,536.4l3.6,11.0M416.9,520.7l2.0,5.8M358.9,560.9l5.7,14.1M426.4,537.9l5.1,12.2M371.1,498.0l5.5,12.0M364.6,536.8l3.6,7.1M421.2,538.6l4.6,12.4M388.0,527.8l4.2,8.8M414.5,561.1l3.0,7.7M371.1,492.8l4.4,11.7M379.1,567.6l5.7,11.6M413.6,558.8l2.1,6.2M388.1,514.6l3.7,8.4M395.9,517.7l2.2,5.2M409.8,546.3l3.2,8.8M357.2,505.5l2.1,4.8M394.0,510.6l5.4,9.3M356.1,564.5l7.2,12.9M404.9,531.4l3.7,10.3" stroke="#7a7070" stroke-width="0.9" stroke-linecap="round" fill="none"/>
<path d="M362.4,501.5l28.0,68.0M380.4,501.5l25.0,60.0" stroke="#050505" stroke-width="4" stroke-linecap="round" fill="none"/>
<path d="M404.1,566.2a0.50,0.50 0 1,0 1.01,0a0.50,0.50 0 1,0 -1.01,0M423.0,509.5a0.55,0.55 0 1,0 1.09,0a0.55,0.55 0 1,0 -1.09,0M381.9,564.9a0.54,0.54 0 1,0 1.07,0a0.54,0.54 0 1,0 -1.07,0M426.7,553.5a0.42,0.42 0 1,0 0.83,0a0.42,0.42 0 1,0 -0.83,0M396.2,555.3a0.32,0.32 0 1,0 0.63,0a0.32,0.32 0 1,0 -0.63,0M397.1,540.6a0.52,0.52 0 1,0 1.03,0a0.52,0.52 0 1,0 -1.03,0M383.5,543.2a0.52,0.52 0 1,0 1.04,0a0.52,0.52 0 1,0 -1.04,0M386.2,548.4a0.57,0.57 0 1,0 1.14,0a0.57,0.57 0 1,0 -1.14,0M385.4,537.7a0.45,0.45 0 1,0 0.89,0a0.45,0.45 0 1,0 -0.89,0M417.9,520.1a0.39,0.39 0 1,0 0.77,0a0.39,0.39 0 1,0 -0.77,0M387.1,546.4a0.35,0.35 0 1,0 0.69,0a0.35,0.35 0 1,0 -0.69,0M427.4,536.1a0.52,0.52 0 1,0 1.04,0a0.52,0.52 0 1,0 -1.04,0M388.4,503.4a0.42,0.42 0 1,0 0.83,0a0.42,0.42 0 1,0 -0.83,0M399.2,507.7a0.59,0.59 0 1,0 1.19,0a0.59,0.59 0 1,0 -1.19,0M400.6,533.1a0.31,0.31 0 1,0 0.62,0a0.31,0.31 0 1,0 -0.62,0M376.9,524.7a0.49,0.49 0 1,0 0.99,0a0.49,0.49 0 1,0 -0.99,0M372.0,534.9a0.38,0.38 0 1,0 0.76,0a0.38,0.38 0 1,0 -0.76,0M398.9,548.8a0.46,0.46 0 1,0 0.91,0a0.46,0.46 0 1,0 -0.91,0M411.8,544.3a0.33,0.33 0 1,0 0.65,0a0.33,0.33 0 1,0 -0.65,0M405.2,534.8a0.53,0.53 0 1,0 1.06,0a0.53,0.53 0 1,0 -1.06,0M424.5,525.7a0.56,0.56 0 1,0 1.11,0a0.56,0.56 0 1,0 -1.11,0M376.0,546.2a0.30,0.30 0 1,0 0.60,0a0.30,0.30 0 1,0 -0.60,0M416.9,532.2a0.44,0.44 0 1,0 0.87,0a0.44,0.44 0 1,0 -0.87,0M394.4,527.1a0.37,0.37 0 1,0 0.74,0a0.37,0.37 0 1,0 -0.74,0M407.8,544.6a0.32,0.32 0 1,0 0.63,0a0.32,0.32 0 1,0 -0.63,0M378.7,565.6a0.38,0.38 0 1,0 0.77,0a0.38,0.38 0 1,0 -0.77,0M380.2,541.3a0.41,0.41 0 1,0 0.82,0a0.41,0.41 0 1,0 -0.82,0M425.4,569.1a0.34,0.34 0 1,0 0.68,0a0.34,0.34 0 1,0 -0.68,0M375.5,513.3a0.43,0.43 0 1,0 0.87,0a0.43,0.43 0 1,0 -0.87,0M379.4,547.9a0.57,0.57 0 1,0 1.13,0a0.57,0.57 0 1,0 -1.13,0M365.0,503.3a0.33,0.33 0 1,0 0.67,0a0.33,0.33 0 1,0 -0.67,0M381.4,510.7a0.43,0.43 0 1,0 0.86,0a0.43,0.43 0 1,0 -0.86,0M384.9,551.5a0.59,0.59 0 1,0 1.18,0a0.59,0.59 0 1,0 -1.18,0M427.4,530.4a0.49,0.49 0 1,0 0.99,0a0.49,0.49 0 1,0 -0.99,0M369.0,543.5a0.57,0.57 0 1,0 1.13,0a0.57,0.57 0 1,0 -1.13,0M421.1,511.1a0.35,0.35 0 1,0 0.70,0a0.35,0.35 0 1,0 -0.70,0M422.1,549.5a0.53,0.53 0 1,0 1.06,0a0.53,0.53 0 1,0 -1.06,0M364.7,544.1a0.31,0.31 0 1,0 0.61,0a0.31,0.31 0 1,0 -0.61,0M410.8,556.2a0.40,0.40 0 1,0 0.79,0a0.40,0.40 0 1,0 -0.79,0M360.0,551.9a0.60,0.60 0 1,0 1.20,0a0.60,0.60 0 1,0 -1.20,0M402.8,526.7a0.40,0.40 0 1,0 0.80,0a0.40,0.40 0 1,0 -0.80,0M416.0,568.1a0.41,0.41 0 1,0 0.82,0a0.41,0.41 0 1,0 -0.82,0M375.2,570.1a0.43,0.43 0 1,0 0.86,0a0.43,0.43 0 1,0 -0.86,0M390.4,522.9a0.52,0.52 0 1,0 1.03,0a0.52,0.52 0 1,0 -1.03,0M427.6,533.8a0.56,0.56 0 1,0 1.11,0a0.56,0.56 0 1,0 -1.11,0M387.5,530.5a0.54,0.54 0 1,0 1.08,0a0.54,0.54 0 1,0 -1.08,0M426.9,553.5a0.51,0.51 0 1,0 1.02,0a0.51,0.51 0 1,0 -1.02,0M416.9,564.7a0.59,0.59 0 1,0 1.17,0a0.59,0.59 0 1,0 -1.17,0M396.8,528.2a0.30,0.30 0 1,0 0.60,0a0.30,0.30 0 1,0 -0.60,0M396.5,525.9a0.30,0.30 0 1,0 0.60,0a0.30,0.30 0 1,0 -0.60,0M428.3,522.7a0.58,0.58 0 1,0 1.16,0a0.58,0.58 0 1,0 -1.16,0M361.0,526.3a0.54,0.54 0 1,0 1.07,0a0.54,0.54 0 1,0 -1.07,0M406.4,547.8a0.45,0.45 0 1,0 0.89,0a0.45,0.45 0 1,0 -0.89,0M366.2,558.7a0.53,0.53 0 1,0 1.06,0a0.53,0.53 0 1,0 -1.06,0M392.8,540.2a0.54,0.54 0 1,0 1.08,0a0.54,0.54 0 1,0 -1.08,0M394.1,534.2a0.45,0.45 0 1,0 0.89,0a0.45,0.45 0 1,0 -0.89,0M410.8,552.1a0.40,0.40 0 1,0 0.80,0a0.40,0.40 0 1,0 -0.80,0M413.5,527.3a0.50,0.50 0 1,0 1.00,0a0.50,0.50 0 1,0 -1.00,0M385.9,563.4a0.58,0.58 0 1,0 1.16,0a0.58,0.58 0 1,0 -1.16,0M413.7,527.7a0.41,0.41 0 1,0 0.81,0a0.41,0.41 0 1,0 -0.81,0" fill="#a02010"/>
<path d="M387.4,501.5 L394.4,517.5 L398.4,531.5 L404.4,545.5 L410.4,557.5" fill="none" stroke="#40e828" stroke-width="2.4" stroke-linecap="round" stroke-linejoin="round"/>
<path d="M406.4,503.5 L412.4,519.5 L416.4,535.5 L422.4,553.5" fill="none" stroke="#40e828" stroke-width="2.2" stroke-linecap="round" stroke-linejoin="round"/>
<path d="M376.4,531.5 L382.4,547.5 L386.4,563.5" fill="none" stroke="#40e828" stroke-width="2.6" stroke-linecap="round" stroke-linejoin="round"/>
<path d="M366.4,501.5l3.0,6.0M377.4,503.5l4.0,8.0M382.4,517.5l3.0,6.0M372.4,523.5l3.0,8.0M390.4,509.5l3.0,8.0M396.4,519.5l4.0,8.0M398.4,533.5l4.0,8.0M400.4,545.5l3.0,6.0M406.4,511.5l3.0,6.0M412.4,527.5l3.0,6.0M362.4,545.5l3.0,8.0M368.4,559.5l3.0,6.0M386.4,555.5l3.0,6.0M424.4,503.5l2.0,4.0M418.4,545.5l3.0,6.0M378.4,543.5l3.0,6.0M394.4,501.5l3.0,4.0" stroke="#2a1eff" stroke-width="2.4" stroke-linecap="round" fill="none"/>
<path d="M380.4,547.5l6.0,14.0" stroke="#b0ffd0" stroke-width="1.2" stroke-linecap="round" fill="none"/>
<rect x="407.00" y="564.20" width="20.40" height="3.50" fill="#fff" />
<text x="417.20" y="563.20" font-size="3.3" text-anchor="middle" fill="#fff" >100μm</text>
</g>
<text x="458.40" y="389.00" font-size="12.0" >E</text>
<text x="598.80" y="388.30" font-size="13.0" text-anchor="middle" >8w AT</text>
<line x1="521.70" y1="558.40" x2="529.60" y2="558.40" stroke="#000" stroke-width="1.3" />
<text x="516.60" y="562.60" font-size="12.0" text-anchor="end" >0</text>
<line x1="525.20" y1="543.60" x2="529.60" y2="543.60" stroke="#000" stroke-width="1.3" />
<line x1="521.70" y1="528.80" x2="529.60" y2="528.80" stroke="#000" stroke-width="1.3" />
<text x="516.60" y="533.00" font-size="12.0" text-anchor="end" >20</text>
<line x1="525.20" y1="514.00" x2="529.60" y2="514.00" stroke="#000" stroke-width="1.3" />
<line x1="521.70" y1="499.20" x2="529.60" y2="499.20" stroke="#000" stroke-width="1.3" />
<text x="516.60" y="503.40" font-size="12.0" text-anchor="end" >40</text>
<line x1="525.20" y1="484.40" x2="529.60" y2="484.40" stroke="#000" stroke-width="1.3" />
<line x1="521.70" y1="469.60" x2="529.60" y2="469.60" stroke="#000" stroke-width="1.3" />
<text x="516.60" y="473.80" font-size="12.0" text-anchor="end" >60</text>
<line x1="525.20" y1="454.80" x2="529.60" y2="454.80" stroke="#000" stroke-width="1.3" />
<line x1="521.70" y1="440.00" x2="529.60" y2="440.00" stroke="#000" stroke-width="1.3" />
<text x="516.60" y="444.20" font-size="12.0" text-anchor="end" >80</text>
<line x1="525.20" y1="425.20" x2="529.60" y2="425.20" stroke="#000" stroke-width="1.3" />
<line x1="521.70" y1="410.40" x2="529.60" y2="410.40" stroke="#000" stroke-width="1.3" />
<text x="516.60" y="414.60" font-size="12.0" text-anchor="end" >100</text>
<line x1="528.90" y1="409.70" x2="528.90" y2="559.00" stroke="#000" stroke-width="1.4" />
<line x1="528.30" y1="558.30" x2="665.60" y2="558.30" stroke="#000" stroke-width="1.4" />
<rect x="548.20" y="553.20" width="38.60" height="5.10" fill="#dca838" />
<rect x="606.50" y="458.80" width="38.80" height="99.50" fill="#2f4055" />
<line x1="625.70" y1="458.80" x2="625.70" y2="443.20" stroke="#000" stroke-width="1.4" />
<line x1="615.90" y1="443.20" x2="635.50" y2="443.20" stroke="#000" stroke-width="1.6" />
<line x1="567.30" y1="552.78" x2="567.30" y2="550.00" stroke="#c08a20" stroke-width="1.2" />
<line x1="557.00" y1="550.00" x2="577.50" y2="550.00" stroke="#c08a20" stroke-width="1.2" />
<circle cx="625.70" cy="436.60" r="2.35" fill="#000" />
<circle cx="625.70" cy="441.90" r="2.35" fill="#000" />
<circle cx="625.70" cy="449.10" r="2.35" fill="#000" />
<circle cx="625.70" cy="456.30" r="2.35" fill="#000" />
<circle cx="625.70" cy="468.00" r="2.35" fill="#000" />
<circle cx="625.70" cy="474.20" r="2.35" fill="#000" />
<circle cx="625.70" cy="480.70" r="2.35" fill="#000" />
<circle cx="636.00" cy="465.90" r="2.35" fill="#000" />
<circle cx="550.30" cy="550.40" r="2.50" fill="#cc9628" />
<circle cx="556.20" cy="551.60" r="2.50" fill="#cc9628" />
<circle cx="561.50" cy="550.60" r="2.50" fill="#cc9628" />
<circle cx="564.50" cy="551.20" r="2.50" fill="#cc9628" />
<circle cx="572.80" cy="550.70" r="2.50" fill="#cc9628" />
<circle cx="569.50" cy="551.40" r="2.50" fill="#cc9628" />
<circle cx="575.50" cy="551.00" r="2.50" fill="#cc9628" />
<circle cx="578.50" cy="552.80" r="2.50" fill="#cc9628" />
<circle cx="584.20" cy="552.40" r="2.50" fill="#cc9628" />
<circle cx="567.10" cy="553.30" r="2.50" fill="#cc9628" />
<circle cx="567.60" cy="558.20" r="2.50" fill="#cc9628" />
<line x1="566.20" y1="422.90" x2="625.10" y2="422.90" stroke="#111" stroke-width="0.9" />
<text x="597.70" y="423.80" font-size="12.2" text-anchor="middle" >***</text>
<line x1="567.30" y1="558.30" x2="567.30" y2="564.00" stroke="#000" stroke-width="1.4" />
<line x1="625.70" y1="558.30" x2="625.70" y2="564.00" stroke="#000" stroke-width="1.4" />
<text x="562.40" y="578.40" font-size="10.3" text-anchor="middle" font-style="italic" >ProTracer</text>
<text x="591.40" y="578.40" font-size="10.0" font-style="italic" >ProTracer Fgf7<tspan font-size="0.68em" baseline-shift="50%">-/-</tspan></text>
<text transform="translate(494.3,483.5) rotate(-90)" font-size="12" text-anchor="middle" textLength="193" lengthAdjust="spacing">% of <tspan font-style="italic">Lox</tspan><tspan font-size="0.68em" baseline-shift="50%">+</tspan><tspan font-style="italic">Uts2r</tspan><tspan font-size="0.68em" baseline-shift="50%">+</tspan> in ProTracer Cells</text>
<text x="11.50" y="601.60" font-size="12.0" >F</text>
<text x="82.60" y="637.50" font-size="12.7" text-anchor="middle" textLength="126.8" lengthAdjust="spacing" fill="#000" stroke="#000" stroke-width="0.42">Human tendon tissue</text>
<defs>
<radialGradient id="c1g" cx="0.4" cy="0.5" r="0.62"><stop offset="0" stop-color="#e8dccd"/><stop offset="0.55" stop-color="#e0d0c4"/><stop offset="0.85" stop-color="#ccb2aa"/><stop offset="1" stop-color="#a87474"/></radialGradient>
<radialGradient id="c2g" cx="0.45" cy="0.45" r="0.6"><stop offset="0" stop-color="#c09694"/><stop offset="0.7" stop-color="#b08080"/><stop offset="1" stop-color="#946060"/></radialGradient>
<filter id="fb" x="-20%" y="-20%" width="140%" height="140%"><feGaussianBlur stdDeviation="1.3"/></filter>
<filter id="fb2" x="-20%" y="-20%" width="140%" height="140%"><feGaussianBlur stdDeviation="0.6"/></filter>
<clipPath id="fc1"><circle cx="34.6" cy="679.45" r="24.0"/></clipPath>
<clipPath id="fc2"><circle cx="125.2" cy="679.45" r="24.0"/></clipPath>
</defs>
<g clip-path="url(#fc1)">
<circle cx="34.60" cy="679.45" r="24.20" fill="url(#c1g)" />
<g filter="url(#fb)">
<path d="M12,690 C14,676 14,668 20,662 C16,672 16,684 18,694 Z" fill="#ece2e4" opacity="0.7"/>
<path d="M14,700 C25,708 45,708 58,692 L60,712 L10,712 Z" fill="#a46a6a" opacity="0.7"/>
</g>
<g filter="url(#fb2)">
<path d="M21,654 C28,658 36,662 44,664.5 C50,666 55,668 60,670 L60,650 L20,650 Z" fill="#bc7878" />
<path d="M22,657.5 C30,661 38,664 46,666 C52,667.5 56,669.5 60,671.5 L60,669 C55,667 50,665.5 44,664 C36,661.5 28,658 22,655.5 Z" fill="#d4aaaa" opacity="0.8"/>
</g>
</g>
<g clip-path="url(#fc2)">
<circle cx="125.20" cy="679.45" r="24.20" fill="url(#c2g)" />
<g filter="url(#fb)">
<ellipse cx="115" cy="672" rx="3.5" ry="9" transform="rotate(-15 115 672)" fill="#d2aeac" opacity="0.8"/>
<ellipse cx="124" cy="670" rx="3" ry="9" transform="rotate(-10 124 670)" fill="#ccaaa8" opacity="0.8"/>
<ellipse cx="111" cy="688" rx="6" ry="8" transform="rotate(10 111 688)" fill="#d4b2b0" opacity="0.8"/>
<ellipse cx="137" cy="675" rx="4" ry="10" transform="rotate(-5 137 675)" fill="#bc9090" opacity="0.6"/>
<ellipse cx="132" cy="697" rx="12" ry="4" transform="rotate(-10 132 697)" fill="#c8a4a4" opacity="0.7"/>
<ellipse cx="118" cy="660" rx="10" ry="3" transform="rotate(0 118 660)" fill="#c49c9a" opacity="0.6"/>
<ellipse cx="123" cy="684" rx="3.5" ry="2.5" fill="#7c4040" opacity="0.85"/>
<ellipse cx="117.5" cy="692" rx="2.5" ry="2" fill="#7a3a3a" opacity="0.85"/>
<ellipse cx="145" cy="688" rx="3" ry="6" fill="#9a6060" opacity="0.85"/>
</g>
<circle cx="106.00" cy="670.00" r="0.50" fill="#c04a4a" opacity="0.6"/>
<circle cx="141.00" cy="684.00" r="0.50" fill="#c04a4a" opacity="0.6"/>
<circle cx="130.00" cy="668.00" r="0.50" fill="#c04a4a" opacity="0.6"/>
<circle cx="108.00" cy="676.00" r="0.50" fill="#c04a4a" opacity="0.6"/>
</g>
<text x="78.80" y="685.70" font-size="12.9" text-anchor="middle" fill="#000" stroke="#000" stroke-width="0.35">VS</text>
<text x="32.70" y="715.80" font-size="10.1" text-anchor="middle" >n=11</text>
<text x="124.90" y="715.80" font-size="10.1" text-anchor="middle" >n=64</text>
<text x="36.20" y="740.20" font-size="10.1" text-anchor="middle" >Healthy</text>
<text x="36.20" y="750.70" font-size="10.1" text-anchor="middle" >(from hamstring</text>
<text x="37.40" y="761.20" font-size="10.1" text-anchor="middle" >tendon tissue)</text>
<text x="118.00" y="740.20" font-size="10.1" text-anchor="middle" >Tendinopathy</text>
<text x="118.00" y="750.70" font-size="10.1" text-anchor="middle" >(from rotator</text>
<text x="118.00" y="761.20" font-size="10.1" text-anchor="middle" >cuff tendon)</text>
<text x="155.30" y="601.60" font-size="12.0" >G</text>
<text x="350.10" y="598.60" font-size="12.7" text-anchor="middle" textLength="126.8" lengthAdjust="spacing" fill="#000" stroke="#000" stroke-width="0.42">Human tendon tissue</text>
<text x="204.20" y="627.00" font-size="12.5" text-anchor="middle" >20x</text>
<text x="269.90" y="627.00" font-size="12.5" text-anchor="middle" fill="#9a9a9a" >LOX</text>
<text x="336.50" y="627.00" font-size="12.5" text-anchor="middle" fill="#d42222" >UTS2R</text>
<text x="403.50" y="627.00" font-size="12.5" text-anchor="middle" >Merge</text>
<text x="489.90" y="627.00" font-size="12.5" text-anchor="middle" >HE staining</text>
<text transform="translate(167.2,652.2) rotate(-90)" font-size="12.5" text-anchor="middle">Healthy tendon</text>
<text transform="translate(167.2,739.0) rotate(-90)" font-size="12.5" text-anchor="middle">Tendinopathy</text>
<clipPath id="c11"><rect x="171.20" y="631.00" width="61.60" height="61.60"/></clipPath><g clip-path="url(#c11)">
<rect x="171.20" y="631.00" width="61.60" height="61.60" fill="#020210" />
<g filter="url(#fb)">
<line x1="173.20" y1="643.00" x2="193.20" y2="697.00" stroke="#0c0c66" stroke-width="10" stroke-linecap="round"/>
<line x1="173.20" y1="643.00" x2="193.20" y2="697.00" stroke="#14148e" stroke-width="5.0" stroke-linecap="round" opacity="0.8"/>
<line x1="193.20" y1="627.00" x2="207.20" y2="661.00" stroke="#0c0c66" stroke-width="9" stroke-linecap="round"/>
<line x1="193.20" y1="627.00" x2="207.20" y2="661.00" stroke="#14148e" stroke-width="4.5" stroke-linecap="round" opacity="0.8"/>
<line x1="211.20" y1="637.00" x2="237.20" y2="681.00" stroke="#0c0c66" stroke-width="11" stroke-linecap="round"/>
<line x1="211.20" y1="637.00" x2="237.20" y2="681.00" stroke="#14148e" stroke-width="5.5" stroke-linecap="round" opacity="0.8"/>
<line x1="205.20" y1="669.00" x2="221.20" y2="697.00" stroke="#0c0c66" stroke-width="9" stroke-linecap="round"/>
<line x1="205.20" y1="669.00" x2="221.20" y2="697.00" stroke="#14148e" stroke-width="4.5" stroke-linecap="round" opacity="0.8"/>
<line x1="169.20" y1="669.00" x2="179.20" y2="697.00" stroke="#0c0c66" stroke-width="6" stroke-linecap="round"/>
<line x1="169.20" y1="669.00" x2="179.20" y2="697.00" stroke="#14148e" stroke-width="3.0" stroke-linecap="round" opacity="0.8"/>
<line x1="225.20" y1="627.00" x2="237.20" y2="647.00" stroke="#0c0c66" stroke-width="6" stroke-linecap="round"/>
<line x1="225.20" y1="627.00" x2="237.20" y2="647.00" stroke="#14148e" stroke-width="3.0" stroke-linecap="round" opacity="0.8"/>
</g>
<path d="M180.7,665.9a0.57,0.57 0 1,0 1.14,0a0.57,0.57 0 1,0 -1.14,0M197.0,695.6a0.58,0.58 0 1,0 1.16,0a0.58,0.58 0 1,0 -1.16,0M191.7,692.2a0.65,0.65 0 1,0 1.30,0a0.65,0.65 0 1,0 -1.30,0M185.3,669.7a0.70,0.70 0 1,0 1.40,0a0.70,0.70 0 1,0 -1.40,0M187.8,685.4a0.56,0.56 0 1,0 1.11,0a0.56,0.56 0 1,0 -1.11,0M176.4,662.9a0.74,0.74 0 1,0 1.48,0a0.74,0.74 0 1,0 -1.48,0M191.8,675.9a0.42,0.42 0 1,0 0.84,0a0.42,0.42 0 1,0 -0.84,0M185.1,687.4a0.58,0.58 0 1,0 1.15,0a0.58,0.58 0 1,0 -1.15,0M186.1,687.2a0.50,0.50 0 1,0 1.00,0a0.50,0.50 0 1,0 -1.00,0M183.8,685.4a0.75,0.75 0 1,0 1.50,0a0.75,0.75 0 1,0 -1.50,0M184.6,658.3a0.56,0.56 0 1,0 1.12,0a0.56,0.56 0 1,0 -1.12,0M188.7,672.4a0.50,0.50 0 1,0 1.01,0a0.50,0.50 0 1,0 -1.01,0M188.5,699.4a0.68,0.68 0 1,0 1.37,0a0.68,0.68 0 1,0 -1.37,0M177.5,664.0a0.49,0.49 0 1,0 0.97,0a0.49,0.49 0 1,0 -0.97,0M181.3,664.4a0.75,0.75 0 1,0 1.49,0a0.75,0.75 0 1,0 -1.49,0M184.5,684.1a0.47,0.47 0 1,0 0.94,0a0.47,0.47 0 1,0 -0.94,0M190.0,682.2a0.55,0.55 0 1,0 1.10,0a0.55,0.55 0 1,0 -1.10,0M176.9,660.7a0.61,0.61 0 1,0 1.21,0a0.61,0.61 0 1,0 -1.21,0M180.6,665.7a0.35,0.35 0 1,0 0.70,0a0.35,0.35 0 1,0 -0.70,0M178.1,661.4a0.57,0.57 0 1,0 1.13,0a0.57,0.57 0 1,0 -1.13,0M178.8,665.5a0.49,0.49 0 1,0 0.99,0a0.49,0.49 0 1,0 -0.99,0M187.7,680.2a0.36,0.36 0 1,0 0.73,0a0.36,0.36 0 1,0 -0.73,0M185.7,687.3a0.62,0.62 0 1,0 1.25,0a0.62,0.62 0 1,0 -1.25,0M183.8,672.4a0.74,0.74 0 1,0 1.47,0a0.74,0.74 0 1,0 -1.47,0M179.4,679.9a0.71,0.71 0 1,0 1.42,0a0.71,0.71 0 1,0 -1.42,0M188.8,675.5a0.51,0.51 0 1,0 1.03,0a0.51,0.51 0 1,0 -1.03,0M184.8,672.6a0.69,0.69 0 1,0 1.38,0a0.69,0.69 0 1,0 -1.38,0M179.0,660.6a0.39,0.39 0 1,0 0.79,0a0.39,0.39 0 1,0 -0.79,0M171.1,656.2a0.42,0.42 0 1,0 0.84,0a0.42,0.42 0 1,0 -0.84,0M175.5,661.7a0.49,0.49 0 1,0 0.98,0a0.49,0.49 0 1,0 -0.98,0M186.5,679.9a0.58,0.58 0 1,0 1.16,0a0.58,0.58 0 1,0 -1.16,0M187.7,682.8a0.62,0.62 0 1,0 1.24,0a0.62,0.62 0 1,0 -1.24,0M178.2,644.5a0.41,0.41 0 1,0 0.83,0a0.41,0.41 0 1,0 -0.83,0M182.1,665.6a0.49,0.49 0 1,0 0.98,0a0.49,0.49 0 1,0 -0.98,0M194.4,687.7a0.60,0.60 0 1,0 1.21,0a0.60,0.60 0 1,0 -1.21,0M180.0,674.2a0.55,0.55 0 1,0 1.10,0a0.55,0.55 0 1,0 -1.10,0M182.0,662.3a0.51,0.51 0 1,0 1.02,0a0.51,0.51 0 1,0 -1.02,0M188.9,679.1a0.52,0.52 0 1,0 1.05,0a0.52,0.52 0 1,0 -1.05,0M181.3,667.4a0.67,0.67 0 1,0 1.33,0a0.67,0.67 0 1,0 -1.33,0M173.9,653.5a0.58,0.58 0 1,0 1.16,0a0.58,0.58 0 1,0 -1.16,0" fill="#2e2ee8"/>
<path d="M206.2,655.6a0.43,0.43 0 1,0 0.85,0a0.43,0.43 0 1,0 -0.85,0M200.9,647.1a0.44,0.44 0 1,0 0.88,0a0.44,0.44 0 1,0 -0.88,0M193.7,642.9a0.70,0.70 0 1,0 1.40,0a0.70,0.70 0 1,0 -1.40,0M201.2,656.0a0.43,0.43 0 1,0 0.86,0a0.43,0.43 0 1,0 -0.86,0M200.4,642.2a0.51,0.51 0 1,0 1.02,0a0.51,0.51 0 1,0 -1.02,0M196.8,631.5a0.54,0.54 0 1,0 1.09,0a0.54,0.54 0 1,0 -1.09,0M191.9,625.4a0.67,0.67 0 1,0 1.34,0a0.67,0.67 0 1,0 -1.34,0M202.8,649.2a0.45,0.45 0 1,0 0.90,0a0.45,0.45 0 1,0 -0.90,0M207.6,649.5a0.64,0.64 0 1,0 1.28,0a0.64,0.64 0 1,0 -1.28,0M198.8,644.7a0.57,0.57 0 1,0 1.14,0a0.57,0.57 0 1,0 -1.14,0M204.4,654.2a0.62,0.62 0 1,0 1.25,0a0.62,0.62 0 1,0 -1.25,0M199.8,640.0a0.74,0.74 0 1,0 1.49,0a0.74,0.74 0 1,0 -1.49,0M203.2,660.0a0.58,0.58 0 1,0 1.17,0a0.58,0.58 0 1,0 -1.17,0M200.8,638.0a0.68,0.68 0 1,0 1.35,0a0.68,0.68 0 1,0 -1.35,0M192.4,635.5a0.58,0.58 0 1,0 1.17,0a0.58,0.58 0 1,0 -1.17,0M194.3,624.5a0.41,0.41 0 1,0 0.83,0a0.41,0.41 0 1,0 -0.83,0M199.9,654.4a0.65,0.65 0 1,0 1.29,0a0.65,0.65 0 1,0 -1.29,0M202.3,647.6a0.48,0.48 0 1,0 0.97,0a0.48,0.48 0 1,0 -0.97,0M193.7,631.0a0.36,0.36 0 1,0 0.72,0a0.36,0.36 0 1,0 -0.72,0M196.3,635.0a0.53,0.53 0 1,0 1.06,0a0.53,0.53 0 1,0 -1.06,0M202.9,643.1a0.45,0.45 0 1,0 0.90,0a0.45,0.45 0 1,0 -0.90,0M195.6,630.7a0.51,0.51 0 1,0 1.02,0a0.51,0.51 0 1,0 -1.02,0M193.1,633.1a0.64,0.64 0 1,0 1.29,0a0.64,0.64 0 1,0 -1.29,0M204.2,657.8a0.74,0.74 0 1,0 1.47,0a0.74,0.74 0 1,0 -1.47,0M190.9,625.8a0.54,0.54 0 1,0 1.09,0a0.54,0.54 0 1,0 -1.09,0M207.8,661.1a0.71,0.71 0 1,0 1.43,0a0.71,0.71 0 1,0 -1.43,0M207.1,654.9a0.55,0.55 0 1,0 1.11,0a0.55,0.55 0 1,0 -1.11,0M203.0,657.4a0.36,0.36 0 1,0 0.73,0a0.36,0.36 0 1,0 -0.73,0M200.0,639.3a0.47,0.47 0 1,0 0.95,0a0.47,0.47 0 1,0 -0.95,0M202.1,638.3a0.52,0.52 0 1,0 1.05,0a0.52,0.52 0 1,0 -1.05,0M192.3,632.4a0.73,0.73 0 1,0 1.46,0a0.73,0.73 0 1,0 -1.46,0M201.1,640.9a0.37,0.37 0 1,0 0.74,0a0.37,0.37 0 1,0 -0.74,0M209.9,660.0a0.59,0.59 0 1,0 1.18,0a0.59,0.59 0 1,0 -1.18,0M198.0,633.9a0.74,0.74 0 1,0 1.49,0a0.74,0.74 0 1,0 -1.49,0M207.0,643.6a0.50,0.50 0 1,0 1.00,0a0.50,0.50 0 1,0 -1.00,0M201.9,646.2a0.36,0.36 0 1,0 0.72,0a0.36,0.36 0 1,0 -0.72,0M202.6,648.4a0.39,0.39 0 1,0 0.78,0a0.39,0.39 0 1,0 -0.78,0M192.1,628.9a0.69,0.69 0 1,0 1.38,0a0.69,0.69 0 1,0 -1.38,0M203.4,641.0a0.52,0.52 0 1,0 1.04,0a0.52,0.52 0 1,0 -1.04,0M191.4,635.0a0.69,0.69 0 1,0 1.39,0a0.69,0.69 0 1,0 -1.39,0" fill="#2e2ee8"/>
<path d="M233.5,676.8a0.62,0.62 0 1,0 1.23,0a0.62,0.62 0 1,0 -1.23,0M225.1,662.9a0.67,0.67 0 1,0 1.35,0a0.67,0.67 0 1,0 -1.35,0M227.4,663.1a0.73,0.73 0 1,0 1.46,0a0.73,0.73 0 1,0 -1.46,0M229.4,667.3a0.61,0.61 0 1,0 1.21,0a0.61,0.61 0 1,0 -1.21,0M220.9,649.5a0.54,0.54 0 1,0 1.09,0a0.54,0.54 0 1,0 -1.09,0M226.0,658.2a0.71,0.71 0 1,0 1.41,0a0.71,0.71 0 1,0 -1.41,0M222.7,665.8a0.70,0.70 0 1,0 1.41,0a0.70,0.70 0 1,0 -1.41,0M229.4,669.7a0.44,0.44 0 1,0 0.88,0a0.44,0.44 0 1,0 -0.88,0M230.8,668.5a0.49,0.49 0 1,0 0.98,0a0.49,0.49 0 1,0 -0.98,0M223.2,648.9a0.65,0.65 0 1,0 1.30,0a0.65,0.65 0 1,0 -1.30,0M213.6,654.7a0.72,0.72 0 1,0 1.44,0a0.72,0.72 0 1,0 -1.44,0M232.3,666.8a0.37,0.37 0 1,0 0.74,0a0.37,0.37 0 1,0 -0.74,0M212.5,640.5a0.65,0.65 0 1,0 1.30,0a0.65,0.65 0 1,0 -1.30,0M231.6,672.9a0.75,0.75 0 1,0 1.50,0a0.75,0.75 0 1,0 -1.50,0M233.1,665.3a0.54,0.54 0 1,0 1.08,0a0.54,0.54 0 1,0 -1.08,0M236.5,671.5a0.38,0.38 0 1,0 0.77,0a0.38,0.38 0 1,0 -0.77,0M219.7,650.6a0.42,0.42 0 1,0 0.83,0a0.42,0.42 0 1,0 -0.83,0M224.8,659.7a0.39,0.39 0 1,0 0.78,0a0.39,0.39 0 1,0 -0.78,0M231.3,675.8a0.39,0.39 0 1,0 0.79,0a0.39,0.39 0 1,0 -0.79,0M225.8,663.2a0.60,0.60 0 1,0 1.20,0a0.60,0.60 0 1,0 -1.20,0M223.5,659.9a0.54,0.54 0 1,0 1.08,0a0.54,0.54 0 1,0 -1.08,0M230.8,672.3a0.48,0.48 0 1,0 0.97,0a0.48,0.48 0 1,0 -0.97,0M236.7,676.8a0.56,0.56 0 1,0 1.11,0a0.56,0.56 0 1,0 -1.11,0M223.1,655.9a0.69,0.69 0 1,0 1.37,0a0.69,0.69 0 1,0 -1.37,0M221.8,660.2a0.37,0.37 0 1,0 0.74,0a0.37,0.37 0 1,0 -0.74,0M215.3,636.1a0.43,0.43 0 1,0 0.86,0a0.43,0.43 0 1,0 -0.86,0M221.2,652.2a0.56,0.56 0 1,0 1.12,0a0.56,0.56 0 1,0 -1.12,0M224.2,669.9a0.75,0.75 0 1,0 1.50,0a0.75,0.75 0 1,0 -1.50,0M226.9,662.4a0.62,0.62 0 1,0 1.24,0a0.62,0.62 0 1,0 -1.24,0M215.0,642.1a0.37,0.37 0 1,0 0.74,0a0.37,0.37 0 1,0 -0.74,0M233.3,682.9a0.59,0.59 0 1,0 1.18,0a0.59,0.59 0 1,0 -1.18,0M212.2,644.7a0.65,0.65 0 1,0 1.29,0a0.65,0.65 0 1,0 -1.29,0M230.4,669.6a0.53,0.53 0 1,0 1.07,0a0.53,0.53 0 1,0 -1.07,0M235.7,679.8a0.60,0.60 0 1,0 1.19,0a0.60,0.60 0 1,0 -1.19,0M241.1,681.5a0.53,0.53 0 1,0 1.07,0a0.53,0.53 0 1,0 -1.07,0M225.1,659.1a0.59,0.59 0 1,0 1.18,0a0.59,0.59 0 1,0 -1.18,0M219.1,646.2a0.52,0.52 0 1,0 1.03,0a0.52,0.52 0 1,0 -1.03,0M215.0,639.0a0.58,0.58 0 1,0 1.15,0a0.58,0.58 0 1,0 -1.15,0M232.1,669.1a0.63,0.63 0 1,0 1.25,0a0.63,0.63 0 1,0 -1.25,0M231.1,678.9a0.48,0.48 0 1,0 0.95,0a0.48,0.48 0 1,0 -0.95,0" fill="#2e2ee8"/>
<path d="M212.8,691.8a0.70,0.70 0 1,0 1.41,0a0.70,0.70 0 1,0 -1.41,0M214.8,693.3a0.58,0.58 0 1,0 1.17,0a0.58,0.58 0 1,0 -1.17,0M212.1,694.8a0.44,0.44 0 1,0 0.87,0a0.44,0.44 0 1,0 -0.87,0M214.2,685.0a0.47,0.47 0 1,0 0.93,0a0.47,0.47 0 1,0 -0.93,0M201.7,668.6a0.51,0.51 0 1,0 1.02,0a0.51,0.51 0 1,0 -1.02,0M213.2,690.0a0.38,0.38 0 1,0 0.77,0a0.38,0.38 0 1,0 -0.77,0M211.5,678.5a0.69,0.69 0 1,0 1.38,0a0.69,0.69 0 1,0 -1.38,0M204.3,671.1a0.62,0.62 0 1,0 1.24,0a0.62,0.62 0 1,0 -1.24,0M222.1,686.6a0.74,0.74 0 1,0 1.47,0a0.74,0.74 0 1,0 -1.47,0M216.2,679.8a0.46,0.46 0 1,0 0.92,0a0.46,0.46 0 1,0 -0.92,0M204.3,677.3a0.39,0.39 0 1,0 0.78,0a0.39,0.39 0 1,0 -0.78,0M217.0,690.4a0.51,0.51 0 1,0 1.03,0a0.51,0.51 0 1,0 -1.03,0M206.8,682.3a0.53,0.53 0 1,0 1.05,0a0.53,0.53 0 1,0 -1.05,0M217.2,688.1a0.36,0.36 0 1,0 0.72,0a0.36,0.36 0 1,0 -0.72,0M221.7,700.5a0.51,0.51 0 1,0 1.02,0a0.51,0.51 0 1,0 -1.02,0M211.4,675.5a0.59,0.59 0 1,0 1.18,0a0.59,0.59 0 1,0 -1.18,0M207.8,670.7a0.70,0.70 0 1,0 1.40,0a0.70,0.70 0 1,0 -1.40,0M216.6,693.0a0.52,0.52 0 1,0 1.03,0a0.52,0.52 0 1,0 -1.03,0M215.4,691.6a0.55,0.55 0 1,0 1.10,0a0.55,0.55 0 1,0 -1.10,0M203.9,677.8a0.55,0.55 0 1,0 1.10,0a0.55,0.55 0 1,0 -1.10,0M203.4,673.7a0.44,0.44 0 1,0 0.89,0a0.44,0.44 0 1,0 -0.89,0M208.3,678.8a0.42,0.42 0 1,0 0.85,0a0.42,0.42 0 1,0 -0.85,0M224.8,696.1a0.39,0.39 0 1,0 0.78,0a0.39,0.39 0 1,0 -0.78,0M210.5,683.7a0.60,0.60 0 1,0 1.20,0a0.60,0.60 0 1,0 -1.20,0M218.5,694.7a0.43,0.43 0 1,0 0.86,0a0.43,0.43 0 1,0 -0.86,0M214.7,690.7a0.51,0.51 0 1,0 1.01,0a0.51,0.51 0 1,0 -1.01,0M208.2,674.5a0.72,0.72 0 1,0 1.43,0a0.72,0.72 0 1,0 -1.43,0M204.5,677.3a0.71,0.71 0 1,0 1.43,0a0.71,0.71 0 1,0 -1.43,0M212.4,680.7a0.61,0.61 0 1,0 1.21,0a0.61,0.61 0 1,0 -1.21,0M209.2,675.9a0.42,0.42 0 1,0 0.85,0a0.42,0.42 0 1,0 -0.85,0M208.0,671.9a0.72,0.72 0 1,0 1.43,0a0.72,0.72 0 1,0 -1.43,0M216.4,682.8a0.45,0.45 0 1,0 0.91,0a0.45,0.45 0 1,0 -0.91,0M213.1,689.3a0.36,0.36 0 1,0 0.72,0a0.36,0.36 0 1,0 -0.72,0M208.1,672.0a0.70,0.70 0 1,0 1.41,0a0.70,0.70 0 1,0 -1.41,0M209.4,689.8a0.35,0.35 0 1,0 0.70,0a0.35,0.35 0 1,0 -0.70,0M209.9,680.0a0.70,0.70 0 1,0 1.40,0a0.70,0.70 0 1,0 -1.40,0M205.0,672.0a0.50,0.50 0 1,0 1.01,0a0.50,0.50 0 1,0 -1.01,0M211.6,683.8a0.62,0.62 0 1,0 1.23,0a0.62,0.62 0 1,0 -1.23,0M221.9,690.5a0.39,0.39 0 1,0 0.79,0a0.39,0.39 0 1,0 -0.79,0M207.7,678.0a0.55,0.55 0 1,0 1.09,0a0.55,0.55 0 1,0 -1.09,0" fill="#2e2ee8"/>
<path d="M180.8,696.6a0.60,0.60 0 1,0 1.20,0a0.60,0.60 0 1,0 -1.20,0M169.1,678.8a0.70,0.70 0 1,0 1.41,0a0.70,0.70 0 1,0 -1.41,0M175.4,690.9a0.49,0.49 0 1,0 0.99,0a0.49,0.49 0 1,0 -0.99,0M174.0,693.1a0.61,0.61 0 1,0 1.21,0a0.61,0.61 0 1,0 -1.21,0M166.5,666.5a0.40,0.40 0 1,0 0.79,0a0.40,0.40 0 1,0 -0.79,0M174.3,678.8a0.56,0.56 0 1,0 1.12,0a0.56,0.56 0 1,0 -1.12,0M169.3,677.7a0.49,0.49 0 1,0 0.98,0a0.49,0.49 0 1,0 -0.98,0M174.1,684.7a0.48,0.48 0 1,0 0.97,0a0.48,0.48 0 1,0 -0.97,0M169.4,686.6a0.50,0.50 0 1,0 0.99,0a0.50,0.50 0 1,0 -0.99,0M177.2,691.4a0.46,0.46 0 1,0 0.92,0a0.46,0.46 0 1,0 -0.92,0M172.8,700.1a0.58,0.58 0 1,0 1.15,0a0.58,0.58 0 1,0 -1.15,0M165.4,676.4a0.63,0.63 0 1,0 1.25,0a0.63,0.63 0 1,0 -1.25,0M173.2,690.4a0.41,0.41 0 1,0 0.81,0a0.41,0.41 0 1,0 -0.81,0M174.3,688.9a0.47,0.47 0 1,0 0.94,0a0.47,0.47 0 1,0 -0.94,0M173.5,689.9a0.75,0.75 0 1,0 1.49,0a0.75,0.75 0 1,0 -1.49,0M173.8,685.4a0.63,0.63 0 1,0 1.26,0a0.63,0.63 0 1,0 -1.26,0M178.7,678.0a0.62,0.62 0 1,0 1.24,0a0.62,0.62 0 1,0 -1.24,0M171.9,681.2a0.71,0.71 0 1,0 1.41,0a0.71,0.71 0 1,0 -1.41,0M174.1,690.4a0.67,0.67 0 1,0 1.34,0a0.67,0.67 0 1,0 -1.34,0M167.0,670.9a0.59,0.59 0 1,0 1.19,0a0.59,0.59 0 1,0 -1.19,0M167.2,674.9a0.51,0.51 0 1,0 1.03,0a0.51,0.51 0 1,0 -1.03,0M175.5,672.7a0.54,0.54 0 1,0 1.07,0a0.54,0.54 0 1,0 -1.07,0M174.6,681.6a0.35,0.35 0 1,0 0.70,0a0.35,0.35 0 1,0 -0.70,0M180.1,694.9a0.54,0.54 0 1,0 1.08,0a0.54,0.54 0 1,0 -1.08,0M175.1,689.3a0.61,0.61 0 1,0 1.21,0a0.61,0.61 0 1,0 -1.21,0M180.7,698.0a0.39,0.39 0 1,0 0.78,0a0.39,0.39 0 1,0 -0.78,0M171.6,677.8a0.67,0.67 0 1,0 1.35,0a0.67,0.67 0 1,0 -1.35,0M171.1,671.2a0.67,0.67 0 1,0 1.34,0a0.67,0.67 0 1,0 -1.34,0M163.8,666.7a0.60,0.60 0 1,0 1.21,0a0.60,0.60 0 1,0 -1.21,0M169.7,688.4a0.56,0.56 0 1,0 1.13,0a0.56,0.56 0 1,0 -1.13,0M168.9,678.9a0.42,0.42 0 1,0 0.85,0a0.42,0.42 0 1,0 -0.85,0M177.8,684.1a0.35,0.35 0 1,0 0.71,0a0.35,0.35 0 1,0 -0.71,0M172.9,678.8a0.55,0.55 0 1,0 1.10,0a0.55,0.55 0 1,0 -1.10,0M173.1,687.6a0.36,0.36 0 1,0 0.71,0a0.36,0.36 0 1,0 -0.71,0M177.7,692.2a0.56,0.56 0 1,0 1.12,0a0.56,0.56 0 1,0 -1.12,0M182.0,694.5a0.65,0.65 0 1,0 1.30,0a0.65,0.65 0 1,0 -1.30,0M179.3,697.8a0.50,0.50 0 1,0 1.00,0a0.50,0.50 0 1,0 -1.00,0M174.5,685.7a0.73,0.73 0 1,0 1.46,0a0.73,0.73 0 1,0 -1.46,0M168.5,682.2a0.41,0.41 0 1,0 0.82,0a0.41,0.41 0 1,0 -0.82,0M174.7,699.5a0.41,0.41 0 1,0 0.82,0a0.41,0.41 0 1,0 -0.82,0" fill="#2e2ee8"/>
<path d="M178.5,667.4a0.37,0.37 0 1,0 0.74,0a0.37,0.37 0 1,0 -0.74,0M197.8,643.3a0.52,0.52 0 1,0 1.03,0a0.52,0.52 0 1,0 -1.03,0M216.3,673.3a0.34,0.34 0 1,0 0.68,0a0.34,0.34 0 1,0 -0.68,0M173.8,666.9a0.32,0.32 0 1,0 0.65,0a0.32,0.32 0 1,0 -0.65,0M214.7,664.7a0.58,0.58 0 1,0 1.16,0a0.58,0.58 0 1,0 -1.16,0M221.0,671.4a0.55,0.55 0 1,0 1.10,0a0.55,0.55 0 1,0 -1.10,0M202.1,648.9a0.32,0.32 0 1,0 0.64,0a0.32,0.32 0 1,0 -0.64,0M214.0,672.0a0.49,0.49 0 1,0 0.98,0a0.49,0.49 0 1,0 -0.98,0M202.2,659.0a0.58,0.58 0 1,0 1.15,0a0.58,0.58 0 1,0 -1.15,0M193.8,639.6a0.59,0.59 0 1,0 1.17,0a0.59,0.59 0 1,0 -1.17,0M217.5,686.2a0.60,0.60 0 1,0 1.19,0a0.60,0.60 0 1,0 -1.19,0M197.6,640.6a0.45,0.45 0 1,0 0.90,0a0.45,0.45 0 1,0 -0.90,0M200.9,654.9a0.54,0.54 0 1,0 1.07,0a0.54,0.54 0 1,0 -1.07,0M186.2,690.8a0.36,0.36 0 1,0 0.73,0a0.36,0.36 0 1,0 -0.73,0M188.3,682.1a0.37,0.37 0 1,0 0.74,0a0.37,0.37 0 1,0 -0.74,0M215.4,647.9a0.42,0.42 0 1,0 0.85,0a0.42,0.42 0 1,0 -0.85,0M199.6,646.2a0.55,0.55 0 1,0 1.09,0a0.55,0.55 0 1,0 -1.09,0M228.8,688.0a0.35,0.35 0 1,0 0.70,0a0.35,0.35 0 1,0 -0.70,0M172.3,658.1a0.52,0.52 0 1,0 1.04,0a0.52,0.52 0 1,0 -1.04,0M204.3,690.2a0.60,0.60 0 1,0 1.19,0a0.60,0.60 0 1,0 -1.19,0M212.8,647.1a0.42,0.42 0 1,0 0.84,0a0.42,0.42 0 1,0 -0.84,0M174.7,655.3a0.53,0.53 0 1,0 1.05,0a0.53,0.53 0 1,0 -1.05,0M190.2,642.4a0.46,0.46 0 1,0 0.92,0a0.46,0.46 0 1,0 -0.92,0M226.1,670.8a0.33,0.33 0 1,0 0.67,0a0.33,0.33 0 1,0 -0.67,0M197.2,645.1a0.54,0.54 0 1,0 1.09,0a0.54,0.54 0 1,0 -1.09,0M196.4,658.3a0.56,0.56 0 1,0 1.13,0a0.56,0.56 0 1,0 -1.13,0M188.9,658.6a0.59,0.59 0 1,0 1.19,0a0.59,0.59 0 1,0 -1.19,0M189.6,664.2a0.49,0.49 0 1,0 0.99,0a0.49,0.49 0 1,0 -0.99,0M191.4,669.7a0.43,0.43 0 1,0 0.85,0a0.43,0.43 0 1,0 -0.85,0M221.9,665.3a0.52,0.52 0 1,0 1.04,0a0.52,0.52 0 1,0 -1.04,0M206.1,673.9a0.42,0.42 0 1,0 0.83,0a0.42,0.42 0 1,0 -0.83,0M179.9,653.4a0.40,0.40 0 1,0 0.80,0a0.40,0.40 0 1,0 -0.80,0M171.6,678.4a0.46,0.46 0 1,0 0.91,0a0.46,0.46 0 1,0 -0.91,0M200.5,674.4a0.32,0.32 0 1,0 0.64,0a0.32,0.32 0 1,0 -0.64,0M178.6,675.2a0.31,0.31 0 1,0 0.62,0a0.31,0.31 0 1,0 -0.62,0M224.1,662.3a0.59,0.59 0 1,0 1.18,0a0.59,0.59 0 1,0 -1.18,0M223.7,656.1a0.40,0.40 0 1,0 0.81,0a0.40,0.40 0 1,0 -0.81,0M197.5,678.4a0.44,0.44 0 1,0 0.88,0a0.44,0.44 0 1,0 -0.88,0M215.0,692.1a0.52,0.52 0 1,0 1.05,0a0.52,0.52 0 1,0 -1.05,0M202.4,676.7a0.45,0.45 0 1,0 0.90,0a0.45,0.45 0 1,0 -0.90,0" fill="#2a2ae0"/>
</g>
<clipPath id="c12"><rect x="238.80" y="631.00" width="61.50" height="61.60"/></clipPath><g clip-path="url(#c12)">
<rect x="238.80" y="631.00" width="61.50" height="61.60" fill="#000" />
<path d="M273.9,656.9a0.58,0.58 0 1,0 1.16,0a0.58,0.58 0 1,0 -1.16,0M299.0,666.0a0.47,0.47 0 1,0 0.94,0a0.47,0.47 0 1,0 -0.94,0M244.6,665.8a0.58,0.58 0 1,0 1.16,0a0.58,0.58 0 1,0 -1.16,0M253.3,678.7a0.38,0.38 0 1,0 0.75,0a0.38,0.38 0 1,0 -0.75,0M282.2,648.4a0.48,0.48 0 1,0 0.96,0a0.48,0.48 0 1,0 -0.96,0M285.9,633.0a0.55,0.55 0 1,0 1.10,0a0.55,0.55 0 1,0 -1.10,0M270.6,646.0a0.39,0.39 0 1,0 0.78,0a0.39,0.39 0 1,0 -0.78,0M272.5,676.7a0.35,0.35 0 1,0 0.71,0a0.35,0.35 0 1,0 -0.71,0M242.6,645.2a0.49,0.49 0 1,0 0.98,0a0.49,0.49 0 1,0 -0.98,0M263.1,678.0a0.52,0.52 0 1,0 1.04,0a0.52,0.52 0 1,0 -1.04,0M261.1,667.3a0.34,0.34 0 1,0 0.69,0a0.34,0.34 0 1,0 -0.69,0M275.9,670.9a0.37,0.37 0 1,0 0.74,0a0.37,0.37 0 1,0 -0.74,0M279.2,639.5a0.59,0.59 0 1,0 1.18,0a0.59,0.59 0 1,0 -1.18,0M272.0,687.8a0.50,0.50 0 1,0 1.00,0a0.50,0.50 0 1,0 -1.00,0M251.5,676.1a0.48,0.48 0 1,0 0.97,0a0.48,0.48 0 1,0 -0.97,0M261.5,673.7a0.53,0.53 0 1,0 1.06,0a0.53,0.53 0 1,0 -1.06,0" fill="#6a6a6a"/>
<path d="M280.0,644.4a0.59,0.59 0 1,0 1.18,0a0.59,0.59 0 1,0 -1.18,0M294.2,657.7a0.58,0.58 0 1,0 1.16,0a0.58,0.58 0 1,0 -1.16,0M299.5,652.2a0.36,0.36 0 1,0 0.71,0a0.36,0.36 0 1,0 -0.71,0M253.5,661.2a0.34,0.34 0 1,0 0.69,0a0.34,0.34 0 1,0 -0.69,0M253.1,676.1a0.31,0.31 0 1,0 0.61,0a0.31,0.31 0 1,0 -0.61,0M275.9,656.1a0.51,0.51 0 1,0 1.03,0a0.51,0.51 0 1,0 -1.03,0M254.4,660.5a0.36,0.36 0 1,0 0.73,0a0.36,0.36 0 1,0 -0.73,0M239.4,684.2a0.41,0.41 0 1,0 0.82,0a0.41,0.41 0 1,0 -0.82,0M256.5,688.6a0.41,0.41 0 1,0 0.82,0a0.41,0.41 0 1,0 -0.82,0M271.7,639.7a0.42,0.42 0 1,0 0.85,0a0.42,0.42 0 1,0 -0.85,0M292.1,681.8a0.55,0.55 0 1,0 1.09,0a0.55,0.55 0 1,0 -1.09,0M294.7,645.2a0.32,0.32 0 1,0 0.63,0a0.32,0.32 0 1,0 -0.63,0M246.3,671.1a0.46,0.46 0 1,0 0.93,0a0.46,0.46 0 1,0 -0.93,0M261.1,674.9a0.37,0.37 0 1,0 0.73,0a0.37,0.37 0 1,0 -0.73,0M275.8,656.7a0.34,0.34 0 1,0 0.68,0a0.34,0.34 0 1,0 -0.68,0M286.0,642.4a0.54,0.54 0 1,0 1.08,0a0.54,0.54 0 1,0 -1.08,0M285.2,657.9a0.44,0.44 0 1,0 0.87,0a0.44,0.44 0 1,0 -0.87,0M250.9,639.6a0.51,0.51 0 1,0 1.02,0a0.51,0.51 0 1,0 -1.02,0M261.2,665.7a0.41,0.41 0 1,0 0.82,0a0.41,0.41 0 1,0 -0.82,0M254.6,641.0a0.53,0.53 0 1,0 1.06,0a0.53,0.53 0 1,0 -1.06,0" fill="#2a2a2a"/>
</g>
<clipPath id="c13"><rect x="305.80" y="631.00" width="61.50" height="61.60"/></clipPath><g clip-path="url(#c13)">
<rect x="305.80" y="631.00" width="61.50" height="61.60" fill="#000" />
<path d="M331.8,640.4a0.65,0.65 0 1,0 1.30,0a0.65,0.65 0 1,0 -1.30,0M314.9,645.1a0.36,0.36 0 1,0 0.73,0a0.36,0.36 0 1,0 -0.73,0M339.9,678.9a0.31,0.31 0 1,0 0.62,0a0.31,0.31 0 1,0 -0.62,0M362.0,674.3a0.63,0.63 0 1,0 1.26,0a0.63,0.63 0 1,0 -1.26,0M331.4,657.9a0.34,0.34 0 1,0 0.68,0a0.34,0.34 0 1,0 -0.68,0M321.5,684.6a0.41,0.41 0 1,0 0.83,0a0.41,0.41 0 1,0 -0.83,0M360.5,682.3a0.67,0.67 0 1,0 1.34,0a0.67,0.67 0 1,0 -1.34,0M313.8,657.0a0.63,0.63 0 1,0 1.27,0a0.63,0.63 0 1,0 -1.27,0M324.6,646.1a0.31,0.31 0 1,0 0.62,0a0.31,0.31 0 1,0 -0.62,0M338.2,664.9a0.38,0.38 0 1,0 0.77,0a0.38,0.38 0 1,0 -0.77,0M321.4,670.0a0.37,0.37 0 1,0 0.74,0a0.37,0.37 0 1,0 -0.74,0M353.7,684.7a0.47,0.47 0 1,0 0.94,0a0.47,0.47 0 1,0 -0.94,0M313.4,666.2a0.42,0.42 0 1,0 0.84,0a0.42,0.42 0 1,0 -0.84,0M311.7,674.7a0.52,0.52 0 1,0 1.05,0a0.52,0.52 0 1,0 -1.05,0M321.9,646.2a0.59,0.59 0 1,0 1.18,0a0.59,0.59 0 1,0 -1.18,0M361.6,652.7a0.53,0.53 0 1,0 1.07,0a0.53,0.53 0 1,0 -1.07,0M318.8,659.7a0.53,0.53 0 1,0 1.06,0a0.53,0.53 0 1,0 -1.06,0M324.1,668.3a0.52,0.52 0 1,0 1.03,0a0.52,0.52 0 1,0 -1.03,0M308.0,638.3a0.47,0.47 0 1,0 0.93,0a0.47,0.47 0 1,0 -0.93,0M314.3,664.7a0.54,0.54 0 1,0 1.07,0a0.54,0.54 0 1,0 -1.07,0M343.7,685.5a0.54,0.54 0 1,0 1.09,0a0.54,0.54 0 1,0 -1.09,0M352.6,638.1a0.65,0.65 0 1,0 1.30,0a0.65,0.65 0 1,0 -1.30,0M362.3,667.4a0.63,0.63 0 1,0 1.26,0a0.63,0.63 0 1,0 -1.26,0M339.3,657.8a0.36,0.36 0 1,0 0.73,0a0.36,0.36 0 1,0 -0.73,0M334.7,674.9a0.62,0.62 0 1,0 1.24,0a0.62,0.62 0 1,0 -1.24,0M360.1,662.9a0.68,0.68 0 1,0 1.36,0a0.68,0.68 0 1,0 -1.36,0M328.2,632.2a0.47,0.47 0 1,0 0.94,0a0.47,0.47 0 1,0 -0.94,0M338.7,678.6a0.39,0.39 0 1,0 0.79,0a0.39,0.39 0 1,0 -0.79,0M307.0,675.5a0.38,0.38 0 1,0 0.75,0a0.38,0.38 0 1,0 -0.75,0M357.8,665.9a0.35,0.35 0 1,0 0.71,0a0.35,0.35 0 1,0 -0.71,0" fill="#5a0c0a"/>
<path d="M337.5,678.6a0.37,0.37 0 1,0 0.73,0a0.37,0.37 0 1,0 -0.73,0M364.2,634.5a0.34,0.34 0 1,0 0.69,0a0.34,0.34 0 1,0 -0.69,0M341.9,672.7a0.48,0.48 0 1,0 0.96,0a0.48,0.48 0 1,0 -0.96,0M362.3,643.4a0.31,0.31 0 1,0 0.63,0a0.31,0.31 0 1,0 -0.63,0M338.4,652.7a0.42,0.42 0 1,0 0.84,0a0.42,0.42 0 1,0 -0.84,0M329.7,685.3a0.39,0.39 0 1,0 0.77,0a0.39,0.39 0 1,0 -0.77,0M348.0,666.0a0.39,0.39 0 1,0 0.77,0a0.39,0.39 0 1,0 -0.77,0M361.5,646.7a0.39,0.39 0 1,0 0.78,0a0.39,0.39 0 1,0 -0.78,0" fill="#a01810"/>
</g>
<clipPath id="c14"><rect x="372.80" y="631.00" width="61.50" height="61.60"/></clipPath><g clip-path="url(#c14)">
<rect x="372.80" y="631.00" width="61.50" height="61.60" fill="#000" />
<path d="M384.1,674.2a0.51,0.51 0 1,0 1.02,0a0.51,0.51 0 1,0 -1.02,0M394.8,638.2a0.48,0.48 0 1,0 0.96,0a0.48,0.48 0 1,0 -0.96,0M393.1,664.9a0.50,0.50 0 1,0 0.99,0a0.50,0.50 0 1,0 -0.99,0M372.3,633.8a0.55,0.55 0 1,0 1.09,0a0.55,0.55 0 1,0 -1.09,0M425.8,636.4a0.37,0.37 0 1,0 0.73,0a0.37,0.37 0 1,0 -0.73,0M398.6,682.3a0.39,0.39 0 1,0 0.79,0a0.39,0.39 0 1,0 -0.79,0M431.0,636.6a0.57,0.57 0 1,0 1.14,0a0.57,0.57 0 1,0 -1.14,0M375.7,668.1a0.59,0.59 0 1,0 1.18,0a0.59,0.59 0 1,0 -1.18,0M416.8,687.3a0.41,0.41 0 1,0 0.81,0a0.41,0.41 0 1,0 -0.81,0M431.2,686.7a0.38,0.38 0 1,0 0.76,0a0.38,0.38 0 1,0 -0.76,0M419.9,687.5a0.36,0.36 0 1,0 0.73,0a0.36,0.36 0 1,0 -0.73,0M396.4,678.5a0.47,0.47 0 1,0 0.94,0a0.47,0.47 0 1,0 -0.94,0M428.8,657.7a0.43,0.43 0 1,0 0.87,0a0.43,0.43 0 1,0 -0.87,0M382.5,647.9a0.56,0.56 0 1,0 1.12,0a0.56,0.56 0 1,0 -1.12,0M388.3,686.2a0.54,0.54 0 1,0 1.08,0a0.54,0.54 0 1,0 -1.08,0M407.6,649.6a0.30,0.30 0 1,0 0.60,0a0.30,0.30 0 1,0 -0.60,0M379.5,682.0a0.59,0.59 0 1,0 1.18,0a0.59,0.59 0 1,0 -1.18,0M431.4,648.3a0.58,0.58 0 1,0 1.16,0a0.58,0.58 0 1,0 -1.16,0M399.3,653.7a0.57,0.57 0 1,0 1.15,0a0.57,0.57 0 1,0 -1.15,0M422.8,672.8a0.39,0.39 0 1,0 0.77,0a0.39,0.39 0 1,0 -0.77,0" fill="#401010"/>
<path d="M382.8,633.0l4.0,8.0M385.8,636.0l4.0,8.0M378.8,649.0l4.0,10.0M388.8,653.0l3.0,8.0M390.8,643.0l3.0,6.0M402.8,647.0l2.0,5.0M410.8,661.0l2.0,6.0M422.8,645.0l2.0,6.0M432.8,667.0l2.0,6.0M384.8,677.0l3.0,8.0M402.8,675.0l3.0,8.0M414.8,667.0l3.0,8.0M428.8,681.0l2.0,6.0M380.8,685.0l2.0,6.0M394.8,689.0l2.0,4.0M406.8,633.0l2.0,4.0M418.8,679.0l2.0,6.0" stroke="#2a1eff" stroke-width="1.5" stroke-linecap="round" fill="none"/>
<rect x="413.80" y="689.40" width="19.20" height="2.20" fill="#fff" />
<text x="423.40" y="688.40" font-size="3.3" text-anchor="middle" fill="#fff" >100μm</text>
</g>
<clipPath id="c15"><rect x="439.00" y="631.00" width="90.00" height="61.60"/></clipPath><g clip-path="url(#c15)">
<rect x="439.00" y="631.00" width="90.00" height="61.60" fill="#f39ae0" />
<path d="M439.0,631.0 L479.0,631.0 C469.0,651.0 459.0,671.0 449.0,693.0 L439.0,693.0 Z" fill="#ee88d8" opacity="0.8"/>
<ellipse cx="499.0" cy="647.0" rx="4" ry="8" transform="rotate(-30 499.0 647.0)" fill="#fbe4f4" filter="url(#fb)"/>
<path d="M411.8,619.7 L413.2,621.2 L415.2,622.2 L417.3,623.2 L418.9,624.6 L419.6,626.5 L419.8,628.8 L419.9,631.1 L420.7,633.0 L422.4,634.3 L424.6,635.2 L426.6,636.3 L427.8,637.9 L428.2,640.0 L428.2,642.4 L428.6,644.5M515.2,631.5 L517.2,632.5 L518.0,634.4 L517.9,636.9 L518.2,639.2 L519.7,640.6 L522.1,641.3 L524.2,642.3 L525.2,644.0 L525.2,646.5 L525.4,648.8 L526.6,650.4 L528.9,651.2M402.5,638.8 L403.0,640.8 L403.6,642.8 L404.5,644.6 L405.8,646.1 L407.3,647.6 L408.9,648.9 L410.4,650.4 L411.6,652.0 L412.4,653.8 L413.0,655.8 L413.4,657.9 L414.0,659.9 L414.8,661.7 L416.0,663.3 L417.5,664.8 L419.1,666.1 L420.6,667.5 L421.9,669.1 L422.8,670.9 L423.4,672.9 L423.9,675.0M507.8,670.5 L508.1,672.6 L508.0,674.9 L508.1,677.1 L508.9,679.0 L510.4,680.5 L512.3,681.7 L514.2,683.0 L515.3,684.6 L515.7,686.7 L515.7,689.0 L515.7,691.2 L516.4,693.1 L517.9,694.6 L519.8,695.8 L521.7,697.1 L522.9,698.7 L523.4,700.7 L523.3,703.0M421.1,621.9 L420.9,624.4 L421.5,626.4 L423.3,627.6 L425.8,628.4 L428.1,629.3 L429.4,630.8 L429.6,633.1 L429.2,635.7 L429.2,638.1 L430.2,639.8 L432.3,640.9 L434.8,641.6 L436.9,642.7 L437.8,644.5 L437.8,646.9 L437.4,649.5 L437.6,651.7 L439.0,653.2 L441.3,654.1 L443.8,654.9 L445.5,656.1 L446.1,658.1M449.0,668.2 L450.7,669.4 L452.7,670.5 L454.6,671.6 L456.1,673.0 L457.2,674.7 L457.8,676.7 L458.2,678.9 L458.6,681.1 L459.3,683.0 L460.5,684.6 L462.1,685.9 L464.1,687.0 L466.0,688.0 L467.6,689.3 L468.8,691.0 L469.5,692.9 L469.9,695.1 L470.2,697.3 L470.9,699.3 L472.0,701.0 L473.6,702.3M480.3,672.1 L481.1,673.9 L481.4,676.0 L481.6,678.2 L482.0,680.2 L482.8,682.1 L484.1,683.7 L485.7,685.1 L487.4,686.4 L488.7,688.0 L489.7,689.7 L490.1,691.8 L490.3,693.9 L490.6,696.0 L491.3,697.9 L492.4,699.6 L494.0,701.0 L495.7,702.4 L497.2,703.9 L498.2,705.6 L498.8,707.5 L499.0,709.7 L499.3,711.8M488.2,653.7 L488.8,655.6 L490.2,657.1 L492.2,658.2 L494.0,659.4 L495.3,661.0 L495.7,663.1 L495.9,665.3 L496.4,667.4 L497.7,668.9 L499.6,670.1 L501.6,671.2 L502.9,672.7 L503.5,674.7 L503.6,677.0 L504.1,679.1 L505.2,680.7 L507.1,681.9 L509.1,683.0 L510.5,684.5 L511.2,686.4 L511.4,688.7 L511.8,690.8 L512.8,692.5 L514.5,693.8 L516.5,694.9M472.2,617.8 L472.5,620.0 L473.2,622.0 L474.5,623.5 L476.3,624.7 L478.2,625.8 L479.8,627.2 L480.7,628.9 L481.2,631.1 L481.5,633.3 L482.1,635.3 L483.3,636.8 L485.1,638.1 L487.0,639.2 L488.7,640.5 L489.7,642.2 L490.1,644.3 L490.4,646.5M468.6,644.4 L470.7,645.4 L472.3,646.8 L473.0,648.7 L473.1,651.0 L473.0,653.4 L473.4,655.5 L474.6,657.1 L476.6,658.3 L478.8,659.2 L480.8,660.3 L482.0,661.9 L482.4,664.0 L482.3,666.4 L482.4,668.8 L483.1,670.7 L484.6,672.1 L486.7,673.1 L489.0,674.1 L490.7,675.4 L491.6,677.2 L491.7,679.4 L491.7,681.9M444.8,619.3 L446.9,620.3 L448.6,621.6 L449.3,623.5 L449.5,625.8 L450.0,627.9 L451.4,629.3 L453.5,630.3 L455.3,631.5 L456.2,633.3 L456.4,635.6 L456.8,637.8 L458.1,639.3 L460.1,640.4 L462.0,641.5M476.0,613.2 L476.4,615.3 L476.3,617.7 L476.4,619.9 L477.2,621.8 L478.8,623.1 L480.9,624.3 L482.8,625.5 L484.1,627.1 L484.5,629.1 L484.4,631.5 L484.5,633.7 L485.2,635.7 L486.7,637.1 L488.7,638.2 L490.7,639.4 L492.1,640.9 L492.6,642.9 L492.6,645.2 L492.6,647.5 L493.2,649.5M487.2,615.4 L488.5,616.9 L490.6,618.0 L492.8,619.0 L494.5,620.3 L495.2,622.2 L495.1,624.6 L495.0,627.0 L495.5,629.1 L497.0,630.5 L499.2,631.5 L501.4,632.5 L502.9,633.9 L503.4,635.9 L503.3,638.3 L503.3,640.7 L503.9,642.7 L505.5,644.0M402.5,675.7 L405.3,676.1 L407.5,677.1 L408.0,679.2 L407.5,681.9 L407.5,684.4 L409.1,685.7 L411.8,686.3 L414.2,687.0 L415.2,688.8 L414.8,691.5 L414.6,694.1 L415.7,695.7 L418.3,696.4 L420.9,697.0 L422.3,698.5 L422.2,701.0M455.1,654.2 L456.3,655.8 L458.3,657.0 L460.1,658.3 L461.0,660.0 L461.1,662.3 L461.2,664.5 L462.1,666.4 L463.8,667.7 L465.8,668.8 L467.1,670.4 L467.5,672.5 L467.5,674.8 L468.0,676.8 L469.4,678.3 L471.4,679.5 L473.1,680.8 L473.8,682.7 L473.9,684.9 L474.0,687.2 L475.0,688.9 L476.9,690.1 L478.8,691.3 L480.0,693.0 L480.3,695.1 L480.3,697.4 L480.9,699.4 L482.4,700.8 L484.4,702.0 L486.0,703.4M400.2,624.5 L400.6,626.6 L401.0,628.7 L402.0,630.4 L403.5,631.9 L405.2,633.2 L406.6,634.7 L407.5,636.4 L408.0,638.5 L408.4,640.6 L409.2,642.5 L410.5,644.0 L412.1,645.3 L413.7,646.7 L414.9,648.4 L415.5,650.3 L415.8,652.5 L416.4,654.4 L417.5,656.1 L419.1,657.5 L420.8,658.8 L422.1,660.3 L422.9,662.2 L423.3,664.3 L423.7,666.4 L424.7,668.1 L426.1,669.6 L427.8,670.9 L429.3,672.4M476.2,634.2 L476.9,636.2 L477.9,637.9 L479.4,639.3 L481.1,640.5 L482.9,641.7 L484.3,643.1 L485.4,644.8 L486.1,646.8 L486.7,648.8 L487.3,650.8 L488.4,652.5 L489.8,654.0 L491.5,655.2M466.5,662.4 L467.4,664.2 L468.0,666.3 L468.4,668.4 L469.1,670.4 L470.1,672.1 L471.7,673.4 L473.6,674.5 L475.5,675.6 L477.0,677.0 L478.0,678.7 L478.6,680.8 L479.0,683.0 L479.6,685.0 L480.7,686.7 L482.3,688.0 L484.2,689.1 L486.1,690.2M488.8,636.2 L490.5,637.5 L492.0,639.0 L493.0,640.7 L493.6,642.6 L494.1,644.7 L494.5,646.9 L495.1,648.8 L496.2,650.5 L497.6,652.0 L499.3,653.3 L501.1,654.5 L502.8,655.8 L504.1,657.3 L504.9,659.1 L505.5,661.2 L505.9,663.3 L506.4,665.4 L507.2,667.3 L508.3,668.9 L509.9,670.3 L511.6,671.5 L513.4,672.7 L514.9,674.1M476.3,652.6 L476.4,654.9 L477.0,656.9 L478.2,658.5 L480.0,659.7 L482.1,660.8 L483.9,662.0 L485.2,663.6 L485.8,665.6 L485.9,667.8 L486.0,670.1 L486.6,672.1 L487.8,673.7 L489.6,675.0 L491.7,676.0 L493.5,677.2 L494.8,678.8 L495.3,680.8 L495.5,683.1 L495.6,685.4 L496.1,687.4 L497.4,689.0" fill="none" stroke="#fff4fb" stroke-width="1.0" opacity="0.9"/>
<path d="M438.0,641.3 L439.0,643.1 L440.7,644.4 L442.8,645.5 L444.4,646.9 L445.2,648.8 L445.2,651.1 L445.0,653.4 L445.5,655.5 L446.8,657.0 L448.8,658.2 L450.8,659.4 L452.0,661.0 L452.3,663.1 L452.2,665.5 L452.2,667.7 L453.1,669.5 L454.8,670.9 L456.9,672.0 L458.6,673.4 L459.4,675.2 L459.4,677.5 L459.2,679.8 L459.7,681.9 L461.0,683.5 L462.9,684.7 L464.9,685.9M453.2,636.3 L453.8,638.3 L455.0,639.9 L456.7,641.2 L458.6,642.3 L460.4,643.6 L461.6,645.2 L462.2,647.1 L462.5,649.4 L462.8,651.6 L463.4,653.5 L464.7,655.1 L466.5,656.3 L468.4,657.4 L470.1,658.7 L471.2,660.4 L471.8,662.4M486.6,655.3 L487.8,656.9 L488.6,658.8 L489.2,660.8 L489.9,662.7 L490.9,664.4 L492.3,665.9 L493.9,667.2 L495.5,668.5 L496.9,670.1 L497.8,671.9 L498.5,673.8 L499.1,675.8 L500.0,677.6 L501.2,679.2 L502.8,680.5 L504.4,681.8M453.7,647.0 L454.2,649.1 L454.8,651.0 L455.7,652.8 L457.0,654.4 L458.6,655.8 L460.1,657.2 L461.3,658.8 L462.2,660.6 L462.8,662.6 L463.3,664.6 L464.0,666.5 L465.1,668.2 L466.6,669.6M491.3,637.8 L493.3,638.9 L495.2,640.0 L496.9,641.3 L498.0,642.9 L498.6,644.9 L498.9,647.2 L499.1,649.4 L499.8,651.4 L500.9,653.0 L502.6,654.3 L504.6,655.4 L506.5,656.5 L508.1,657.8 L509.1,659.6M409.5,625.8 L411.2,627.2 L412.9,628.5 L414.3,630.0 L415.5,631.6 L416.2,633.5 L416.6,635.6 L416.9,637.7 L417.4,639.8 L418.2,641.6 L419.4,643.2 L421.0,644.6 L422.7,645.9 L424.3,647.3 L425.6,648.9 L426.5,650.7 L427.0,652.7 L427.3,654.8 L427.7,656.9 L428.3,658.9 L429.4,660.6 L430.8,662.0 L432.5,663.4 L434.1,664.7 L435.6,666.2 L436.7,667.9M401.6,620.6 L403.2,622.0 L404.7,623.4 L405.8,625.2 L406.3,627.1 L406.6,629.3 L407.1,631.3 L408.2,633.0 L409.7,634.4 L411.3,635.8 L412.6,637.4 L413.3,639.3 L413.7,641.4 L414.0,643.4 L414.8,645.3 L416.2,646.8 L417.8,648.2 L419.3,649.7 L420.2,651.4 L420.7,653.5 L421.0,655.6 L421.6,657.5 L422.7,659.2 L424.3,660.6 L425.9,662.0M463.0,607.5 L464.5,609.0 L465.1,610.9 L465.0,613.2 L465.3,615.3 L466.6,616.9 L468.6,618.1 L470.2,619.5 L470.9,621.4 L470.9,623.7 L471.1,625.9 L472.3,627.5 L474.1,628.8 L475.9,630.1 L476.8,631.9 L476.9,634.1 L477.0,636.3 L477.9,638.1 L479.7,639.4 L481.6,640.7 L482.6,642.4 L482.8,644.6M520.7,657.1 L522.8,658.2 L525.2,659.2 L526.5,660.7 L526.5,663.0 L526.1,665.6 L526.5,667.6 L528.3,668.9 L530.7,669.9 L532.4,671.2 L532.7,673.3 L532.3,675.8 L532.3,678.1 L533.7,679.6 L536.1,680.6 L538.2,681.7 L538.9,683.6 L538.5,686.1 L538.3,688.5 L539.3,690.2 L541.5,691.3 L543.8,692.3 L545.0,694.0 L544.8,696.3 L544.4,698.8 L545.0,700.8 L547.0,702.0 L549.4,703.0M474.2,636.2 L476.0,637.4 L478.2,638.3 L480.3,639.3 L481.9,640.6 L482.9,642.4 L483.2,644.6 L483.2,647.0 L483.4,649.3 L484.3,651.1 L485.8,652.5 L487.9,653.5 L490.1,654.4 L492.0,655.6M461.9,666.5 L462.8,668.3 L463.4,670.3 L464.0,672.3 L464.8,674.2 L465.8,675.9 L467.2,677.4 L468.8,678.7 L470.5,680.0 L472.1,681.3 L473.4,682.8 L474.4,684.6 L475.1,686.5 L475.7,688.6 L476.4,690.5 L477.3,692.3 L478.5,693.9 L480.0,695.3 L481.7,696.6 L483.3,697.9 L484.8,699.3 L485.9,700.9 L486.8,702.8 L487.4,704.8M524.4,632.7 L524.8,634.8 L525.4,636.8 L526.2,638.6 L527.5,640.2 L529.0,641.6 L530.7,642.9 L532.3,644.2 L533.7,645.7 L534.7,647.4 L535.4,649.4 L535.8,651.4 L536.3,653.5 L536.9,655.5 L537.9,657.2 L539.2,658.8 L540.8,660.1 L542.5,661.4 L544.0,662.8M531.1,669.0 L530.8,671.6 L530.9,673.9 L531.7,675.7 L533.5,677.0 L535.9,677.8 L538.1,678.8 L539.4,680.4 L539.8,682.5 L539.6,685.0 L539.5,687.4 L540.2,689.3 L541.9,690.6 L544.2,691.5 L546.4,692.5 L547.9,693.9 L548.4,695.9 L548.3,698.4 L548.1,700.9 L548.7,702.9 L550.2,704.3 L552.5,705.2 L554.8,706.1 L556.4,707.5 L557.1,709.4M503.4,626.4 L504.6,628.0 L506.3,629.3 L508.0,630.6 L509.5,632.0 L510.3,633.9 L510.7,636.0 L511.2,638.1 L512.1,639.8 L513.7,641.2 L515.5,642.4 L517.1,643.8 L518.1,645.5 L518.6,647.6 L519.0,649.7 L519.8,651.6 L521.2,653.0 L523.0,654.3 L524.7,655.5 L525.8,657.2 L526.4,659.2 L526.8,661.3 L527.4,663.3 L528.7,664.9 L530.4,666.1M414.3,668.9 L415.3,670.7 L415.8,672.7 L416.0,674.9 L416.1,677.1 L416.5,679.1 L417.5,680.8 L418.9,682.3 L420.7,683.7 L422.4,685.0 L423.8,686.5 L424.6,688.4 L425.0,690.4 L425.1,692.6 L425.3,694.8 L425.9,696.8 L427.0,698.5 L428.5,699.9 L430.3,701.2 L432.0,702.6 L433.2,704.2 L433.9,706.1 L434.2,708.2 L434.3,710.4 L434.6,712.5 L435.3,714.4 L436.5,716.0M458.1,641.8 L459.4,643.4 L460.1,645.3 L460.4,647.5 L460.9,649.6 L462.0,651.3 L463.7,652.6 L465.7,653.6 L467.4,654.9 L468.5,656.5 L469.1,658.6 L469.4,660.8 L470.0,662.8 L471.2,664.4 L473.0,665.6 L475.0,666.6 L476.6,667.9M429.2,623.6 L430.1,625.4 L431.7,626.8 L433.8,627.9 L435.8,629.0 L437.5,630.4 L438.5,632.2 L438.7,634.3 L438.6,636.7 L438.5,639.0 L438.8,641.1 L439.8,642.8 L441.5,644.2 L443.6,645.3 L445.6,646.5 L447.2,647.9 L448.1,649.7 L448.3,651.8 L448.2,654.2 L448.1,656.5 L448.5,658.6 L449.6,660.3 L451.3,661.6 L453.4,662.7 L455.4,663.9 L456.9,665.4 L457.8,667.2M463.3,664.4 L463.5,666.6 L464.1,668.6 L465.3,670.2 L467.0,671.5 L468.9,672.8 L470.5,674.2 L471.5,675.9 L472.0,677.9 L472.1,680.1 L472.3,682.3 L473.0,684.2 L474.2,685.8 L475.9,687.2 L477.8,688.4 L479.4,689.8 L480.4,691.5M430.0,658.6 L431.8,659.8 L433.8,661.0 L435.5,662.3 L436.5,664.0 L436.9,666.1 L436.9,668.4 L437.2,670.6 L438.0,672.5 L439.4,673.9 L441.4,675.1 L443.3,676.3 L444.8,677.7 L445.5,679.6 L445.7,681.8 L445.8,684.1 L446.2,686.2 L447.2,687.9 L448.9,689.2 L450.9,690.4 L452.7,691.6M411.8,657.1 L412.8,658.8 L413.3,660.8 L413.4,663.1 L413.4,665.4 L413.7,667.5 L414.6,669.3 L416.1,670.7 L418.0,671.9 L420.0,673.1 L421.7,674.5 L422.8,676.1 L423.3,678.1 L423.4,680.3 L423.5,682.6 L423.7,684.8 L424.5,686.6 L426.0,688.1 L427.8,689.4 L429.8,690.5 L431.5,691.8M506.8,672.8 L507.8,674.6 L508.4,676.6 L508.9,678.7 L509.4,680.8 L510.3,682.6 L511.7,684.1 L513.4,685.3 L515.3,686.4 L517.1,687.6 L518.5,689.1 L519.4,690.8 L520.0,692.9 L520.5,695.0 L521.0,697.1 L522.0,698.9 L523.4,700.3 L525.2,701.5 L527.1,702.6 L528.8,703.8 L530.2,705.3 L531.1,707.1 L531.6,709.2 L532.1,711.3 L532.7,713.4 L533.7,715.1 L535.1,716.5 L536.9,717.7 L538.8,718.8M411.0,647.8 L412.5,649.1 L414.5,650.2 L416.3,651.3 L417.6,652.9 L418.4,654.8 L418.7,657.0 L419.2,659.1 L420.2,660.8 L421.9,662.1 L423.8,663.2 L425.6,664.4 L426.9,665.9 L427.5,667.9 L427.9,670.1 L428.4,672.2 L429.5,673.9 L431.2,675.1 L433.2,676.2 L434.9,677.4 L436.1,679.0 L436.7,681.1 L437.0,683.3 L437.6,685.3 L438.8,686.9 L440.5,688.1" fill="none" stroke="#fad8f2" stroke-width="0.8" opacity="0.85"/>
<path d="M448.0,648.0l4.0,8.0M456.0,674.0l4.0,8.0M467.0,686.0l4.0,6.0M468.0,634.0l4.0,8.0M492.0,657.0l4.0,7.0M504.0,655.0l4.0,7.0M495.0,683.0l2.0,4.0M518.0,678.0l2.0,4.0" stroke="#6a4cb8" stroke-width="1.0" stroke-linecap="round" fill="none"/>
<path d="M439.0,653.0 L448.5,664.3 L455.5,674.2 L464.0,693.0 L439.0,693.0 Z" fill="#f1eff1" />
<path d="M439.0,677.0 C442.0,681.0 444.0,687.0 445.0,693.0 L439.0,693.0 Z" fill="#f2c2ea" />
<rect x="500.50" y="690.80" width="26.50" height="1.30" fill="#000" />
<text x="515.00" y="688.60" font-size="3.3" text-anchor="middle" fill="#333" >100μm</text>
</g>
<clipPath id="c16"><rect x="171.20" y="702.00" width="61.60" height="61.60"/></clipPath><g clip-path="url(#c16)">
<rect x="171.20" y="702.00" width="61.60" height="61.60" fill="#120c70" />
<path d="M220.4,741.5a0.68,0.68 0 1,0 1.36,0a0.68,0.68 0 1,0 -1.36,0M215.9,713.4a0.98,0.98 0 1,0 1.96,0a0.98,0.98 0 1,0 -1.96,0M207.6,749.2a0.87,0.87 0 1,0 1.74,0a0.87,0.87 0 1,0 -1.74,0M231.1,744.8a0.78,0.78 0 1,0 1.56,0a0.78,0.78 0 1,0 -1.56,0M206.9,736.9a0.67,0.67 0 1,0 1.34,0a0.67,0.67 0 1,0 -1.34,0M189.1,751.2a0.99,0.99 0 1,0 1.98,0a0.99,0.99 0 1,0 -1.98,0M229.9,744.3a0.80,0.80 0 1,0 1.61,0a0.80,0.80 0 1,0 -1.61,0M194.6,745.4a0.89,0.89 0 1,0 1.78,0a0.89,0.89 0 1,0 -1.78,0M228.6,748.1a0.73,0.73 0 1,0 1.46,0a0.73,0.73 0 1,0 -1.46,0M187.4,704.8a0.97,0.97 0 1,0 1.94,0a0.97,0.97 0 1,0 -1.94,0M197.0,726.3a0.53,0.53 0 1,0 1.06,0a0.53,0.53 0 1,0 -1.06,0M201.0,757.3a0.67,0.67 0 1,0 1.33,0a0.67,0.67 0 1,0 -1.33,0M216.1,748.8a0.90,0.90 0 1,0 1.79,0a0.90,0.90 0 1,0 -1.79,0M207.0,717.4a0.90,0.90 0 1,0 1.81,0a0.90,0.90 0 1,0 -1.81,0M206.4,761.6a0.81,0.81 0 1,0 1.62,0a0.81,0.81 0 1,0 -1.62,0M192.2,757.8a0.87,0.87 0 1,0 1.75,0a0.87,0.87 0 1,0 -1.75,0M191.6,742.0a0.59,0.59 0 1,0 1.18,0a0.59,0.59 0 1,0 -1.18,0M182.0,756.5a0.78,0.78 0 1,0 1.56,0a0.78,0.78 0 1,0 -1.56,0M219.8,715.2a0.78,0.78 0 1,0 1.56,0a0.78,0.78 0 1,0 -1.56,0M185.0,751.4a0.86,0.86 0 1,0 1.72,0a0.86,0.86 0 1,0 -1.72,0M194.8,725.7a0.63,0.63 0 1,0 1.25,0a0.63,0.63 0 1,0 -1.25,0M183.5,744.5a0.69,0.69 0 1,0 1.37,0a0.69,0.69 0 1,0 -1.37,0M176.9,725.8a0.77,0.77 0 1,0 1.54,0a0.77,0.77 0 1,0 -1.54,0M231.3,725.7a0.74,0.74 0 1,0 1.48,0a0.74,0.74 0 1,0 -1.48,0M230.3,746.4a0.78,0.78 0 1,0 1.55,0a0.78,0.78 0 1,0 -1.55,0M195.1,715.9a0.59,0.59 0 1,0 1.18,0a0.59,0.59 0 1,0 -1.18,0M199.7,741.4a0.56,0.56 0 1,0 1.13,0a0.56,0.56 0 1,0 -1.13,0M199.7,712.7a0.86,0.86 0 1,0 1.72,0a0.86,0.86 0 1,0 -1.72,0M191.5,743.0a0.97,0.97 0 1,0 1.94,0a0.97,0.97 0 1,0 -1.94,0M195.6,725.6a0.55,0.55 0 1,0 1.09,0a0.55,0.55 0 1,0 -1.09,0M183.3,740.3a0.98,0.98 0 1,0 1.97,0a0.98,0.98 0 1,0 -1.97,0M178.7,762.1a1.05,1.05 0 1,0 2.10,0a1.05,1.05 0 1,0 -2.10,0M192.8,735.2a0.90,0.90 0 1,0 1.81,0a0.90,0.90 0 1,0 -1.81,0M190.5,724.6a0.93,0.93 0 1,0 1.87,0a0.93,0.93 0 1,0 -1.87,0M200.2,728.9a0.84,0.84 0 1,0 1.68,0a0.84,0.84 0 1,0 -1.68,0M177.7,731.0a0.68,0.68 0 1,0 1.35,0a0.68,0.68 0 1,0 -1.35,0M180.6,734.3a0.92,0.92 0 1,0 1.84,0a0.92,0.92 0 1,0 -1.84,0M202.7,732.7a0.90,0.90 0 1,0 1.80,0a0.90,0.90 0 1,0 -1.80,0M196.5,762.5a0.63,0.63 0 1,0 1.26,0a0.63,0.63 0 1,0 -1.26,0M170.8,737.0a0.92,0.92 0 1,0 1.83,0a0.92,0.92 0 1,0 -1.83,0M194.1,726.6a0.71,0.71 0 1,0 1.41,0a0.71,0.71 0 1,0 -1.41,0M185.2,750.8a1.02,1.02 0 1,0 2.04,0a1.02,1.02 0 1,0 -2.04,0M187.6,736.8a0.78,0.78 0 1,0 1.55,0a0.78,0.78 0 1,0 -1.55,0M178.5,747.2a0.82,0.82 0 1,0 1.64,0a0.82,0.82 0 1,0 -1.64,0M231.2,758.0a1.04,1.04 0 1,0 2.08,0a1.04,1.04 0 1,0 -2.08,0M186.3,708.8a0.99,0.99 0 1,0 1.97,0a0.99,0.99 0 1,0 -1.97,0M177.3,744.3a0.61,0.61 0 1,0 1.21,0a0.61,0.61 0 1,0 -1.21,0M214.1,705.3a0.55,0.55 0 1,0 1.11,0a0.55,0.55 0 1,0 -1.11,0M223.9,733.8a0.77,0.77 0 1,0 1.54,0a0.77,0.77 0 1,0 -1.54,0M230.4,750.3a0.64,0.64 0 1,0 1.27,0a0.64,0.64 0 1,0 -1.27,0M213.9,725.7a0.78,0.78 0 1,0 1.56,0a0.78,0.78 0 1,0 -1.56,0M189.8,716.0a0.68,0.68 0 1,0 1.36,0a0.68,0.68 0 1,0 -1.36,0M187.0,713.6a1.02,1.02 0 1,0 2.05,0a1.02,1.02 0 1,0 -2.05,0M193.6,736.5a0.99,0.99 0 1,0 1.97,0a0.99,0.99 0 1,0 -1.97,0M211.9,711.6a1.07,1.07 0 1,0 2.14,0a1.07,1.07 0 1,0 -2.14,0M227.9,753.7a0.70,0.70 0 1,0 1.40,0a0.70,0.70 0 1,0 -1.40,0M221.8,741.5a0.52,0.52 0 1,0 1.04,0a0.52,0.52 0 1,0 -1.04,0M193.6,745.0a0.83,0.83 0 1,0 1.65,0a0.83,0.83 0 1,0 -1.65,0M228.6,750.7a1.00,1.00 0 1,0 2.00,0a1.00,1.00 0 1,0 -2.00,0M230.5,723.1a1.04,1.04 0 1,0 2.09,0a1.04,1.04 0 1,0 -2.09,0M170.8,751.2a0.55,0.55 0 1,0 1.11,0a0.55,0.55 0 1,0 -1.11,0M201.4,729.2a0.54,0.54 0 1,0 1.09,0a0.54,0.54 0 1,0 -1.09,0M209.8,750.5a0.63,0.63 0 1,0 1.27,0a0.63,0.63 0 1,0 -1.27,0M185.5,749.5a0.82,0.82 0 1,0 1.63,0a0.82,0.82 0 1,0 -1.63,0M171.3,720.9a1.07,1.07 0 1,0 2.13,0a1.07,1.07 0 1,0 -2.13,0M187.4,719.8a0.77,0.77 0 1,0 1.54,0a0.77,0.77 0 1,0 -1.54,0M225.1,751.9a0.73,0.73 0 1,0 1.46,0a0.73,0.73 0 1,0 -1.46,0M211.7,703.7a0.54,0.54 0 1,0 1.08,0a0.54,0.54 0 1,0 -1.08,0M193.5,741.1a0.58,0.58 0 1,0 1.17,0a0.58,0.58 0 1,0 -1.17,0M173.2,754.6a0.61,0.61 0 1,0 1.22,0a0.61,0.61 0 1,0 -1.22,0M174.0,707.3a0.55,0.55 0 1,0 1.09,0a0.55,0.55 0 1,0 -1.09,0M187.9,737.7a0.89,0.89 0 1,0 1.79,0a0.89,0.89 0 1,0 -1.79,0M188.1,733.7a0.70,0.70 0 1,0 1.40,0a0.70,0.70 0 1,0 -1.40,0M206.0,708.7a0.87,0.87 0 1,0 1.75,0a0.87,0.87 0 1,0 -1.75,0M170.6,758.8a0.63,0.63 0 1,0 1.25,0a0.63,0.63 0 1,0 -1.25,0M204.6,713.6a0.77,0.77 0 1,0 1.53,0a0.77,0.77 0 1,0 -1.53,0M186.5,741.5a0.97,0.97 0 1,0 1.94,0a0.97,0.97 0 1,0 -1.94,0M222.4,762.0a0.77,0.77 0 1,0 1.55,0a0.77,0.77 0 1,0 -1.55,0M204.4,723.6a0.67,0.67 0 1,0 1.35,0a0.67,0.67 0 1,0 -1.35,0M202.0,761.9a0.53,0.53 0 1,0 1.07,0a0.53,0.53 0 1,0 -1.07,0M216.4,721.9a0.86,0.86 0 1,0 1.72,0a0.86,0.86 0 1,0 -1.72,0M186.8,746.3a0.80,0.80 0 1,0 1.60,0a0.80,0.80 0 1,0 -1.60,0M189.8,729.6a0.50,0.50 0 1,0 1.01,0a0.50,0.50 0 1,0 -1.01,0M176.7,757.9a0.55,0.55 0 1,0 1.10,0a0.55,0.55 0 1,0 -1.10,0M195.2,743.2a0.52,0.52 0 1,0 1.04,0a0.52,0.52 0 1,0 -1.04,0M227.5,714.7a1.08,1.08 0 1,0 2.15,0a1.08,1.08 0 1,0 -2.15,0M197.1,738.1a0.86,0.86 0 1,0 1.72,0a0.86,0.86 0 1,0 -1.72,0M175.7,733.2a0.95,0.95 0 1,0 1.90,0a0.95,0.95 0 1,0 -1.90,0M218.9,747.2a0.91,0.91 0 1,0 1.82,0a0.91,0.91 0 1,0 -1.82,0M178.3,727.2a0.81,0.81 0 1,0 1.61,0a0.81,0.81 0 1,0 -1.61,0M173.1,749.2a0.56,0.56 0 1,0 1.12,0a0.56,0.56 0 1,0 -1.12,0M205.4,718.4a0.60,0.60 0 1,0 1.20,0a0.60,0.60 0 1,0 -1.20,0M228.9,740.2a0.94,0.94 0 1,0 1.88,0a0.94,0.94 0 1,0 -1.88,0M207.5,736.8a1.02,1.02 0 1,0 2.05,0a1.02,1.02 0 1,0 -2.05,0M174.5,725.3a0.63,0.63 0 1,0 1.26,0a0.63,0.63 0 1,0 -1.26,0M206.9,726.3a1.05,1.05 0 1,0 2.10,0a1.05,1.05 0 1,0 -2.10,0M184.5,718.6a1.05,1.05 0 1,0 2.10,0a1.05,1.05 0 1,0 -2.10,0M214.9,728.4a0.72,0.72 0 1,0 1.45,0a0.72,0.72 0 1,0 -1.45,0M215.5,711.2a0.93,0.93 0 1,0 1.87,0a0.93,0.93 0 1,0 -1.87,0M184.6,751.7a0.54,0.54 0 1,0 1.09,0a0.54,0.54 0 1,0 -1.09,0M227.0,755.1a0.51,0.51 0 1,0 1.03,0a0.51,0.51 0 1,0 -1.03,0M180.1,758.3a0.99,0.99 0 1,0 1.98,0a0.99,0.99 0 1,0 -1.98,0M188.3,751.3a0.85,0.85 0 1,0 1.70,0a0.85,0.85 0 1,0 -1.70,0M185.7,744.4a0.75,0.75 0 1,0 1.50,0a0.75,0.75 0 1,0 -1.50,0M179.0,754.4a0.93,0.93 0 1,0 1.86,0a0.93,0.93 0 1,0 -1.86,0M185.3,728.3a0.91,0.91 0 1,0 1.82,0a0.91,0.91 0 1,0 -1.82,0M193.3,717.9a0.82,0.82 0 1,0 1.63,0a0.82,0.82 0 1,0 -1.63,0M229.1,707.9a0.65,0.65 0 1,0 1.30,0a0.65,0.65 0 1,0 -1.30,0M199.9,762.7a1.10,1.10 0 1,0 2.19,0a1.10,1.10 0 1,0 -2.19,0M171.1,741.5a0.58,0.58 0 1,0 1.17,0a0.58,0.58 0 1,0 -1.17,0M183.2,710.4a0.80,0.80 0 1,0 1.60,0a0.80,0.80 0 1,0 -1.60,0M231.7,761.5a0.72,0.72 0 1,0 1.44,0a0.72,0.72 0 1,0 -1.44,0M226.0,744.4a0.54,0.54 0 1,0 1.09,0a0.54,0.54 0 1,0 -1.09,0M225.6,718.8a1.09,1.09 0 1,0 2.17,0a1.09,1.09 0 1,0 -2.17,0M178.5,757.4a0.81,0.81 0 1,0 1.62,0a0.81,0.81 0 1,0 -1.62,0M202.1,713.3a0.79,0.79 0 1,0 1.59,0a0.79,0.79 0 1,0 -1.59,0M216.9,736.3a1.09,1.09 0 1,0 2.18,0a1.09,1.09 0 1,0 -2.18,0M203.5,757.7a0.58,0.58 0 1,0 1.16,0a0.58,0.58 0 1,0 -1.16,0M215.6,738.9a1.03,1.03 0 1,0 2.06,0a1.03,1.03 0 1,0 -2.06,0M190.9,730.5a0.99,0.99 0 1,0 1.98,0a0.99,0.99 0 1,0 -1.98,0M185.9,724.9a1.01,1.01 0 1,0 2.02,0a1.01,1.01 0 1,0 -2.02,0M210.6,732.2a0.51,0.51 0 1,0 1.02,0a0.51,0.51 0 1,0 -1.02,0M217.6,727.6a0.64,0.64 0 1,0 1.29,0a0.64,0.64 0 1,0 -1.29,0M194.0,710.5a1.00,1.00 0 1,0 2.01,0a1.00,1.00 0 1,0 -2.01,0M219.4,761.5a0.90,0.90 0 1,0 1.81,0a0.90,0.90 0 1,0 -1.81,0M180.0,728.0a1.10,1.10 0 1,0 2.19,0a1.10,1.10 0 1,0 -2.19,0M170.7,723.1a0.59,0.59 0 1,0 1.18,0a0.59,0.59 0 1,0 -1.18,0M180.8,718.9a0.87,0.87 0 1,0 1.74,0a0.87,0.87 0 1,0 -1.74,0M174.6,755.4a0.76,0.76 0 1,0 1.52,0a0.76,0.76 0 1,0 -1.52,0M181.0,708.2a0.81,0.81 0 1,0 1.63,0a0.81,0.81 0 1,0 -1.63,0M192.1,732.9a0.56,0.56 0 1,0 1.13,0a0.56,0.56 0 1,0 -1.13,0M192.5,733.1a0.55,0.55 0 1,0 1.10,0a0.55,0.55 0 1,0 -1.10,0M201.2,753.8a0.85,0.85 0 1,0 1.71,0a0.85,0.85 0 1,0 -1.71,0M178.6,740.9a0.55,0.55 0 1,0 1.10,0a0.55,0.55 0 1,0 -1.10,0M179.1,702.6a0.82,0.82 0 1,0 1.64,0a0.82,0.82 0 1,0 -1.64,0M181.6,719.2a0.57,0.57 0 1,0 1.14,0a0.57,0.57 0 1,0 -1.14,0M225.4,710.9a0.90,0.90 0 1,0 1.81,0a0.90,0.90 0 1,0 -1.81,0M220.0,729.7a0.85,0.85 0 1,0 1.70,0a0.85,0.85 0 1,0 -1.70,0M190.8,752.4a0.91,0.91 0 1,0 1.82,0a0.91,0.91 0 1,0 -1.82,0M175.4,745.4a0.58,0.58 0 1,0 1.17,0a0.58,0.58 0 1,0 -1.17,0M200.0,713.3a0.79,0.79 0 1,0 1.58,0a0.79,0.79 0 1,0 -1.58,0M210.9,747.2a0.70,0.70 0 1,0 1.39,0a0.70,0.70 0 1,0 -1.39,0M173.5,729.7a1.05,1.05 0 1,0 2.10,0a1.05,1.05 0 1,0 -2.10,0M204.2,740.2a0.96,0.96 0 1,0 1.92,0a0.96,0.96 0 1,0 -1.92,0M209.4,760.4a1.07,1.07 0 1,0 2.15,0a1.07,1.07 0 1,0 -2.15,0M216.1,751.7a0.59,0.59 0 1,0 1.17,0a0.59,0.59 0 1,0 -1.17,0M186.7,745.8a0.85,0.85 0 1,0 1.70,0a0.85,0.85 0 1,0 -1.70,0M223.6,749.7a0.70,0.70 0 1,0 1.40,0a0.70,0.70 0 1,0 -1.40,0M181.2,742.5a0.57,0.57 0 1,0 1.13,0a0.57,0.57 0 1,0 -1.13,0M200.9,719.0a0.74,0.74 0 1,0 1.48,0a0.74,0.74 0 1,0 -1.48,0M210.6,741.0a0.87,0.87 0 1,0 1.74,0a0.87,0.87 0 1,0 -1.74,0M174.0,757.1a0.92,0.92 0 1,0 1.85,0a0.92,0.92 0 1,0 -1.85,0M226.2,739.7a0.89,0.89 0 1,0 1.78,0a0.89,0.89 0 1,0 -1.78,0M225.0,748.0a0.88,0.88 0 1,0 1.76,0a0.88,0.88 0 1,0 -1.76,0M172.7,703.5a0.93,0.93 0 1,0 1.86,0a0.93,0.93 0 1,0 -1.86,0M222.7,725.8a0.63,0.63 0 1,0 1.25,0a0.63,0.63 0 1,0 -1.25,0M197.4,753.8a0.95,0.95 0 1,0 1.91,0a0.95,0.95 0 1,0 -1.91,0M178.6,714.4a0.62,0.62 0 1,0 1.25,0a0.62,0.62 0 1,0 -1.25,0M216.1,717.5a1.03,1.03 0 1,0 2.07,0a1.03,1.03 0 1,0 -2.07,0M195.8,713.9a0.75,0.75 0 1,0 1.50,0a0.75,0.75 0 1,0 -1.50,0M179.3,756.2a0.51,0.51 0 1,0 1.03,0a0.51,0.51 0 1,0 -1.03,0M196.3,725.3a0.52,0.52 0 1,0 1.05,0a0.52,0.52 0 1,0 -1.05,0M183.9,762.9a1.02,1.02 0 1,0 2.03,0a1.02,1.02 0 1,0 -2.03,0M196.1,755.8a1.04,1.04 0 1,0 2.09,0a1.04,1.04 0 1,0 -2.09,0M223.2,746.7a0.84,0.84 0 1,0 1.68,0a0.84,0.84 0 1,0 -1.68,0M201.8,746.1a0.86,0.86 0 1,0 1.72,0a0.86,0.86 0 1,0 -1.72,0M230.1,713.1a1.04,1.04 0 1,0 2.08,0a1.04,1.04 0 1,0 -2.08,0M216.7,729.3a1.01,1.01 0 1,0 2.02,0a1.01,1.01 0 1,0 -2.02,0M188.0,726.1a0.85,0.85 0 1,0 1.69,0a0.85,0.85 0 1,0 -1.69,0M229.9,716.9a1.01,1.01 0 1,0 2.02,0a1.01,1.01 0 1,0 -2.02,0M211.0,758.7a0.68,0.68 0 1,0 1.36,0a0.68,0.68 0 1,0 -1.36,0M211.0,756.7a1.03,1.03 0 1,0 2.06,0a1.03,1.03 0 1,0 -2.06,0M213.3,753.7a0.88,0.88 0 1,0 1.76,0a0.88,0.88 0 1,0 -1.76,0M204.4,713.8a0.81,0.81 0 1,0 1.62,0a0.81,0.81 0 1,0 -1.62,0M230.9,760.3a0.53,0.53 0 1,0 1.05,0a0.53,0.53 0 1,0 -1.05,0M188.9,716.8a1.01,1.01 0 1,0 2.01,0a1.01,1.01 0 1,0 -2.01,0M181.8,749.2a0.62,0.62 0 1,0 1.24,0a0.62,0.62 0 1,0 -1.24,0M191.6,761.9a0.58,0.58 0 1,0 1.15,0a0.58,0.58 0 1,0 -1.15,0M206.1,718.9a0.95,0.95 0 1,0 1.91,0a0.95,0.95 0 1,0 -1.91,0M174.7,743.7a0.65,0.65 0 1,0 1.31,0a0.65,0.65 0 1,0 -1.31,0M229.3,722.3a0.90,0.90 0 1,0 1.80,0a0.90,0.90 0 1,0 -1.80,0M172.1,759.9a0.88,0.88 0 1,0 1.76,0a0.88,0.88 0 1,0 -1.76,0M227.0,747.8a0.54,0.54 0 1,0 1.07,0a0.54,0.54 0 1,0 -1.07,0M216.4,725.5a0.62,0.62 0 1,0 1.24,0a0.62,0.62 0 1,0 -1.24,0M225.3,742.9a0.71,0.71 0 1,0 1.42,0a0.71,0.71 0 1,0 -1.42,0M175.1,742.0a0.54,0.54 0 1,0 1.07,0a0.54,0.54 0 1,0 -1.07,0M185.3,705.0a0.60,0.60 0 1,0 1.21,0a0.60,0.60 0 1,0 -1.21,0M216.2,718.5a1.09,1.09 0 1,0 2.18,0a1.09,1.09 0 1,0 -2.18,0M187.5,751.2a0.94,0.94 0 1,0 1.88,0a0.94,0.94 0 1,0 -1.88,0M210.3,739.3a0.58,0.58 0 1,0 1.17,0a0.58,0.58 0 1,0 -1.17,0M221.4,758.8a0.82,0.82 0 1,0 1.64,0a0.82,0.82 0 1,0 -1.64,0M182.1,707.3a0.65,0.65 0 1,0 1.31,0a0.65,0.65 0 1,0 -1.31,0M230.4,721.5a0.67,0.67 0 1,0 1.34,0a0.67,0.67 0 1,0 -1.34,0M202.6,704.1a0.97,0.97 0 1,0 1.95,0a0.97,0.97 0 1,0 -1.95,0M218.7,720.9a0.52,0.52 0 1,0 1.04,0a0.52,0.52 0 1,0 -1.04,0M225.7,751.9a0.96,0.96 0 1,0 1.92,0a0.96,0.96 0 1,0 -1.92,0M183.3,760.8a0.88,0.88 0 1,0 1.77,0a0.88,0.88 0 1,0 -1.77,0M172.2,762.5a0.92,0.92 0 1,0 1.84,0a0.92,0.92 0 1,0 -1.84,0M181.7,756.9a0.86,0.86 0 1,0 1.72,0a0.86,0.86 0 1,0 -1.72,0M209.8,703.7a0.63,0.63 0 1,0 1.26,0a0.63,0.63 0 1,0 -1.26,0M219.4,702.8a0.62,0.62 0 1,0 1.23,0a0.62,0.62 0 1,0 -1.23,0M174.9,737.9a0.58,0.58 0 1,0 1.17,0a0.58,0.58 0 1,0 -1.17,0M218.5,729.8a0.97,0.97 0 1,0 1.94,0a0.97,0.97 0 1,0 -1.94,0M226.8,761.9a0.62,0.62 0 1,0 1.23,0a0.62,0.62 0 1,0 -1.23,0M192.9,750.9a0.70,0.70 0 1,0 1.40,0a0.70,0.70 0 1,0 -1.40,0M228.1,722.7a0.88,0.88 0 1,0 1.75,0a0.88,0.88 0 1,0 -1.75,0M186.3,746.5a0.67,0.67 0 1,0 1.34,0a0.67,0.67 0 1,0 -1.34,0M196.2,746.5a1.00,1.00 0 1,0 1.99,0a1.00,1.00 0 1,0 -1.99,0M179.2,712.7a0.63,0.63 0 1,0 1.25,0a0.63,0.63 0 1,0 -1.25,0M217.5,743.5a0.93,0.93 0 1,0 1.86,0a0.93,0.93 0 1,0 -1.86,0M220.2,716.4a0.80,0.80 0 1,0 1.60,0a0.80,0.80 0 1,0 -1.60,0M170.6,723.7a0.86,0.86 0 1,0 1.72,0a0.86,0.86 0 1,0 -1.72,0M186.6,751.0a0.63,0.63 0 1,0 1.25,0a0.63,0.63 0 1,0 -1.25,0M197.8,744.1a0.63,0.63 0 1,0 1.27,0a0.63,0.63 0 1,0 -1.27,0M211.6,726.7a0.53,0.53 0 1,0 1.06,0a0.53,0.53 0 1,0 -1.06,0M176.7,742.2a0.99,0.99 0 1,0 1.99,0a0.99,0.99 0 1,0 -1.99,0M212.2,755.2a0.90,0.90 0 1,0 1.80,0a0.90,0.90 0 1,0 -1.80,0M218.3,753.6a0.86,0.86 0 1,0 1.71,0a0.86,0.86 0 1,0 -1.71,0M203.3,711.9a0.64,0.64 0 1,0 1.28,0a0.64,0.64 0 1,0 -1.28,0M175.8,708.8a0.74,0.74 0 1,0 1.47,0a0.74,0.74 0 1,0 -1.47,0M188.2,736.7a1.00,1.00 0 1,0 1.99,0a1.00,1.00 0 1,0 -1.99,0M186.8,757.1a1.00,1.00 0 1,0 2.00,0a1.00,1.00 0 1,0 -2.00,0M182.4,738.3a0.62,0.62 0 1,0 1.24,0a0.62,0.62 0 1,0 -1.24,0M174.6,715.6a0.62,0.62 0 1,0 1.25,0a0.62,0.62 0 1,0 -1.25,0M170.7,703.6a0.98,0.98 0 1,0 1.97,0a0.98,0.98 0 1,0 -1.97,0M224.0,755.2a0.54,0.54 0 1,0 1.09,0a0.54,0.54 0 1,0 -1.09,0M171.9,754.8a0.72,0.72 0 1,0 1.45,0a0.72,0.72 0 1,0 -1.45,0M191.6,745.2a0.82,0.82 0 1,0 1.64,0a0.82,0.82 0 1,0 -1.64,0M190.9,711.2a0.57,0.57 0 1,0 1.14,0a0.57,0.57 0 1,0 -1.14,0M214.5,757.8a0.52,0.52 0 1,0 1.05,0a0.52,0.52 0 1,0 -1.05,0M184.3,734.3a0.66,0.66 0 1,0 1.32,0a0.66,0.66 0 1,0 -1.32,0M200.7,732.9a0.66,0.66 0 1,0 1.32,0a0.66,0.66 0 1,0 -1.32,0M177.4,727.8a0.99,0.99 0 1,0 1.97,0a0.99,0.99 0 1,0 -1.97,0M178.7,735.1a0.99,0.99 0 1,0 1.97,0a0.99,0.99 0 1,0 -1.97,0M205.3,723.4a1.06,1.06 0 1,0 2.11,0a1.06,1.06 0 1,0 -2.11,0M218.7,763.4a0.68,0.68 0 1,0 1.36,0a0.68,0.68 0 1,0 -1.36,0M200.0,729.7a1.00,1.00 0 1,0 2.01,0a1.00,1.00 0 1,0 -2.01,0M208.6,735.9a0.81,0.81 0 1,0 1.62,0a0.81,0.81 0 1,0 -1.62,0M225.5,723.8a0.58,0.58 0 1,0 1.16,0a0.58,0.58 0 1,0 -1.16,0M181.5,717.0a0.56,0.56 0 1,0 1.11,0a0.56,0.56 0 1,0 -1.11,0M230.4,736.2a0.98,0.98 0 1,0 1.96,0a0.98,0.98 0 1,0 -1.96,0M198.5,734.1a0.64,0.64 0 1,0 1.27,0a0.64,0.64 0 1,0 -1.27,0M225.3,727.9a0.74,0.74 0 1,0 1.49,0a0.74,0.74 0 1,0 -1.49,0M215.8,755.5a1.10,1.10 0 1,0 2.20,0a1.10,1.10 0 1,0 -2.20,0M199.8,728.1a1.00,1.00 0 1,0 1.99,0a1.00,1.00 0 1,0 -1.99,0M196.6,714.5a0.79,0.79 0 1,0 1.57,0a0.79,0.79 0 1,0 -1.57,0M189.1,717.9a0.96,0.96 0 1,0 1.93,0a0.96,0.96 0 1,0 -1.93,0M192.0,740.5a0.68,0.68 0 1,0 1.36,0a0.68,0.68 0 1,0 -1.36,0M177.3,750.1a0.96,0.96 0 1,0 1.93,0a0.96,0.96 0 1,0 -1.93,0M214.0,739.6a0.60,0.60 0 1,0 1.21,0a0.60,0.60 0 1,0 -1.21,0M201.1,753.3a0.97,0.97 0 1,0 1.94,0a0.97,0.97 0 1,0 -1.94,0M207.0,740.9a0.60,0.60 0 1,0 1.20,0a0.60,0.60 0 1,0 -1.20,0M174.1,754.1a0.51,0.51 0 1,0 1.02,0a0.51,0.51 0 1,0 -1.02,0M185.9,726.6a0.92,0.92 0 1,0 1.84,0a0.92,0.92 0 1,0 -1.84,0M213.1,755.4a1.06,1.06 0 1,0 2.12,0a1.06,1.06 0 1,0 -2.12,0M187.4,717.3a0.57,0.57 0 1,0 1.15,0a0.57,0.57 0 1,0 -1.15,0M190.4,708.3a1.08,1.08 0 1,0 2.15,0a1.08,1.08 0 1,0 -2.15,0M206.1,732.2a0.53,0.53 0 1,0 1.07,0a0.53,0.53 0 1,0 -1.07,0M226.4,717.1a0.96,0.96 0 1,0 1.92,0a0.96,0.96 0 1,0 -1.92,0M183.2,718.7a0.58,0.58 0 1,0 1.16,0a0.58,0.58 0 1,0 -1.16,0" fill="#2a22d8"/>
<path d="M203.5,719.5a0.69,0.69 0 1,0 1.37,0a0.69,0.69 0 1,0 -1.37,0M214.8,715.9a0.47,0.47 0 1,0 0.93,0a0.47,0.47 0 1,0 -0.93,0M202.3,726.6a0.62,0.62 0 1,0 1.25,0a0.62,0.62 0 1,0 -1.25,0M193.4,712.2a0.46,0.46 0 1,0 0.92,0a0.46,0.46 0 1,0 -0.92,0M215.3,741.1a0.74,0.74 0 1,0 1.49,0a0.74,0.74 0 1,0 -1.49,0M210.0,733.6a0.50,0.50 0 1,0 1.00,0a0.50,0.50 0 1,0 -1.00,0M226.9,734.8a0.63,0.63 0 1,0 1.26,0a0.63,0.63 0 1,0 -1.26,0M186.4,725.2a0.89,0.89 0 1,0 1.78,0a0.89,0.89 0 1,0 -1.78,0M195.8,751.5a0.46,0.46 0 1,0 0.92,0a0.46,0.46 0 1,0 -0.92,0M207.6,718.7a0.52,0.52 0 1,0 1.03,0a0.52,0.52 0 1,0 -1.03,0M189.2,726.4a0.72,0.72 0 1,0 1.44,0a0.72,0.72 0 1,0 -1.44,0M195.8,755.0a0.48,0.48 0 1,0 0.96,0a0.48,0.48 0 1,0 -0.96,0M223.1,728.9a0.80,0.80 0 1,0 1.59,0a0.80,0.80 0 1,0 -1.59,0M194.7,717.8a0.85,0.85 0 1,0 1.69,0a0.85,0.85 0 1,0 -1.69,0M209.8,746.5a0.66,0.66 0 1,0 1.32,0a0.66,0.66 0 1,0 -1.32,0M214.2,760.9a0.77,0.77 0 1,0 1.54,0a0.77,0.77 0 1,0 -1.54,0M230.3,723.5a0.55,0.55 0 1,0 1.10,0a0.55,0.55 0 1,0 -1.10,0M224.8,753.4a0.84,0.84 0 1,0 1.69,0a0.84,0.84 0 1,0 -1.69,0M197.2,727.5a0.87,0.87 0 1,0 1.75,0a0.87,0.87 0 1,0 -1.75,0M183.2,712.2a0.49,0.49 0 1,0 0.97,0a0.49,0.49 0 1,0 -0.97,0M189.3,727.7a0.59,0.59 0 1,0 1.18,0a0.59,0.59 0 1,0 -1.18,0M199.0,704.2a0.57,0.57 0 1,0 1.14,0a0.57,0.57 0 1,0 -1.14,0M201.9,705.3a0.64,0.64 0 1,0 1.28,0a0.64,0.64 0 1,0 -1.28,0M226.1,742.2a0.87,0.87 0 1,0 1.75,0a0.87,0.87 0 1,0 -1.75,0M223.8,732.4a0.41,0.41 0 1,0 0.82,0a0.41,0.41 0 1,0 -0.82,0M174.0,737.5a0.82,0.82 0 1,0 1.64,0a0.82,0.82 0 1,0 -1.64,0M190.9,710.1a0.78,0.78 0 1,0 1.56,0a0.78,0.78 0 1,0 -1.56,0M203.9,730.8a0.46,0.46 0 1,0 0.93,0a0.46,0.46 0 1,0 -0.93,0M204.6,737.3a0.76,0.76 0 1,0 1.51,0a0.76,0.76 0 1,0 -1.51,0M226.0,706.7a0.82,0.82 0 1,0 1.63,0a0.82,0.82 0 1,0 -1.63,0M190.4,727.6a0.57,0.57 0 1,0 1.14,0a0.57,0.57 0 1,0 -1.14,0M220.5,729.2a0.44,0.44 0 1,0 0.87,0a0.44,0.44 0 1,0 -0.87,0M200.0,711.1a0.41,0.41 0 1,0 0.82,0a0.41,0.41 0 1,0 -0.82,0M173.7,725.4a0.63,0.63 0 1,0 1.25,0a0.63,0.63 0 1,0 -1.25,0M170.4,710.4a0.85,0.85 0 1,0 1.70,0a0.85,0.85 0 1,0 -1.70,0M204.0,762.4a0.67,0.67 0 1,0 1.34,0a0.67,0.67 0 1,0 -1.34,0M229.4,744.6a0.59,0.59 0 1,0 1.19,0a0.59,0.59 0 1,0 -1.19,0M173.5,711.1a0.80,0.80 0 1,0 1.59,0a0.80,0.80 0 1,0 -1.59,0M211.5,720.3a0.48,0.48 0 1,0 0.96,0a0.48,0.48 0 1,0 -0.96,0M210.1,759.3a0.52,0.52 0 1,0 1.05,0a0.52,0.52 0 1,0 -1.05,0M232.1,734.9a0.50,0.50 0 1,0 1.01,0a0.50,0.50 0 1,0 -1.01,0M181.6,745.8a0.86,0.86 0 1,0 1.73,0a0.86,0.86 0 1,0 -1.73,0M183.3,716.7a0.47,0.47 0 1,0 0.94,0a0.47,0.47 0 1,0 -0.94,0M183.4,715.9a0.61,0.61 0 1,0 1.22,0a0.61,0.61 0 1,0 -1.22,0M185.3,742.8a0.52,0.52 0 1,0 1.04,0a0.52,0.52 0 1,0 -1.04,0M187.1,727.8a0.48,0.48 0 1,0 0.97,0a0.48,0.48 0 1,0 -0.97,0M173.9,707.6a0.40,0.40 0 1,0 0.80,0a0.40,0.40 0 1,0 -0.80,0M212.1,705.0a0.64,0.64 0 1,0 1.28,0a0.64,0.64 0 1,0 -1.28,0M225.4,739.8a0.55,0.55 0 1,0 1.11,0a0.55,0.55 0 1,0 -1.11,0M195.4,728.3a0.56,0.56 0 1,0 1.12,0a0.56,0.56 0 1,0 -1.12,0M174.0,711.6a0.47,0.47 0 1,0 0.94,0a0.47,0.47 0 1,0 -0.94,0M183.6,722.4a0.45,0.45 0 1,0 0.90,0a0.45,0.45 0 1,0 -0.90,0M208.5,714.3a0.66,0.66 0 1,0 1.31,0a0.66,0.66 0 1,0 -1.31,0M213.1,732.6a0.77,0.77 0 1,0 1.54,0a0.77,0.77 0 1,0 -1.54,0M218.7,729.6a0.51,0.51 0 1,0 1.01,0a0.51,0.51 0 1,0 -1.01,0M173.2,744.7a0.58,0.58 0 1,0 1.17,0a0.58,0.58 0 1,0 -1.17,0M188.6,707.2a0.49,0.49 0 1,0 0.98,0a0.49,0.49 0 1,0 -0.98,0M225.3,731.1a0.82,0.82 0 1,0 1.65,0a0.82,0.82 0 1,0 -1.65,0M222.7,717.3a0.51,0.51 0 1,0 1.03,0a0.51,0.51 0 1,0 -1.03,0M225.1,716.6a0.70,0.70 0 1,0 1.40,0a0.70,0.70 0 1,0 -1.40,0M228.3,730.7a0.61,0.61 0 1,0 1.22,0a0.61,0.61 0 1,0 -1.22,0M229.3,755.2a0.86,0.86 0 1,0 1.73,0a0.86,0.86 0 1,0 -1.73,0M214.3,715.8a0.42,0.42 0 1,0 0.85,0a0.42,0.42 0 1,0 -0.85,0M171.9,758.9a0.67,0.67 0 1,0 1.34,0a0.67,0.67 0 1,0 -1.34,0M225.1,761.0a0.52,0.52 0 1,0 1.04,0a0.52,0.52 0 1,0 -1.04,0M230.5,718.9a0.49,0.49 0 1,0 0.98,0a0.49,0.49 0 1,0 -0.98,0M187.1,763.3a0.87,0.87 0 1,0 1.74,0a0.87,0.87 0 1,0 -1.74,0M192.1,731.7a0.81,0.81 0 1,0 1.62,0a0.81,0.81 0 1,0 -1.62,0M220.1,757.3a0.58,0.58 0 1,0 1.16,0a0.58,0.58 0 1,0 -1.16,0M184.6,733.6a0.87,0.87 0 1,0 1.73,0a0.87,0.87 0 1,0 -1.73,0M208.5,755.7a0.50,0.50 0 1,0 1.00,0a0.50,0.50 0 1,0 -1.00,0M201.8,758.5a0.69,0.69 0 1,0 1.37,0a0.69,0.69 0 1,0 -1.37,0M219.5,751.7a0.62,0.62 0 1,0 1.24,0a0.62,0.62 0 1,0 -1.24,0M213.0,744.6a0.62,0.62 0 1,0 1.24,0a0.62,0.62 0 1,0 -1.24,0M202.4,751.9a0.84,0.84 0 1,0 1.68,0a0.84,0.84 0 1,0 -1.68,0M231.2,724.6a0.74,0.74 0 1,0 1.48,0a0.74,0.74 0 1,0 -1.48,0M204.6,754.5a0.52,0.52 0 1,0 1.04,0a0.52,0.52 0 1,0 -1.04,0M199.2,717.8a0.80,0.80 0 1,0 1.60,0a0.80,0.80 0 1,0 -1.60,0M214.5,702.4a0.45,0.45 0 1,0 0.91,0a0.45,0.45 0 1,0 -0.91,0M179.1,738.4a0.79,0.79 0 1,0 1.58,0a0.79,0.79 0 1,0 -1.58,0M191.7,706.9a0.69,0.69 0 1,0 1.39,0a0.69,0.69 0 1,0 -1.39,0M208.5,728.5a0.54,0.54 0 1,0 1.07,0a0.54,0.54 0 1,0 -1.07,0M191.8,716.3a0.81,0.81 0 1,0 1.61,0a0.81,0.81 0 1,0 -1.61,0M194.0,746.0a0.67,0.67 0 1,0 1.35,0a0.67,0.67 0 1,0 -1.35,0M184.6,719.2a0.74,0.74 0 1,0 1.47,0a0.74,0.74 0 1,0 -1.47,0M223.9,758.5a0.48,0.48 0 1,0 0.95,0a0.48,0.48 0 1,0 -0.95,0M186.7,708.1a0.49,0.49 0 1,0 0.99,0a0.49,0.49 0 1,0 -0.99,0M194.2,746.2a0.86,0.86 0 1,0 1.72,0a0.86,0.86 0 1,0 -1.72,0M207.0,711.0a0.59,0.59 0 1,0 1.18,0a0.59,0.59 0 1,0 -1.18,0M179.4,719.2a0.69,0.69 0 1,0 1.37,0a0.69,0.69 0 1,0 -1.37,0M201.6,712.6a0.54,0.54 0 1,0 1.08,0a0.54,0.54 0 1,0 -1.08,0M225.7,740.8a0.70,0.70 0 1,0 1.40,0a0.70,0.70 0 1,0 -1.40,0M190.3,720.4a0.78,0.78 0 1,0 1.56,0a0.78,0.78 0 1,0 -1.56,0M171.2,742.3a0.88,0.88 0 1,0 1.76,0a0.88,0.88 0 1,0 -1.76,0M209.9,705.0a0.42,0.42 0 1,0 0.83,0a0.42,0.42 0 1,0 -0.83,0M218.9,713.4a0.61,0.61 0 1,0 1.22,0a0.61,0.61 0 1,0 -1.22,0M210.8,743.6a0.54,0.54 0 1,0 1.09,0a0.54,0.54 0 1,0 -1.09,0M212.6,758.3a0.63,0.63 0 1,0 1.27,0a0.63,0.63 0 1,0 -1.27,0M194.8,744.2a0.84,0.84 0 1,0 1.67,0a0.84,0.84 0 1,0 -1.67,0M212.7,759.1a0.79,0.79 0 1,0 1.58,0a0.79,0.79 0 1,0 -1.58,0M229.4,717.4a0.74,0.74 0 1,0 1.47,0a0.74,0.74 0 1,0 -1.47,0M183.5,709.2a0.57,0.57 0 1,0 1.14,0a0.57,0.57 0 1,0 -1.14,0M228.9,720.1a0.55,0.55 0 1,0 1.11,0a0.55,0.55 0 1,0 -1.11,0M227.5,762.5a0.78,0.78 0 1,0 1.56,0a0.78,0.78 0 1,0 -1.56,0M192.5,752.7a0.43,0.43 0 1,0 0.87,0a0.43,0.43 0 1,0 -0.87,0M171.3,705.9a0.57,0.57 0 1,0 1.13,0a0.57,0.57 0 1,0 -1.13,0M185.4,754.9a0.62,0.62 0 1,0 1.25,0a0.62,0.62 0 1,0 -1.25,0M223.0,732.1a0.59,0.59 0 1,0 1.17,0a0.59,0.59 0 1,0 -1.17,0M191.5,704.9a0.63,0.63 0 1,0 1.25,0a0.63,0.63 0 1,0 -1.25,0M228.9,761.9a0.87,0.87 0 1,0 1.73,0a0.87,0.87 0 1,0 -1.73,0M176.4,729.2a0.82,0.82 0 1,0 1.63,0a0.82,0.82 0 1,0 -1.63,0M180.2,706.0a0.50,0.50 0 1,0 1.01,0a0.50,0.50 0 1,0 -1.01,0M175.6,747.6a0.76,0.76 0 1,0 1.51,0a0.76,0.76 0 1,0 -1.51,0M231.3,705.1a0.75,0.75 0 1,0 1.50,0a0.75,0.75 0 1,0 -1.50,0M219.6,713.0a0.44,0.44 0 1,0 0.88,0a0.44,0.44 0 1,0 -0.88,0M231.1,750.7a0.43,0.43 0 1,0 0.87,0a0.43,0.43 0 1,0 -0.87,0M182.2,742.6a0.49,0.49 0 1,0 0.97,0a0.49,0.49 0 1,0 -0.97,0M197.6,711.2a0.45,0.45 0 1,0 0.89,0a0.45,0.45 0 1,0 -0.89,0M200.2,735.4a0.82,0.82 0 1,0 1.65,0a0.82,0.82 0 1,0 -1.65,0M171.0,723.9a0.44,0.44 0 1,0 0.87,0a0.44,0.44 0 1,0 -0.87,0M204.7,712.2a0.57,0.57 0 1,0 1.13,0a0.57,0.57 0 1,0 -1.13,0M230.2,742.0a0.73,0.73 0 1,0 1.47,0a0.73,0.73 0 1,0 -1.47,0M207.8,714.4a0.74,0.74 0 1,0 1.48,0a0.74,0.74 0 1,0 -1.48,0M230.1,707.5a0.82,0.82 0 1,0 1.64,0a0.82,0.82 0 1,0 -1.64,0M191.7,714.4a0.73,0.73 0 1,0 1.46,0a0.73,0.73 0 1,0 -1.46,0M223.1,712.3a0.50,0.50 0 1,0 1.00,0a0.50,0.50 0 1,0 -1.00,0M201.4,714.6a0.65,0.65 0 1,0 1.31,0a0.65,0.65 0 1,0 -1.31,0M231.6,703.6a0.61,0.61 0 1,0 1.23,0a0.61,0.61 0 1,0 -1.23,0M183.0,712.3a0.69,0.69 0 1,0 1.39,0a0.69,0.69 0 1,0 -1.39,0M228.9,730.9a0.68,0.68 0 1,0 1.36,0a0.68,0.68 0 1,0 -1.36,0M213.4,754.9a0.88,0.88 0 1,0 1.77,0a0.88,0.88 0 1,0 -1.77,0M190.9,712.9a0.86,0.86 0 1,0 1.72,0a0.86,0.86 0 1,0 -1.72,0M208.0,756.4a0.47,0.47 0 1,0 0.95,0a0.47,0.47 0 1,0 -0.95,0M219.3,709.3a0.47,0.47 0 1,0 0.93,0a0.47,0.47 0 1,0 -0.93,0M178.1,724.3a0.61,0.61 0 1,0 1.22,0a0.61,0.61 0 1,0 -1.22,0M211.1,759.8a0.61,0.61 0 1,0 1.23,0a0.61,0.61 0 1,0 -1.23,0M206.2,727.3a0.59,0.59 0 1,0 1.18,0a0.59,0.59 0 1,0 -1.18,0M187.0,702.3a0.53,0.53 0 1,0 1.06,0a0.53,0.53 0 1,0 -1.06,0M215.0,751.2a0.74,0.74 0 1,0 1.49,0a0.74,0.74 0 1,0 -1.49,0M197.9,727.3a0.49,0.49 0 1,0 0.99,0a0.49,0.49 0 1,0 -0.99,0M185.5,763.5a0.69,0.69 0 1,0 1.39,0a0.69,0.69 0 1,0 -1.39,0M195.4,735.0a0.65,0.65 0 1,0 1.29,0a0.65,0.65 0 1,0 -1.29,0M188.7,727.7a0.62,0.62 0 1,0 1.23,0a0.62,0.62 0 1,0 -1.23,0M226.0,756.9a0.54,0.54 0 1,0 1.09,0a0.54,0.54 0 1,0 -1.09,0M198.4,715.7a0.88,0.88 0 1,0 1.75,0a0.88,0.88 0 1,0 -1.75,0M179.2,731.7a0.41,0.41 0 1,0 0.81,0a0.41,0.41 0 1,0 -0.81,0M199.2,730.3a0.41,0.41 0 1,0 0.81,0a0.41,0.41 0 1,0 -0.81,0M179.9,732.8a0.64,0.64 0 1,0 1.27,0a0.64,0.64 0 1,0 -1.27,0M189.3,705.3a0.56,0.56 0 1,0 1.12,0a0.56,0.56 0 1,0 -1.12,0M191.9,708.4a0.70,0.70 0 1,0 1.40,0a0.70,0.70 0 1,0 -1.40,0M184.0,734.8a0.75,0.75 0 1,0 1.51,0a0.75,0.75 0 1,0 -1.51,0M171.4,732.7a0.72,0.72 0 1,0 1.44,0a0.72,0.72 0 1,0 -1.44,0M225.5,744.5a0.82,0.82 0 1,0 1.64,0a0.82,0.82 0 1,0 -1.64,0M211.2,715.8a0.81,0.81 0 1,0 1.61,0a0.81,0.81 0 1,0 -1.61,0M216.9,732.0a0.86,0.86 0 1,0 1.73,0a0.86,0.86 0 1,0 -1.73,0M173.6,757.9a0.58,0.58 0 1,0 1.16,0a0.58,0.58 0 1,0 -1.16,0M204.1,751.1a0.48,0.48 0 1,0 0.97,0a0.48,0.48 0 1,0 -0.97,0M201.3,702.9a0.42,0.42 0 1,0 0.84,0a0.42,0.42 0 1,0 -0.84,0M229.5,715.5a0.61,0.61 0 1,0 1.23,0a0.61,0.61 0 1,0 -1.23,0M178.0,759.4a0.65,0.65 0 1,0 1.31,0a0.65,0.65 0 1,0 -1.31,0M223.2,718.8a0.63,0.63 0 1,0 1.26,0a0.63,0.63 0 1,0 -1.26,0M185.7,738.3a0.75,0.75 0 1,0 1.51,0a0.75,0.75 0 1,0 -1.51,0M206.0,738.0a0.56,0.56 0 1,0 1.11,0a0.56,0.56 0 1,0 -1.11,0M229.4,703.2a0.48,0.48 0 1,0 0.97,0a0.48,0.48 0 1,0 -0.97,0M211.5,761.9a0.82,0.82 0 1,0 1.65,0a0.82,0.82 0 1,0 -1.65,0M185.7,760.1a0.63,0.63 0 1,0 1.26,0a0.63,0.63 0 1,0 -1.26,0M205.7,741.9a0.71,0.71 0 1,0 1.42,0a0.71,0.71 0 1,0 -1.42,0M224.8,757.4a0.56,0.56 0 1,0 1.12,0a0.56,0.56 0 1,0 -1.12,0M225.4,721.5a0.74,0.74 0 1,0 1.48,0a0.74,0.74 0 1,0 -1.48,0M180.4,741.3a0.55,0.55 0 1,0 1.10,0a0.55,0.55 0 1,0 -1.10,0M231.9,743.0a0.59,0.59 0 1,0 1.19,0a0.59,0.59 0 1,0 -1.19,0M229.7,709.1a0.77,0.77 0 1,0 1.55,0a0.77,0.77 0 1,0 -1.55,0M210.5,703.1a0.63,0.63 0 1,0 1.26,0a0.63,0.63 0 1,0 -1.26,0M177.9,763.6a0.45,0.45 0 1,0 0.90,0a0.45,0.45 0 1,0 -0.90,0M209.9,735.5a0.46,0.46 0 1,0 0.93,0a0.46,0.46 0 1,0 -0.93,0M228.0,737.4a0.71,0.71 0 1,0 1.42,0a0.71,0.71 0 1,0 -1.42,0M186.9,711.5a0.56,0.56 0 1,0 1.13,0a0.56,0.56 0 1,0 -1.13,0M172.7,714.4a0.65,0.65 0 1,0 1.30,0a0.65,0.65 0 1,0 -1.30,0M194.8,748.8a0.47,0.47 0 1,0 0.94,0a0.47,0.47 0 1,0 -0.94,0M183.2,734.2a0.74,0.74 0 1,0 1.49,0a0.74,0.74 0 1,0 -1.49,0M190.1,714.7a0.46,0.46 0 1,0 0.93,0a0.46,0.46 0 1,0 -0.93,0M192.8,725.4a0.80,0.80 0 1,0 1.60,0a0.80,0.80 0 1,0 -1.60,0M185.2,723.0a0.77,0.77 0 1,0 1.55,0a0.77,0.77 0 1,0 -1.55,0M183.1,704.4a0.89,0.89 0 1,0 1.77,0a0.89,0.89 0 1,0 -1.77,0M227.0,721.5a0.54,0.54 0 1,0 1.08,0a0.54,0.54 0 1,0 -1.08,0M198.7,715.0a0.79,0.79 0 1,0 1.59,0a0.79,0.79 0 1,0 -1.59,0M225.1,745.9a0.60,0.60 0 1,0 1.20,0a0.60,0.60 0 1,0 -1.20,0M222.4,759.7a0.49,0.49 0 1,0 0.98,0a0.49,0.49 0 1,0 -0.98,0M211.5,712.6a0.89,0.89 0 1,0 1.79,0a0.89,0.89 0 1,0 -1.79,0M219.4,727.2a0.77,0.77 0 1,0 1.54,0a0.77,0.77 0 1,0 -1.54,0M188.6,705.9a0.66,0.66 0 1,0 1.31,0a0.66,0.66 0 1,0 -1.31,0M175.0,730.1a0.83,0.83 0 1,0 1.65,0a0.83,0.83 0 1,0 -1.65,0M206.2,718.4a0.51,0.51 0 1,0 1.01,0a0.51,0.51 0 1,0 -1.01,0M204.7,733.4a0.85,0.85 0 1,0 1.70,0a0.85,0.85 0 1,0 -1.70,0M181.1,730.7a0.62,0.62 0 1,0 1.25,0a0.62,0.62 0 1,0 -1.25,0M193.8,713.5a0.59,0.59 0 1,0 1.18,0a0.59,0.59 0 1,0 -1.18,0M204.1,714.0a0.56,0.56 0 1,0 1.12,0a0.56,0.56 0 1,0 -1.12,0M203.0,759.9a0.64,0.64 0 1,0 1.28,0a0.64,0.64 0 1,0 -1.28,0M191.9,704.1a0.66,0.66 0 1,0 1.32,0a0.66,0.66 0 1,0 -1.32,0M191.8,709.1a0.64,0.64 0 1,0 1.27,0a0.64,0.64 0 1,0 -1.27,0" fill="#06042a"/>
<path d="M208.7,723.6a0.48,0.48 0 1,0 0.97,0a0.48,0.48 0 1,0 -0.97,0M209.8,705.9a0.31,0.31 0 1,0 0.62,0a0.31,0.31 0 1,0 -0.62,0M203.1,739.3a0.44,0.44 0 1,0 0.88,0a0.44,0.44 0 1,0 -0.88,0M184.8,723.2a0.48,0.48 0 1,0 0.96,0a0.48,0.48 0 1,0 -0.96,0M195.3,734.6a0.36,0.36 0 1,0 0.71,0a0.36,0.36 0 1,0 -0.71,0M209.6,731.5a0.30,0.30 0 1,0 0.60,0a0.30,0.30 0 1,0 -0.60,0M217.1,751.5a0.55,0.55 0 1,0 1.09,0a0.55,0.55 0 1,0 -1.09,0M228.8,745.3a0.42,0.42 0 1,0 0.83,0a0.42,0.42 0 1,0 -0.83,0M187.2,745.3a0.40,0.40 0 1,0 0.81,0a0.40,0.40 0 1,0 -0.81,0M190.6,709.2a0.45,0.45 0 1,0 0.90,0a0.45,0.45 0 1,0 -0.90,0M214.6,749.4a0.34,0.34 0 1,0 0.68,0a0.34,0.34 0 1,0 -0.68,0M183.5,741.3a0.33,0.33 0 1,0 0.66,0a0.33,0.33 0 1,0 -0.66,0M225.3,759.1a0.46,0.46 0 1,0 0.92,0a0.46,0.46 0 1,0 -0.92,0M186.8,736.6a0.49,0.49 0 1,0 0.98,0a0.49,0.49 0 1,0 -0.98,0M192.0,742.0a0.45,0.45 0 1,0 0.90,0a0.45,0.45 0 1,0 -0.90,0M226.7,749.8a0.47,0.47 0 1,0 0.93,0a0.47,0.47 0 1,0 -0.93,0M204.3,756.8a0.45,0.45 0 1,0 0.90,0a0.45,0.45 0 1,0 -0.90,0M213.3,721.1a0.33,0.33 0 1,0 0.65,0a0.33,0.33 0 1,0 -0.65,0M205.0,715.7a0.54,0.54 0 1,0 1.08,0a0.54,0.54 0 1,0 -1.08,0M184.4,757.2a0.38,0.38 0 1,0 0.77,0a0.38,0.38 0 1,0 -0.77,0M182.6,737.6a0.38,0.38 0 1,0 0.76,0a0.38,0.38 0 1,0 -0.76,0M232.1,740.0a0.33,0.33 0 1,0 0.65,0a0.33,0.33 0 1,0 -0.65,0M189.9,708.9a0.42,0.42 0 1,0 0.85,0a0.42,0.42 0 1,0 -0.85,0M203.2,721.5a0.47,0.47 0 1,0 0.94,0a0.47,0.47 0 1,0 -0.94,0M198.1,752.5a0.47,0.47 0 1,0 0.94,0a0.47,0.47 0 1,0 -0.94,0M186.8,753.1a0.31,0.31 0 1,0 0.61,0a0.31,0.31 0 1,0 -0.61,0M185.2,703.7a0.54,0.54 0 1,0 1.08,0a0.54,0.54 0 1,0 -1.08,0M203.6,753.8a0.55,0.55 0 1,0 1.10,0a0.55,0.55 0 1,0 -1.10,0M176.5,757.4a0.31,0.31 0 1,0 0.61,0a0.31,0.31 0 1,0 -0.61,0M214.0,750.9a0.40,0.40 0 1,0 0.79,0a0.40,0.40 0 1,0 -0.79,0M225.6,749.2a0.42,0.42 0 1,0 0.85,0a0.42,0.42 0 1,0 -0.85,0M188.2,711.8a0.32,0.32 0 1,0 0.64,0a0.32,0.32 0 1,0 -0.64,0M204.2,734.3a0.35,0.35 0 1,0 0.69,0a0.35,0.35 0 1,0 -0.69,0M203.5,706.9a0.38,0.38 0 1,0 0.75,0a0.38,0.38 0 1,0 -0.75,0M212.0,711.3a0.43,0.43 0 1,0 0.86,0a0.43,0.43 0 1,0 -0.86,0M179.1,756.3a0.35,0.35 0 1,0 0.71,0a0.35,0.35 0 1,0 -0.71,0M228.0,758.6a0.54,0.54 0 1,0 1.08,0a0.54,0.54 0 1,0 -1.08,0M188.3,744.0a0.32,0.32 0 1,0 0.63,0a0.32,0.32 0 1,0 -0.63,0M230.8,744.6a0.31,0.31 0 1,0 0.62,0a0.31,0.31 0 1,0 -0.62,0M179.3,708.5a0.39,0.39 0 1,0 0.77,0a0.39,0.39 0 1,0 -0.77,0M228.6,750.6a0.38,0.38 0 1,0 0.76,0a0.38,0.38 0 1,0 -0.76,0M220.6,702.7a0.44,0.44 0 1,0 0.87,0a0.44,0.44 0 1,0 -0.87,0M194.7,706.7a0.53,0.53 0 1,0 1.06,0a0.53,0.53 0 1,0 -1.06,0M211.2,763.3a0.46,0.46 0 1,0 0.92,0a0.46,0.46 0 1,0 -0.92,0M209.0,709.9a0.42,0.42 0 1,0 0.84,0a0.42,0.42 0 1,0 -0.84,0M226.0,736.4a0.46,0.46 0 1,0 0.92,0a0.46,0.46 0 1,0 -0.92,0M199.2,724.1a0.30,0.30 0 1,0 0.61,0a0.30,0.30 0 1,0 -0.61,0M184.3,713.5a0.32,0.32 0 1,0 0.65,0a0.32,0.32 0 1,0 -0.65,0M174.0,748.5a0.55,0.55 0 1,0 1.10,0a0.55,0.55 0 1,0 -1.10,0M213.8,753.2a0.35,0.35 0 1,0 0.70,0a0.35,0.35 0 1,0 -0.70,0M223.0,725.5a0.51,0.51 0 1,0 1.03,0a0.51,0.51 0 1,0 -1.03,0M185.4,720.4a0.43,0.43 0 1,0 0.86,0a0.43,0.43 0 1,0 -0.86,0M184.5,717.9a0.48,0.48 0 1,0 0.96,0a0.48,0.48 0 1,0 -0.96,0M219.4,762.6a0.46,0.46 0 1,0 0.93,0a0.46,0.46 0 1,0 -0.93,0M192.3,730.9a0.45,0.45 0 1,0 0.89,0a0.45,0.45 0 1,0 -0.89,0M207.3,758.5a0.44,0.44 0 1,0 0.88,0a0.44,0.44 0 1,0 -0.88,0M230.0,731.4a0.41,0.41 0 1,0 0.82,0a0.41,0.41 0 1,0 -0.82,0M172.6,722.0a0.42,0.42 0 1,0 0.84,0a0.42,0.42 0 1,0 -0.84,0M171.6,729.1a0.33,0.33 0 1,0 0.66,0a0.33,0.33 0 1,0 -0.66,0M187.1,756.5a0.53,0.53 0 1,0 1.06,0a0.53,0.53 0 1,0 -1.06,0M177.8,738.2a0.42,0.42 0 1,0 0.84,0a0.42,0.42 0 1,0 -0.84,0M174.1,720.3a0.43,0.43 0 1,0 0.87,0a0.43,0.43 0 1,0 -0.87,0M197.1,737.1a0.32,0.32 0 1,0 0.63,0a0.32,0.32 0 1,0 -0.63,0M208.6,739.7a0.35,0.35 0 1,0 0.69,0a0.35,0.35 0 1,0 -0.69,0M205.6,759.5a0.52,0.52 0 1,0 1.05,0a0.52,0.52 0 1,0 -1.05,0M208.7,734.1a0.49,0.49 0 1,0 0.97,0a0.49,0.49 0 1,0 -0.97,0M198.8,745.5a0.39,0.39 0 1,0 0.79,0a0.39,0.39 0 1,0 -0.79,0M205.0,747.2a0.45,0.45 0 1,0 0.89,0a0.45,0.45 0 1,0 -0.89,0M208.0,725.7a0.39,0.39 0 1,0 0.78,0a0.39,0.39 0 1,0 -0.78,0M211.2,729.5a0.41,0.41 0 1,0 0.82,0a0.41,0.41 0 1,0 -0.82,0M194.1,719.9a0.46,0.46 0 1,0 0.91,0a0.46,0.46 0 1,0 -0.91,0M224.8,714.0a0.46,0.46 0 1,0 0.92,0a0.46,0.46 0 1,0 -0.92,0M203.5,741.2a0.47,0.47 0 1,0 0.93,0a0.47,0.47 0 1,0 -0.93,0M195.5,702.6a0.39,0.39 0 1,0 0.78,0a0.39,0.39 0 1,0 -0.78,0M202.8,740.8a0.53,0.53 0 1,0 1.06,0a0.53,0.53 0 1,0 -1.06,0M211.3,742.2a0.39,0.39 0 1,0 0.78,0a0.39,0.39 0 1,0 -0.78,0M219.6,710.0a0.52,0.52 0 1,0 1.04,0a0.52,0.52 0 1,0 -1.04,0M200.9,729.9a0.47,0.47 0 1,0 0.95,0a0.47,0.47 0 1,0 -0.95,0M204.3,763.3a0.33,0.33 0 1,0 0.66,0a0.33,0.33 0 1,0 -0.66,0M174.8,738.6a0.36,0.36 0 1,0 0.71,0a0.36,0.36 0 1,0 -0.71,0M184.8,763.5a0.43,0.43 0 1,0 0.86,0a0.43,0.43 0 1,0 -0.86,0M188.9,724.5a0.36,0.36 0 1,0 0.71,0a0.36,0.36 0 1,0 -0.71,0M186.2,710.3a0.54,0.54 0 1,0 1.09,0a0.54,0.54 0 1,0 -1.09,0M216.1,724.2a0.33,0.33 0 1,0 0.65,0a0.33,0.33 0 1,0 -0.65,0M231.0,756.8a0.32,0.32 0 1,0 0.65,0a0.32,0.32 0 1,0 -0.65,0M224.2,736.0a0.55,0.55 0 1,0 1.09,0a0.55,0.55 0 1,0 -1.09,0M198.0,728.8a0.30,0.30 0 1,0 0.60,0a0.30,0.30 0 1,0 -0.60,0M206.2,716.7a0.52,0.52 0 1,0 1.04,0a0.52,0.52 0 1,0 -1.04,0M184.6,756.4a0.38,0.38 0 1,0 0.77,0a0.38,0.38 0 1,0 -0.77,0M220.4,746.0a0.53,0.53 0 1,0 1.07,0a0.53,0.53 0 1,0 -1.07,0M206.3,724.2a0.37,0.37 0 1,0 0.73,0a0.37,0.37 0 1,0 -0.73,0M185.3,708.4a0.37,0.37 0 1,0 0.75,0a0.37,0.37 0 1,0 -0.75,0M190.4,752.7a0.30,0.30 0 1,0 0.60,0a0.30,0.30 0 1,0 -0.60,0M201.8,733.3a0.34,0.34 0 1,0 0.68,0a0.34,0.34 0 1,0 -0.68,0M213.4,714.8a0.49,0.49 0 1,0 0.97,0a0.49,0.49 0 1,0 -0.97,0M181.3,756.1a0.38,0.38 0 1,0 0.76,0a0.38,0.38 0 1,0 -0.76,0M176.7,711.3a0.35,0.35 0 1,0 0.70,0a0.35,0.35 0 1,0 -0.70,0M178.8,721.3a0.54,0.54 0 1,0 1.09,0a0.54,0.54 0 1,0 -1.09,0M193.8,726.3a0.49,0.49 0 1,0 0.98,0a0.49,0.49 0 1,0 -0.98,0M175.2,707.4a0.52,0.52 0 1,0 1.03,0a0.52,0.52 0 1,0 -1.03,0M191.0,712.8a0.35,0.35 0 1,0 0.69,0a0.35,0.35 0 1,0 -0.69,0M216.6,762.2a0.40,0.40 0 1,0 0.80,0a0.40,0.40 0 1,0 -0.80,0M214.7,730.4a0.35,0.35 0 1,0 0.70,0a0.35,0.35 0 1,0 -0.70,0M190.2,722.9a0.36,0.36 0 1,0 0.73,0a0.36,0.36 0 1,0 -0.73,0M219.7,707.6a0.40,0.40 0 1,0 0.79,0a0.40,0.40 0 1,0 -0.79,0M215.9,704.0a0.54,0.54 0 1,0 1.08,0a0.54,0.54 0 1,0 -1.08,0M208.7,742.2a0.35,0.35 0 1,0 0.70,0a0.35,0.35 0 1,0 -0.70,0M183.2,753.9a0.54,0.54 0 1,0 1.09,0a0.54,0.54 0 1,0 -1.09,0M171.8,752.3a0.35,0.35 0 1,0 0.70,0a0.35,0.35 0 1,0 -0.70,0M175.6,738.8a0.32,0.32 0 1,0 0.65,0a0.32,0.32 0 1,0 -0.65,0M222.6,754.0a0.37,0.37 0 1,0 0.74,0a0.37,0.37 0 1,0 -0.74,0M179.6,733.6a0.49,0.49 0 1,0 0.97,0a0.49,0.49 0 1,0 -0.97,0M173.2,745.4a0.33,0.33 0 1,0 0.66,0a0.33,0.33 0 1,0 -0.66,0M194.2,712.2a0.32,0.32 0 1,0 0.64,0a0.32,0.32 0 1,0 -0.64,0M203.6,720.4a0.53,0.53 0 1,0 1.06,0a0.53,0.53 0 1,0 -1.06,0M226.5,746.7a0.43,0.43 0 1,0 0.86,0a0.43,0.43 0 1,0 -0.86,0M210.6,722.5a0.42,0.42 0 1,0 0.83,0a0.42,0.42 0 1,0 -0.83,0M204.5,727.9a0.41,0.41 0 1,0 0.82,0a0.41,0.41 0 1,0 -0.82,0M223.2,762.9a0.48,0.48 0 1,0 0.97,0a0.48,0.48 0 1,0 -0.97,0M223.8,720.8a0.32,0.32 0 1,0 0.64,0a0.32,0.32 0 1,0 -0.64,0M184.4,732.8a0.49,0.49 0 1,0 0.98,0a0.49,0.49 0 1,0 -0.98,0M215.9,758.4a0.49,0.49 0 1,0 0.99,0a0.49,0.49 0 1,0 -0.99,0M189.2,705.4a0.42,0.42 0 1,0 0.84,0a0.42,0.42 0 1,0 -0.84,0M191.0,755.6a0.53,0.53 0 1,0 1.05,0a0.53,0.53 0 1,0 -1.05,0M203.9,749.7a0.48,0.48 0 1,0 0.96,0a0.48,0.48 0 1,0 -0.96,0M202.7,729.2a0.54,0.54 0 1,0 1.08,0a0.54,0.54 0 1,0 -1.08,0M219.8,737.2a0.55,0.55 0 1,0 1.09,0a0.55,0.55 0 1,0 -1.09,0M179.9,749.4a0.44,0.44 0 1,0 0.88,0a0.44,0.44 0 1,0 -0.88,0M190.6,709.8a0.45,0.45 0 1,0 0.89,0a0.45,0.45 0 1,0 -0.89,0M224.2,712.8a0.52,0.52 0 1,0 1.05,0a0.52,0.52 0 1,0 -1.05,0M231.6,714.0a0.44,0.44 0 1,0 0.88,0a0.44,0.44 0 1,0 -0.88,0M200.8,722.7a0.33,0.33 0 1,0 0.66,0a0.33,0.33 0 1,0 -0.66,0M187.2,760.0a0.51,0.51 0 1,0 1.02,0a0.51,0.51 0 1,0 -1.02,0M229.4,732.7a0.42,0.42 0 1,0 0.85,0a0.42,0.42 0 1,0 -0.85,0M174.6,728.3a0.45,0.45 0 1,0 0.89,0a0.45,0.45 0 1,0 -0.89,0M231.9,706.0a0.46,0.46 0 1,0 0.93,0a0.46,0.46 0 1,0 -0.93,0M173.7,761.9a0.35,0.35 0 1,0 0.70,0a0.35,0.35 0 1,0 -0.70,0M213.6,741.1a0.35,0.35 0 1,0 0.70,0a0.35,0.35 0 1,0 -0.70,0M199.3,728.1a0.34,0.34 0 1,0 0.69,0a0.34,0.34 0 1,0 -0.69,0M195.1,705.9a0.48,0.48 0 1,0 0.95,0a0.48,0.48 0 1,0 -0.95,0" fill="#b050d0"/>
<path d="M230.5,735.4a0.56,0.56 0 1,0 1.12,0a0.56,0.56 0 1,0 -1.12,0M202.2,710.9a0.70,0.70 0 1,0 1.39,0a0.70,0.70 0 1,0 -1.39,0M213.2,708.4a0.55,0.55 0 1,0 1.10,0a0.55,0.55 0 1,0 -1.10,0M178.4,745.2a0.41,0.41 0 1,0 0.81,0a0.41,0.41 0 1,0 -0.81,0M224.1,706.0a0.73,0.73 0 1,0 1.47,0a0.73,0.73 0 1,0 -1.47,0M182.3,734.6a0.68,0.68 0 1,0 1.37,0a0.68,0.68 0 1,0 -1.37,0M228.6,755.9a0.46,0.46 0 1,0 0.92,0a0.46,0.46 0 1,0 -0.92,0M214.8,728.5a0.47,0.47 0 1,0 0.93,0a0.47,0.47 0 1,0 -0.93,0M199.3,759.8a0.41,0.41 0 1,0 0.82,0a0.41,0.41 0 1,0 -0.82,0M213.5,735.4a0.75,0.75 0 1,0 1.51,0a0.75,0.75 0 1,0 -1.51,0M199.7,717.3a0.74,0.74 0 1,0 1.48,0a0.74,0.74 0 1,0 -1.48,0M177.4,744.4a0.52,0.52 0 1,0 1.03,0a0.52,0.52 0 1,0 -1.03,0M173.8,712.3a0.74,0.74 0 1,0 1.48,0a0.74,0.74 0 1,0 -1.48,0M180.4,758.6a0.46,0.46 0 1,0 0.92,0a0.46,0.46 0 1,0 -0.92,0M227.7,705.2a0.66,0.66 0 1,0 1.33,0a0.66,0.66 0 1,0 -1.33,0M203.3,738.8a0.77,0.77 0 1,0 1.54,0a0.77,0.77 0 1,0 -1.54,0M184.5,763.2a0.63,0.63 0 1,0 1.26,0a0.63,0.63 0 1,0 -1.26,0M220.2,717.4a0.80,0.80 0 1,0 1.60,0a0.80,0.80 0 1,0 -1.60,0M215.1,731.0a0.49,0.49 0 1,0 0.97,0a0.49,0.49 0 1,0 -0.97,0M224.5,736.5a0.80,0.80 0 1,0 1.59,0a0.80,0.80 0 1,0 -1.59,0M225.0,748.1a0.69,0.69 0 1,0 1.38,0a0.69,0.69 0 1,0 -1.38,0M180.9,753.1a0.69,0.69 0 1,0 1.37,0a0.69,0.69 0 1,0 -1.37,0M176.8,706.3a0.44,0.44 0 1,0 0.88,0a0.44,0.44 0 1,0 -0.88,0M184.0,749.1a0.71,0.71 0 1,0 1.41,0a0.71,0.71 0 1,0 -1.41,0M213.2,724.7a0.78,0.78 0 1,0 1.55,0a0.78,0.78 0 1,0 -1.55,0M180.0,716.0a0.58,0.58 0 1,0 1.15,0a0.58,0.58 0 1,0 -1.15,0M186.5,747.3a0.73,0.73 0 1,0 1.47,0a0.73,0.73 0 1,0 -1.47,0M216.4,721.9a0.63,0.63 0 1,0 1.26,0a0.63,0.63 0 1,0 -1.26,0M190.0,735.8a0.61,0.61 0 1,0 1.22,0a0.61,0.61 0 1,0 -1.22,0M179.9,754.1a0.72,0.72 0 1,0 1.45,0a0.72,0.72 0 1,0 -1.45,0M218.6,707.6a0.49,0.49 0 1,0 0.99,0a0.49,0.49 0 1,0 -0.99,0M216.7,751.7a0.65,0.65 0 1,0 1.29,0a0.65,0.65 0 1,0 -1.29,0M228.2,728.3a0.49,0.49 0 1,0 0.98,0a0.49,0.49 0 1,0 -0.98,0M199.9,720.6a0.55,0.55 0 1,0 1.10,0a0.55,0.55 0 1,0 -1.10,0M218.7,721.9a0.69,0.69 0 1,0 1.37,0a0.69,0.69 0 1,0 -1.37,0M207.1,703.3a0.60,0.60 0 1,0 1.21,0a0.60,0.60 0 1,0 -1.21,0M223.9,741.9a0.74,0.74 0 1,0 1.48,0a0.74,0.74 0 1,0 -1.48,0M210.2,763.3a0.42,0.42 0 1,0 0.83,0a0.42,0.42 0 1,0 -0.83,0M196.7,714.2a0.70,0.70 0 1,0 1.41,0a0.70,0.70 0 1,0 -1.41,0M188.7,743.0a0.66,0.66 0 1,0 1.32,0a0.66,0.66 0 1,0 -1.32,0M171.7,739.8a0.53,0.53 0 1,0 1.06,0a0.53,0.53 0 1,0 -1.06,0M186.1,741.8a0.65,0.65 0 1,0 1.31,0a0.65,0.65 0 1,0 -1.31,0M183.9,745.8a0.43,0.43 0 1,0 0.86,0a0.43,0.43 0 1,0 -0.86,0M173.8,756.7a0.77,0.77 0 1,0 1.54,0a0.77,0.77 0 1,0 -1.54,0M228.8,763.3a0.70,0.70 0 1,0 1.39,0a0.70,0.70 0 1,0 -1.39,0M205.6,734.6a0.61,0.61 0 1,0 1.23,0a0.61,0.61 0 1,0 -1.23,0M228.7,761.6a0.57,0.57 0 1,0 1.15,0a0.57,0.57 0 1,0 -1.15,0M183.1,735.1a0.57,0.57 0 1,0 1.14,0a0.57,0.57 0 1,0 -1.14,0M220.4,758.8a0.65,0.65 0 1,0 1.30,0a0.65,0.65 0 1,0 -1.30,0M175.8,734.9a0.45,0.45 0 1,0 0.90,0a0.45,0.45 0 1,0 -0.90,0M203.6,752.4a0.67,0.67 0 1,0 1.34,0a0.67,0.67 0 1,0 -1.34,0M199.2,711.7a0.77,0.77 0 1,0 1.54,0a0.77,0.77 0 1,0 -1.54,0M224.5,732.1a0.42,0.42 0 1,0 0.84,0a0.42,0.42 0 1,0 -0.84,0M212.3,726.7a0.56,0.56 0 1,0 1.12,0a0.56,0.56 0 1,0 -1.12,0M194.0,718.9a0.46,0.46 0 1,0 0.91,0a0.46,0.46 0 1,0 -0.91,0M210.7,733.9a0.57,0.57 0 1,0 1.14,0a0.57,0.57 0 1,0 -1.14,0M217.0,733.0a0.46,0.46 0 1,0 0.93,0a0.46,0.46 0 1,0 -0.93,0M187.0,736.4a0.67,0.67 0 1,0 1.33,0a0.67,0.67 0 1,0 -1.33,0M209.7,748.0a0.54,0.54 0 1,0 1.09,0a0.54,0.54 0 1,0 -1.09,0M217.9,737.9a0.50,0.50 0 1,0 1.00,0a0.50,0.50 0 1,0 -1.00,0" fill="#3a34ff"/>
<path d="M206.79999999999998,710.2 L214.0,709.2 L216.0,719.4 L213.0,729.7 L210.89999999999998,735.8 L206.79999999999998,732.7 L205.79999999999998,721.5 Z" fill="#000004" />
<path d="M212.2,720.0 C214.2,717.0 217.2,718.0 217.2,722.0 C217.2,727.0 215.2,731.0 213.2,729.0 Z" fill="#2a20d0" />
<path d="M217.1,702.0 L233.2,702.0 L233.2,708.2 L225.2,710.2 L217.1,708.2 Z" fill="#000004" />
<path d="M171.2,702.0 L175.2,702.0 L171.2,706.0 Z" fill="#000004" />
<path d="M171.2,748.0 L178.2,747.0 L184.29999999999998,752.1 L191.5,747.0 L198.7,750.1 L206.79999999999998,752.1 L214.0,752.1 L221.2,756.2 L229.29999999999998,760.3 L233.2,762.4 L233.2,764.0 L171.2,764.0 Z" fill="#000004" />
<ellipse cx="202.8" cy="757.2" rx="4.2" ry="3.2" transform="rotate(-25 202.8 757.2)" fill="#3028e0"/>
<path d="M211.2,764.0 C217.2,760.0 225.2,760.0 233.2,761.0 L233.2,764.0 Z" fill="#2a20c8" />
<rect x="224.00" y="760.60" width="6.30" height="1.30" fill="#fff" />
</g>
<clipPath id="c17"><rect x="238.80" y="702.00" width="61.50" height="61.60"/></clipPath><g clip-path="url(#c17)">
<rect x="238.80" y="702.00" width="61.50" height="61.60" fill="#000" />
<path d="M246.0,740.6a0.55,0.55 0 1,0 1.11,0a0.55,0.55 0 1,0 -1.11,0M296.7,752.3a0.55,0.55 0 1,0 1.09,0a0.55,0.55 0 1,0 -1.09,0M274.7,717.1a0.39,0.39 0 1,0 0.78,0a0.39,0.39 0 1,0 -0.78,0M291.3,718.8a0.45,0.45 0 1,0 0.89,0a0.45,0.45 0 1,0 -0.89,0M272.2,703.1a0.33,0.33 0 1,0 0.67,0a0.33,0.33 0 1,0 -0.67,0M250.6,751.0a0.54,0.54 0 1,0 1.07,0a0.54,0.54 0 1,0 -1.07,0M243.6,712.0a0.60,0.60 0 1,0 1.19,0a0.60,0.60 0 1,0 -1.19,0M248.5,751.3a0.48,0.48 0 1,0 0.95,0a0.48,0.48 0 1,0 -0.95,0M292.1,747.4a0.33,0.33 0 1,0 0.66,0a0.33,0.33 0 1,0 -0.66,0M285.8,746.1a0.31,0.31 0 1,0 0.63,0a0.31,0.31 0 1,0 -0.63,0M296.3,720.0a0.44,0.44 0 1,0 0.88,0a0.44,0.44 0 1,0 -0.88,0M270.6,736.2a0.47,0.47 0 1,0 0.94,0a0.47,0.47 0 1,0 -0.94,0M242.4,754.6a0.46,0.46 0 1,0 0.91,0a0.46,0.46 0 1,0 -0.91,0M244.5,733.0a0.36,0.36 0 1,0 0.71,0a0.36,0.36 0 1,0 -0.71,0M264.8,746.3a0.53,0.53 0 1,0 1.05,0a0.53,0.53 0 1,0 -1.05,0M248.1,719.7a0.59,0.59 0 1,0 1.18,0a0.59,0.59 0 1,0 -1.18,0M277.0,713.4a0.48,0.48 0 1,0 0.97,0a0.48,0.48 0 1,0 -0.97,0M253.6,706.6a0.50,0.50 0 1,0 0.99,0a0.50,0.50 0 1,0 -0.99,0M245.2,710.6a0.50,0.50 0 1,0 1.01,0a0.50,0.50 0 1,0 -1.01,0M297.7,706.2a0.52,0.52 0 1,0 1.05,0a0.52,0.52 0 1,0 -1.05,0M247.3,705.6a0.30,0.30 0 1,0 0.61,0a0.30,0.30 0 1,0 -0.61,0M239.5,747.0a0.57,0.57 0 1,0 1.14,0a0.57,0.57 0 1,0 -1.14,0M239.3,711.3a0.31,0.31 0 1,0 0.63,0a0.31,0.31 0 1,0 -0.63,0M263.5,721.8a0.36,0.36 0 1,0 0.72,0a0.36,0.36 0 1,0 -0.72,0M288.5,708.4a0.49,0.49 0 1,0 0.98,0a0.49,0.49 0 1,0 -0.98,0M247.3,742.3a0.34,0.34 0 1,0 0.68,0a0.34,0.34 0 1,0 -0.68,0M250.5,762.9a0.38,0.38 0 1,0 0.76,0a0.38,0.38 0 1,0 -0.76,0M265.9,742.7a0.60,0.60 0 1,0 1.20,0a0.60,0.60 0 1,0 -1.20,0M272.1,709.2a0.50,0.50 0 1,0 1.00,0a0.50,0.50 0 1,0 -1.00,0M280.4,738.0a0.42,0.42 0 1,0 0.83,0a0.42,0.42 0 1,0 -0.83,0M288.8,705.9a0.46,0.46 0 1,0 0.93,0a0.46,0.46 0 1,0 -0.93,0M271.7,758.5a0.53,0.53 0 1,0 1.07,0a0.53,0.53 0 1,0 -1.07,0M253.0,725.6a0.48,0.48 0 1,0 0.96,0a0.48,0.48 0 1,0 -0.96,0M261.6,705.9a0.60,0.60 0 1,0 1.20,0a0.60,0.60 0 1,0 -1.20,0M266.4,710.6a0.35,0.35 0 1,0 0.69,0a0.35,0.35 0 1,0 -0.69,0M239.4,758.1a0.34,0.34 0 1,0 0.68,0a0.34,0.34 0 1,0 -0.68,0M272.9,760.2a0.53,0.53 0 1,0 1.06,0a0.53,0.53 0 1,0 -1.06,0M274.7,719.5a0.50,0.50 0 1,0 1.00,0a0.50,0.50 0 1,0 -1.00,0M288.1,714.7a0.37,0.37 0 1,0 0.74,0a0.37,0.37 0 1,0 -0.74,0M263.5,738.9a0.57,0.57 0 1,0 1.13,0a0.57,0.57 0 1,0 -1.13,0M274.6,718.4a0.52,0.52 0 1,0 1.04,0a0.52,0.52 0 1,0 -1.04,0M247.7,708.6a0.30,0.30 0 1,0 0.61,0a0.30,0.30 0 1,0 -0.61,0M273.8,737.6a0.44,0.44 0 1,0 0.88,0a0.44,0.44 0 1,0 -0.88,0M272.5,713.6a0.36,0.36 0 1,0 0.73,0a0.36,0.36 0 1,0 -0.73,0M274.3,726.9a0.45,0.45 0 1,0 0.90,0a0.45,0.45 0 1,0 -0.90,0M294.5,730.8a0.52,0.52 0 1,0 1.05,0a0.52,0.52 0 1,0 -1.05,0M242.2,732.2a0.32,0.32 0 1,0 0.63,0a0.32,0.32 0 1,0 -0.63,0M250.6,713.6a0.42,0.42 0 1,0 0.83,0a0.42,0.42 0 1,0 -0.83,0M248.2,759.5a0.39,0.39 0 1,0 0.78,0a0.39,0.39 0 1,0 -0.78,0M257.1,706.4a0.41,0.41 0 1,0 0.82,0a0.41,0.41 0 1,0 -0.82,0M286.5,735.6a0.57,0.57 0 1,0 1.14,0a0.57,0.57 0 1,0 -1.14,0M276.3,741.7a0.43,0.43 0 1,0 0.86,0a0.43,0.43 0 1,0 -0.86,0M289.8,729.7a0.34,0.34 0 1,0 0.68,0a0.34,0.34 0 1,0 -0.68,0M252.3,751.1a0.32,0.32 0 1,0 0.63,0a0.32,0.32 0 1,0 -0.63,0M249.4,740.6a0.50,0.50 0 1,0 1.01,0a0.50,0.50 0 1,0 -1.01,0M267.0,742.2a0.43,0.43 0 1,0 0.85,0a0.43,0.43 0 1,0 -0.85,0M274.6,704.4a0.42,0.42 0 1,0 0.85,0a0.42,0.42 0 1,0 -0.85,0M298.3,737.4a0.40,0.40 0 1,0 0.80,0a0.40,0.40 0 1,0 -0.80,0M276.7,762.1a0.44,0.44 0 1,0 0.88,0a0.44,0.44 0 1,0 -0.88,0M263.8,752.6a0.56,0.56 0 1,0 1.11,0a0.56,0.56 0 1,0 -1.11,0M252.3,743.2a0.39,0.39 0 1,0 0.78,0a0.39,0.39 0 1,0 -0.78,0M260.1,751.5a0.41,0.41 0 1,0 0.82,0a0.41,0.41 0 1,0 -0.82,0M294.5,732.0a0.56,0.56 0 1,0 1.12,0a0.56,0.56 0 1,0 -1.12,0M246.4,726.9a0.31,0.31 0 1,0 0.62,0a0.31,0.31 0 1,0 -0.62,0M291.1,756.8a0.45,0.45 0 1,0 0.89,0a0.45,0.45 0 1,0 -0.89,0M267.0,761.8a0.42,0.42 0 1,0 0.83,0a0.42,0.42 0 1,0 -0.83,0M257.0,710.5a0.58,0.58 0 1,0 1.15,0a0.58,0.58 0 1,0 -1.15,0M287.6,734.5a0.52,0.52 0 1,0 1.04,0a0.52,0.52 0 1,0 -1.04,0M289.9,743.2a0.33,0.33 0 1,0 0.67,0a0.33,0.33 0 1,0 -0.67,0M278.2,755.7a0.44,0.44 0 1,0 0.89,0a0.44,0.44 0 1,0 -0.89,0M264.7,741.7a0.36,0.36 0 1,0 0.71,0a0.36,0.36 0 1,0 -0.71,0M252.1,743.9a0.60,0.60 0 1,0 1.20,0a0.60,0.60 0 1,0 -1.20,0M245.3,743.0a0.45,0.45 0 1,0 0.90,0a0.45,0.45 0 1,0 -0.90,0M240.7,711.9a0.39,0.39 0 1,0 0.78,0a0.39,0.39 0 1,0 -0.78,0M281.0,710.2a0.41,0.41 0 1,0 0.82,0a0.41,0.41 0 1,0 -0.82,0M276.4,748.5a0.60,0.60 0 1,0 1.20,0a0.60,0.60 0 1,0 -1.20,0M289.9,713.8a0.47,0.47 0 1,0 0.94,0a0.47,0.47 0 1,0 -0.94,0M275.6,736.0a0.48,0.48 0 1,0 0.96,0a0.48,0.48 0 1,0 -0.96,0M261.8,716.7a0.50,0.50 0 1,0 1.00,0a0.50,0.50 0 1,0 -1.00,0M292.0,744.0a0.50,0.50 0 1,0 0.99,0a0.50,0.50 0 1,0 -0.99,0M297.2,717.6a0.47,0.47 0 1,0 0.94,0a0.47,0.47 0 1,0 -0.94,0M289.4,742.2a0.30,0.30 0 1,0 0.60,0a0.30,0.30 0 1,0 -0.60,0M269.9,752.3a0.36,0.36 0 1,0 0.72,0a0.36,0.36 0 1,0 -0.72,0M262.6,762.5a0.44,0.44 0 1,0 0.87,0a0.44,0.44 0 1,0 -0.87,0M271.7,738.8a0.55,0.55 0 1,0 1.11,0a0.55,0.55 0 1,0 -1.11,0M266.3,757.3a0.51,0.51 0 1,0 1.02,0a0.51,0.51 0 1,0 -1.02,0M263.1,739.9a0.39,0.39 0 1,0 0.78,0a0.39,0.39 0 1,0 -0.78,0M241.7,731.9a0.31,0.31 0 1,0 0.63,0a0.31,0.31 0 1,0 -0.63,0M256.6,753.9a0.59,0.59 0 1,0 1.18,0a0.59,0.59 0 1,0 -1.18,0M250.6,712.2a0.41,0.41 0 1,0 0.81,0a0.41,0.41 0 1,0 -0.81,0M266.0,710.7a0.54,0.54 0 1,0 1.08,0a0.54,0.54 0 1,0 -1.08,0M248.1,735.2a0.38,0.38 0 1,0 0.76,0a0.38,0.38 0 1,0 -0.76,0M278.1,709.2a0.45,0.45 0 1,0 0.90,0a0.45,0.45 0 1,0 -0.90,0M290.6,703.0a0.36,0.36 0 1,0 0.72,0a0.36,0.36 0 1,0 -0.72,0M242.7,753.5a0.50,0.50 0 1,0 1.00,0a0.50,0.50 0 1,0 -1.00,0M253.3,757.4a0.35,0.35 0 1,0 0.70,0a0.35,0.35 0 1,0 -0.70,0M268.4,747.0a0.48,0.48 0 1,0 0.96,0a0.48,0.48 0 1,0 -0.96,0M242.5,704.9a0.36,0.36 0 1,0 0.71,0a0.36,0.36 0 1,0 -0.71,0M296.6,757.4a0.39,0.39 0 1,0 0.78,0a0.39,0.39 0 1,0 -0.78,0M241.4,741.1a0.36,0.36 0 1,0 0.72,0a0.36,0.36 0 1,0 -0.72,0M293.1,758.6a0.53,0.53 0 1,0 1.07,0a0.53,0.53 0 1,0 -1.07,0M286.0,750.0a0.55,0.55 0 1,0 1.10,0a0.55,0.55 0 1,0 -1.10,0M261.8,746.5a0.30,0.30 0 1,0 0.61,0a0.30,0.30 0 1,0 -0.61,0M280.9,729.4a0.60,0.60 0 1,0 1.19,0a0.60,0.60 0 1,0 -1.19,0M286.6,729.9a0.51,0.51 0 1,0 1.02,0a0.51,0.51 0 1,0 -1.02,0M274.5,740.0a0.30,0.30 0 1,0 0.60,0a0.30,0.30 0 1,0 -0.60,0M252.1,717.9a0.51,0.51 0 1,0 1.02,0a0.51,0.51 0 1,0 -1.02,0M294.6,740.7a0.53,0.53 0 1,0 1.05,0a0.53,0.53 0 1,0 -1.05,0M277.5,711.0a0.38,0.38 0 1,0 0.75,0a0.38,0.38 0 1,0 -0.75,0M274.1,748.4a0.43,0.43 0 1,0 0.85,0a0.43,0.43 0 1,0 -0.85,0M281.1,722.6a0.39,0.39 0 1,0 0.79,0a0.39,0.39 0 1,0 -0.79,0M248.7,727.5a0.47,0.47 0 1,0 0.95,0a0.47,0.47 0 1,0 -0.95,0M245.3,759.3a0.30,0.30 0 1,0 0.61,0a0.30,0.30 0 1,0 -0.61,0M283.2,723.4a0.58,0.58 0 1,0 1.16,0a0.58,0.58 0 1,0 -1.16,0M255.9,703.6a0.51,0.51 0 1,0 1.01,0a0.51,0.51 0 1,0 -1.01,0M261.6,752.4a0.50,0.50 0 1,0 1.00,0a0.50,0.50 0 1,0 -1.00,0M265.4,742.7a0.50,0.50 0 1,0 1.01,0a0.50,0.50 0 1,0 -1.01,0M258.5,714.0a0.50,0.50 0 1,0 0.99,0a0.50,0.50 0 1,0 -0.99,0M273.4,704.9a0.35,0.35 0 1,0 0.70,0a0.35,0.35 0 1,0 -0.70,0M264.8,707.5a0.46,0.46 0 1,0 0.91,0a0.46,0.46 0 1,0 -0.91,0M262.6,720.2a0.53,0.53 0 1,0 1.05,0a0.53,0.53 0 1,0 -1.05,0M283.7,706.1a0.48,0.48 0 1,0 0.96,0a0.48,0.48 0 1,0 -0.96,0M299.3,739.4a0.60,0.60 0 1,0 1.19,0a0.60,0.60 0 1,0 -1.19,0M252.7,715.6a0.40,0.40 0 1,0 0.80,0a0.40,0.40 0 1,0 -0.80,0M252.8,711.8a0.38,0.38 0 1,0 0.75,0a0.38,0.38 0 1,0 -0.75,0M269.1,752.0a0.53,0.53 0 1,0 1.06,0a0.53,0.53 0 1,0 -1.06,0M240.8,749.2a0.49,0.49 0 1,0 0.98,0a0.49,0.49 0 1,0 -0.98,0M254.6,702.4a0.56,0.56 0 1,0 1.12,0a0.56,0.56 0 1,0 -1.12,0M246.7,717.6a0.39,0.39 0 1,0 0.78,0a0.39,0.39 0 1,0 -0.78,0M287.2,760.2a0.57,0.57 0 1,0 1.15,0a0.57,0.57 0 1,0 -1.15,0M290.6,754.1a0.44,0.44 0 1,0 0.88,0a0.44,0.44 0 1,0 -0.88,0M241.9,716.5a0.34,0.34 0 1,0 0.68,0a0.34,0.34 0 1,0 -0.68,0M245.5,710.3a0.40,0.40 0 1,0 0.79,0a0.40,0.40 0 1,0 -0.79,0M241.3,720.2a0.56,0.56 0 1,0 1.11,0a0.56,0.56 0 1,0 -1.11,0M253.1,733.3a0.56,0.56 0 1,0 1.11,0a0.56,0.56 0 1,0 -1.11,0M239.3,746.8a0.46,0.46 0 1,0 0.93,0a0.46,0.46 0 1,0 -0.93,0M240.1,756.9a0.54,0.54 0 1,0 1.08,0a0.54,0.54 0 1,0 -1.08,0M244.6,761.2a0.47,0.47 0 1,0 0.95,0a0.47,0.47 0 1,0 -0.95,0M277.5,715.1a0.31,0.31 0 1,0 0.62,0a0.31,0.31 0 1,0 -0.62,0M281.8,745.9a0.35,0.35 0 1,0 0.71,0a0.35,0.35 0 1,0 -0.71,0M240.5,737.4a0.39,0.39 0 1,0 0.78,0a0.39,0.39 0 1,0 -0.78,0M259.5,755.5a0.47,0.47 0 1,0 0.94,0a0.47,0.47 0 1,0 -0.94,0M245.5,745.1a0.52,0.52 0 1,0 1.03,0a0.52,0.52 0 1,0 -1.03,0M273.3,760.7a0.44,0.44 0 1,0 0.89,0a0.44,0.44 0 1,0 -0.89,0M278.4,705.4a0.39,0.39 0 1,0 0.78,0a0.39,0.39 0 1,0 -0.78,0M256.8,728.5a0.45,0.45 0 1,0 0.91,0a0.45,0.45 0 1,0 -0.91,0M245.5,744.6a0.32,0.32 0 1,0 0.63,0a0.32,0.32 0 1,0 -0.63,0M254.0,738.0a0.31,0.31 0 1,0 0.61,0a0.31,0.31 0 1,0 -0.61,0M258.5,751.9a0.52,0.52 0 1,0 1.04,0a0.52,0.52 0 1,0 -1.04,0M261.4,712.3a0.53,0.53 0 1,0 1.05,0a0.53,0.53 0 1,0 -1.05,0M291.8,707.0a0.43,0.43 0 1,0 0.85,0a0.43,0.43 0 1,0 -0.85,0M272.1,744.7a0.36,0.36 0 1,0 0.72,0a0.36,0.36 0 1,0 -0.72,0M288.8,739.5a0.54,0.54 0 1,0 1.08,0a0.54,0.54 0 1,0 -1.08,0M296.6,744.1a0.50,0.50 0 1,0 1.00,0a0.50,0.50 0 1,0 -1.00,0M256.7,718.8a0.41,0.41 0 1,0 0.82,0a0.41,0.41 0 1,0 -0.82,0M288.3,738.7a0.38,0.38 0 1,0 0.77,0a0.38,0.38 0 1,0 -0.77,0M293.7,733.8a0.59,0.59 0 1,0 1.19,0a0.59,0.59 0 1,0 -1.19,0M278.6,747.3a0.40,0.40 0 1,0 0.81,0a0.40,0.40 0 1,0 -0.81,0M299.3,731.5a0.50,0.50 0 1,0 1.00,0a0.50,0.50 0 1,0 -1.00,0M263.3,734.2a0.35,0.35 0 1,0 0.71,0a0.35,0.35 0 1,0 -0.71,0M260.9,727.5a0.52,0.52 0 1,0 1.05,0a0.52,0.52 0 1,0 -1.05,0M248.1,714.2a0.49,0.49 0 1,0 0.99,0a0.49,0.49 0 1,0 -0.99,0M267.6,756.3a0.31,0.31 0 1,0 0.61,0a0.31,0.31 0 1,0 -0.61,0M265.5,753.2a0.53,0.53 0 1,0 1.05,0a0.53,0.53 0 1,0 -1.05,0M260.1,733.8a0.42,0.42 0 1,0 0.84,0a0.42,0.42 0 1,0 -0.84,0M238.7,707.0a0.37,0.37 0 1,0 0.74,0a0.37,0.37 0 1,0 -0.74,0M292.1,713.8a0.39,0.39 0 1,0 0.77,0a0.39,0.39 0 1,0 -0.77,0M272.6,744.9a0.49,0.49 0 1,0 0.99,0a0.49,0.49 0 1,0 -0.99,0M257.5,723.0a0.30,0.30 0 1,0 0.61,0a0.30,0.30 0 1,0 -0.61,0M287.3,725.2a0.39,0.39 0 1,0 0.78,0a0.39,0.39 0 1,0 -0.78,0M251.2,732.4a0.34,0.34 0 1,0 0.69,0a0.34,0.34 0 1,0 -0.69,0M258.5,708.5a0.36,0.36 0 1,0 0.71,0a0.36,0.36 0 1,0 -0.71,0M270.9,722.2a0.33,0.33 0 1,0 0.66,0a0.33,0.33 0 1,0 -0.66,0M292.0,705.7a0.42,0.42 0 1,0 0.85,0a0.42,0.42 0 1,0 -0.85,0M256.4,705.6a0.39,0.39 0 1,0 0.78,0a0.39,0.39 0 1,0 -0.78,0M265.5,744.5a0.38,0.38 0 1,0 0.76,0a0.38,0.38 0 1,0 -0.76,0M261.6,757.5a0.49,0.49 0 1,0 0.98,0a0.49,0.49 0 1,0 -0.98,0M265.7,715.1a0.54,0.54 0 1,0 1.07,0a0.54,0.54 0 1,0 -1.07,0M295.5,716.8a0.56,0.56 0 1,0 1.11,0a0.56,0.56 0 1,0 -1.11,0M261.5,731.5a0.31,0.31 0 1,0 0.62,0a0.31,0.31 0 1,0 -0.62,0M253.4,716.8a0.36,0.36 0 1,0 0.72,0a0.36,0.36 0 1,0 -0.72,0M289.2,760.6a0.40,0.40 0 1,0 0.79,0a0.40,0.40 0 1,0 -0.79,0M287.7,720.6a0.47,0.47 0 1,0 0.95,0a0.47,0.47 0 1,0 -0.95,0M250.3,758.0a0.45,0.45 0 1,0 0.91,0a0.45,0.45 0 1,0 -0.91,0M274.7,750.9a0.46,0.46 0 1,0 0.91,0a0.46,0.46 0 1,0 -0.91,0M268.5,745.8a0.44,0.44 0 1,0 0.88,0a0.44,0.44 0 1,0 -0.88,0M273.9,720.4a0.35,0.35 0 1,0 0.69,0a0.35,0.35 0 1,0 -0.69,0M252.1,761.8a0.48,0.48 0 1,0 0.95,0a0.48,0.48 0 1,0 -0.95,0M239.4,713.5a0.47,0.47 0 1,0 0.95,0a0.47,0.47 0 1,0 -0.95,0M269.7,762.9a0.57,0.57 0 1,0 1.14,0a0.57,0.57 0 1,0 -1.14,0M242.6,751.7a0.59,0.59 0 1,0 1.19,0a0.59,0.59 0 1,0 -1.19,0M284.3,760.7a0.41,0.41 0 1,0 0.83,0a0.41,0.41 0 1,0 -0.83,0M277.0,744.2a0.54,0.54 0 1,0 1.08,0a0.54,0.54 0 1,0 -1.08,0M282.5,752.5a0.40,0.40 0 1,0 0.80,0a0.40,0.40 0 1,0 -0.80,0M287.1,738.8a0.59,0.59 0 1,0 1.18,0a0.59,0.59 0 1,0 -1.18,0M258.2,740.2a0.56,0.56 0 1,0 1.12,0a0.56,0.56 0 1,0 -1.12,0M285.2,745.0a0.34,0.34 0 1,0 0.69,0a0.34,0.34 0 1,0 -0.69,0M247.9,721.6a0.50,0.50 0 1,0 0.99,0a0.50,0.50 0 1,0 -0.99,0M240.5,742.6a0.34,0.34 0 1,0 0.67,0a0.34,0.34 0 1,0 -0.67,0M250.2,719.1a0.46,0.46 0 1,0 0.93,0a0.46,0.46 0 1,0 -0.93,0M282.6,760.3a0.37,0.37 0 1,0 0.74,0a0.37,0.37 0 1,0 -0.74,0M243.6,754.8a0.48,0.48 0 1,0 0.95,0a0.48,0.48 0 1,0 -0.95,0M295.0,746.1a0.34,0.34 0 1,0 0.68,0a0.34,0.34 0 1,0 -0.68,0M260.6,715.5a0.44,0.44 0 1,0 0.87,0a0.44,0.44 0 1,0 -0.87,0M255.8,755.1a0.57,0.57 0 1,0 1.14,0a0.57,0.57 0 1,0 -1.14,0M249.8,763.6a0.59,0.59 0 1,0 1.18,0a0.59,0.59 0 1,0 -1.18,0M261.9,755.9a0.58,0.58 0 1,0 1.17,0a0.58,0.58 0 1,0 -1.17,0M283.5,724.4a0.49,0.49 0 1,0 0.98,0a0.49,0.49 0 1,0 -0.98,0M285.5,722.9a0.44,0.44 0 1,0 0.89,0a0.44,0.44 0 1,0 -0.89,0M243.7,711.6a0.54,0.54 0 1,0 1.08,0a0.54,0.54 0 1,0 -1.08,0M257.4,745.3a0.43,0.43 0 1,0 0.86,0a0.43,0.43 0 1,0 -0.86,0M282.2,719.6a0.33,0.33 0 1,0 0.65,0a0.33,0.33 0 1,0 -0.65,0M279.5,717.8a0.36,0.36 0 1,0 0.72,0a0.36,0.36 0 1,0 -0.72,0M266.7,732.6a0.57,0.57 0 1,0 1.13,0a0.57,0.57 0 1,0 -1.13,0M281.2,728.8a0.43,0.43 0 1,0 0.86,0a0.43,0.43 0 1,0 -0.86,0M275.3,710.0a0.39,0.39 0 1,0 0.78,0a0.39,0.39 0 1,0 -0.78,0M275.5,759.9a0.48,0.48 0 1,0 0.96,0a0.48,0.48 0 1,0 -0.96,0M251.2,761.6a0.54,0.54 0 1,0 1.08,0a0.54,0.54 0 1,0 -1.08,0M252.2,724.7a0.31,0.31 0 1,0 0.62,0a0.31,0.31 0 1,0 -0.62,0M285.1,715.4a0.55,0.55 0 1,0 1.10,0a0.55,0.55 0 1,0 -1.10,0M282.5,749.8a0.47,0.47 0 1,0 0.94,0a0.47,0.47 0 1,0 -0.94,0M253.3,704.2a0.48,0.48 0 1,0 0.96,0a0.48,0.48 0 1,0 -0.96,0M239.1,734.0a0.53,0.53 0 1,0 1.06,0a0.53,0.53 0 1,0 -1.06,0M247.0,728.9a0.46,0.46 0 1,0 0.92,0a0.46,0.46 0 1,0 -0.92,0M247.6,714.4a0.48,0.48 0 1,0 0.97,0a0.48,0.48 0 1,0 -0.97,0M249.1,711.4a0.37,0.37 0 1,0 0.73,0a0.37,0.37 0 1,0 -0.73,0M296.1,757.3a0.33,0.33 0 1,0 0.67,0a0.33,0.33 0 1,0 -0.67,0M273.7,727.3a0.31,0.31 0 1,0 0.62,0a0.31,0.31 0 1,0 -0.62,0M254.0,742.1a0.31,0.31 0 1,0 0.61,0a0.31,0.31 0 1,0 -0.61,0M297.3,719.6a0.40,0.40 0 1,0 0.81,0a0.40,0.40 0 1,0 -0.81,0M296.8,710.6a0.34,0.34 0 1,0 0.68,0a0.34,0.34 0 1,0 -0.68,0M267.5,721.3a0.40,0.40 0 1,0 0.79,0a0.40,0.40 0 1,0 -0.79,0M274.2,760.5a0.42,0.42 0 1,0 0.85,0a0.42,0.42 0 1,0 -0.85,0M240.9,725.0a0.56,0.56 0 1,0 1.11,0a0.56,0.56 0 1,0 -1.11,0M265.0,705.8a0.37,0.37 0 1,0 0.75,0a0.37,0.37 0 1,0 -0.75,0M252.4,723.6a0.40,0.40 0 1,0 0.79,0a0.40,0.40 0 1,0 -0.79,0M279.7,746.3a0.31,0.31 0 1,0 0.63,0a0.31,0.31 0 1,0 -0.63,0M247.2,752.6a0.56,0.56 0 1,0 1.13,0a0.56,0.56 0 1,0 -1.13,0M286.8,712.9a0.51,0.51 0 1,0 1.02,0a0.51,0.51 0 1,0 -1.02,0M243.1,743.6a0.37,0.37 0 1,0 0.73,0a0.37,0.37 0 1,0 -0.73,0M290.0,753.9a0.44,0.44 0 1,0 0.88,0a0.44,0.44 0 1,0 -0.88,0M282.9,760.2a0.57,0.57 0 1,0 1.14,0a0.57,0.57 0 1,0 -1.14,0M278.2,739.9a0.41,0.41 0 1,0 0.81,0a0.41,0.41 0 1,0 -0.81,0M280.4,710.7a0.44,0.44 0 1,0 0.87,0a0.44,0.44 0 1,0 -0.87,0M243.5,707.7a0.50,0.50 0 1,0 1.00,0a0.50,0.50 0 1,0 -1.00,0M264.4,714.8a0.58,0.58 0 1,0 1.17,0a0.58,0.58 0 1,0 -1.17,0M256.2,735.2a0.45,0.45 0 1,0 0.89,0a0.45,0.45 0 1,0 -0.89,0M249.6,763.2a0.53,0.53 0 1,0 1.06,0a0.53,0.53 0 1,0 -1.06,0M293.1,720.5a0.57,0.57 0 1,0 1.15,0a0.57,0.57 0 1,0 -1.15,0M294.4,760.0a0.35,0.35 0 1,0 0.71,0a0.35,0.35 0 1,0 -0.71,0M248.1,707.1a0.33,0.33 0 1,0 0.65,0a0.33,0.33 0 1,0 -0.65,0M281.5,705.1a0.44,0.44 0 1,0 0.88,0a0.44,0.44 0 1,0 -0.88,0M260.3,746.9a0.31,0.31 0 1,0 0.63,0a0.31,0.31 0 1,0 -0.63,0M282.7,761.0a0.39,0.39 0 1,0 0.78,0a0.39,0.39 0 1,0 -0.78,0M263.2,747.6a0.39,0.39 0 1,0 0.78,0a0.39,0.39 0 1,0 -0.78,0M290.5,763.4a0.37,0.37 0 1,0 0.73,0a0.37,0.37 0 1,0 -0.73,0M267.3,711.0a0.47,0.47 0 1,0 0.93,0a0.47,0.47 0 1,0 -0.93,0M262.5,761.9a0.52,0.52 0 1,0 1.04,0a0.52,0.52 0 1,0 -1.04,0M299.3,751.9a0.55,0.55 0 1,0 1.09,0a0.55,0.55 0 1,0 -1.09,0M262.0,743.0a0.33,0.33 0 1,0 0.67,0a0.33,0.33 0 1,0 -0.67,0" fill="#4a4a4a"/>
<path d="M259.6,758.7a0.59,0.59 0 1,0 1.19,0a0.59,0.59 0 1,0 -1.19,0M249.0,732.5a0.42,0.42 0 1,0 0.84,0a0.42,0.42 0 1,0 -0.84,0M276.6,738.6a0.38,0.38 0 1,0 0.76,0a0.38,0.38 0 1,0 -0.76,0M292.4,729.7a0.53,0.53 0 1,0 1.07,0a0.53,0.53 0 1,0 -1.07,0M282.8,762.4a0.45,0.45 0 1,0 0.91,0a0.45,0.45 0 1,0 -0.91,0M274.6,749.6a0.37,0.37 0 1,0 0.74,0a0.37,0.37 0 1,0 -0.74,0M241.1,752.1a0.51,0.51 0 1,0 1.02,0a0.51,0.51 0 1,0 -1.02,0M284.6,751.3a0.36,0.36 0 1,0 0.72,0a0.36,0.36 0 1,0 -0.72,0M292.2,741.4a0.58,0.58 0 1,0 1.17,0a0.58,0.58 0 1,0 -1.17,0M272.7,755.3a0.32,0.32 0 1,0 0.63,0a0.32,0.32 0 1,0 -0.63,0M248.5,736.1a0.50,0.50 0 1,0 1.00,0a0.50,0.50 0 1,0 -1.00,0M262.0,706.4a0.57,0.57 0 1,0 1.13,0a0.57,0.57 0 1,0 -1.13,0M242.8,756.8a0.37,0.37 0 1,0 0.74,0a0.37,0.37 0 1,0 -0.74,0M281.8,738.5a0.37,0.37 0 1,0 0.74,0a0.37,0.37 0 1,0 -0.74,0M258.5,716.9a0.46,0.46 0 1,0 0.92,0a0.46,0.46 0 1,0 -0.92,0M255.5,735.5a0.38,0.38 0 1,0 0.77,0a0.38,0.38 0 1,0 -0.77,0M245.8,744.9a0.38,0.38 0 1,0 0.76,0a0.38,0.38 0 1,0 -0.76,0M296.8,727.0a0.38,0.38 0 1,0 0.76,0a0.38,0.38 0 1,0 -0.76,0M282.6,757.5a0.41,0.41 0 1,0 0.82,0a0.41,0.41 0 1,0 -0.82,0M283.3,722.4a0.60,0.60 0 1,0 1.20,0a0.60,0.60 0 1,0 -1.20,0M257.0,704.3a0.30,0.30 0 1,0 0.60,0a0.30,0.30 0 1,0 -0.60,0M271.8,740.5a0.39,0.39 0 1,0 0.77,0a0.39,0.39 0 1,0 -0.77,0M263.9,727.2a0.41,0.41 0 1,0 0.82,0a0.41,0.41 0 1,0 -0.82,0M249.9,735.5a0.50,0.50 0 1,0 1.00,0a0.50,0.50 0 1,0 -1.00,0M240.1,756.3a0.38,0.38 0 1,0 0.76,0a0.38,0.38 0 1,0 -0.76,0M267.5,715.4a0.50,0.50 0 1,0 1.00,0a0.50,0.50 0 1,0 -1.00,0M263.3,737.8a0.42,0.42 0 1,0 0.84,0a0.42,0.42 0 1,0 -0.84,0M269.5,707.3a0.59,0.59 0 1,0 1.19,0a0.59,0.59 0 1,0 -1.19,0M264.4,722.4a0.55,0.55 0 1,0 1.11,0a0.55,0.55 0 1,0 -1.11,0M256.5,750.7a0.43,0.43 0 1,0 0.85,0a0.43,0.43 0 1,0 -0.85,0M245.6,737.4a0.38,0.38 0 1,0 0.77,0a0.38,0.38 0 1,0 -0.77,0M250.6,763.0a0.58,0.58 0 1,0 1.16,0a0.58,0.58 0 1,0 -1.16,0M267.3,751.7a0.50,0.50 0 1,0 1.00,0a0.50,0.50 0 1,0 -1.00,0M256.9,710.0a0.47,0.47 0 1,0 0.95,0a0.47,0.47 0 1,0 -0.95,0M250.1,748.5a0.48,0.48 0 1,0 0.96,0a0.48,0.48 0 1,0 -0.96,0M251.7,749.8a0.59,0.59 0 1,0 1.18,0a0.59,0.59 0 1,0 -1.18,0M267.9,761.7a0.43,0.43 0 1,0 0.87,0a0.43,0.43 0 1,0 -0.87,0M239.5,730.5a0.41,0.41 0 1,0 0.81,0a0.41,0.41 0 1,0 -0.81,0M294.6,734.2a0.59,0.59 0 1,0 1.18,0a0.59,0.59 0 1,0 -1.18,0M248.5,725.6a0.30,0.30 0 1,0 0.61,0a0.30,0.30 0 1,0 -0.61,0M241.7,745.8a0.31,0.31 0 1,0 0.62,0a0.31,0.31 0 1,0 -0.62,0M251.9,728.8a0.58,0.58 0 1,0 1.15,0a0.58,0.58 0 1,0 -1.15,0M252.8,702.3a0.51,0.51 0 1,0 1.02,0a0.51,0.51 0 1,0 -1.02,0M281.1,710.5a0.58,0.58 0 1,0 1.16,0a0.58,0.58 0 1,0 -1.16,0M291.5,759.7a0.55,0.55 0 1,0 1.09,0a0.55,0.55 0 1,0 -1.09,0M272.1,745.2a0.34,0.34 0 1,0 0.67,0a0.34,0.34 0 1,0 -0.67,0M278.0,723.8a0.40,0.40 0 1,0 0.80,0a0.40,0.40 0 1,0 -0.80,0M257.5,707.0a0.54,0.54 0 1,0 1.09,0a0.54,0.54 0 1,0 -1.09,0M285.4,702.6a0.45,0.45 0 1,0 0.91,0a0.45,0.45 0 1,0 -0.91,0M239.9,735.6a0.35,0.35 0 1,0 0.70,0a0.35,0.35 0 1,0 -0.70,0M297.4,721.6a0.46,0.46 0 1,0 0.91,0a0.46,0.46 0 1,0 -0.91,0M254.6,757.7a0.30,0.30 0 1,0 0.60,0a0.30,0.30 0 1,0 -0.60,0M256.9,715.9a0.52,0.52 0 1,0 1.05,0a0.52,0.52 0 1,0 -1.05,0M261.3,755.1a0.40,0.40 0 1,0 0.80,0a0.40,0.40 0 1,0 -0.80,0M246.2,730.0a0.33,0.33 0 1,0 0.65,0a0.33,0.33 0 1,0 -0.65,0M247.7,734.2a0.47,0.47 0 1,0 0.94,0a0.47,0.47 0 1,0 -0.94,0M251.5,713.1a0.46,0.46 0 1,0 0.91,0a0.46,0.46 0 1,0 -0.91,0M265.7,731.7a0.50,0.50 0 1,0 1.00,0a0.50,0.50 0 1,0 -1.00,0M247.1,702.7a0.32,0.32 0 1,0 0.64,0a0.32,0.32 0 1,0 -0.64,0M287.3,745.3a0.35,0.35 0 1,0 0.69,0a0.35,0.35 0 1,0 -0.69,0M258.5,721.0a0.58,0.58 0 1,0 1.15,0a0.58,0.58 0 1,0 -1.15,0M263.8,746.0a0.33,0.33 0 1,0 0.65,0a0.33,0.33 0 1,0 -0.65,0M240.9,715.9a0.49,0.49 0 1,0 0.98,0a0.49,0.49 0 1,0 -0.98,0M265.7,755.7a0.55,0.55 0 1,0 1.09,0a0.55,0.55 0 1,0 -1.09,0M279.1,763.4a0.59,0.59 0 1,0 1.18,0a0.59,0.59 0 1,0 -1.18,0M292.7,707.5a0.42,0.42 0 1,0 0.84,0a0.42,0.42 0 1,0 -0.84,0M247.3,739.7a0.45,0.45 0 1,0 0.90,0a0.45,0.45 0 1,0 -0.90,0M244.0,706.9a0.44,0.44 0 1,0 0.88,0a0.44,0.44 0 1,0 -0.88,0M276.8,727.0a0.44,0.44 0 1,0 0.88,0a0.44,0.44 0 1,0 -0.88,0M277.3,745.0a0.51,0.51 0 1,0 1.02,0a0.51,0.51 0 1,0 -1.02,0M263.8,712.6a0.56,0.56 0 1,0 1.12,0a0.56,0.56 0 1,0 -1.12,0M240.9,714.7a0.36,0.36 0 1,0 0.71,0a0.36,0.36 0 1,0 -0.71,0M275.0,740.3a0.33,0.33 0 1,0 0.66,0a0.33,0.33 0 1,0 -0.66,0M269.9,737.4a0.51,0.51 0 1,0 1.01,0a0.51,0.51 0 1,0 -1.01,0M243.0,746.8a0.38,0.38 0 1,0 0.76,0a0.38,0.38 0 1,0 -0.76,0M261.9,709.7a0.55,0.55 0 1,0 1.11,0a0.55,0.55 0 1,0 -1.11,0M276.4,752.1a0.45,0.45 0 1,0 0.91,0a0.45,0.45 0 1,0 -0.91,0M245.3,726.7a0.32,0.32 0 1,0 0.65,0a0.32,0.32 0 1,0 -0.65,0M244.6,751.7a0.30,0.30 0 1,0 0.60,0a0.30,0.30 0 1,0 -0.60,0M262.2,704.6a0.53,0.53 0 1,0 1.06,0a0.53,0.53 0 1,0 -1.06,0M299.3,704.0a0.41,0.41 0 1,0 0.82,0a0.41,0.41 0 1,0 -0.82,0M298.4,717.5a0.39,0.39 0 1,0 0.79,0a0.39,0.39 0 1,0 -0.79,0M299.1,758.8a0.42,0.42 0 1,0 0.83,0a0.42,0.42 0 1,0 -0.83,0M279.6,750.9a0.41,0.41 0 1,0 0.81,0a0.41,0.41 0 1,0 -0.81,0M238.4,725.0a0.51,0.51 0 1,0 1.02,0a0.51,0.51 0 1,0 -1.02,0M297.7,729.2a0.42,0.42 0 1,0 0.85,0a0.42,0.42 0 1,0 -0.85,0M261.9,739.4a0.31,0.31 0 1,0 0.61,0a0.31,0.31 0 1,0 -0.61,0M294.6,760.8a0.31,0.31 0 1,0 0.62,0a0.31,0.31 0 1,0 -0.62,0M238.8,721.3a0.34,0.34 0 1,0 0.69,0a0.34,0.34 0 1,0 -0.69,0M285.7,755.6a0.46,0.46 0 1,0 0.93,0a0.46,0.46 0 1,0 -0.93,0M296.5,716.0a0.36,0.36 0 1,0 0.72,0a0.36,0.36 0 1,0 -0.72,0M262.0,729.8a0.36,0.36 0 1,0 0.72,0a0.36,0.36 0 1,0 -0.72,0M295.1,748.3a0.39,0.39 0 1,0 0.77,0a0.39,0.39 0 1,0 -0.77,0M252.3,719.5a0.42,0.42 0 1,0 0.84,0a0.42,0.42 0 1,0 -0.84,0M278.5,749.8a0.58,0.58 0 1,0 1.17,0a0.58,0.58 0 1,0 -1.17,0M243.4,714.0a0.41,0.41 0 1,0 0.83,0a0.41,0.41 0 1,0 -0.83,0M296.8,730.2a0.52,0.52 0 1,0 1.03,0a0.52,0.52 0 1,0 -1.03,0M289.4,730.4a0.41,0.41 0 1,0 0.83,0a0.41,0.41 0 1,0 -0.83,0M285.9,741.4a0.60,0.60 0 1,0 1.20,0a0.60,0.60 0 1,0 -1.20,0M255.0,760.7a0.45,0.45 0 1,0 0.89,0a0.45,0.45 0 1,0 -0.89,0M291.8,741.5a0.47,0.47 0 1,0 0.94,0a0.47,0.47 0 1,0 -0.94,0M291.0,707.0a0.38,0.38 0 1,0 0.77,0a0.38,0.38 0 1,0 -0.77,0M268.4,752.5a0.36,0.36 0 1,0 0.71,0a0.36,0.36 0 1,0 -0.71,0M286.4,707.4a0.41,0.41 0 1,0 0.81,0a0.41,0.41 0 1,0 -0.81,0M266.9,746.0a0.46,0.46 0 1,0 0.91,0a0.46,0.46 0 1,0 -0.91,0M290.6,744.7a0.42,0.42 0 1,0 0.83,0a0.42,0.42 0 1,0 -0.83,0M270.3,726.0a0.56,0.56 0 1,0 1.12,0a0.56,0.56 0 1,0 -1.12,0M257.1,713.1a0.37,0.37 0 1,0 0.75,0a0.37,0.37 0 1,0 -0.75,0M253.7,751.9a0.51,0.51 0 1,0 1.01,0a0.51,0.51 0 1,0 -1.01,0M253.3,727.9a0.57,0.57 0 1,0 1.14,0a0.57,0.57 0 1,0 -1.14,0M297.3,715.7a0.58,0.58 0 1,0 1.17,0a0.58,0.58 0 1,0 -1.17,0M242.0,763.5a0.40,0.40 0 1,0 0.79,0a0.40,0.40 0 1,0 -0.79,0M297.0,703.9a0.51,0.51 0 1,0 1.01,0a0.51,0.51 0 1,0 -1.01,0M295.2,752.5a0.47,0.47 0 1,0 0.94,0a0.47,0.47 0 1,0 -0.94,0M247.8,716.6a0.58,0.58 0 1,0 1.17,0a0.58,0.58 0 1,0 -1.17,0M291.7,715.6a0.40,0.40 0 1,0 0.81,0a0.40,0.40 0 1,0 -0.81,0M276.1,720.7a0.36,0.36 0 1,0 0.73,0a0.36,0.36 0 1,0 -0.73,0M291.7,708.9a0.49,0.49 0 1,0 0.98,0a0.49,0.49 0 1,0 -0.98,0M263.2,731.0a0.56,0.56 0 1,0 1.12,0a0.56,0.56 0 1,0 -1.12,0M284.4,749.7a0.30,0.30 0 1,0 0.61,0a0.30,0.30 0 1,0 -0.61,0" fill="#9a9a9a"/>
<path d="M288.3,750.8a0.30,0.30 0 1,0 0.60,0a0.30,0.30 0 1,0 -0.60,0M252.2,747.0a0.47,0.47 0 1,0 0.95,0a0.47,0.47 0 1,0 -0.95,0M271.6,756.8a0.32,0.32 0 1,0 0.64,0a0.32,0.32 0 1,0 -0.64,0M254.3,752.5a0.46,0.46 0 1,0 0.92,0a0.46,0.46 0 1,0 -0.92,0M252.1,737.1a0.39,0.39 0 1,0 0.78,0a0.39,0.39 0 1,0 -0.78,0M283.9,726.5a0.36,0.36 0 1,0 0.73,0a0.36,0.36 0 1,0 -0.73,0M285.3,744.9a0.37,0.37 0 1,0 0.74,0a0.37,0.37 0 1,0 -0.74,0M282.3,718.2a0.40,0.40 0 1,0 0.80,0a0.40,0.40 0 1,0 -0.80,0M250.0,723.2a0.38,0.38 0 1,0 0.77,0a0.38,0.38 0 1,0 -0.77,0M243.9,721.2a0.37,0.37 0 1,0 0.74,0a0.37,0.37 0 1,0 -0.74,0M258.4,733.2a0.48,0.48 0 1,0 0.96,0a0.48,0.48 0 1,0 -0.96,0M290.7,720.2a0.33,0.33 0 1,0 0.65,0a0.33,0.33 0 1,0 -0.65,0M243.8,756.5a0.45,0.45 0 1,0 0.90,0a0.45,0.45 0 1,0 -0.90,0M283.9,757.9a0.38,0.38 0 1,0 0.76,0a0.38,0.38 0 1,0 -0.76,0M249.0,707.6a0.38,0.38 0 1,0 0.76,0a0.38,0.38 0 1,0 -0.76,0M285.7,707.2a0.39,0.39 0 1,0 0.78,0a0.39,0.39 0 1,0 -0.78,0M243.4,715.2a0.41,0.41 0 1,0 0.82,0a0.41,0.41 0 1,0 -0.82,0M278.4,760.1a0.36,0.36 0 1,0 0.73,0a0.36,0.36 0 1,0 -0.73,0M252.8,705.8a0.34,0.34 0 1,0 0.68,0a0.34,0.34 0 1,0 -0.68,0M240.6,702.1a0.32,0.32 0 1,0 0.65,0a0.32,0.32 0 1,0 -0.65,0M271.3,730.1a0.48,0.48 0 1,0 0.96,0a0.48,0.48 0 1,0 -0.96,0M268.3,707.4a0.33,0.33 0 1,0 0.66,0a0.33,0.33 0 1,0 -0.66,0M281.4,762.4a0.45,0.45 0 1,0 0.90,0a0.45,0.45 0 1,0 -0.90,0M252.8,723.3a0.39,0.39 0 1,0 0.77,0a0.39,0.39 0 1,0 -0.77,0M265.1,719.4a0.33,0.33 0 1,0 0.66,0a0.33,0.33 0 1,0 -0.66,0M239.9,756.2a0.50,0.50 0 1,0 0.99,0a0.50,0.50 0 1,0 -0.99,0M298.5,725.4a0.44,0.44 0 1,0 0.87,0a0.44,0.44 0 1,0 -0.87,0M251.2,708.9a0.30,0.30 0 1,0 0.60,0a0.30,0.30 0 1,0 -0.60,0M258.9,751.1a0.41,0.41 0 1,0 0.81,0a0.41,0.41 0 1,0 -0.81,0M252.8,731.7a0.41,0.41 0 1,0 0.82,0a0.41,0.41 0 1,0 -0.82,0" fill="#d8d8d8"/>
</g>
<clipPath id="c18"><rect x="305.80" y="702.00" width="61.50" height="61.60"/></clipPath><g clip-path="url(#c18)">
<rect x="305.80" y="702.00" width="61.50" height="61.60" fill="#050000" />
<path d="M317.1,729.6a0.76,0.76 0 1,0 1.53,0a0.76,0.76 0 1,0 -1.53,0M332.7,763.0a0.66,0.66 0 1,0 1.32,0a0.66,0.66 0 1,0 -1.32,0M313.1,758.6a0.65,0.65 0 1,0 1.29,0a0.65,0.65 0 1,0 -1.29,0M332.4,713.6a0.63,0.63 0 1,0 1.26,0a0.63,0.63 0 1,0 -1.26,0M317.1,730.4a0.38,0.38 0 1,0 0.75,0a0.38,0.38 0 1,0 -0.75,0M330.6,761.6a0.60,0.60 0 1,0 1.20,0a0.60,0.60 0 1,0 -1.20,0M336.7,740.1a0.63,0.63 0 1,0 1.25,0a0.63,0.63 0 1,0 -1.25,0M342.4,719.6a0.41,0.41 0 1,0 0.81,0a0.41,0.41 0 1,0 -0.81,0M342.4,759.2a0.74,0.74 0 1,0 1.47,0a0.74,0.74 0 1,0 -1.47,0M335.2,720.2a0.59,0.59 0 1,0 1.19,0a0.59,0.59 0 1,0 -1.19,0M308.0,732.6a0.69,0.69 0 1,0 1.38,0a0.69,0.69 0 1,0 -1.38,0M364.9,707.6a0.40,0.40 0 1,0 0.80,0a0.40,0.40 0 1,0 -0.80,0M334.5,739.5a0.78,0.78 0 1,0 1.56,0a0.78,0.78 0 1,0 -1.56,0M311.9,709.9a0.54,0.54 0 1,0 1.08,0a0.54,0.54 0 1,0 -1.08,0M354.1,703.8a0.49,0.49 0 1,0 0.98,0a0.49,0.49 0 1,0 -0.98,0M349.1,727.9a0.39,0.39 0 1,0 0.78,0a0.39,0.39 0 1,0 -0.78,0M309.6,748.9a0.56,0.56 0 1,0 1.11,0a0.56,0.56 0 1,0 -1.11,0M338.2,744.1a0.68,0.68 0 1,0 1.36,0a0.68,0.68 0 1,0 -1.36,0M329.8,724.5a0.76,0.76 0 1,0 1.52,0a0.76,0.76 0 1,0 -1.52,0M309.9,749.8a0.53,0.53 0 1,0 1.06,0a0.53,0.53 0 1,0 -1.06,0M337.8,717.4a0.77,0.77 0 1,0 1.54,0a0.77,0.77 0 1,0 -1.54,0M324.2,721.7a0.33,0.33 0 1,0 0.66,0a0.33,0.33 0 1,0 -0.66,0M360.3,753.1a0.33,0.33 0 1,0 0.65,0a0.33,0.33 0 1,0 -0.65,0M314.6,719.8a0.31,0.31 0 1,0 0.63,0a0.31,0.31 0 1,0 -0.63,0M335.7,754.3a0.66,0.66 0 1,0 1.32,0a0.66,0.66 0 1,0 -1.32,0M336.3,762.3a0.45,0.45 0 1,0 0.90,0a0.45,0.45 0 1,0 -0.90,0M324.7,718.4a0.60,0.60 0 1,0 1.20,0a0.60,0.60 0 1,0 -1.20,0M333.9,709.7a0.55,0.55 0 1,0 1.09,0a0.55,0.55 0 1,0 -1.09,0M364.6,756.0a0.61,0.61 0 1,0 1.22,0a0.61,0.61 0 1,0 -1.22,0M358.3,732.0a0.55,0.55 0 1,0 1.10,0a0.55,0.55 0 1,0 -1.10,0M348.0,714.4a0.60,0.60 0 1,0 1.19,0a0.60,0.60 0 1,0 -1.19,0M336.1,720.4a0.55,0.55 0 1,0 1.10,0a0.55,0.55 0 1,0 -1.10,0M316.4,741.6a0.36,0.36 0 1,0 0.71,0a0.36,0.36 0 1,0 -0.71,0M332.7,705.4a0.57,0.57 0 1,0 1.14,0a0.57,0.57 0 1,0 -1.14,0M311.5,752.8a0.31,0.31 0 1,0 0.62,0a0.31,0.31 0 1,0 -0.62,0M354.6,720.4a0.78,0.78 0 1,0 1.55,0a0.78,0.78 0 1,0 -1.55,0M325.4,710.9a0.63,0.63 0 1,0 1.27,0a0.63,0.63 0 1,0 -1.27,0M320.2,752.1a0.54,0.54 0 1,0 1.08,0a0.54,0.54 0 1,0 -1.08,0M321.8,738.4a0.41,0.41 0 1,0 0.82,0a0.41,0.41 0 1,0 -0.82,0M321.7,707.1a0.42,0.42 0 1,0 0.84,0a0.42,0.42 0 1,0 -0.84,0M318.7,711.8a0.51,0.51 0 1,0 1.02,0a0.51,0.51 0 1,0 -1.02,0M332.9,738.6a0.58,0.58 0 1,0 1.15,0a0.58,0.58 0 1,0 -1.15,0M347.2,739.8a0.54,0.54 0 1,0 1.07,0a0.54,0.54 0 1,0 -1.07,0M357.9,710.7a0.44,0.44 0 1,0 0.87,0a0.44,0.44 0 1,0 -0.87,0M305.8,758.0a0.74,0.74 0 1,0 1.48,0a0.74,0.74 0 1,0 -1.48,0M330.3,753.9a0.58,0.58 0 1,0 1.16,0a0.58,0.58 0 1,0 -1.16,0M362.6,757.5a0.47,0.47 0 1,0 0.93,0a0.47,0.47 0 1,0 -0.93,0M322.2,727.6a0.78,0.78 0 1,0 1.56,0a0.78,0.78 0 1,0 -1.56,0M334.3,724.3a0.31,0.31 0 1,0 0.62,0a0.31,0.31 0 1,0 -0.62,0M329.0,759.0a0.51,0.51 0 1,0 1.02,0a0.51,0.51 0 1,0 -1.02,0M353.9,757.2a0.77,0.77 0 1,0 1.54,0a0.77,0.77 0 1,0 -1.54,0M350.4,732.6a0.45,0.45 0 1,0 0.90,0a0.45,0.45 0 1,0 -0.90,0M363.0,751.6a0.67,0.67 0 1,0 1.34,0a0.67,0.67 0 1,0 -1.34,0M308.6,741.9a0.64,0.64 0 1,0 1.29,0a0.64,0.64 0 1,0 -1.29,0M313.6,722.1a0.53,0.53 0 1,0 1.05,0a0.53,0.53 0 1,0 -1.05,0M321.0,708.6a0.38,0.38 0 1,0 0.75,0a0.38,0.38 0 1,0 -0.75,0M333.2,702.8a0.70,0.70 0 1,0 1.39,0a0.70,0.70 0 1,0 -1.39,0M331.0,719.2a0.43,0.43 0 1,0 0.85,0a0.43,0.43 0 1,0 -0.85,0M324.6,738.9a0.66,0.66 0 1,0 1.32,0a0.66,0.66 0 1,0 -1.32,0M331.7,746.0a0.59,0.59 0 1,0 1.17,0a0.59,0.59 0 1,0 -1.17,0M355.0,746.9a0.68,0.68 0 1,0 1.37,0a0.68,0.68 0 1,0 -1.37,0M306.9,723.6a0.36,0.36 0 1,0 0.72,0a0.36,0.36 0 1,0 -0.72,0M356.1,712.1a0.76,0.76 0 1,0 1.52,0a0.76,0.76 0 1,0 -1.52,0M326.2,711.4a0.65,0.65 0 1,0 1.30,0a0.65,0.65 0 1,0 -1.30,0M316.7,724.4a0.52,0.52 0 1,0 1.04,0a0.52,0.52 0 1,0 -1.04,0M344.1,733.9a0.63,0.63 0 1,0 1.26,0a0.63,0.63 0 1,0 -1.26,0M353.9,761.6a0.61,0.61 0 1,0 1.22,0a0.61,0.61 0 1,0 -1.22,0M331.6,732.6a0.47,0.47 0 1,0 0.95,0a0.47,0.47 0 1,0 -0.95,0M356.4,735.7a0.65,0.65 0 1,0 1.30,0a0.65,0.65 0 1,0 -1.30,0M355.4,744.9a0.74,0.74 0 1,0 1.49,0a0.74,0.74 0 1,0 -1.49,0M333.0,744.9a0.74,0.74 0 1,0 1.49,0a0.74,0.74 0 1,0 -1.49,0M335.4,752.6a0.44,0.44 0 1,0 0.88,0a0.44,0.44 0 1,0 -0.88,0M315.0,754.5a0.58,0.58 0 1,0 1.15,0a0.58,0.58 0 1,0 -1.15,0M364.5,738.9a0.43,0.43 0 1,0 0.86,0a0.43,0.43 0 1,0 -0.86,0M312.9,757.3a0.43,0.43 0 1,0 0.85,0a0.43,0.43 0 1,0 -0.85,0M315.3,734.5a0.66,0.66 0 1,0 1.32,0a0.66,0.66 0 1,0 -1.32,0M340.4,704.9a0.69,0.69 0 1,0 1.38,0a0.69,0.69 0 1,0 -1.38,0M346.6,722.0a0.76,0.76 0 1,0 1.52,0a0.76,0.76 0 1,0 -1.52,0M335.9,749.3a0.35,0.35 0 1,0 0.69,0a0.35,0.35 0 1,0 -0.69,0M324.0,748.6a0.64,0.64 0 1,0 1.28,0a0.64,0.64 0 1,0 -1.28,0M348.6,744.7a0.31,0.31 0 1,0 0.63,0a0.31,0.31 0 1,0 -0.63,0M358.0,704.6a0.42,0.42 0 1,0 0.84,0a0.42,0.42 0 1,0 -0.84,0M324.1,732.8a0.35,0.35 0 1,0 0.70,0a0.35,0.35 0 1,0 -0.70,0M331.7,710.6a0.47,0.47 0 1,0 0.94,0a0.47,0.47 0 1,0 -0.94,0M326.3,709.0a0.70,0.70 0 1,0 1.40,0a0.70,0.70 0 1,0 -1.40,0M306.9,714.4a0.75,0.75 0 1,0 1.49,0a0.75,0.75 0 1,0 -1.49,0M330.3,760.3a0.45,0.45 0 1,0 0.91,0a0.45,0.45 0 1,0 -0.91,0M337.2,734.5a0.50,0.50 0 1,0 1.00,0a0.50,0.50 0 1,0 -1.00,0M366.0,726.8a0.70,0.70 0 1,0 1.40,0a0.70,0.70 0 1,0 -1.40,0M336.3,723.5a0.72,0.72 0 1,0 1.45,0a0.72,0.72 0 1,0 -1.45,0M362.0,702.9a0.60,0.60 0 1,0 1.20,0a0.60,0.60 0 1,0 -1.20,0M351.7,733.2a0.50,0.50 0 1,0 1.00,0a0.50,0.50 0 1,0 -1.00,0M349.5,711.7a0.54,0.54 0 1,0 1.07,0a0.54,0.54 0 1,0 -1.07,0M317.4,755.2a0.69,0.69 0 1,0 1.39,0a0.69,0.69 0 1,0 -1.39,0M329.6,750.4a0.57,0.57 0 1,0 1.14,0a0.57,0.57 0 1,0 -1.14,0M345.4,716.7a0.69,0.69 0 1,0 1.37,0a0.69,0.69 0 1,0 -1.37,0M345.3,763.4a0.43,0.43 0 1,0 0.86,0a0.43,0.43 0 1,0 -0.86,0M330.1,750.0a0.43,0.43 0 1,0 0.86,0a0.43,0.43 0 1,0 -0.86,0M352.5,754.3a0.38,0.38 0 1,0 0.77,0a0.38,0.38 0 1,0 -0.77,0M350.1,719.9a0.44,0.44 0 1,0 0.87,0a0.44,0.44 0 1,0 -0.87,0M326.8,750.0a0.62,0.62 0 1,0 1.24,0a0.62,0.62 0 1,0 -1.24,0M328.7,744.0a0.71,0.71 0 1,0 1.41,0a0.71,0.71 0 1,0 -1.41,0M317.3,755.3a0.56,0.56 0 1,0 1.12,0a0.56,0.56 0 1,0 -1.12,0M344.5,755.0a0.41,0.41 0 1,0 0.81,0a0.41,0.41 0 1,0 -0.81,0M334.3,745.7a0.31,0.31 0 1,0 0.62,0a0.31,0.31 0 1,0 -0.62,0M329.3,735.4a0.52,0.52 0 1,0 1.05,0a0.52,0.52 0 1,0 -1.05,0M336.5,753.6a0.36,0.36 0 1,0 0.71,0a0.36,0.36 0 1,0 -0.71,0M349.7,719.4a0.34,0.34 0 1,0 0.68,0a0.34,0.34 0 1,0 -0.68,0M333.7,710.0a0.53,0.53 0 1,0 1.06,0a0.53,0.53 0 1,0 -1.06,0M315.8,729.4a0.37,0.37 0 1,0 0.74,0a0.37,0.37 0 1,0 -0.74,0M366.5,714.9a0.52,0.52 0 1,0 1.04,0a0.52,0.52 0 1,0 -1.04,0M342.6,743.5a0.36,0.36 0 1,0 0.73,0a0.36,0.36 0 1,0 -0.73,0M357.6,724.9a0.34,0.34 0 1,0 0.68,0a0.34,0.34 0 1,0 -0.68,0M331.8,740.3a0.48,0.48 0 1,0 0.96,0a0.48,0.48 0 1,0 -0.96,0M349.9,721.2a0.71,0.71 0 1,0 1.42,0a0.71,0.71 0 1,0 -1.42,0M362.8,752.3a0.33,0.33 0 1,0 0.66,0a0.33,0.33 0 1,0 -0.66,0M331.1,734.8a0.49,0.49 0 1,0 0.98,0a0.49,0.49 0 1,0 -0.98,0M316.9,738.2a0.36,0.36 0 1,0 0.72,0a0.36,0.36 0 1,0 -0.72,0M315.3,727.8a0.80,0.80 0 1,0 1.60,0a0.80,0.80 0 1,0 -1.60,0M328.7,761.5a0.64,0.64 0 1,0 1.27,0a0.64,0.64 0 1,0 -1.27,0M345.0,758.3a0.59,0.59 0 1,0 1.18,0a0.59,0.59 0 1,0 -1.18,0M350.6,731.1a0.70,0.70 0 1,0 1.40,0a0.70,0.70 0 1,0 -1.40,0M358.8,702.1a0.77,0.77 0 1,0 1.53,0a0.77,0.77 0 1,0 -1.53,0M307.4,741.4a0.34,0.34 0 1,0 0.67,0a0.34,0.34 0 1,0 -0.67,0M351.9,728.7a0.37,0.37 0 1,0 0.74,0a0.37,0.37 0 1,0 -0.74,0M356.9,717.2a0.75,0.75 0 1,0 1.50,0a0.75,0.75 0 1,0 -1.50,0M328.9,736.4a0.52,0.52 0 1,0 1.05,0a0.52,0.52 0 1,0 -1.05,0M352.1,723.8a0.56,0.56 0 1,0 1.11,0a0.56,0.56 0 1,0 -1.11,0M319.6,722.8a0.36,0.36 0 1,0 0.71,0a0.36,0.36 0 1,0 -0.71,0M321.2,719.1a0.64,0.64 0 1,0 1.29,0a0.64,0.64 0 1,0 -1.29,0M314.0,711.5a0.79,0.79 0 1,0 1.57,0a0.79,0.79 0 1,0 -1.57,0M344.5,707.3a0.73,0.73 0 1,0 1.46,0a0.73,0.73 0 1,0 -1.46,0M351.7,739.5a0.78,0.78 0 1,0 1.56,0a0.78,0.78 0 1,0 -1.56,0M338.3,710.6a0.31,0.31 0 1,0 0.61,0a0.31,0.31 0 1,0 -0.61,0M310.8,730.6a0.58,0.58 0 1,0 1.15,0a0.58,0.58 0 1,0 -1.15,0M356.7,706.3a0.34,0.34 0 1,0 0.67,0a0.34,0.34 0 1,0 -0.67,0M310.9,724.4a0.77,0.77 0 1,0 1.54,0a0.77,0.77 0 1,0 -1.54,0M353.2,704.7a0.60,0.60 0 1,0 1.19,0a0.60,0.60 0 1,0 -1.19,0M316.5,715.9a0.46,0.46 0 1,0 0.92,0a0.46,0.46 0 1,0 -0.92,0M320.6,720.2a0.41,0.41 0 1,0 0.82,0a0.41,0.41 0 1,0 -0.82,0M326.4,738.4a0.58,0.58 0 1,0 1.16,0a0.58,0.58 0 1,0 -1.16,0M350.3,719.2a0.31,0.31 0 1,0 0.63,0a0.31,0.31 0 1,0 -0.63,0M340.6,721.3a0.40,0.40 0 1,0 0.81,0a0.40,0.40 0 1,0 -0.81,0M330.4,760.3a0.60,0.60 0 1,0 1.20,0a0.60,0.60 0 1,0 -1.20,0M349.3,704.7a0.57,0.57 0 1,0 1.14,0a0.57,0.57 0 1,0 -1.14,0M348.2,755.3a0.68,0.68 0 1,0 1.36,0a0.68,0.68 0 1,0 -1.36,0M308.6,762.8a0.31,0.31 0 1,0 0.62,0a0.31,0.31 0 1,0 -0.62,0M352.4,731.0a0.76,0.76 0 1,0 1.53,0a0.76,0.76 0 1,0 -1.53,0M363.7,748.0a0.34,0.34 0 1,0 0.68,0a0.34,0.34 0 1,0 -0.68,0M345.1,709.3a0.51,0.51 0 1,0 1.02,0a0.51,0.51 0 1,0 -1.02,0M313.5,720.6a0.33,0.33 0 1,0 0.65,0a0.33,0.33 0 1,0 -0.65,0M338.6,707.7a0.42,0.42 0 1,0 0.84,0a0.42,0.42 0 1,0 -0.84,0M353.0,720.1a0.59,0.59 0 1,0 1.18,0a0.59,0.59 0 1,0 -1.18,0M358.3,741.2a0.71,0.71 0 1,0 1.42,0a0.71,0.71 0 1,0 -1.42,0M362.7,717.1a0.39,0.39 0 1,0 0.79,0a0.39,0.39 0 1,0 -0.79,0M366.5,758.5a0.46,0.46 0 1,0 0.92,0a0.46,0.46 0 1,0 -0.92,0M362.3,707.3a0.41,0.41 0 1,0 0.83,0a0.41,0.41 0 1,0 -0.83,0M358.2,708.4a0.73,0.73 0 1,0 1.46,0a0.73,0.73 0 1,0 -1.46,0M319.2,749.4a0.36,0.36 0 1,0 0.73,0a0.36,0.36 0 1,0 -0.73,0M336.0,737.4a0.58,0.58 0 1,0 1.16,0a0.58,0.58 0 1,0 -1.16,0M358.2,704.2a0.65,0.65 0 1,0 1.31,0a0.65,0.65 0 1,0 -1.31,0M357.8,734.1a0.42,0.42 0 1,0 0.84,0a0.42,0.42 0 1,0 -0.84,0M354.4,728.5a0.43,0.43 0 1,0 0.86,0a0.43,0.43 0 1,0 -0.86,0M352.6,749.1a0.71,0.71 0 1,0 1.42,0a0.71,0.71 0 1,0 -1.42,0M335.9,702.9a0.31,0.31 0 1,0 0.62,0a0.31,0.31 0 1,0 -0.62,0M339.1,704.3a0.61,0.61 0 1,0 1.22,0a0.61,0.61 0 1,0 -1.22,0M313.7,749.8a0.31,0.31 0 1,0 0.62,0a0.31,0.31 0 1,0 -0.62,0M347.4,715.7a0.80,0.80 0 1,0 1.60,0a0.80,0.80 0 1,0 -1.60,0M334.3,733.8a0.72,0.72 0 1,0 1.45,0a0.72,0.72 0 1,0 -1.45,0M322.8,761.8a0.45,0.45 0 1,0 0.89,0a0.45,0.45 0 1,0 -0.89,0M307.6,719.2a0.48,0.48 0 1,0 0.97,0a0.48,0.48 0 1,0 -0.97,0M341.8,706.1a0.75,0.75 0 1,0 1.50,0a0.75,0.75 0 1,0 -1.50,0M352.8,747.9a0.79,0.79 0 1,0 1.59,0a0.79,0.79 0 1,0 -1.59,0M308.3,744.3a0.73,0.73 0 1,0 1.46,0a0.73,0.73 0 1,0 -1.46,0M316.4,727.4a0.40,0.40 0 1,0 0.80,0a0.40,0.40 0 1,0 -0.80,0M362.0,731.0a0.72,0.72 0 1,0 1.43,0a0.72,0.72 0 1,0 -1.43,0M320.6,739.1a0.67,0.67 0 1,0 1.35,0a0.67,0.67 0 1,0 -1.35,0M326.5,718.5a0.34,0.34 0 1,0 0.68,0a0.34,0.34 0 1,0 -0.68,0M344.0,727.3a0.40,0.40 0 1,0 0.80,0a0.40,0.40 0 1,0 -0.80,0M325.1,721.7a0.36,0.36 0 1,0 0.72,0a0.36,0.36 0 1,0 -0.72,0M341.9,711.5a0.41,0.41 0 1,0 0.82,0a0.41,0.41 0 1,0 -0.82,0M327.3,762.9a0.65,0.65 0 1,0 1.31,0a0.65,0.65 0 1,0 -1.31,0M318.1,754.0a0.77,0.77 0 1,0 1.54,0a0.77,0.77 0 1,0 -1.54,0M325.5,751.1a0.61,0.61 0 1,0 1.23,0a0.61,0.61 0 1,0 -1.23,0M339.2,757.7a0.64,0.64 0 1,0 1.27,0a0.64,0.64 0 1,0 -1.27,0M345.1,759.7a0.53,0.53 0 1,0 1.06,0a0.53,0.53 0 1,0 -1.06,0M311.6,702.5a0.66,0.66 0 1,0 1.32,0a0.66,0.66 0 1,0 -1.32,0M333.9,756.0a0.79,0.79 0 1,0 1.57,0a0.79,0.79 0 1,0 -1.57,0M320.9,714.3a0.59,0.59 0 1,0 1.17,0a0.59,0.59 0 1,0 -1.17,0M306.8,708.2a0.34,0.34 0 1,0 0.67,0a0.34,0.34 0 1,0 -0.67,0M323.7,729.2a0.40,0.40 0 1,0 0.80,0a0.40,0.40 0 1,0 -0.80,0M347.4,748.7a0.72,0.72 0 1,0 1.43,0a0.72,0.72 0 1,0 -1.43,0M338.7,748.5a0.70,0.70 0 1,0 1.40,0a0.70,0.70 0 1,0 -1.40,0M350.0,721.6a0.59,0.59 0 1,0 1.18,0a0.59,0.59 0 1,0 -1.18,0M356.1,717.2a0.48,0.48 0 1,0 0.96,0a0.48,0.48 0 1,0 -0.96,0M306.1,739.0a0.36,0.36 0 1,0 0.71,0a0.36,0.36 0 1,0 -0.71,0M332.8,713.5a0.36,0.36 0 1,0 0.72,0a0.36,0.36 0 1,0 -0.72,0M359.6,722.3a0.78,0.78 0 1,0 1.56,0a0.78,0.78 0 1,0 -1.56,0M350.6,738.2a0.54,0.54 0 1,0 1.08,0a0.54,0.54 0 1,0 -1.08,0M345.3,751.9a0.40,0.40 0 1,0 0.79,0a0.40,0.40 0 1,0 -0.79,0M338.6,718.6a0.39,0.39 0 1,0 0.79,0a0.39,0.39 0 1,0 -0.79,0M318.5,750.6a0.77,0.77 0 1,0 1.53,0a0.77,0.77 0 1,0 -1.53,0M332.0,712.8a0.39,0.39 0 1,0 0.78,0a0.39,0.39 0 1,0 -0.78,0M323.9,724.9a0.74,0.74 0 1,0 1.48,0a0.74,0.74 0 1,0 -1.48,0M337.5,732.2a0.61,0.61 0 1,0 1.23,0a0.61,0.61 0 1,0 -1.23,0M316.2,724.8a0.52,0.52 0 1,0 1.04,0a0.52,0.52 0 1,0 -1.04,0M309.2,720.8a0.59,0.59 0 1,0 1.17,0a0.59,0.59 0 1,0 -1.17,0M342.5,718.4a0.34,0.34 0 1,0 0.67,0a0.34,0.34 0 1,0 -0.67,0M340.6,711.5a0.30,0.30 0 1,0 0.60,0a0.30,0.30 0 1,0 -0.60,0M364.3,747.1a0.77,0.77 0 1,0 1.54,0a0.77,0.77 0 1,0 -1.54,0M324.7,749.5a0.73,0.73 0 1,0 1.45,0a0.73,0.73 0 1,0 -1.45,0M344.0,704.1a0.44,0.44 0 1,0 0.87,0a0.44,0.44 0 1,0 -0.87,0M328.2,729.0a0.59,0.59 0 1,0 1.17,0a0.59,0.59 0 1,0 -1.17,0M316.9,715.7a0.31,0.31 0 1,0 0.62,0a0.31,0.31 0 1,0 -0.62,0M330.1,709.2a0.42,0.42 0 1,0 0.83,0a0.42,0.42 0 1,0 -0.83,0M306.5,753.9a0.41,0.41 0 1,0 0.83,0a0.41,0.41 0 1,0 -0.83,0M336.7,737.6a0.32,0.32 0 1,0 0.64,0a0.32,0.32 0 1,0 -0.64,0M339.0,751.4a0.42,0.42 0 1,0 0.84,0a0.42,0.42 0 1,0 -0.84,0M344.0,746.6a0.58,0.58 0 1,0 1.16,0a0.58,0.58 0 1,0 -1.16,0M327.1,733.5a0.63,0.63 0 1,0 1.27,0a0.63,0.63 0 1,0 -1.27,0M332.0,747.4a0.67,0.67 0 1,0 1.35,0a0.67,0.67 0 1,0 -1.35,0M351.6,728.7a0.37,0.37 0 1,0 0.75,0a0.37,0.37 0 1,0 -0.75,0M315.9,720.3a0.58,0.58 0 1,0 1.16,0a0.58,0.58 0 1,0 -1.16,0M309.1,721.1a0.37,0.37 0 1,0 0.75,0a0.37,0.37 0 1,0 -0.75,0M338.0,714.4a0.71,0.71 0 1,0 1.42,0a0.71,0.71 0 1,0 -1.42,0M309.0,724.0a0.67,0.67 0 1,0 1.35,0a0.67,0.67 0 1,0 -1.35,0M356.3,726.1a0.77,0.77 0 1,0 1.54,0a0.77,0.77 0 1,0 -1.54,0M359.4,736.7a0.47,0.47 0 1,0 0.93,0a0.47,0.47 0 1,0 -0.93,0M317.3,744.4a0.33,0.33 0 1,0 0.66,0a0.33,0.33 0 1,0 -0.66,0M345.3,716.1a0.39,0.39 0 1,0 0.79,0a0.39,0.39 0 1,0 -0.79,0M343.3,726.1a0.33,0.33 0 1,0 0.66,0a0.33,0.33 0 1,0 -0.66,0M314.4,750.7a0.49,0.49 0 1,0 0.99,0a0.49,0.49 0 1,0 -0.99,0M353.5,740.1a0.30,0.30 0 1,0 0.60,0a0.30,0.30 0 1,0 -0.60,0M326.4,739.0a0.42,0.42 0 1,0 0.84,0a0.42,0.42 0 1,0 -0.84,0M313.5,763.6a0.46,0.46 0 1,0 0.92,0a0.46,0.46 0 1,0 -0.92,0M345.5,729.2a0.79,0.79 0 1,0 1.59,0a0.79,0.79 0 1,0 -1.59,0M319.1,703.9a0.62,0.62 0 1,0 1.25,0a0.62,0.62 0 1,0 -1.25,0M348.1,753.5a0.36,0.36 0 1,0 0.71,0a0.36,0.36 0 1,0 -0.71,0M316.2,731.2a0.44,0.44 0 1,0 0.88,0a0.44,0.44 0 1,0 -0.88,0M313.4,710.7a0.32,0.32 0 1,0 0.64,0a0.32,0.32 0 1,0 -0.64,0M331.8,710.3a0.31,0.31 0 1,0 0.63,0a0.31,0.31 0 1,0 -0.63,0M311.0,745.3a0.62,0.62 0 1,0 1.25,0a0.62,0.62 0 1,0 -1.25,0M326.7,751.6a0.32,0.32 0 1,0 0.64,0a0.32,0.32 0 1,0 -0.64,0M331.2,759.5a0.33,0.33 0 1,0 0.65,0a0.33,0.33 0 1,0 -0.65,0M314.5,731.6a0.48,0.48 0 1,0 0.95,0a0.48,0.48 0 1,0 -0.95,0M309.3,753.7a0.70,0.70 0 1,0 1.39,0a0.70,0.70 0 1,0 -1.39,0M341.3,727.7a0.58,0.58 0 1,0 1.16,0a0.58,0.58 0 1,0 -1.16,0M336.1,737.1a0.46,0.46 0 1,0 0.92,0a0.46,0.46 0 1,0 -0.92,0M355.5,734.0a0.42,0.42 0 1,0 0.84,0a0.42,0.42 0 1,0 -0.84,0M341.2,749.9a0.55,0.55 0 1,0 1.10,0a0.55,0.55 0 1,0 -1.10,0M325.1,735.5a0.65,0.65 0 1,0 1.29,0a0.65,0.65 0 1,0 -1.29,0M316.5,756.6a0.50,0.50 0 1,0 1.01,0a0.50,0.50 0 1,0 -1.01,0M330.9,734.0a0.68,0.68 0 1,0 1.36,0a0.68,0.68 0 1,0 -1.36,0M315.8,713.3a0.54,0.54 0 1,0 1.09,0a0.54,0.54 0 1,0 -1.09,0M306.4,728.8a0.36,0.36 0 1,0 0.73,0a0.36,0.36 0 1,0 -0.73,0M317.3,724.5a0.75,0.75 0 1,0 1.50,0a0.75,0.75 0 1,0 -1.50,0M342.8,719.3a0.62,0.62 0 1,0 1.24,0a0.62,0.62 0 1,0 -1.24,0M336.6,702.1a0.52,0.52 0 1,0 1.04,0a0.52,0.52 0 1,0 -1.04,0M348.2,751.7a0.78,0.78 0 1,0 1.57,0a0.78,0.78 0 1,0 -1.57,0M306.4,733.7a0.49,0.49 0 1,0 0.98,0a0.49,0.49 0 1,0 -0.98,0" fill="#7a160a"/>
<path d="M332.4,752.5a0.76,0.76 0 1,0 1.52,0a0.76,0.76 0 1,0 -1.52,0M338.2,748.8a1.02,1.02 0 1,0 2.04,0a1.02,1.02 0 1,0 -2.04,0M341.1,734.5a0.56,0.56 0 1,0 1.12,0a0.56,0.56 0 1,0 -1.12,0M328.0,713.7a0.96,0.96 0 1,0 1.93,0a0.96,0.96 0 1,0 -1.93,0M346.2,710.4a0.85,0.85 0 1,0 1.70,0a0.85,0.85 0 1,0 -1.70,0M358.8,754.3a0.73,0.73 0 1,0 1.45,0a0.73,0.73 0 1,0 -1.45,0M327.6,734.7a0.75,0.75 0 1,0 1.50,0a0.75,0.75 0 1,0 -1.50,0M364.7,754.5a1.04,1.04 0 1,0 2.07,0a1.04,1.04 0 1,0 -2.07,0M366.2,708.5a1.07,1.07 0 1,0 2.14,0a1.07,1.07 0 1,0 -2.14,0M327.2,718.1a0.86,0.86 0 1,0 1.72,0a0.86,0.86 0 1,0 -1.72,0M329.2,714.9a1.08,1.08 0 1,0 2.17,0a1.08,1.08 0 1,0 -2.17,0M316.3,707.2a0.74,0.74 0 1,0 1.47,0a0.74,0.74 0 1,0 -1.47,0M355.8,751.6a0.77,0.77 0 1,0 1.54,0a0.77,0.77 0 1,0 -1.54,0M329.7,710.6a0.98,0.98 0 1,0 1.96,0a0.98,0.98 0 1,0 -1.96,0M351.5,715.4a0.90,0.90 0 1,0 1.80,0a0.90,0.90 0 1,0 -1.80,0M360.1,724.1a0.64,0.64 0 1,0 1.28,0a0.64,0.64 0 1,0 -1.28,0M350.9,740.4a0.74,0.74 0 1,0 1.47,0a0.74,0.74 0 1,0 -1.47,0M305.1,721.9a0.92,0.92 0 1,0 1.85,0a0.92,0.92 0 1,0 -1.85,0M316.3,731.6a0.96,0.96 0 1,0 1.92,0a0.96,0.96 0 1,0 -1.92,0M326.3,709.7a0.91,0.91 0 1,0 1.81,0a0.91,0.91 0 1,0 -1.81,0M346.9,739.5a1.04,1.04 0 1,0 2.09,0a1.04,1.04 0 1,0 -2.09,0M327.9,733.4a0.77,0.77 0 1,0 1.54,0a0.77,0.77 0 1,0 -1.54,0M357.8,722.3a0.64,0.64 0 1,0 1.29,0a0.64,0.64 0 1,0 -1.29,0M327.5,752.8a0.95,0.95 0 1,0 1.89,0a0.95,0.95 0 1,0 -1.89,0M316.2,752.3a1.09,1.09 0 1,0 2.18,0a1.09,1.09 0 1,0 -2.18,0M325.6,750.6a0.92,0.92 0 1,0 1.83,0a0.92,0.92 0 1,0 -1.83,0M343.2,716.3a0.50,0.50 0 1,0 1.00,0a0.50,0.50 0 1,0 -1.00,0M358.2,722.4a0.99,0.99 0 1,0 1.99,0a0.99,0.99 0 1,0 -1.99,0M357.4,754.8a0.94,0.94 0 1,0 1.88,0a0.94,0.94 0 1,0 -1.88,0M349.4,752.5a1.07,1.07 0 1,0 2.13,0a1.07,1.07 0 1,0 -2.13,0M361.7,756.2a0.69,0.69 0 1,0 1.39,0a0.69,0.69 0 1,0 -1.39,0M361.8,707.6a0.61,0.61 0 1,0 1.22,0a0.61,0.61 0 1,0 -1.22,0M358.0,735.7a1.07,1.07 0 1,0 2.14,0a1.07,1.07 0 1,0 -2.14,0M325.6,706.1a0.59,0.59 0 1,0 1.18,0a0.59,0.59 0 1,0 -1.18,0M359.4,751.8a0.76,0.76 0 1,0 1.51,0a0.76,0.76 0 1,0 -1.51,0M344.9,704.2a1.06,1.06 0 1,0 2.12,0a1.06,1.06 0 1,0 -2.12,0M322.4,714.3a0.79,0.79 0 1,0 1.58,0a0.79,0.79 0 1,0 -1.58,0M334.3,732.0a0.93,0.93 0 1,0 1.86,0a0.93,0.93 0 1,0 -1.86,0M316.4,751.0a0.70,0.70 0 1,0 1.39,0a0.70,0.70 0 1,0 -1.39,0M329.4,757.3a0.94,0.94 0 1,0 1.89,0a0.94,0.94 0 1,0 -1.89,0M349.8,750.9a0.75,0.75 0 1,0 1.51,0a0.75,0.75 0 1,0 -1.51,0M326.1,734.2a1.01,1.01 0 1,0 2.02,0a1.01,1.01 0 1,0 -2.02,0M315.7,745.2a0.78,0.78 0 1,0 1.57,0a0.78,0.78 0 1,0 -1.57,0M362.8,745.7a1.05,1.05 0 1,0 2.11,0a1.05,1.05 0 1,0 -2.11,0M330.6,730.4a0.65,0.65 0 1,0 1.30,0a0.65,0.65 0 1,0 -1.30,0M317.9,721.3a0.63,0.63 0 1,0 1.26,0a0.63,0.63 0 1,0 -1.26,0M343.3,737.0a0.94,0.94 0 1,0 1.88,0a0.94,0.94 0 1,0 -1.88,0M351.2,761.8a0.82,0.82 0 1,0 1.63,0a0.82,0.82 0 1,0 -1.63,0M342.9,734.6a0.79,0.79 0 1,0 1.57,0a0.79,0.79 0 1,0 -1.57,0M326.1,721.1a0.70,0.70 0 1,0 1.40,0a0.70,0.70 0 1,0 -1.40,0M336.3,729.4a0.83,0.83 0 1,0 1.66,0a0.83,0.83 0 1,0 -1.66,0M346.1,762.8a0.85,0.85 0 1,0 1.70,0a0.85,0.85 0 1,0 -1.70,0M365.9,721.5a0.87,0.87 0 1,0 1.73,0a0.87,0.87 0 1,0 -1.73,0M340.8,729.8a0.78,0.78 0 1,0 1.55,0a0.78,0.78 0 1,0 -1.55,0M319.8,762.5a0.54,0.54 0 1,0 1.09,0a0.54,0.54 0 1,0 -1.09,0M354.7,731.5a0.71,0.71 0 1,0 1.42,0a0.71,0.71 0 1,0 -1.42,0M324.0,760.3a0.70,0.70 0 1,0 1.40,0a0.70,0.70 0 1,0 -1.40,0M340.5,727.6a0.90,0.90 0 1,0 1.79,0a0.90,0.90 0 1,0 -1.79,0M339.5,734.8a0.56,0.56 0 1,0 1.13,0a0.56,0.56 0 1,0 -1.13,0M306.9,742.1a0.50,0.50 0 1,0 1.00,0a0.50,0.50 0 1,0 -1.00,0M336.8,719.2a0.94,0.94 0 1,0 1.89,0a0.94,0.94 0 1,0 -1.89,0M325.2,705.0a0.60,0.60 0 1,0 1.19,0a0.60,0.60 0 1,0 -1.19,0M325.2,741.8a0.92,0.92 0 1,0 1.85,0a0.92,0.92 0 1,0 -1.85,0M356.1,760.9a0.83,0.83 0 1,0 1.67,0a0.83,0.83 0 1,0 -1.67,0M307.9,743.0a0.71,0.71 0 1,0 1.43,0a0.71,0.71 0 1,0 -1.43,0M342.3,712.8a0.74,0.74 0 1,0 1.48,0a0.74,0.74 0 1,0 -1.48,0M319.7,743.8a1.07,1.07 0 1,0 2.14,0a1.07,1.07 0 1,0 -2.14,0M327.5,733.0a0.88,0.88 0 1,0 1.76,0a0.88,0.88 0 1,0 -1.76,0M352.1,724.1a0.66,0.66 0 1,0 1.32,0a0.66,0.66 0 1,0 -1.32,0M345.2,721.1a0.80,0.80 0 1,0 1.60,0a0.80,0.80 0 1,0 -1.60,0M343.4,736.2a1.08,1.08 0 1,0 2.17,0a1.08,1.08 0 1,0 -2.17,0M326.5,715.2a0.74,0.74 0 1,0 1.49,0a0.74,0.74 0 1,0 -1.49,0M360.5,754.7a0.54,0.54 0 1,0 1.07,0a0.54,0.54 0 1,0 -1.07,0M315.5,716.5a0.97,0.97 0 1,0 1.94,0a0.97,0.97 0 1,0 -1.94,0M347.4,712.2a0.97,0.97 0 1,0 1.95,0a0.97,0.97 0 1,0 -1.95,0M358.3,752.2a0.71,0.71 0 1,0 1.42,0a0.71,0.71 0 1,0 -1.42,0M355.1,718.0a1.06,1.06 0 1,0 2.12,0a1.06,1.06 0 1,0 -2.12,0M313.8,726.2a0.68,0.68 0 1,0 1.37,0a0.68,0.68 0 1,0 -1.37,0M355.5,749.1a0.82,0.82 0 1,0 1.64,0a0.82,0.82 0 1,0 -1.64,0M338.0,720.0a0.85,0.85 0 1,0 1.70,0a0.85,0.85 0 1,0 -1.70,0M307.6,746.5a1.07,1.07 0 1,0 2.15,0a1.07,1.07 0 1,0 -2.15,0M333.0,730.6a0.85,0.85 0 1,0 1.70,0a0.85,0.85 0 1,0 -1.70,0M328.5,759.2a0.63,0.63 0 1,0 1.26,0a0.63,0.63 0 1,0 -1.26,0M334.8,744.6a0.95,0.95 0 1,0 1.90,0a0.95,0.95 0 1,0 -1.90,0M323.8,709.5a0.91,0.91 0 1,0 1.83,0a0.91,0.91 0 1,0 -1.83,0M313.0,752.8a0.51,0.51 0 1,0 1.02,0a0.51,0.51 0 1,0 -1.02,0M359.2,752.2a0.80,0.80 0 1,0 1.61,0a0.80,0.80 0 1,0 -1.61,0M359.6,750.0a0.90,0.90 0 1,0 1.81,0a0.90,0.90 0 1,0 -1.81,0M321.2,707.5a0.57,0.57 0 1,0 1.14,0a0.57,0.57 0 1,0 -1.14,0M310.8,743.6a0.92,0.92 0 1,0 1.84,0a0.92,0.92 0 1,0 -1.84,0M363.2,725.6a0.72,0.72 0 1,0 1.44,0a0.72,0.72 0 1,0 -1.44,0M357.7,750.8a1.09,1.09 0 1,0 2.18,0a1.09,1.09 0 1,0 -2.18,0M305.6,760.8a0.75,0.75 0 1,0 1.50,0a0.75,0.75 0 1,0 -1.50,0M354.1,714.8a0.82,0.82 0 1,0 1.65,0a0.82,0.82 0 1,0 -1.65,0M351.2,746.4a0.92,0.92 0 1,0 1.83,0a0.92,0.92 0 1,0 -1.83,0M310.7,758.4a0.53,0.53 0 1,0 1.07,0a0.53,0.53 0 1,0 -1.07,0M355.3,736.8a0.87,0.87 0 1,0 1.75,0a0.87,0.87 0 1,0 -1.75,0M318.5,750.6a0.96,0.96 0 1,0 1.91,0a0.96,0.96 0 1,0 -1.91,0M320.4,759.3a0.75,0.75 0 1,0 1.50,0a0.75,0.75 0 1,0 -1.50,0M358.0,716.3a0.72,0.72 0 1,0 1.45,0a0.72,0.72 0 1,0 -1.45,0M318.3,704.1a0.59,0.59 0 1,0 1.17,0a0.59,0.59 0 1,0 -1.17,0M314.4,733.8a0.79,0.79 0 1,0 1.58,0a0.79,0.79 0 1,0 -1.58,0M311.4,758.5a0.88,0.88 0 1,0 1.76,0a0.88,0.88 0 1,0 -1.76,0M336.9,718.9a0.75,0.75 0 1,0 1.50,0a0.75,0.75 0 1,0 -1.50,0M361.0,728.1a0.80,0.80 0 1,0 1.60,0a0.80,0.80 0 1,0 -1.60,0M361.5,726.6a1.01,1.01 0 1,0 2.02,0a1.01,1.01 0 1,0 -2.02,0M309.4,745.6a0.57,0.57 0 1,0 1.15,0a0.57,0.57 0 1,0 -1.15,0M321.6,707.3a1.03,1.03 0 1,0 2.06,0a1.03,1.03 0 1,0 -2.06,0M359.9,750.9a0.80,0.80 0 1,0 1.60,0a0.80,0.80 0 1,0 -1.60,0M311.6,734.0a1.04,1.04 0 1,0 2.08,0a1.04,1.04 0 1,0 -2.08,0" fill="#c41c10"/>
<path d="M349.6,702.1a0.60,0.60 0 1,0 1.19,0a0.60,0.60 0 1,0 -1.19,0M363.8,738.2a0.31,0.31 0 1,0 0.61,0a0.31,0.31 0 1,0 -0.61,0M349.4,740.5a0.30,0.30 0 1,0 0.60,0a0.30,0.30 0 1,0 -0.60,0M332.8,703.1a0.32,0.32 0 1,0 0.64,0a0.32,0.32 0 1,0 -0.64,0M347.1,749.1a0.40,0.40 0 1,0 0.80,0a0.40,0.40 0 1,0 -0.80,0M315.1,718.9a0.37,0.37 0 1,0 0.74,0a0.37,0.37 0 1,0 -0.74,0M339.5,718.8a0.57,0.57 0 1,0 1.15,0a0.57,0.57 0 1,0 -1.15,0M306.3,716.2a0.49,0.49 0 1,0 0.97,0a0.49,0.49 0 1,0 -0.97,0M332.9,707.1a0.42,0.42 0 1,0 0.83,0a0.42,0.42 0 1,0 -0.83,0M322.7,751.2a0.37,0.37 0 1,0 0.74,0a0.37,0.37 0 1,0 -0.74,0M344.7,743.6a0.43,0.43 0 1,0 0.85,0a0.43,0.43 0 1,0 -0.85,0M308.3,735.0a0.33,0.33 0 1,0 0.66,0a0.33,0.33 0 1,0 -0.66,0M320.2,759.0a0.35,0.35 0 1,0 0.71,0a0.35,0.35 0 1,0 -0.71,0M364.4,711.8a0.31,0.31 0 1,0 0.62,0a0.31,0.31 0 1,0 -0.62,0M307.1,753.7a0.57,0.57 0 1,0 1.14,0a0.57,0.57 0 1,0 -1.14,0M322.1,723.3a0.40,0.40 0 1,0 0.80,0a0.40,0.40 0 1,0 -0.80,0M344.3,720.7a0.44,0.44 0 1,0 0.88,0a0.44,0.44 0 1,0 -0.88,0M345.6,718.9a0.34,0.34 0 1,0 0.68,0a0.34,0.34 0 1,0 -0.68,0M345.7,742.1a0.30,0.30 0 1,0 0.60,0a0.30,0.30 0 1,0 -0.60,0M331.9,754.1a0.48,0.48 0 1,0 0.96,0a0.48,0.48 0 1,0 -0.96,0M347.0,762.1a0.36,0.36 0 1,0 0.72,0a0.36,0.36 0 1,0 -0.72,0M329.5,711.1a0.57,0.57 0 1,0 1.14,0a0.57,0.57 0 1,0 -1.14,0M341.4,755.8a0.50,0.50 0 1,0 0.99,0a0.50,0.50 0 1,0 -0.99,0M326.3,745.7a0.38,0.38 0 1,0 0.76,0a0.38,0.38 0 1,0 -0.76,0M336.3,740.6a0.53,0.53 0 1,0 1.07,0a0.53,0.53 0 1,0 -1.07,0M320.4,748.5a0.46,0.46 0 1,0 0.93,0a0.46,0.46 0 1,0 -0.93,0M343.9,707.9a0.46,0.46 0 1,0 0.92,0a0.46,0.46 0 1,0 -0.92,0M311.0,740.8a0.54,0.54 0 1,0 1.08,0a0.54,0.54 0 1,0 -1.08,0M328.9,728.7a0.49,0.49 0 1,0 0.97,0a0.49,0.49 0 1,0 -0.97,0M339.6,762.3a0.55,0.55 0 1,0 1.11,0a0.55,0.55 0 1,0 -1.11,0M347.7,723.5a0.32,0.32 0 1,0 0.63,0a0.32,0.32 0 1,0 -0.63,0M346.9,715.8a0.51,0.51 0 1,0 1.02,0a0.51,0.51 0 1,0 -1.02,0M345.6,755.0a0.32,0.32 0 1,0 0.64,0a0.32,0.32 0 1,0 -0.64,0M335.0,723.0a0.40,0.40 0 1,0 0.81,0a0.40,0.40 0 1,0 -0.81,0M321.2,753.3a0.44,0.44 0 1,0 0.87,0a0.44,0.44 0 1,0 -0.87,0M339.2,709.2a0.47,0.47 0 1,0 0.93,0a0.47,0.47 0 1,0 -0.93,0M344.3,709.6a0.40,0.40 0 1,0 0.80,0a0.40,0.40 0 1,0 -0.80,0M321.9,736.0a0.32,0.32 0 1,0 0.65,0a0.32,0.32 0 1,0 -0.65,0M365.7,726.0a0.58,0.58 0 1,0 1.16,0a0.58,0.58 0 1,0 -1.16,0M307.3,748.2a0.57,0.57 0 1,0 1.14,0a0.57,0.57 0 1,0 -1.14,0M332.4,725.1a0.49,0.49 0 1,0 0.97,0a0.49,0.49 0 1,0 -0.97,0M324.0,717.2a0.57,0.57 0 1,0 1.15,0a0.57,0.57 0 1,0 -1.15,0M344.9,732.7a0.44,0.44 0 1,0 0.88,0a0.44,0.44 0 1,0 -0.88,0M354.3,747.6a0.38,0.38 0 1,0 0.77,0a0.38,0.38 0 1,0 -0.77,0M324.7,727.3a0.32,0.32 0 1,0 0.63,0a0.32,0.32 0 1,0 -0.63,0M331.1,709.1a0.50,0.50 0 1,0 1.00,0a0.50,0.50 0 1,0 -1.00,0M325.9,722.1a0.37,0.37 0 1,0 0.73,0a0.37,0.37 0 1,0 -0.73,0M320.6,716.1a0.57,0.57 0 1,0 1.13,0a0.57,0.57 0 1,0 -1.13,0M333.4,735.7a0.40,0.40 0 1,0 0.79,0a0.40,0.40 0 1,0 -0.79,0M364.1,738.9a0.35,0.35 0 1,0 0.70,0a0.35,0.35 0 1,0 -0.70,0M347.0,702.1a0.60,0.60 0 1,0 1.20,0a0.60,0.60 0 1,0 -1.20,0M350.9,715.2a0.43,0.43 0 1,0 0.86,0a0.43,0.43 0 1,0 -0.86,0M361.2,749.7a0.54,0.54 0 1,0 1.07,0a0.54,0.54 0 1,0 -1.07,0M341.0,714.1a0.50,0.50 0 1,0 0.99,0a0.50,0.50 0 1,0 -0.99,0M341.1,711.3a0.32,0.32 0 1,0 0.63,0a0.32,0.32 0 1,0 -0.63,0M337.7,758.5a0.40,0.40 0 1,0 0.80,0a0.40,0.40 0 1,0 -0.80,0M344.5,708.4a0.56,0.56 0 1,0 1.13,0a0.56,0.56 0 1,0 -1.13,0M359.9,720.5a0.52,0.52 0 1,0 1.03,0a0.52,0.52 0 1,0 -1.03,0M350.7,728.6a0.56,0.56 0 1,0 1.13,0a0.56,0.56 0 1,0 -1.13,0M308.3,719.7a0.34,0.34 0 1,0 0.67,0a0.34,0.34 0 1,0 -0.67,0" fill="#ee2a18"/>
</g>
<clipPath id="c19"><rect x="372.80" y="702.00" width="61.50" height="61.60"/></clipPath><g clip-path="url(#c19)">
<rect x="372.80" y="702.00" width="61.50" height="61.60" fill="#050008" />
<path d="M423.3,747.5a0.37,0.37 0 1,0 0.74,0a0.37,0.37 0 1,0 -0.74,0M412.9,733.5a0.47,0.47 0 1,0 0.94,0a0.47,0.47 0 1,0 -0.94,0M397.9,736.9a0.47,0.47 0 1,0 0.94,0a0.47,0.47 0 1,0 -0.94,0M392.1,724.6a0.35,0.35 0 1,0 0.70,0a0.35,0.35 0 1,0 -0.70,0M411.2,752.5a0.37,0.37 0 1,0 0.74,0a0.37,0.37 0 1,0 -0.74,0M408.7,726.0a0.35,0.35 0 1,0 0.71,0a0.35,0.35 0 1,0 -0.71,0M376.1,704.3a0.52,0.52 0 1,0 1.05,0a0.52,0.52 0 1,0 -1.05,0M380.6,719.4a0.45,0.45 0 1,0 0.91,0a0.45,0.45 0 1,0 -0.91,0M384.5,737.8a0.44,0.44 0 1,0 0.88,0a0.44,0.44 0 1,0 -0.88,0M386.0,743.8a0.49,0.49 0 1,0 0.98,0a0.49,0.49 0 1,0 -0.98,0M430.7,722.7a0.53,0.53 0 1,0 1.07,0a0.53,0.53 0 1,0 -1.07,0M410.8,737.2a0.31,0.31 0 1,0 0.62,0a0.31,0.31 0 1,0 -0.62,0M391.4,728.4a0.31,0.31 0 1,0 0.63,0a0.31,0.31 0 1,0 -0.63,0M378.6,752.8a0.33,0.33 0 1,0 0.67,0a0.33,0.33 0 1,0 -0.67,0M406.8,716.7a0.46,0.46 0 1,0 0.92,0a0.46,0.46 0 1,0 -0.92,0M396.5,718.4a0.44,0.44 0 1,0 0.87,0a0.44,0.44 0 1,0 -0.87,0M389.5,760.2a0.44,0.44 0 1,0 0.88,0a0.44,0.44 0 1,0 -0.88,0M380.3,747.7a0.35,0.35 0 1,0 0.70,0a0.35,0.35 0 1,0 -0.70,0M418.0,749.7a0.58,0.58 0 1,0 1.15,0a0.58,0.58 0 1,0 -1.15,0M404.2,748.0a0.54,0.54 0 1,0 1.07,0a0.54,0.54 0 1,0 -1.07,0M422.4,739.3a0.57,0.57 0 1,0 1.14,0a0.57,0.57 0 1,0 -1.14,0M418.2,725.5a0.41,0.41 0 1,0 0.82,0a0.41,0.41 0 1,0 -0.82,0M424.0,759.1a0.41,0.41 0 1,0 0.83,0a0.41,0.41 0 1,0 -0.83,0M429.1,750.9a0.51,0.51 0 1,0 1.02,0a0.51,0.51 0 1,0 -1.02,0M393.2,719.0a0.39,0.39 0 1,0 0.77,0a0.39,0.39 0 1,0 -0.77,0M414.6,730.5a0.37,0.37 0 1,0 0.73,0a0.37,0.37 0 1,0 -0.73,0M381.4,751.9a0.36,0.36 0 1,0 0.71,0a0.36,0.36 0 1,0 -0.71,0M383.0,734.7a0.32,0.32 0 1,0 0.63,0a0.32,0.32 0 1,0 -0.63,0M397.1,714.5a0.56,0.56 0 1,0 1.12,0a0.56,0.56 0 1,0 -1.12,0M406.4,732.4a0.44,0.44 0 1,0 0.88,0a0.44,0.44 0 1,0 -0.88,0M373.3,754.0a0.58,0.58 0 1,0 1.17,0a0.58,0.58 0 1,0 -1.17,0M372.8,736.8a0.54,0.54 0 1,0 1.07,0a0.54,0.54 0 1,0 -1.07,0M424.3,761.0a0.57,0.57 0 1,0 1.14,0a0.57,0.57 0 1,0 -1.14,0M426.6,711.0a0.60,0.60 0 1,0 1.20,0a0.60,0.60 0 1,0 -1.20,0M432.8,741.7a0.56,0.56 0 1,0 1.13,0a0.56,0.56 0 1,0 -1.13,0M388.5,728.6a0.33,0.33 0 1,0 0.67,0a0.33,0.33 0 1,0 -0.67,0M401.3,763.1a0.51,0.51 0 1,0 1.02,0a0.51,0.51 0 1,0 -1.02,0M400.7,721.4a0.36,0.36 0 1,0 0.73,0a0.36,0.36 0 1,0 -0.73,0M398.8,719.8a0.45,0.45 0 1,0 0.89,0a0.45,0.45 0 1,0 -0.89,0M407.5,727.0a0.48,0.48 0 1,0 0.96,0a0.48,0.48 0 1,0 -0.96,0M397.8,732.7a0.45,0.45 0 1,0 0.89,0a0.45,0.45 0 1,0 -0.89,0M424.2,757.1a0.48,0.48 0 1,0 0.95,0a0.48,0.48 0 1,0 -0.95,0M419.1,720.6a0.35,0.35 0 1,0 0.70,0a0.35,0.35 0 1,0 -0.70,0M391.6,710.6a0.53,0.53 0 1,0 1.06,0a0.53,0.53 0 1,0 -1.06,0M428.8,741.6a0.37,0.37 0 1,0 0.73,0a0.37,0.37 0 1,0 -0.73,0M380.4,749.5a0.47,0.47 0 1,0 0.94,0a0.47,0.47 0 1,0 -0.94,0M381.2,763.2a0.53,0.53 0 1,0 1.05,0a0.53,0.53 0 1,0 -1.05,0M431.5,762.6a0.54,0.54 0 1,0 1.07,0a0.54,0.54 0 1,0 -1.07,0M429.6,760.1a0.35,0.35 0 1,0 0.70,0a0.35,0.35 0 1,0 -0.70,0M393.6,735.1a0.49,0.49 0 1,0 0.98,0a0.49,0.49 0 1,0 -0.98,0M381.6,718.7a0.53,0.53 0 1,0 1.06,0a0.53,0.53 0 1,0 -1.06,0M431.7,731.3a0.58,0.58 0 1,0 1.16,0a0.58,0.58 0 1,0 -1.16,0M426.3,757.5a0.36,0.36 0 1,0 0.71,0a0.36,0.36 0 1,0 -0.71,0M395.9,742.9a0.54,0.54 0 1,0 1.09,0a0.54,0.54 0 1,0 -1.09,0M423.5,709.4a0.50,0.50 0 1,0 1.01,0a0.50,0.50 0 1,0 -1.01,0M374.1,721.1a0.32,0.32 0 1,0 0.63,0a0.32,0.32 0 1,0 -0.63,0M403.7,709.8a0.50,0.50 0 1,0 1.00,0a0.50,0.50 0 1,0 -1.00,0M397.5,751.9a0.40,0.40 0 1,0 0.79,0a0.40,0.40 0 1,0 -0.79,0M433.4,709.3a0.32,0.32 0 1,0 0.65,0a0.32,0.32 0 1,0 -0.65,0M403.0,733.0a0.55,0.55 0 1,0 1.11,0a0.55,0.55 0 1,0 -1.11,0M374.1,713.1a0.37,0.37 0 1,0 0.75,0a0.37,0.37 0 1,0 -0.75,0M399.0,752.6a0.50,0.50 0 1,0 1.00,0a0.50,0.50 0 1,0 -1.00,0M386.8,725.9a0.53,0.53 0 1,0 1.06,0a0.53,0.53 0 1,0 -1.06,0M406.6,708.6a0.41,0.41 0 1,0 0.82,0a0.41,0.41 0 1,0 -0.82,0M373.9,730.1a0.37,0.37 0 1,0 0.74,0a0.37,0.37 0 1,0 -0.74,0M390.8,722.9a0.56,0.56 0 1,0 1.12,0a0.56,0.56 0 1,0 -1.12,0M377.6,707.5a0.34,0.34 0 1,0 0.68,0a0.34,0.34 0 1,0 -0.68,0M398.5,728.8a0.58,0.58 0 1,0 1.16,0a0.58,0.58 0 1,0 -1.16,0M417.2,718.6a0.34,0.34 0 1,0 0.68,0a0.34,0.34 0 1,0 -0.68,0M406.1,753.3a0.37,0.37 0 1,0 0.73,0a0.37,0.37 0 1,0 -0.73,0M419.3,724.4a0.59,0.59 0 1,0 1.17,0a0.59,0.59 0 1,0 -1.17,0M431.0,712.7a0.54,0.54 0 1,0 1.08,0a0.54,0.54 0 1,0 -1.08,0M408.7,725.9a0.46,0.46 0 1,0 0.91,0a0.46,0.46 0 1,0 -0.91,0M428.0,731.7a0.47,0.47 0 1,0 0.94,0a0.47,0.47 0 1,0 -0.94,0M402.7,703.5a0.53,0.53 0 1,0 1.06,0a0.53,0.53 0 1,0 -1.06,0M378.9,757.4a0.30,0.30 0 1,0 0.60,0a0.30,0.30 0 1,0 -0.60,0M407.2,717.7a0.51,0.51 0 1,0 1.01,0a0.51,0.51 0 1,0 -1.01,0M410.7,748.0a0.55,0.55 0 1,0 1.09,0a0.55,0.55 0 1,0 -1.09,0M433.2,709.2a0.37,0.37 0 1,0 0.74,0a0.37,0.37 0 1,0 -0.74,0M402.2,759.2a0.42,0.42 0 1,0 0.84,0a0.42,0.42 0 1,0 -0.84,0M385.2,734.3a0.39,0.39 0 1,0 0.79,0a0.39,0.39 0 1,0 -0.79,0M377.2,751.7a0.44,0.44 0 1,0 0.87,0a0.44,0.44 0 1,0 -0.87,0M424.2,708.4a0.40,0.40 0 1,0 0.80,0a0.40,0.40 0 1,0 -0.80,0M379.6,754.1a0.43,0.43 0 1,0 0.87,0a0.43,0.43 0 1,0 -0.87,0M409.6,705.1a0.43,0.43 0 1,0 0.86,0a0.43,0.43 0 1,0 -0.86,0M396.3,745.4a0.37,0.37 0 1,0 0.74,0a0.37,0.37 0 1,0 -0.74,0M432.9,722.3a0.45,0.45 0 1,0 0.91,0a0.45,0.45 0 1,0 -0.91,0M401.4,723.1a0.32,0.32 0 1,0 0.63,0a0.32,0.32 0 1,0 -0.63,0M374.6,758.3a0.59,0.59 0 1,0 1.19,0a0.59,0.59 0 1,0 -1.19,0M410.2,710.2a0.36,0.36 0 1,0 0.72,0a0.36,0.36 0 1,0 -0.72,0M392.1,704.1a0.40,0.40 0 1,0 0.81,0a0.40,0.40 0 1,0 -0.81,0M389.6,722.1a0.55,0.55 0 1,0 1.10,0a0.55,0.55 0 1,0 -1.10,0M406.8,763.6a0.39,0.39 0 1,0 0.78,0a0.39,0.39 0 1,0 -0.78,0M376.6,749.0a0.52,0.52 0 1,0 1.04,0a0.52,0.52 0 1,0 -1.04,0M422.5,724.9a0.54,0.54 0 1,0 1.09,0a0.54,0.54 0 1,0 -1.09,0M378.4,746.5a0.51,0.51 0 1,0 1.02,0a0.51,0.51 0 1,0 -1.02,0M407.2,739.9a0.44,0.44 0 1,0 0.88,0a0.44,0.44 0 1,0 -0.88,0M398.7,731.3a0.48,0.48 0 1,0 0.96,0a0.48,0.48 0 1,0 -0.96,0M424.4,722.7a0.47,0.47 0 1,0 0.93,0a0.47,0.47 0 1,0 -0.93,0M396.3,712.6a0.51,0.51 0 1,0 1.02,0a0.51,0.51 0 1,0 -1.02,0M372.9,756.1a0.31,0.31 0 1,0 0.63,0a0.31,0.31 0 1,0 -0.63,0M382.8,747.9a0.43,0.43 0 1,0 0.86,0a0.43,0.43 0 1,0 -0.86,0M390.6,732.1a0.58,0.58 0 1,0 1.16,0a0.58,0.58 0 1,0 -1.16,0M411.9,724.2a0.58,0.58 0 1,0 1.17,0a0.58,0.58 0 1,0 -1.17,0M387.3,707.8a0.52,0.52 0 1,0 1.04,0a0.52,0.52 0 1,0 -1.04,0M421.8,751.0a0.42,0.42 0 1,0 0.84,0a0.42,0.42 0 1,0 -0.84,0M414.3,715.0a0.38,0.38 0 1,0 0.76,0a0.38,0.38 0 1,0 -0.76,0M430.2,754.4a0.58,0.58 0 1,0 1.17,0a0.58,0.58 0 1,0 -1.17,0M406.3,745.8a0.41,0.41 0 1,0 0.82,0a0.41,0.41 0 1,0 -0.82,0M396.7,759.1a0.52,0.52 0 1,0 1.05,0a0.52,0.52 0 1,0 -1.05,0M430.2,711.3a0.42,0.42 0 1,0 0.85,0a0.42,0.42 0 1,0 -0.85,0M428.7,759.1a0.55,0.55 0 1,0 1.09,0a0.55,0.55 0 1,0 -1.09,0M426.8,718.3a0.51,0.51 0 1,0 1.03,0a0.51,0.51 0 1,0 -1.03,0M379.0,730.2a0.30,0.30 0 1,0 0.61,0a0.30,0.30 0 1,0 -0.61,0M399.0,714.0a0.42,0.42 0 1,0 0.85,0a0.42,0.42 0 1,0 -0.85,0M413.5,743.6a0.56,0.56 0 1,0 1.13,0a0.56,0.56 0 1,0 -1.13,0M429.8,720.9a0.40,0.40 0 1,0 0.80,0a0.40,0.40 0 1,0 -0.80,0M398.0,717.6a0.55,0.55 0 1,0 1.11,0a0.55,0.55 0 1,0 -1.11,0M421.1,742.9a0.49,0.49 0 1,0 0.99,0a0.49,0.49 0 1,0 -0.99,0M390.3,719.1a0.53,0.53 0 1,0 1.06,0a0.53,0.53 0 1,0 -1.06,0M378.1,763.1a0.34,0.34 0 1,0 0.69,0a0.34,0.34 0 1,0 -0.69,0M385.0,748.8a0.57,0.57 0 1,0 1.15,0a0.57,0.57 0 1,0 -1.15,0M381.9,759.9a0.45,0.45 0 1,0 0.91,0a0.45,0.45 0 1,0 -0.91,0M380.1,735.6a0.37,0.37 0 1,0 0.74,0a0.37,0.37 0 1,0 -0.74,0M412.1,740.7a0.55,0.55 0 1,0 1.10,0a0.55,0.55 0 1,0 -1.10,0M428.9,755.1a0.50,0.50 0 1,0 1.00,0a0.50,0.50 0 1,0 -1.00,0M417.1,755.5a0.55,0.55 0 1,0 1.10,0a0.55,0.55 0 1,0 -1.10,0M402.7,759.9a0.59,0.59 0 1,0 1.18,0a0.59,0.59 0 1,0 -1.18,0M384.4,715.0a0.48,0.48 0 1,0 0.97,0a0.48,0.48 0 1,0 -0.97,0M405.9,728.0a0.45,0.45 0 1,0 0.90,0a0.45,0.45 0 1,0 -0.90,0M385.1,727.7a0.48,0.48 0 1,0 0.96,0a0.48,0.48 0 1,0 -0.96,0M418.8,745.5a0.33,0.33 0 1,0 0.66,0a0.33,0.33 0 1,0 -0.66,0M385.2,731.7a0.53,0.53 0 1,0 1.06,0a0.53,0.53 0 1,0 -1.06,0M389.4,747.5a0.37,0.37 0 1,0 0.74,0a0.37,0.37 0 1,0 -0.74,0M391.1,754.4a0.36,0.36 0 1,0 0.72,0a0.36,0.36 0 1,0 -0.72,0M424.2,735.9a0.31,0.31 0 1,0 0.62,0a0.31,0.31 0 1,0 -0.62,0M401.4,735.3a0.34,0.34 0 1,0 0.67,0a0.34,0.34 0 1,0 -0.67,0M395.3,731.9a0.44,0.44 0 1,0 0.88,0a0.44,0.44 0 1,0 -0.88,0M428.9,725.8a0.57,0.57 0 1,0 1.14,0a0.57,0.57 0 1,0 -1.14,0M390.4,747.9a0.35,0.35 0 1,0 0.69,0a0.35,0.35 0 1,0 -0.69,0M408.2,748.0a0.55,0.55 0 1,0 1.10,0a0.55,0.55 0 1,0 -1.10,0M375.6,747.8a0.35,0.35 0 1,0 0.69,0a0.35,0.35 0 1,0 -0.69,0M431.7,720.8a0.56,0.56 0 1,0 1.11,0a0.56,0.56 0 1,0 -1.11,0M382.5,762.8a0.46,0.46 0 1,0 0.92,0a0.46,0.46 0 1,0 -0.92,0M385.8,758.4a0.54,0.54 0 1,0 1.07,0a0.54,0.54 0 1,0 -1.07,0M416.9,728.4a0.37,0.37 0 1,0 0.74,0a0.37,0.37 0 1,0 -0.74,0M411.4,754.3a0.52,0.52 0 1,0 1.04,0a0.52,0.52 0 1,0 -1.04,0M416.1,705.8a0.44,0.44 0 1,0 0.88,0a0.44,0.44 0 1,0 -0.88,0M390.2,734.9a0.50,0.50 0 1,0 1.00,0a0.50,0.50 0 1,0 -1.00,0M409.3,702.2a0.39,0.39 0 1,0 0.78,0a0.39,0.39 0 1,0 -0.78,0M390.0,728.0a0.39,0.39 0 1,0 0.77,0a0.39,0.39 0 1,0 -0.77,0M384.2,715.7a0.45,0.45 0 1,0 0.89,0a0.45,0.45 0 1,0 -0.89,0M426.5,715.3a0.59,0.59 0 1,0 1.18,0a0.59,0.59 0 1,0 -1.18,0M413.1,757.2a0.57,0.57 0 1,0 1.13,0a0.57,0.57 0 1,0 -1.13,0M418.7,758.4a0.36,0.36 0 1,0 0.72,0a0.36,0.36 0 1,0 -0.72,0M411.3,724.2a0.35,0.35 0 1,0 0.70,0a0.35,0.35 0 1,0 -0.70,0M389.4,741.8a0.34,0.34 0 1,0 0.68,0a0.34,0.34 0 1,0 -0.68,0M378.6,754.1a0.54,0.54 0 1,0 1.09,0a0.54,0.54 0 1,0 -1.09,0M374.4,714.3a0.30,0.30 0 1,0 0.60,0a0.30,0.30 0 1,0 -0.60,0M405.2,762.6a0.35,0.35 0 1,0 0.69,0a0.35,0.35 0 1,0 -0.69,0" fill="#8a2030"/>
<path d="M407.1,729.1a1.21,1.21 0 1,0 2.42,0a1.21,1.21 0 1,0 -2.42,0M408.3,747.1a0.77,0.77 0 1,0 1.55,0a0.77,0.77 0 1,0 -1.55,0M432.2,750.4a0.78,0.78 0 1,0 1.55,0a0.78,0.78 0 1,0 -1.55,0M372.2,752.0a1.24,1.24 0 1,0 2.49,0a1.24,1.24 0 1,0 -2.49,0M395.1,759.2a1.14,1.14 0 1,0 2.29,0a1.14,1.14 0 1,0 -2.29,0M403.3,704.5a1.04,1.04 0 1,0 2.08,0a1.04,1.04 0 1,0 -2.08,0M395.2,728.9a0.94,0.94 0 1,0 1.88,0a0.94,0.94 0 1,0 -1.88,0M424.2,724.8a0.77,0.77 0 1,0 1.54,0a0.77,0.77 0 1,0 -1.54,0M387.2,753.5a1.06,1.06 0 1,0 2.12,0a1.06,1.06 0 1,0 -2.12,0M393.0,756.0a1.39,1.39 0 1,0 2.78,0a1.39,1.39 0 1,0 -2.78,0M397.5,710.6a0.92,0.92 0 1,0 1.85,0a0.92,0.92 0 1,0 -1.85,0M378.5,755.8a1.20,1.20 0 1,0 2.40,0a1.20,1.20 0 1,0 -2.40,0M391.3,742.0a1.29,1.29 0 1,0 2.59,0a1.29,1.29 0 1,0 -2.59,0M433.0,712.7a1.02,1.02 0 1,0 2.04,0a1.02,1.02 0 1,0 -2.04,0M411.5,729.3a1.07,1.07 0 1,0 2.14,0a1.07,1.07 0 1,0 -2.14,0M399.8,727.2a1.10,1.10 0 1,0 2.20,0a1.10,1.10 0 1,0 -2.20,0M396.1,720.2a0.99,0.99 0 1,0 1.98,0a0.99,0.99 0 1,0 -1.98,0M419.8,711.5a1.03,1.03 0 1,0 2.06,0a1.03,1.03 0 1,0 -2.06,0M386.4,759.1a0.71,0.71 0 1,0 1.41,0a0.71,0.71 0 1,0 -1.41,0M393.0,761.4a1.20,1.20 0 1,0 2.40,0a1.20,1.20 0 1,0 -2.40,0M386.2,747.3a1.05,1.05 0 1,0 2.10,0a1.05,1.05 0 1,0 -2.10,0M377.8,708.4a0.73,0.73 0 1,0 1.46,0a0.73,0.73 0 1,0 -1.46,0M389.0,727.2a1.38,1.38 0 1,0 2.76,0a1.38,1.38 0 1,0 -2.76,0M426.3,735.9a1.17,1.17 0 1,0 2.33,0a1.17,1.17 0 1,0 -2.33,0M410.0,752.1a0.96,0.96 0 1,0 1.92,0a0.96,0.96 0 1,0 -1.92,0M411.8,715.4a0.86,0.86 0 1,0 1.72,0a0.86,0.86 0 1,0 -1.72,0M388.3,726.9a0.91,0.91 0 1,0 1.82,0a0.91,0.91 0 1,0 -1.82,0M408.7,704.5a0.92,0.92 0 1,0 1.84,0a0.92,0.92 0 1,0 -1.84,0M408.8,751.0a1.25,1.25 0 1,0 2.50,0a1.25,1.25 0 1,0 -2.50,0M398.6,740.4a0.72,0.72 0 1,0 1.44,0a0.72,0.72 0 1,0 -1.44,0M428.4,743.0a1.25,1.25 0 1,0 2.51,0a1.25,1.25 0 1,0 -2.51,0M378.4,727.5a0.91,0.91 0 1,0 1.82,0a0.91,0.91 0 1,0 -1.82,0M423.8,748.8a0.81,0.81 0 1,0 1.62,0a0.81,0.81 0 1,0 -1.62,0M431.6,714.7a0.79,0.79 0 1,0 1.59,0a0.79,0.79 0 1,0 -1.59,0M405.9,729.0a1.37,1.37 0 1,0 2.74,0a1.37,1.37 0 1,0 -2.74,0M374.4,757.9a1.20,1.20 0 1,0 2.40,0a1.20,1.20 0 1,0 -2.40,0M391.1,711.3a1.19,1.19 0 1,0 2.39,0a1.19,1.19 0 1,0 -2.39,0M374.0,720.0a0.76,0.76 0 1,0 1.52,0a0.76,0.76 0 1,0 -1.52,0M393.0,763.2a1.29,1.29 0 1,0 2.58,0a1.29,1.29 0 1,0 -2.58,0M405.5,741.7a1.14,1.14 0 1,0 2.28,0a1.14,1.14 0 1,0 -2.28,0M419.7,753.2a1.37,1.37 0 1,0 2.75,0a1.37,1.37 0 1,0 -2.75,0M429.6,723.1a1.36,1.36 0 1,0 2.73,0a1.36,1.36 0 1,0 -2.73,0M387.1,709.0a1.16,1.16 0 1,0 2.31,0a1.16,1.16 0 1,0 -2.31,0M374.3,756.0a1.38,1.38 0 1,0 2.77,0a1.38,1.38 0 1,0 -2.77,0M421.1,717.9a1.07,1.07 0 1,0 2.14,0a1.07,1.07 0 1,0 -2.14,0M374.8,729.5a1.28,1.28 0 1,0 2.55,0a1.28,1.28 0 1,0 -2.55,0M383.9,711.7a0.95,0.95 0 1,0 1.90,0a0.95,0.95 0 1,0 -1.90,0M393.5,722.5a0.93,0.93 0 1,0 1.85,0a0.93,0.93 0 1,0 -1.85,0M376.1,741.6a1.04,1.04 0 1,0 2.09,0a1.04,1.04 0 1,0 -2.09,0M409.1,722.0a1.33,1.33 0 1,0 2.66,0a1.33,1.33 0 1,0 -2.66,0M419.4,736.2a0.97,0.97 0 1,0 1.94,0a0.97,0.97 0 1,0 -1.94,0M424.2,728.9a0.99,0.99 0 1,0 1.98,0a0.99,0.99 0 1,0 -1.98,0M406.7,705.5a1.05,1.05 0 1,0 2.09,0a1.05,1.05 0 1,0 -2.09,0M376.7,758.6a1.25,1.25 0 1,0 2.51,0a1.25,1.25 0 1,0 -2.51,0M379.1,715.0a1.17,1.17 0 1,0 2.33,0a1.17,1.17 0 1,0 -2.33,0M405.2,727.0a0.99,0.99 0 1,0 1.97,0a0.99,0.99 0 1,0 -1.97,0M385.9,727.2a0.74,0.74 0 1,0 1.47,0a0.74,0.74 0 1,0 -1.47,0M376.2,716.5a0.72,0.72 0 1,0 1.44,0a0.72,0.72 0 1,0 -1.44,0M386.5,714.2a0.95,0.95 0 1,0 1.90,0a0.95,0.95 0 1,0 -1.90,0M408.0,763.1a1.19,1.19 0 1,0 2.39,0a1.19,1.19 0 1,0 -2.39,0M422.0,736.4a1.23,1.23 0 1,0 2.47,0a1.23,1.23 0 1,0 -2.47,0M410.7,702.5a0.96,0.96 0 1,0 1.91,0a0.96,0.96 0 1,0 -1.91,0M379.9,744.3a0.95,0.95 0 1,0 1.91,0a0.95,0.95 0 1,0 -1.91,0M398.1,711.6a1.38,1.38 0 1,0 2.76,0a1.38,1.38 0 1,0 -2.76,0M388.9,710.6a0.96,0.96 0 1,0 1.92,0a0.96,0.96 0 1,0 -1.92,0M391.1,713.6a1.19,1.19 0 1,0 2.37,0a1.19,1.19 0 1,0 -2.37,0M397.9,702.7a1.36,1.36 0 1,0 2.73,0a1.36,1.36 0 1,0 -2.73,0M378.9,755.4a1.39,1.39 0 1,0 2.78,0a1.39,1.39 0 1,0 -2.78,0M405.7,749.2a0.70,0.70 0 1,0 1.41,0a0.70,0.70 0 1,0 -1.41,0M384.0,750.8a1.19,1.19 0 1,0 2.37,0a1.19,1.19 0 1,0 -2.37,0M379.4,718.5a0.75,0.75 0 1,0 1.51,0a0.75,0.75 0 1,0 -1.51,0M420.5,741.5a0.94,0.94 0 1,0 1.89,0a0.94,0.94 0 1,0 -1.89,0M406.7,732.8a0.88,0.88 0 1,0 1.77,0a0.88,0.88 0 1,0 -1.77,0M404.6,702.5a1.20,1.20 0 1,0 2.41,0a1.20,1.20 0 1,0 -2.41,0M430.7,712.1a1.01,1.01 0 1,0 2.01,0a1.01,1.01 0 1,0 -2.01,0M408.1,744.2a1.24,1.24 0 1,0 2.48,0a1.24,1.24 0 1,0 -2.48,0M392.1,748.3a0.95,0.95 0 1,0 1.90,0a0.95,0.95 0 1,0 -1.90,0M419.6,733.3a1.10,1.10 0 1,0 2.20,0a1.10,1.10 0 1,0 -2.20,0M426.7,712.9a1.05,1.05 0 1,0 2.10,0a1.05,1.05 0 1,0 -2.10,0M392.9,705.8a1.25,1.25 0 1,0 2.49,0a1.25,1.25 0 1,0 -2.49,0M384.1,712.2a0.79,0.79 0 1,0 1.59,0a0.79,0.79 0 1,0 -1.59,0M419.8,745.4a0.93,0.93 0 1,0 1.86,0a0.93,0.93 0 1,0 -1.86,0M401.8,724.0a1.05,1.05 0 1,0 2.09,0a1.05,1.05 0 1,0 -2.09,0M373.8,719.7a1.37,1.37 0 1,0 2.74,0a1.37,1.37 0 1,0 -2.74,0M391.3,745.2a1.13,1.13 0 1,0 2.27,0a1.13,1.13 0 1,0 -2.27,0M400.2,740.2a1.19,1.19 0 1,0 2.37,0a1.19,1.19 0 1,0 -2.37,0M407.3,750.4a0.91,0.91 0 1,0 1.82,0a0.91,0.91 0 1,0 -1.82,0M385.7,730.3a1.25,1.25 0 1,0 2.50,0a1.25,1.25 0 1,0 -2.50,0M402.4,702.3a1.02,1.02 0 1,0 2.05,0a1.02,1.02 0 1,0 -2.05,0M426.7,712.3a1.10,1.10 0 1,0 2.20,0a1.10,1.10 0 1,0 -2.20,0" fill="#3a30ff"/>
<path d="M389.3,735.4a0.98,0.98 0 1,0 1.96,0a0.98,0.98 0 1,0 -1.96,0M392.2,712.6a0.82,0.82 0 1,0 1.65,0a0.82,0.82 0 1,0 -1.65,0M432.5,703.6a0.75,0.75 0 1,0 1.50,0a0.75,0.75 0 1,0 -1.50,0M385.2,731.1a0.99,0.99 0 1,0 1.99,0a0.99,0.99 0 1,0 -1.99,0M406.6,738.2a0.71,0.71 0 1,0 1.42,0a0.71,0.71 0 1,0 -1.42,0M404.8,748.1a0.77,0.77 0 1,0 1.53,0a0.77,0.77 0 1,0 -1.53,0M373.1,761.7a0.85,0.85 0 1,0 1.71,0a0.85,0.85 0 1,0 -1.71,0M431.4,739.6a0.77,0.77 0 1,0 1.54,0a0.77,0.77 0 1,0 -1.54,0M382.8,759.5a0.98,0.98 0 1,0 1.96,0a0.98,0.98 0 1,0 -1.96,0M407.4,703.1a0.75,0.75 0 1,0 1.50,0a0.75,0.75 0 1,0 -1.50,0M397.9,707.7a0.84,0.84 0 1,0 1.67,0a0.84,0.84 0 1,0 -1.67,0M400.9,714.6a0.86,0.86 0 1,0 1.73,0a0.86,0.86 0 1,0 -1.73,0M430.3,755.8a1.01,1.01 0 1,0 2.02,0a1.01,1.01 0 1,0 -2.02,0M390.6,716.3a0.84,0.84 0 1,0 1.68,0a0.84,0.84 0 1,0 -1.68,0M429.6,715.1a0.64,0.64 0 1,0 1.27,0a0.64,0.64 0 1,0 -1.27,0M424.3,702.7a0.86,0.86 0 1,0 1.71,0a0.86,0.86 0 1,0 -1.71,0M432.7,737.3a0.60,0.60 0 1,0 1.21,0a0.60,0.60 0 1,0 -1.21,0M390.5,748.2a0.94,0.94 0 1,0 1.88,0a0.94,0.94 0 1,0 -1.88,0M377.2,730.5a0.84,0.84 0 1,0 1.68,0a0.84,0.84 0 1,0 -1.68,0M382.2,710.0a0.76,0.76 0 1,0 1.51,0a0.76,0.76 0 1,0 -1.51,0M396.6,760.7a0.76,0.76 0 1,0 1.53,0a0.76,0.76 0 1,0 -1.53,0M426.9,703.3a0.83,0.83 0 1,0 1.67,0a0.83,0.83 0 1,0 -1.67,0M381.3,705.7a0.75,0.75 0 1,0 1.49,0a0.75,0.75 0 1,0 -1.49,0M414.8,739.4a0.74,0.74 0 1,0 1.49,0a0.74,0.74 0 1,0 -1.49,0M416.5,745.4a1.03,1.03 0 1,0 2.06,0a1.03,1.03 0 1,0 -2.06,0M414.3,707.5a0.99,0.99 0 1,0 1.98,0a0.99,0.99 0 1,0 -1.98,0M430.6,756.1a0.93,0.93 0 1,0 1.86,0a0.93,0.93 0 1,0 -1.86,0M379.7,755.4a0.85,0.85 0 1,0 1.69,0a0.85,0.85 0 1,0 -1.69,0M416.9,759.0a0.71,0.71 0 1,0 1.41,0a0.71,0.71 0 1,0 -1.41,0M373.2,759.7a1.05,1.05 0 1,0 2.09,0a1.05,1.05 0 1,0 -2.09,0M377.0,730.2a1.03,1.03 0 1,0 2.06,0a1.03,1.03 0 1,0 -2.06,0M409.5,734.1a1.10,1.10 0 1,0 2.20,0a1.10,1.10 0 1,0 -2.20,0M373.9,724.9a0.68,0.68 0 1,0 1.36,0a0.68,0.68 0 1,0 -1.36,0M431.2,738.0a0.73,0.73 0 1,0 1.46,0a0.73,0.73 0 1,0 -1.46,0M425.4,758.3a0.84,0.84 0 1,0 1.68,0a0.84,0.84 0 1,0 -1.68,0M430.3,715.3a0.95,0.95 0 1,0 1.89,0a0.95,0.95 0 1,0 -1.89,0M432.9,716.2a0.95,0.95 0 1,0 1.90,0a0.95,0.95 0 1,0 -1.90,0M423.0,755.3a0.73,0.73 0 1,0 1.47,0a0.73,0.73 0 1,0 -1.47,0M395.6,709.0a0.85,0.85 0 1,0 1.71,0a0.85,0.85 0 1,0 -1.71,0M424.8,720.3a1.04,1.04 0 1,0 2.08,0a1.04,1.04 0 1,0 -2.08,0M388.2,730.9a0.93,0.93 0 1,0 1.86,0a0.93,0.93 0 1,0 -1.86,0M421.9,760.0a0.78,0.78 0 1,0 1.56,0a0.78,0.78 0 1,0 -1.56,0M395.9,748.8a1.00,1.00 0 1,0 2.00,0a1.00,1.00 0 1,0 -2.00,0M420.3,718.5a1.03,1.03 0 1,0 2.06,0a1.03,1.03 0 1,0 -2.06,0M419.0,738.5a0.77,0.77 0 1,0 1.53,0a0.77,0.77 0 1,0 -1.53,0M416.4,706.3a0.97,0.97 0 1,0 1.94,0a0.97,0.97 0 1,0 -1.94,0M397.6,748.9a0.89,0.89 0 1,0 1.79,0a0.89,0.89 0 1,0 -1.79,0M394.0,721.5a0.85,0.85 0 1,0 1.70,0a0.85,0.85 0 1,0 -1.70,0M380.2,718.0a0.92,0.92 0 1,0 1.84,0a0.92,0.92 0 1,0 -1.84,0M383.9,758.6a0.86,0.86 0 1,0 1.73,0a0.86,0.86 0 1,0 -1.73,0M391.8,712.9a0.74,0.74 0 1,0 1.48,0a0.74,0.74 0 1,0 -1.48,0M396.4,710.4a0.75,0.75 0 1,0 1.51,0a0.75,0.75 0 1,0 -1.51,0M431.0,759.7a1.06,1.06 0 1,0 2.11,0a1.06,1.06 0 1,0 -2.11,0M430.1,745.3a1.08,1.08 0 1,0 2.17,0a1.08,1.08 0 1,0 -2.17,0M411.5,727.2a0.68,0.68 0 1,0 1.37,0a0.68,0.68 0 1,0 -1.37,0M411.9,761.4a1.07,1.07 0 1,0 2.14,0a1.07,1.07 0 1,0 -2.14,0M431.7,729.2a0.94,0.94 0 1,0 1.88,0a0.94,0.94 0 1,0 -1.88,0M433.3,746.5a1.03,1.03 0 1,0 2.06,0a1.03,1.03 0 1,0 -2.06,0M425.3,736.2a1.04,1.04 0 1,0 2.07,0a1.04,1.04 0 1,0 -2.07,0M393.7,752.9a0.82,0.82 0 1,0 1.63,0a0.82,0.82 0 1,0 -1.63,0M385.0,753.0a1.00,1.00 0 1,0 1.99,0a1.00,1.00 0 1,0 -1.99,0M411.2,731.0a0.73,0.73 0 1,0 1.46,0a0.73,0.73 0 1,0 -1.46,0M423.7,743.0a0.93,0.93 0 1,0 1.87,0a0.93,0.93 0 1,0 -1.87,0M422.3,703.6a1.00,1.00 0 1,0 1.99,0a1.00,1.00 0 1,0 -1.99,0M424.7,710.6a0.62,0.62 0 1,0 1.25,0a0.62,0.62 0 1,0 -1.25,0M425.1,718.1a0.87,0.87 0 1,0 1.73,0a0.87,0.87 0 1,0 -1.73,0M429.1,713.9a0.85,0.85 0 1,0 1.69,0a0.85,0.85 0 1,0 -1.69,0M375.5,755.8a1.03,1.03 0 1,0 2.06,0a1.03,1.03 0 1,0 -2.06,0M399.0,750.9a0.68,0.68 0 1,0 1.35,0a0.68,0.68 0 1,0 -1.35,0M421.5,751.8a0.96,0.96 0 1,0 1.93,0a0.96,0.96 0 1,0 -1.93,0M373.9,720.4a0.93,0.93 0 1,0 1.86,0a0.93,0.93 0 1,0 -1.86,0M423.1,732.3a0.94,0.94 0 1,0 1.89,0a0.94,0.94 0 1,0 -1.89,0M400.1,737.9a0.74,0.74 0 1,0 1.48,0a0.74,0.74 0 1,0 -1.48,0M384.3,755.6a0.88,0.88 0 1,0 1.75,0a0.88,0.88 0 1,0 -1.75,0M391.8,720.2a0.77,0.77 0 1,0 1.54,0a0.77,0.77 0 1,0 -1.54,0M403.8,711.7a0.83,0.83 0 1,0 1.65,0a0.83,0.83 0 1,0 -1.65,0M393.6,725.8a0.78,0.78 0 1,0 1.57,0a0.78,0.78 0 1,0 -1.57,0M374.8,756.5a0.75,0.75 0 1,0 1.50,0a0.75,0.75 0 1,0 -1.50,0M418.0,760.2a0.79,0.79 0 1,0 1.58,0a0.79,0.79 0 1,0 -1.58,0M393.2,743.7a1.07,1.07 0 1,0 2.14,0a1.07,1.07 0 1,0 -2.14,0" fill="#b040e8"/>
<rect x="413.80" y="760.40" width="19.20" height="2.20" fill="#fff" />
<text x="423.40" y="759.40" font-size="3.3" text-anchor="middle" fill="#fff" >100μm</text>
</g>
<clipPath id="c20"><rect x="439.00" y="702.00" width="90.00" height="61.60"/></clipPath><g clip-path="url(#c20)">
<rect x="439.00" y="702.00" width="90.00" height="61.60" fill="#e9c2ea" />
<ellipse cx="474.0" cy="724.0" rx="11" ry="15" fill="#f4d2ee"/>
<path d="M504.4,736.4a0.46,0.46 0 1,0 0.93,0a0.46,0.46 0 1,0 -0.93,0M498.3,730.6a0.79,0.79 0 1,0 1.58,0a0.79,0.79 0 1,0 -1.58,0M500.0,739.1a0.90,0.90 0 1,0 1.81,0a0.90,0.90 0 1,0 -1.81,0M497.0,732.8a0.46,0.46 0 1,0 0.92,0a0.46,0.46 0 1,0 -0.92,0M498.4,734.3a0.90,0.90 0 1,0 1.79,0a0.90,0.90 0 1,0 -1.79,0M495.2,741.0a0.80,0.80 0 1,0 1.59,0a0.80,0.80 0 1,0 -1.59,0M511.7,719.0a0.71,0.71 0 1,0 1.42,0a0.71,0.71 0 1,0 -1.42,0M494.0,740.2a0.81,0.81 0 1,0 1.61,0a0.81,0.81 0 1,0 -1.61,0M496.1,746.7a0.94,0.94 0 1,0 1.88,0a0.94,0.94 0 1,0 -1.88,0M500.3,723.5a0.86,0.86 0 1,0 1.73,0a0.86,0.86 0 1,0 -1.73,0M499.2,742.8a0.57,0.57 0 1,0 1.13,0a0.57,0.57 0 1,0 -1.13,0M512.4,727.6a0.75,0.75 0 1,0 1.51,0a0.75,0.75 0 1,0 -1.51,0M498.8,735.6a0.44,0.44 0 1,0 0.87,0a0.44,0.44 0 1,0 -0.87,0M499.7,727.6a0.75,0.75 0 1,0 1.51,0a0.75,0.75 0 1,0 -1.51,0M510.9,731.8a0.97,0.97 0 1,0 1.94,0a0.97,0.97 0 1,0 -1.94,0M494.4,739.0a0.64,0.64 0 1,0 1.28,0a0.64,0.64 0 1,0 -1.28,0M495.9,727.0a0.62,0.62 0 1,0 1.25,0a0.62,0.62 0 1,0 -1.25,0M502.8,731.7a0.88,0.88 0 1,0 1.75,0a0.88,0.88 0 1,0 -1.75,0M510.7,729.0a0.86,0.86 0 1,0 1.72,0a0.86,0.86 0 1,0 -1.72,0M505.6,718.0a0.90,0.90 0 1,0 1.79,0a0.90,0.90 0 1,0 -1.79,0M513.3,736.2a0.70,0.70 0 1,0 1.41,0a0.70,0.70 0 1,0 -1.41,0M513.9,746.4a0.75,0.75 0 1,0 1.50,0a0.75,0.75 0 1,0 -1.50,0M491.9,732.5a0.52,0.52 0 1,0 1.04,0a0.52,0.52 0 1,0 -1.04,0M502.6,735.1a0.53,0.53 0 1,0 1.06,0a0.53,0.53 0 1,0 -1.06,0M491.9,731.8a0.81,0.81 0 1,0 1.62,0a0.81,0.81 0 1,0 -1.62,0M503.6,741.5a1.00,1.00 0 1,0 2.00,0a1.00,1.00 0 1,0 -2.00,0M515.6,727.1a0.67,0.67 0 1,0 1.34,0a0.67,0.67 0 1,0 -1.34,0M505.1,723.6a0.96,0.96 0 1,0 1.93,0a0.96,0.96 0 1,0 -1.93,0M510.3,745.9a0.63,0.63 0 1,0 1.26,0a0.63,0.63 0 1,0 -1.26,0M503.6,732.6a0.46,0.46 0 1,0 0.92,0a0.46,0.46 0 1,0 -0.92,0M496.8,736.7a0.96,0.96 0 1,0 1.91,0a0.96,0.96 0 1,0 -1.91,0M491.9,727.1a0.71,0.71 0 1,0 1.41,0a0.71,0.71 0 1,0 -1.41,0M501.1,724.9a0.50,0.50 0 1,0 1.01,0a0.50,0.50 0 1,0 -1.01,0M498.5,718.7a0.57,0.57 0 1,0 1.14,0a0.57,0.57 0 1,0 -1.14,0M491.9,743.4a0.79,0.79 0 1,0 1.57,0a0.79,0.79 0 1,0 -1.57,0M503.1,726.7a0.81,0.81 0 1,0 1.61,0a0.81,0.81 0 1,0 -1.61,0M499.0,742.1a0.91,0.91 0 1,0 1.82,0a0.91,0.91 0 1,0 -1.82,0M496.5,732.5a0.62,0.62 0 1,0 1.24,0a0.62,0.62 0 1,0 -1.24,0M516.1,724.1a0.42,0.42 0 1,0 0.85,0a0.42,0.42 0 1,0 -0.85,0M496.0,745.3a0.77,0.77 0 1,0 1.54,0a0.77,0.77 0 1,0 -1.54,0M509.3,731.7a0.82,0.82 0 1,0 1.65,0a0.82,0.82 0 1,0 -1.65,0M501.4,732.8a0.79,0.79 0 1,0 1.58,0a0.79,0.79 0 1,0 -1.58,0M510.9,745.2a0.78,0.78 0 1,0 1.57,0a0.78,0.78 0 1,0 -1.57,0M511.9,721.8a0.52,0.52 0 1,0 1.04,0a0.52,0.52 0 1,0 -1.04,0M514.0,719.0a0.68,0.68 0 1,0 1.35,0a0.68,0.68 0 1,0 -1.35,0M496.7,733.4a0.58,0.58 0 1,0 1.16,0a0.58,0.58 0 1,0 -1.16,0M513.6,720.1a0.90,0.90 0 1,0 1.79,0a0.90,0.90 0 1,0 -1.79,0M515.0,729.2a0.88,0.88 0 1,0 1.77,0a0.88,0.88 0 1,0 -1.77,0M506.3,723.8a0.71,0.71 0 1,0 1.42,0a0.71,0.71 0 1,0 -1.42,0M493.8,726.3a0.44,0.44 0 1,0 0.89,0a0.44,0.44 0 1,0 -0.89,0M495.0,743.6a0.71,0.71 0 1,0 1.41,0a0.71,0.71 0 1,0 -1.41,0M512.9,730.8a0.58,0.58 0 1,0 1.17,0a0.58,0.58 0 1,0 -1.17,0M502.7,727.8a0.98,0.98 0 1,0 1.97,0a0.98,0.98 0 1,0 -1.97,0M491.4,722.9a0.53,0.53 0 1,0 1.06,0a0.53,0.53 0 1,0 -1.06,0M503.7,728.7a0.47,0.47 0 1,0 0.95,0a0.47,0.47 0 1,0 -0.95,0M506.1,743.5a0.73,0.73 0 1,0 1.46,0a0.73,0.73 0 1,0 -1.46,0M499.2,732.0a0.55,0.55 0 1,0 1.10,0a0.55,0.55 0 1,0 -1.10,0M491.5,726.1a0.63,0.63 0 1,0 1.26,0a0.63,0.63 0 1,0 -1.26,0M510.3,729.3a0.92,0.92 0 1,0 1.85,0a0.92,0.92 0 1,0 -1.85,0M493.6,726.4a0.51,0.51 0 1,0 1.01,0a0.51,0.51 0 1,0 -1.01,0" fill="#f070c4"/>
<path d="M508.8,712.2a1.16,1.16 0 1,0 2.33,0a1.16,1.16 0 1,0 -2.33,0M483.3,747.2a1.13,1.13 0 1,0 2.25,0a1.13,1.13 0 1,0 -2.25,0M463.9,760.4a1.08,1.08 0 1,0 2.17,0a1.08,1.08 0 1,0 -2.17,0M452.6,735.5a1.11,1.11 0 1,0 2.23,0a1.11,1.11 0 1,0 -2.23,0M446.5,704.5a1.10,1.10 0 1,0 2.19,0a1.10,1.10 0 1,0 -2.19,0M502.3,724.2a1.24,1.24 0 1,0 2.49,0a1.24,1.24 0 1,0 -2.49,0M460.9,746.8a1.39,1.39 0 1,0 2.79,0a1.39,1.39 0 1,0 -2.79,0M486.0,758.6a1.01,1.01 0 1,0 2.02,0a1.01,1.01 0 1,0 -2.02,0M472.0,702.6a0.98,0.98 0 1,0 1.95,0a0.98,0.98 0 1,0 -1.95,0M506.7,749.6a1.03,1.03 0 1,0 2.06,0a1.03,1.03 0 1,0 -2.06,0M478.4,739.4a0.65,0.65 0 1,0 1.31,0a0.65,0.65 0 1,0 -1.31,0M485.2,754.2a0.73,0.73 0 1,0 1.45,0a0.73,0.73 0 1,0 -1.45,0M444.8,732.6a1.21,1.21 0 1,0 2.42,0a1.21,1.21 0 1,0 -2.42,0M471.5,727.7a1.54,1.54 0 1,0 3.07,0a1.54,1.54 0 1,0 -3.07,0M527.6,762.4a0.77,0.77 0 1,0 1.54,0a0.77,0.77 0 1,0 -1.54,0M466.3,718.3a1.51,1.51 0 1,0 3.02,0a1.51,1.51 0 1,0 -3.02,0M493.8,736.3a0.69,0.69 0 1,0 1.37,0a0.69,0.69 0 1,0 -1.37,0M509.8,762.1a0.83,0.83 0 1,0 1.66,0a0.83,0.83 0 1,0 -1.66,0M463.7,702.7a1.44,1.44 0 1,0 2.89,0a1.44,1.44 0 1,0 -2.89,0M458.8,712.4a1.47,1.47 0 1,0 2.94,0a1.47,1.47 0 1,0 -2.94,0M498.9,729.3a0.84,0.84 0 1,0 1.68,0a0.84,0.84 0 1,0 -1.68,0M523.7,723.1a1.34,1.34 0 1,0 2.68,0a1.34,1.34 0 1,0 -2.68,0M495.0,725.9a1.57,1.57 0 1,0 3.15,0a1.57,1.57 0 1,0 -3.15,0M475.6,717.9a0.83,0.83 0 1,0 1.65,0a0.83,0.83 0 1,0 -1.65,0M440.7,729.8a1.53,1.53 0 1,0 3.06,0a1.53,1.53 0 1,0 -3.06,0M503.7,723.4a0.90,0.90 0 1,0 1.81,0a0.90,0.90 0 1,0 -1.81,0M510.4,752.6a0.91,0.91 0 1,0 1.82,0a0.91,0.91 0 1,0 -1.82,0M460.1,718.2a1.41,1.41 0 1,0 2.82,0a1.41,1.41 0 1,0 -2.82,0M480.7,743.5a1.28,1.28 0 1,0 2.55,0a1.28,1.28 0 1,0 -2.55,0M510.3,735.4a0.62,0.62 0 1,0 1.25,0a0.62,0.62 0 1,0 -1.25,0M497.2,716.9a1.45,1.45 0 1,0 2.91,0a1.45,1.45 0 1,0 -2.91,0M490.3,744.4a1.29,1.29 0 1,0 2.57,0a1.29,1.29 0 1,0 -2.57,0M514.1,752.3a1.52,1.52 0 1,0 3.04,0a1.52,1.52 0 1,0 -3.04,0M511.9,717.6a1.35,1.35 0 1,0 2.69,0a1.35,1.35 0 1,0 -2.69,0M469.5,748.4a1.16,1.16 0 1,0 2.31,0a1.16,1.16 0 1,0 -2.31,0M489.9,707.8a0.78,0.78 0 1,0 1.56,0a0.78,0.78 0 1,0 -1.56,0M449.1,708.1a1.47,1.47 0 1,0 2.94,0a1.47,1.47 0 1,0 -2.94,0M519.8,723.6a1.06,1.06 0 1,0 2.11,0a1.06,1.06 0 1,0 -2.11,0M490.0,744.8a0.69,0.69 0 1,0 1.37,0a0.69,0.69 0 1,0 -1.37,0M525.8,703.9a0.71,0.71 0 1,0 1.43,0a0.71,0.71 0 1,0 -1.43,0M502.8,722.3a1.24,1.24 0 1,0 2.48,0a1.24,1.24 0 1,0 -2.48,0M488.2,731.6a1.12,1.12 0 1,0 2.24,0a1.12,1.12 0 1,0 -2.24,0M510.9,727.0a1.37,1.37 0 1,0 2.73,0a1.37,1.37 0 1,0 -2.73,0M491.3,756.5a0.71,0.71 0 1,0 1.41,0a0.71,0.71 0 1,0 -1.41,0M465.0,703.5a0.63,0.63 0 1,0 1.26,0a0.63,0.63 0 1,0 -1.26,0M487.1,730.1a0.78,0.78 0 1,0 1.57,0a0.78,0.78 0 1,0 -1.57,0M451.5,714.3a1.49,1.49 0 1,0 2.98,0a1.49,1.49 0 1,0 -2.98,0M488.3,727.7a1.17,1.17 0 1,0 2.34,0a1.17,1.17 0 1,0 -2.34,0M477.3,732.3a0.67,0.67 0 1,0 1.35,0a0.67,0.67 0 1,0 -1.35,0M526.2,738.0a1.32,1.32 0 1,0 2.65,0a1.32,1.32 0 1,0 -2.65,0M519.3,708.2a0.66,0.66 0 1,0 1.32,0a0.66,0.66 0 1,0 -1.32,0M458.3,712.5a0.80,0.80 0 1,0 1.59,0a0.80,0.80 0 1,0 -1.59,0M473.2,753.1a1.19,1.19 0 1,0 2.38,0a1.19,1.19 0 1,0 -2.38,0M502.4,732.7a1.53,1.53 0 1,0 3.05,0a1.53,1.53 0 1,0 -3.05,0M516.9,710.0a1.27,1.27 0 1,0 2.55,0a1.27,1.27 0 1,0 -2.55,0M523.5,752.4a1.15,1.15 0 1,0 2.30,0a1.15,1.15 0 1,0 -2.30,0M473.8,707.5a0.87,0.87 0 1,0 1.74,0a0.87,0.87 0 1,0 -1.74,0M445.8,706.3a1.38,1.38 0 1,0 2.76,0a1.38,1.38 0 1,0 -2.76,0M483.1,724.6a1.31,1.31 0 1,0 2.62,0a1.31,1.31 0 1,0 -2.62,0M466.9,758.3a0.83,0.83 0 1,0 1.66,0a0.83,0.83 0 1,0 -1.66,0M455.3,715.6a1.55,1.55 0 1,0 3.11,0a1.55,1.55 0 1,0 -3.11,0M517.1,714.4a1.53,1.53 0 1,0 3.06,0a1.53,1.53 0 1,0 -3.06,0M441.0,745.0a1.06,1.06 0 1,0 2.12,0a1.06,1.06 0 1,0 -2.12,0M458.6,738.7a0.82,0.82 0 1,0 1.65,0a0.82,0.82 0 1,0 -1.65,0M485.3,747.9a1.02,1.02 0 1,0 2.04,0a1.02,1.02 0 1,0 -2.04,0M519.4,757.1a0.78,0.78 0 1,0 1.56,0a0.78,0.78 0 1,0 -1.56,0M457.0,702.7a0.95,0.95 0 1,0 1.90,0a0.95,0.95 0 1,0 -1.90,0M445.0,720.6a0.72,0.72 0 1,0 1.44,0a0.72,0.72 0 1,0 -1.44,0M480.8,717.9a1.53,1.53 0 1,0 3.05,0a1.53,1.53 0 1,0 -3.05,0M509.6,723.9a1.14,1.14 0 1,0 2.27,0a1.14,1.14 0 1,0 -2.27,0M445.2,705.8a1.42,1.42 0 1,0 2.84,0a1.42,1.42 0 1,0 -2.84,0M446.0,724.7a0.84,0.84 0 1,0 1.67,0a0.84,0.84 0 1,0 -1.67,0M457.1,715.4a0.82,0.82 0 1,0 1.64,0a0.82,0.82 0 1,0 -1.64,0M521.8,716.8a1.25,1.25 0 1,0 2.50,0a1.25,1.25 0 1,0 -2.50,0M459.1,759.4a1.49,1.49 0 1,0 2.99,0a1.49,1.49 0 1,0 -2.99,0M483.6,760.2a1.33,1.33 0 1,0 2.65,0a1.33,1.33 0 1,0 -2.65,0M519.0,734.2a0.68,0.68 0 1,0 1.36,0a0.68,0.68 0 1,0 -1.36,0M444.3,753.8a1.56,1.56 0 1,0 3.12,0a1.56,1.56 0 1,0 -3.12,0M475.2,756.7a1.51,1.51 0 1,0 3.01,0a1.51,1.51 0 1,0 -3.01,0M465.9,748.8a1.38,1.38 0 1,0 2.76,0a1.38,1.38 0 1,0 -2.76,0M498.5,716.3a0.65,0.65 0 1,0 1.30,0a0.65,0.65 0 1,0 -1.30,0M467.8,718.6a1.12,1.12 0 1,0 2.24,0a1.12,1.12 0 1,0 -2.24,0M469.9,726.7a0.91,0.91 0 1,0 1.83,0a0.91,0.91 0 1,0 -1.83,0M450.1,719.2a1.27,1.27 0 1,0 2.53,0a1.27,1.27 0 1,0 -2.53,0M462.8,757.1a1.47,1.47 0 1,0 2.94,0a1.47,1.47 0 1,0 -2.94,0M479.1,720.2a1.25,1.25 0 1,0 2.51,0a1.25,1.25 0 1,0 -2.51,0M518.2,752.3a0.81,0.81 0 1,0 1.62,0a0.81,0.81 0 1,0 -1.62,0M456.6,705.0a1.54,1.54 0 1,0 3.08,0a1.54,1.54 0 1,0 -3.08,0M462.8,726.2a1.37,1.37 0 1,0 2.73,0a1.37,1.37 0 1,0 -2.73,0M464.6,746.5a0.62,0.62 0 1,0 1.23,0a0.62,0.62 0 1,0 -1.23,0M474.2,703.7a1.42,1.42 0 1,0 2.84,0a1.42,1.42 0 1,0 -2.84,0M463.4,752.1a1.36,1.36 0 1,0 2.71,0a1.36,1.36 0 1,0 -2.71,0M447.6,720.5a1.39,1.39 0 1,0 2.79,0a1.39,1.39 0 1,0 -2.79,0M499.8,727.9a0.73,0.73 0 1,0 1.46,0a0.73,0.73 0 1,0 -1.46,0M453.1,723.5a1.09,1.09 0 1,0 2.18,0a1.09,1.09 0 1,0 -2.18,0M496.5,755.5a1.29,1.29 0 1,0 2.58,0a1.29,1.29 0 1,0 -2.58,0M487.8,734.5a1.21,1.21 0 1,0 2.43,0a1.21,1.21 0 1,0 -2.43,0M442.5,704.7a1.14,1.14 0 1,0 2.29,0a1.14,1.14 0 1,0 -2.29,0M476.9,755.3a0.83,0.83 0 1,0 1.66,0a0.83,0.83 0 1,0 -1.66,0M469.0,717.5a1.25,1.25 0 1,0 2.51,0a1.25,1.25 0 1,0 -2.51,0" fill="#f2d8f0"/>
<path d="M510.4,708.2a0.77,0.77 0 1,0 1.54,0a0.77,0.77 0 1,0 -1.54,0M499.2,747.5a1.04,1.04 0 1,0 2.08,0a1.04,1.04 0 1,0 -2.08,0M453.0,746.4a0.82,0.82 0 1,0 1.63,0a0.82,0.82 0 1,0 -1.63,0M517.7,714.1a1.09,1.09 0 1,0 2.17,0a1.09,1.09 0 1,0 -2.17,0M520.8,739.4a0.62,0.62 0 1,0 1.24,0a0.62,0.62 0 1,0 -1.24,0M469.1,724.7a1.12,1.12 0 1,0 2.23,0a1.12,1.12 0 1,0 -2.23,0M453.8,727.5a0.76,0.76 0 1,0 1.52,0a0.76,0.76 0 1,0 -1.52,0M486.3,746.9a0.52,0.52 0 1,0 1.04,0a0.52,0.52 0 1,0 -1.04,0M459.1,707.1a0.84,0.84 0 1,0 1.69,0a0.84,0.84 0 1,0 -1.69,0M496.3,750.4a1.01,1.01 0 1,0 2.02,0a1.01,1.01 0 1,0 -2.02,0M453.1,763.1a0.51,0.51 0 1,0 1.02,0a0.51,0.51 0 1,0 -1.02,0M455.6,740.8a0.95,0.95 0 1,0 1.90,0a0.95,0.95 0 1,0 -1.90,0M473.3,743.9a0.82,0.82 0 1,0 1.63,0a0.82,0.82 0 1,0 -1.63,0M466.4,721.3a0.80,0.80 0 1,0 1.60,0a0.80,0.80 0 1,0 -1.60,0M448.1,746.0a0.62,0.62 0 1,0 1.24,0a0.62,0.62 0 1,0 -1.24,0M490.1,759.1a1.07,1.07 0 1,0 2.14,0a1.07,1.07 0 1,0 -2.14,0M511.5,713.4a1.06,1.06 0 1,0 2.13,0a1.06,1.06 0 1,0 -2.13,0M439.5,715.9a0.69,0.69 0 1,0 1.39,0a0.69,0.69 0 1,0 -1.39,0M499.4,762.5a0.65,0.65 0 1,0 1.30,0a0.65,0.65 0 1,0 -1.30,0M482.9,719.7a1.01,1.01 0 1,0 2.01,0a1.01,1.01 0 1,0 -2.01,0M439.2,757.8a0.71,0.71 0 1,0 1.42,0a0.71,0.71 0 1,0 -1.42,0M454.0,752.9a1.01,1.01 0 1,0 2.02,0a1.01,1.01 0 1,0 -2.02,0M509.1,756.1a0.82,0.82 0 1,0 1.64,0a0.82,0.82 0 1,0 -1.64,0M476.8,750.8a0.85,0.85 0 1,0 1.69,0a0.85,0.85 0 1,0 -1.69,0M460.1,739.8a0.81,0.81 0 1,0 1.61,0a0.81,0.81 0 1,0 -1.61,0M506.6,755.7a1.05,1.05 0 1,0 2.11,0a1.05,1.05 0 1,0 -2.11,0M444.4,736.0a0.81,0.81 0 1,0 1.63,0a0.81,0.81 0 1,0 -1.63,0M442.6,719.8a0.50,0.50 0 1,0 1.01,0a0.50,0.50 0 1,0 -1.01,0M501.9,715.2a0.62,0.62 0 1,0 1.25,0a0.62,0.62 0 1,0 -1.25,0M515.9,718.5a0.98,0.98 0 1,0 1.96,0a0.98,0.98 0 1,0 -1.96,0M498.2,741.0a0.55,0.55 0 1,0 1.11,0a0.55,0.55 0 1,0 -1.11,0M457.7,752.7a0.77,0.77 0 1,0 1.55,0a0.77,0.77 0 1,0 -1.55,0M465.6,732.5a0.52,0.52 0 1,0 1.05,0a0.52,0.52 0 1,0 -1.05,0M501.8,749.6a1.18,1.18 0 1,0 2.35,0a1.18,1.18 0 1,0 -2.35,0M466.3,744.5a1.16,1.16 0 1,0 2.31,0a1.16,1.16 0 1,0 -2.31,0M515.2,730.4a1.17,1.17 0 1,0 2.34,0a1.17,1.17 0 1,0 -2.34,0M486.9,736.8a0.90,0.90 0 1,0 1.81,0a0.90,0.90 0 1,0 -1.81,0M454.9,726.1a0.85,0.85 0 1,0 1.71,0a0.85,0.85 0 1,0 -1.71,0M509.1,736.6a0.74,0.74 0 1,0 1.48,0a0.74,0.74 0 1,0 -1.48,0M525.8,706.8a0.62,0.62 0 1,0 1.25,0a0.62,0.62 0 1,0 -1.25,0M469.6,762.3a0.83,0.83 0 1,0 1.65,0a0.83,0.83 0 1,0 -1.65,0M474.4,752.7a0.66,0.66 0 1,0 1.32,0a0.66,0.66 0 1,0 -1.32,0M510.1,706.7a0.92,0.92 0 1,0 1.83,0a0.92,0.92 0 1,0 -1.83,0M522.9,739.2a0.67,0.67 0 1,0 1.34,0a0.67,0.67 0 1,0 -1.34,0M457.5,751.6a0.69,0.69 0 1,0 1.37,0a0.69,0.69 0 1,0 -1.37,0M522.1,728.5a0.57,0.57 0 1,0 1.14,0a0.57,0.57 0 1,0 -1.14,0M503.6,747.5a0.97,0.97 0 1,0 1.94,0a0.97,0.97 0 1,0 -1.94,0M439.1,724.8a0.84,0.84 0 1,0 1.69,0a0.84,0.84 0 1,0 -1.69,0M520.5,707.8a0.80,0.80 0 1,0 1.60,0a0.80,0.80 0 1,0 -1.60,0M469.8,740.5a0.82,0.82 0 1,0 1.63,0a0.82,0.82 0 1,0 -1.63,0M466.8,731.8a0.88,0.88 0 1,0 1.76,0a0.88,0.88 0 1,0 -1.76,0M442.0,721.7a0.68,0.68 0 1,0 1.35,0a0.68,0.68 0 1,0 -1.35,0M463.3,724.0a0.69,0.69 0 1,0 1.39,0a0.69,0.69 0 1,0 -1.39,0M471.4,744.2a0.66,0.66 0 1,0 1.33,0a0.66,0.66 0 1,0 -1.33,0M524.0,706.8a0.71,0.71 0 1,0 1.41,0a0.71,0.71 0 1,0 -1.41,0M503.6,742.3a0.71,0.71 0 1,0 1.43,0a0.71,0.71 0 1,0 -1.43,0M463.8,746.0a0.76,0.76 0 1,0 1.53,0a0.76,0.76 0 1,0 -1.53,0M510.9,757.9a0.61,0.61 0 1,0 1.21,0a0.61,0.61 0 1,0 -1.21,0M498.7,716.4a0.90,0.90 0 1,0 1.79,0a0.90,0.90 0 1,0 -1.79,0M518.5,741.1a1.11,1.11 0 1,0 2.23,0a1.11,1.11 0 1,0 -2.23,0M468.7,719.5a0.88,0.88 0 1,0 1.76,0a0.88,0.88 0 1,0 -1.76,0M470.7,734.3a0.68,0.68 0 1,0 1.35,0a0.68,0.68 0 1,0 -1.35,0M457.1,739.5a0.58,0.58 0 1,0 1.16,0a0.58,0.58 0 1,0 -1.16,0M458.7,707.6a0.98,0.98 0 1,0 1.97,0a0.98,0.98 0 1,0 -1.97,0M452.1,718.9a1.10,1.10 0 1,0 2.20,0a1.10,1.10 0 1,0 -2.20,0M485.2,730.8a0.73,0.73 0 1,0 1.46,0a0.73,0.73 0 1,0 -1.46,0M484.7,749.8a0.75,0.75 0 1,0 1.50,0a0.75,0.75 0 1,0 -1.50,0M450.4,713.3a0.99,0.99 0 1,0 1.98,0a0.99,0.99 0 1,0 -1.98,0M481.4,759.3a0.65,0.65 0 1,0 1.31,0a0.65,0.65 0 1,0 -1.31,0M502.5,726.0a0.70,0.70 0 1,0 1.39,0a0.70,0.70 0 1,0 -1.39,0M502.9,721.7a0.65,0.65 0 1,0 1.31,0a0.65,0.65 0 1,0 -1.31,0M478.8,728.2a0.56,0.56 0 1,0 1.12,0a0.56,0.56 0 1,0 -1.12,0M526.9,726.6a0.75,0.75 0 1,0 1.51,0a0.75,0.75 0 1,0 -1.51,0M449.8,711.1a0.63,0.63 0 1,0 1.26,0a0.63,0.63 0 1,0 -1.26,0M444.5,735.8a0.95,0.95 0 1,0 1.90,0a0.95,0.95 0 1,0 -1.90,0M514.5,718.1a1.06,1.06 0 1,0 2.13,0a1.06,1.06 0 1,0 -2.13,0M505.6,705.6a0.64,0.64 0 1,0 1.28,0a0.64,0.64 0 1,0 -1.28,0M456.1,755.6a1.02,1.02 0 1,0 2.05,0a1.02,1.02 0 1,0 -2.05,0M444.1,716.9a0.61,0.61 0 1,0 1.23,0a0.61,0.61 0 1,0 -1.23,0M494.3,728.4a1.16,1.16 0 1,0 2.32,0a1.16,1.16 0 1,0 -2.32,0M513.7,719.6a0.69,0.69 0 1,0 1.38,0a0.69,0.69 0 1,0 -1.38,0M483.1,727.0a1.06,1.06 0 1,0 2.11,0a1.06,1.06 0 1,0 -2.11,0M455.4,755.4a0.91,0.91 0 1,0 1.82,0a0.91,0.91 0 1,0 -1.82,0M473.7,761.6a0.74,0.74 0 1,0 1.49,0a0.74,0.74 0 1,0 -1.49,0M507.3,761.4a1.12,1.12 0 1,0 2.25,0a1.12,1.12 0 1,0 -2.25,0M526.4,729.3a1.04,1.04 0 1,0 2.08,0a1.04,1.04 0 1,0 -2.08,0M513.3,720.3a0.82,0.82 0 1,0 1.63,0a0.82,0.82 0 1,0 -1.63,0M521.1,750.1a0.71,0.71 0 1,0 1.43,0a0.71,0.71 0 1,0 -1.43,0M507.9,709.2a0.78,0.78 0 1,0 1.55,0a0.78,0.78 0 1,0 -1.55,0M490.1,720.9a0.51,0.51 0 1,0 1.01,0a0.51,0.51 0 1,0 -1.01,0M489.7,739.8a0.96,0.96 0 1,0 1.93,0a0.96,0.96 0 1,0 -1.93,0M453.4,706.3a0.53,0.53 0 1,0 1.06,0a0.53,0.53 0 1,0 -1.06,0M487.3,704.3a0.64,0.64 0 1,0 1.29,0a0.64,0.64 0 1,0 -1.29,0M482.9,725.2a0.98,0.98 0 1,0 1.96,0a0.98,0.98 0 1,0 -1.96,0M450.3,733.8a0.80,0.80 0 1,0 1.59,0a0.80,0.80 0 1,0 -1.59,0M455.5,758.0a1.15,1.15 0 1,0 2.31,0a1.15,1.15 0 1,0 -2.31,0M525.3,717.5a0.52,0.52 0 1,0 1.03,0a0.52,0.52 0 1,0 -1.03,0M501.0,757.5a0.74,0.74 0 1,0 1.49,0a0.74,0.74 0 1,0 -1.49,0M464.9,751.7a0.89,0.89 0 1,0 1.77,0a0.89,0.89 0 1,0 -1.77,0M491.4,745.8a0.86,0.86 0 1,0 1.73,0a0.86,0.86 0 1,0 -1.73,0M511.8,736.3a1.02,1.02 0 1,0 2.03,0a1.02,1.02 0 1,0 -2.03,0M438.8,731.7a1.13,1.13 0 1,0 2.27,0a1.13,1.13 0 1,0 -2.27,0M482.0,744.6a0.87,0.87 0 1,0 1.74,0a0.87,0.87 0 1,0 -1.74,0M522.2,706.7a0.70,0.70 0 1,0 1.40,0a0.70,0.70 0 1,0 -1.40,0M452.8,755.6a1.18,1.18 0 1,0 2.37,0a1.18,1.18 0 1,0 -2.37,0M455.6,719.6a0.67,0.67 0 1,0 1.35,0a0.67,0.67 0 1,0 -1.35,0M492.8,745.7a0.68,0.68 0 1,0 1.36,0a0.68,0.68 0 1,0 -1.36,0M512.6,729.8a0.85,0.85 0 1,0 1.70,0a0.85,0.85 0 1,0 -1.70,0M471.3,730.1a0.52,0.52 0 1,0 1.05,0a0.52,0.52 0 1,0 -1.05,0M441.8,761.6a0.70,0.70 0 1,0 1.40,0a0.70,0.70 0 1,0 -1.40,0M469.9,762.3a0.72,0.72 0 1,0 1.43,0a0.72,0.72 0 1,0 -1.43,0M446.6,755.6a0.78,0.78 0 1,0 1.56,0a0.78,0.78 0 1,0 -1.56,0M496.8,720.4a0.59,0.59 0 1,0 1.18,0a0.59,0.59 0 1,0 -1.18,0M457.8,749.2a0.88,0.88 0 1,0 1.76,0a0.88,0.88 0 1,0 -1.76,0M497.8,747.0a0.90,0.90 0 1,0 1.80,0a0.90,0.90 0 1,0 -1.80,0M499.6,713.9a0.63,0.63 0 1,0 1.26,0a0.63,0.63 0 1,0 -1.26,0M477.7,753.8a0.66,0.66 0 1,0 1.31,0a0.66,0.66 0 1,0 -1.31,0M508.1,752.9a1.01,1.01 0 1,0 2.03,0a1.01,1.01 0 1,0 -2.03,0M447.7,709.9a1.07,1.07 0 1,0 2.13,0a1.07,1.07 0 1,0 -2.13,0M457.8,703.4a0.91,0.91 0 1,0 1.82,0a0.91,0.91 0 1,0 -1.82,0M500.7,752.7a1.00,1.00 0 1,0 2.00,0a1.00,1.00 0 1,0 -2.00,0M491.6,724.2a1.15,1.15 0 1,0 2.30,0a1.15,1.15 0 1,0 -2.30,0M462.5,729.9a0.58,0.58 0 1,0 1.16,0a0.58,0.58 0 1,0 -1.16,0M490.0,744.3a0.86,0.86 0 1,0 1.72,0a0.86,0.86 0 1,0 -1.72,0M471.8,704.8a0.94,0.94 0 1,0 1.89,0a0.94,0.94 0 1,0 -1.89,0M441.9,748.7a0.93,0.93 0 1,0 1.86,0a0.93,0.93 0 1,0 -1.86,0M515.6,742.7a1.03,1.03 0 1,0 2.07,0a1.03,1.03 0 1,0 -2.07,0M463.4,759.9a0.91,0.91 0 1,0 1.82,0a0.91,0.91 0 1,0 -1.82,0M487.2,725.7a1.09,1.09 0 1,0 2.18,0a1.09,1.09 0 1,0 -2.18,0M495.0,736.1a0.93,0.93 0 1,0 1.86,0a0.93,0.93 0 1,0 -1.86,0M509.1,762.9a0.64,0.64 0 1,0 1.28,0a0.64,0.64 0 1,0 -1.28,0M524.7,719.5a0.80,0.80 0 1,0 1.61,0a0.80,0.80 0 1,0 -1.61,0M504.4,752.1a0.74,0.74 0 1,0 1.48,0a0.74,0.74 0 1,0 -1.48,0M465.9,734.7a0.84,0.84 0 1,0 1.67,0a0.84,0.84 0 1,0 -1.67,0M474.7,720.5a0.51,0.51 0 1,0 1.02,0a0.51,0.51 0 1,0 -1.02,0M521.8,723.5a1.14,1.14 0 1,0 2.28,0a1.14,1.14 0 1,0 -2.28,0M494.8,708.8a0.62,0.62 0 1,0 1.25,0a0.62,0.62 0 1,0 -1.25,0M472.1,714.1a0.57,0.57 0 1,0 1.15,0a0.57,0.57 0 1,0 -1.15,0M507.3,732.3a0.61,0.61 0 1,0 1.21,0a0.61,0.61 0 1,0 -1.21,0M484.3,743.9a1.09,1.09 0 1,0 2.17,0a1.09,1.09 0 1,0 -2.17,0M477.6,715.0a0.53,0.53 0 1,0 1.05,0a0.53,0.53 0 1,0 -1.05,0M490.9,734.5a1.20,1.20 0 1,0 2.39,0a1.20,1.20 0 1,0 -2.39,0M460.4,705.3a0.87,0.87 0 1,0 1.74,0a0.87,0.87 0 1,0 -1.74,0M500.8,716.5a0.69,0.69 0 1,0 1.39,0a0.69,0.69 0 1,0 -1.39,0M455.1,754.0a0.90,0.90 0 1,0 1.80,0a0.90,0.90 0 1,0 -1.80,0M463.0,724.1a0.68,0.68 0 1,0 1.36,0a0.68,0.68 0 1,0 -1.36,0M440.0,753.2a1.04,1.04 0 1,0 2.08,0a1.04,1.04 0 1,0 -2.08,0M466.2,723.2a1.15,1.15 0 1,0 2.30,0a1.15,1.15 0 1,0 -2.30,0M461.6,745.2a1.14,1.14 0 1,0 2.28,0a1.14,1.14 0 1,0 -2.28,0M465.7,750.3a0.72,0.72 0 1,0 1.44,0a0.72,0.72 0 1,0 -1.44,0M526.5,710.9a0.62,0.62 0 1,0 1.24,0a0.62,0.62 0 1,0 -1.24,0M500.9,723.2a0.82,0.82 0 1,0 1.64,0a0.82,0.82 0 1,0 -1.64,0M515.5,711.8a0.66,0.66 0 1,0 1.32,0a0.66,0.66 0 1,0 -1.32,0M493.7,716.5a0.82,0.82 0 1,0 1.63,0a0.82,0.82 0 1,0 -1.63,0M457.7,741.1a0.96,0.96 0 1,0 1.92,0a0.96,0.96 0 1,0 -1.92,0M442.2,750.5a1.16,1.16 0 1,0 2.31,0a1.16,1.16 0 1,0 -2.31,0M465.3,750.5a0.72,0.72 0 1,0 1.43,0a0.72,0.72 0 1,0 -1.43,0M518.9,760.9a0.99,0.99 0 1,0 1.99,0a0.99,0.99 0 1,0 -1.99,0M475.3,723.3a0.63,0.63 0 1,0 1.26,0a0.63,0.63 0 1,0 -1.26,0M517.4,759.4a1.00,1.00 0 1,0 1.99,0a1.00,1.00 0 1,0 -1.99,0" fill="#d890d8"/>
<path d="M467.8,703.6l-0.3,1.7M492.4,755.3l1.9,0.6M482.8,714.5l-0.1,1.6M524.6,740.3l2.1,0.2M498.3,759.5l-0.1,1.1M451.1,701.9l1.0,0.3M507.2,714.1l1.0,2.3M447.9,751.2l0.7,1.2M439.0,752.5l0.9,1.3M440.7,733.1l1.5,-0.5M476.4,764.3l-0.1,1.1M467.4,752.7l1.7,1.5M495.4,763.8l0.5,1.6M481.1,721.3l2.4,-0.9M528.7,748.7l0.1,1.3M437.9,746.5l1.0,2.3M525.4,745.1l0.1,2.2M525.8,723.7l1.2,0.3M444.9,759.4l-0.2,1.7M444.3,729.7l1.9,0.4M504.7,716.3l0.1,1.0M486.7,721.5l2.0,-1.0M463.7,731.5l1.8,1.6M478.9,741.1l2.4,0.5M452.4,735.5l1.2,-0.1M499.2,729.8l1.0,-0.8M530.0,755.4l1.6,1.2M481.9,763.3l-0.1,2.6M497.4,743.6l2.5,-0.3M482.9,736.9l1.1,1.0M491.4,761.3l1.7,0.5M488.5,699.4l0.8,-0.6M520.4,757.8l2.2,-0.1M494.6,708.6l1.6,1.0M500.6,706.3l1.8,1.7M533.1,704.1l0.6,2.1M532.8,714.2l0.1,1.5M502.7,706.4l2.0,0.1M512.6,705.8l2.1,0.6M450.2,715.0l-0.1,2.3M529.3,700.7l1.6,1.8M472.2,700.9l1.8,1.2M455.9,734.6l-0.0,1.1M517.1,748.9l2.5,-0.7M481.6,762.7l1.6,1.9M444.7,731.9l1.5,1.1M462.2,714.0l1.5,-0.1M529.9,709.7l-0.2,1.3M446.6,700.7l1.3,1.0M498.6,758.5l1.9,-1.5M513.6,712.8l0.5,1.9M445.3,735.3l2.4,0.7M497.1,751.2l1.4,-0.7M502.1,699.9l2.2,1.1M488.4,708.2l1.7,0.7M498.5,704.8l1.2,0.9M511.0,743.2l-0.0,1.0M473.3,740.8l0.6,2.5M469.3,715.8l1.6,0.9M446.7,740.6l2.3,-0.6M495.5,734.7l0.2,1.3M448.1,751.2l0.1,1.1M460.8,745.3l1.2,1.7M510.2,716.7l1.2,1.2M504.5,726.0l1.1,1.2M443.2,734.8l0.9,1.4M465.9,702.6l2.1,0.2M440.4,701.2l2.2,1.3M447.4,702.9l1.8,0.7M438.4,735.1l1.4,1.2M444.5,700.0l1.5,-1.3M483.9,724.6l2.0,1.3M447.9,708.9l2.3,-0.3M492.7,722.6l1.5,0.3M495.1,723.2l1.5,0.3M518.1,764.0l0.9,2.0M472.3,747.3l-0.3,2.1M457.9,698.3l0.9,1.6M465.5,764.3l0.8,1.0M518.5,765.0l0.8,1.4M448.4,732.2l0.4,1.1M486.3,702.2l2.2,1.2M518.1,760.8l1.8,0.7M501.3,733.1l1.0,-0.8M509.3,760.4l1.8,1.2M517.3,720.7l0.5,1.4M521.4,736.1l1.3,1.3M472.6,727.4l0.8,0.7M513.7,721.9l1.0,1.9M501.9,710.1l1.2,1.2M521.3,700.5l1.1,-0.3M512.0,709.5l1.9,0.1M502.6,727.4l1.2,0.8M522.3,756.6l0.9,1.6M525.6,746.0l0.8,1.8M445.1,737.3l1.2,0.7M442.7,717.4l0.5,1.8M531.2,764.0l0.6,1.9M472.7,706.5l0.9,1.2M489.8,706.0l0.8,1.1M527.5,728.2l0.1,1.8M507.5,743.7l0.5,1.8M466.1,701.6l1.3,1.9M443.6,762.3l1.6,0.7M441.7,708.0l1.2,2.0M490.7,734.1l0.5,1.5M531.1,704.2l0.5,1.3M502.2,751.7l1.2,0.4M480.2,700.7l1.8,-0.6M484.0,750.3l-0.0,1.1M508.2,723.1l0.6,1.0M476.6,765.8l1.2,1.3M467.2,709.1l1.6,-0.3M484.4,714.7l0.4,2.1M501.3,717.7l0.5,1.0M473.7,764.6l0.8,0.9M518.6,720.0l1.6,-0.1M435.9,763.3l0.4,1.6M434.7,759.1l0.4,1.7M463.9,714.5l1.7,0.5M466.9,711.2l0.8,-0.6M448.2,711.9l1.4,1.9M490.1,703.1l-0.1,1.5M522.6,759.1l1.0,1.2M458.6,741.8l1.4,1.2M439.2,714.2l1.2,0.8M464.6,723.8l1.4,1.1M469.3,721.7l1.3,1.4M507.2,741.5l1.2,0.2M497.2,746.1l1.1,2.2M493.2,739.8l1.1,0.9M470.7,720.8l-0.1,1.4M529.5,720.1l1.6,-0.9M515.3,717.2l2.3,-0.3M485.3,744.7l0.1,2.0M506.4,731.2l1.6,0.4M479.0,754.9l1.0,0.0M502.6,706.1l2.2,0.4M521.8,713.9l0.4,2.2M466.8,736.1l-0.1,2.2M491.4,758.3l-0.2,2.4M454.1,729.1l1.4,1.4M443.6,737.2l2.0,1.4M451.2,719.4l2.3,0.8M441.8,718.5l1.8,-0.6M482.1,731.7l2.1,-0.0M452.7,730.1l1.0,0.8M472.9,756.2l1.1,0.7M461.6,707.9l1.0,0.8M485.0,741.3l1.8,-1.0M529.9,762.6l1.4,-0.4M512.1,704.6l2.0,0.1M529.2,708.4l1.7,-0.7M446.1,747.8l2.1,-0.7M532.1,709.1l1.5,-0.1M459.5,738.9l0.3,1.0M514.3,764.1l1.9,-0.7M462.2,706.9l1.8,1.8M505.4,749.8l-0.2,2.2M452.0,723.1l1.2,1.3M483.6,715.3l0.9,1.2M441.5,754.8l1.1,0.4M520.1,711.6l1.8,-0.3M444.5,740.0l2.3,0.7M525.1,719.9l0.3,2.1M451.4,748.2l1.4,0.4M448.0,759.5l1.4,0.4M517.5,725.9l1.4,1.3M511.4,729.5l2.4,-0.3M531.9,699.1l1.9,1.2M521.0,709.2l0.4,1.1M474.6,716.9l1.7,1.6M454.4,738.6l1.6,-1.1M486.2,738.8l0.1,1.3M470.9,736.6l1.4,0.5M530.6,724.8l1.7,-0.1M474.8,717.0l-0.0,2.5M448.1,750.2l1.4,2.0M527.1,716.2l0.9,2.3M501.9,729.2l-0.1,2.2M451.2,701.3l1.7,-1.0M522.2,757.1l2.4,-0.9M476.0,703.6l1.9,-0.9M445.3,712.2l0.2,1.2M524.6,746.0l2.0,0.7M454.1,712.2l1.0,-0.5M462.0,736.0l0.9,0.7M483.4,719.4l1.1,0.3M517.7,748.9l2.1,0.1M450.9,750.9l1.0,0.5M469.6,711.9l1.1,0.0M490.4,732.0l1.5,1.7M529.1,714.1l1.5,0.2M447.9,717.7l1.7,0.4M463.4,750.5l0.0,2.2M488.3,737.4l0.0,2.0M466.7,755.9l0.7,1.7M511.2,718.2l1.8,0.8M449.5,724.7l2.5,0.3M446.8,744.8l1.2,1.3M446.5,733.9l1.3,1.1M480.3,736.9l2.4,-1.0M439.3,723.0l1.0,-0.7M508.1,755.7l1.0,-0.2M454.3,725.3l2.3,-1.3M472.3,734.6l1.3,0.2M503.6,744.2l1.2,1.9M467.3,707.8l0.6,0.8M512.4,746.2l1.9,0.6M438.6,729.3l1.2,0.0M510.1,737.4l0.4,2.4M505.7,761.8l0.5,1.1M496.6,735.9l1.0,0.6M523.7,746.1l0.9,2.3M440.5,725.0l1.1,2.1M482.2,729.6l1.6,0.3M468.7,731.1l1.8,-0.6M450.4,741.2l1.7,0.9M484.7,722.9l2.6,0.1M486.2,719.1l2.0,0.1M475.7,701.9l1.4,0.6M495.0,751.2l1.1,0.1M458.5,728.9l-0.0,2.5M505.6,761.6l1.2,1.3M447.3,747.5l1.1,0.9M457.4,732.8l0.2,1.6M485.7,750.5l1.2,0.7M486.1,720.5l1.3,-1.0M448.6,720.7l1.6,1.4M505.1,704.4l0.0,1.3M447.2,710.3l1.7,0.8M520.0,756.6l1.8,0.8M477.9,765.5l1.0,0.5M509.9,743.8l0.3,1.1M526.3,748.8l0.1,1.3M448.2,699.1l1.2,1.8M511.3,735.1l0.9,-0.6M498.2,749.8l0.6,1.4M471.4,729.0l1.2,1.7M498.2,707.3l0.7,2.0M507.9,741.7l1.9,-0.2M532.6,764.2l0.9,1.1M508.3,730.8l1.4,0.2M450.1,752.4l-0.3,1.8M454.8,764.8l1.6,1.2M444.2,703.8l1.7,-0.7M496.4,713.9l1.6,1.9M438.3,757.4l2.1,-0.4M470.4,744.3l2.3,0.7M513.7,761.7l1.7,1.8M515.6,702.9l0.4,2.1M468.7,755.7l0.4,1.5M466.3,736.9l1.8,-0.8M442.2,721.9l1.1,1.3M529.4,762.2l0.6,1.0M446.0,702.8l0.1,1.2M504.0,733.4l1.3,1.4M443.9,731.9l2.0,-1.4M503.9,704.1l1.8,-0.5M442.0,702.4l-0.2,1.7" stroke="#7a4cb4" stroke-width="0.9" stroke-linecap="round" fill="none"/>
<path d="M451.6,729.2a0.46,0.46 0 1,0 0.91,0a0.46,0.46 0 1,0 -0.91,0M471.4,715.5a0.49,0.49 0 1,0 0.98,0a0.49,0.49 0 1,0 -0.98,0M526.6,710.6a0.64,0.64 0 1,0 1.28,0a0.64,0.64 0 1,0 -1.28,0M509.9,730.3a0.59,0.59 0 1,0 1.18,0a0.59,0.59 0 1,0 -1.18,0M488.3,763.0a0.37,0.37 0 1,0 0.74,0a0.37,0.37 0 1,0 -0.74,0M506.6,752.6a0.58,0.58 0 1,0 1.16,0a0.58,0.58 0 1,0 -1.16,0M525.8,705.3a0.56,0.56 0 1,0 1.13,0a0.56,0.56 0 1,0 -1.13,0M505.6,706.5a0.54,0.54 0 1,0 1.07,0a0.54,0.54 0 1,0 -1.07,0M512.1,743.4a0.48,0.48 0 1,0 0.97,0a0.48,0.48 0 1,0 -0.97,0M512.1,758.3a0.43,0.43 0 1,0 0.86,0a0.43,0.43 0 1,0 -0.86,0M460.8,752.6a0.61,0.61 0 1,0 1.23,0a0.61,0.61 0 1,0 -1.23,0M477.0,763.1a0.69,0.69 0 1,0 1.38,0a0.69,0.69 0 1,0 -1.38,0M492.2,725.4a0.38,0.38 0 1,0 0.76,0a0.38,0.38 0 1,0 -0.76,0M439.7,726.2a0.50,0.50 0 1,0 1.00,0a0.50,0.50 0 1,0 -1.00,0M446.0,715.8a0.65,0.65 0 1,0 1.31,0a0.65,0.65 0 1,0 -1.31,0M505.8,724.1a0.39,0.39 0 1,0 0.77,0a0.39,0.39 0 1,0 -0.77,0M522.3,757.7a0.62,0.62 0 1,0 1.23,0a0.62,0.62 0 1,0 -1.23,0M500.0,744.1a0.44,0.44 0 1,0 0.89,0a0.44,0.44 0 1,0 -0.89,0M488.7,702.1a0.46,0.46 0 1,0 0.93,0a0.46,0.46 0 1,0 -0.93,0M455.1,708.8a0.60,0.60 0 1,0 1.21,0a0.60,0.60 0 1,0 -1.21,0M478.2,721.5a0.62,0.62 0 1,0 1.25,0a0.62,0.62 0 1,0 -1.25,0M496.0,743.5a0.67,0.67 0 1,0 1.33,0a0.67,0.67 0 1,0 -1.33,0M455.3,729.7a0.37,0.37 0 1,0 0.75,0a0.37,0.37 0 1,0 -0.75,0M504.8,748.2a0.36,0.36 0 1,0 0.72,0a0.36,0.36 0 1,0 -0.72,0M469.2,706.4a0.64,0.64 0 1,0 1.27,0a0.64,0.64 0 1,0 -1.27,0M492.9,717.2a0.59,0.59 0 1,0 1.19,0a0.59,0.59 0 1,0 -1.19,0M522.4,755.9a0.49,0.49 0 1,0 0.97,0a0.49,0.49 0 1,0 -0.97,0M440.6,724.7a0.44,0.44 0 1,0 0.88,0a0.44,0.44 0 1,0 -0.88,0M501.9,722.4a0.65,0.65 0 1,0 1.29,0a0.65,0.65 0 1,0 -1.29,0M463.4,757.0a0.67,0.67 0 1,0 1.35,0a0.67,0.67 0 1,0 -1.35,0M487.2,704.2a0.63,0.63 0 1,0 1.25,0a0.63,0.63 0 1,0 -1.25,0M515.5,710.3a0.60,0.60 0 1,0 1.21,0a0.60,0.60 0 1,0 -1.21,0M446.9,721.6a0.45,0.45 0 1,0 0.90,0a0.45,0.45 0 1,0 -0.90,0M452.4,741.6a0.70,0.70 0 1,0 1.39,0a0.70,0.70 0 1,0 -1.39,0M483.9,760.1a0.44,0.44 0 1,0 0.89,0a0.44,0.44 0 1,0 -0.89,0M449.9,719.4a0.64,0.64 0 1,0 1.27,0a0.64,0.64 0 1,0 -1.27,0M467.7,723.4a0.65,0.65 0 1,0 1.31,0a0.65,0.65 0 1,0 -1.31,0M493.1,726.4a0.65,0.65 0 1,0 1.31,0a0.65,0.65 0 1,0 -1.31,0M451.2,714.4a0.57,0.57 0 1,0 1.13,0a0.57,0.57 0 1,0 -1.13,0M482.7,744.2a0.63,0.63 0 1,0 1.27,0a0.63,0.63 0 1,0 -1.27,0M500.0,712.8a0.60,0.60 0 1,0 1.21,0a0.60,0.60 0 1,0 -1.21,0M459.7,707.9a0.45,0.45 0 1,0 0.91,0a0.45,0.45 0 1,0 -0.91,0M473.2,733.1a0.39,0.39 0 1,0 0.78,0a0.39,0.39 0 1,0 -0.78,0M495.3,725.4a0.70,0.70 0 1,0 1.39,0a0.70,0.70 0 1,0 -1.39,0M481.5,753.2a0.63,0.63 0 1,0 1.27,0a0.63,0.63 0 1,0 -1.27,0M493.1,742.9a0.38,0.38 0 1,0 0.76,0a0.38,0.38 0 1,0 -0.76,0M520.1,761.6a0.67,0.67 0 1,0 1.34,0a0.67,0.67 0 1,0 -1.34,0M445.9,715.2a0.46,0.46 0 1,0 0.92,0a0.46,0.46 0 1,0 -0.92,0M454.3,717.8a0.38,0.38 0 1,0 0.77,0a0.38,0.38 0 1,0 -0.77,0M491.3,755.7a0.47,0.47 0 1,0 0.93,0a0.47,0.47 0 1,0 -0.93,0M513.6,755.4a0.55,0.55 0 1,0 1.10,0a0.55,0.55 0 1,0 -1.10,0M516.2,717.6a0.56,0.56 0 1,0 1.13,0a0.56,0.56 0 1,0 -1.13,0M496.3,702.2a0.70,0.70 0 1,0 1.39,0a0.70,0.70 0 1,0 -1.39,0M461.8,733.9a0.63,0.63 0 1,0 1.25,0a0.63,0.63 0 1,0 -1.25,0M481.4,709.7a0.70,0.70 0 1,0 1.39,0a0.70,0.70 0 1,0 -1.39,0M516.8,732.4a0.46,0.46 0 1,0 0.93,0a0.46,0.46 0 1,0 -0.93,0M438.8,721.3a0.69,0.69 0 1,0 1.39,0a0.69,0.69 0 1,0 -1.39,0M506.5,711.1a0.58,0.58 0 1,0 1.15,0a0.58,0.58 0 1,0 -1.15,0M446.0,732.3a0.68,0.68 0 1,0 1.37,0a0.68,0.68 0 1,0 -1.37,0M440.7,732.9a0.69,0.69 0 1,0 1.38,0a0.69,0.69 0 1,0 -1.38,0M447.2,729.7a0.63,0.63 0 1,0 1.26,0a0.63,0.63 0 1,0 -1.26,0M514.3,735.0a0.55,0.55 0 1,0 1.10,0a0.55,0.55 0 1,0 -1.10,0M487.0,743.5a0.69,0.69 0 1,0 1.39,0a0.69,0.69 0 1,0 -1.39,0M497.9,715.8a0.43,0.43 0 1,0 0.86,0a0.43,0.43 0 1,0 -0.86,0M482.5,743.1a0.63,0.63 0 1,0 1.26,0a0.63,0.63 0 1,0 -1.26,0M463.2,713.7a0.38,0.38 0 1,0 0.76,0a0.38,0.38 0 1,0 -0.76,0M507.1,703.9a0.35,0.35 0 1,0 0.71,0a0.35,0.35 0 1,0 -0.71,0M478.0,751.7a0.69,0.69 0 1,0 1.39,0a0.69,0.69 0 1,0 -1.39,0M462.6,723.6a0.39,0.39 0 1,0 0.78,0a0.39,0.39 0 1,0 -0.78,0M450.3,714.1a0.63,0.63 0 1,0 1.26,0a0.63,0.63 0 1,0 -1.26,0M502.3,745.1a0.62,0.62 0 1,0 1.24,0a0.62,0.62 0 1,0 -1.24,0M456.6,761.7a0.54,0.54 0 1,0 1.07,0a0.54,0.54 0 1,0 -1.07,0M462.4,751.6a0.44,0.44 0 1,0 0.87,0a0.44,0.44 0 1,0 -0.87,0M440.2,748.8a0.39,0.39 0 1,0 0.79,0a0.39,0.39 0 1,0 -0.79,0M527.7,753.8a0.47,0.47 0 1,0 0.93,0a0.47,0.47 0 1,0 -0.93,0M525.4,738.4a0.54,0.54 0 1,0 1.08,0a0.54,0.54 0 1,0 -1.08,0M464.0,757.5a0.56,0.56 0 1,0 1.13,0a0.56,0.56 0 1,0 -1.13,0M464.6,721.2a0.45,0.45 0 1,0 0.91,0a0.45,0.45 0 1,0 -0.91,0M468.0,759.7a0.55,0.55 0 1,0 1.10,0a0.55,0.55 0 1,0 -1.10,0M495.0,747.8a0.37,0.37 0 1,0 0.74,0a0.37,0.37 0 1,0 -0.74,0M492.9,750.2a0.38,0.38 0 1,0 0.76,0a0.38,0.38 0 1,0 -0.76,0M522.4,732.3a0.36,0.36 0 1,0 0.71,0a0.36,0.36 0 1,0 -0.71,0M526.0,727.2a0.64,0.64 0 1,0 1.28,0a0.64,0.64 0 1,0 -1.28,0M526.7,704.1a0.45,0.45 0 1,0 0.89,0a0.45,0.45 0 1,0 -0.89,0M482.6,720.4a0.60,0.60 0 1,0 1.20,0a0.60,0.60 0 1,0 -1.20,0M471.2,731.5a0.49,0.49 0 1,0 0.99,0a0.49,0.49 0 1,0 -0.99,0M508.5,735.4a0.49,0.49 0 1,0 0.97,0a0.49,0.49 0 1,0 -0.97,0M516.7,729.1a0.70,0.70 0 1,0 1.39,0a0.70,0.70 0 1,0 -1.39,0M450.1,707.8a0.59,0.59 0 1,0 1.19,0a0.59,0.59 0 1,0 -1.19,0M518.5,705.1a0.47,0.47 0 1,0 0.94,0a0.47,0.47 0 1,0 -0.94,0M504.0,746.4a0.54,0.54 0 1,0 1.09,0a0.54,0.54 0 1,0 -1.09,0M500.2,755.7a0.55,0.55 0 1,0 1.11,0a0.55,0.55 0 1,0 -1.11,0M472.6,714.8a0.47,0.47 0 1,0 0.93,0a0.47,0.47 0 1,0 -0.93,0M512.1,754.8a0.48,0.48 0 1,0 0.95,0a0.48,0.48 0 1,0 -0.95,0M459.8,762.3a0.37,0.37 0 1,0 0.74,0a0.37,0.37 0 1,0 -0.74,0M473.4,727.1a0.59,0.59 0 1,0 1.19,0a0.59,0.59 0 1,0 -1.19,0M442.2,743.9a0.36,0.36 0 1,0 0.73,0a0.36,0.36 0 1,0 -0.73,0M457.0,729.2a0.62,0.62 0 1,0 1.24,0a0.62,0.62 0 1,0 -1.24,0M456.0,742.3a0.36,0.36 0 1,0 0.72,0a0.36,0.36 0 1,0 -0.72,0M452.7,720.9a0.38,0.38 0 1,0 0.75,0a0.38,0.38 0 1,0 -0.75,0M511.0,737.4a0.64,0.64 0 1,0 1.28,0a0.64,0.64 0 1,0 -1.28,0M480.7,736.3a0.36,0.36 0 1,0 0.72,0a0.36,0.36 0 1,0 -0.72,0M522.5,721.4a0.57,0.57 0 1,0 1.15,0a0.57,0.57 0 1,0 -1.15,0M515.0,727.1a0.47,0.47 0 1,0 0.94,0a0.47,0.47 0 1,0 -0.94,0M507.0,751.6a0.67,0.67 0 1,0 1.34,0a0.67,0.67 0 1,0 -1.34,0M474.9,722.9a0.53,0.53 0 1,0 1.05,0a0.53,0.53 0 1,0 -1.05,0M491.9,743.4a0.64,0.64 0 1,0 1.28,0a0.64,0.64 0 1,0 -1.28,0M495.0,717.5a0.62,0.62 0 1,0 1.24,0a0.62,0.62 0 1,0 -1.24,0M508.4,753.5a0.38,0.38 0 1,0 0.77,0a0.38,0.38 0 1,0 -0.77,0M474.6,754.5a0.49,0.49 0 1,0 0.97,0a0.49,0.49 0 1,0 -0.97,0M452.8,704.3a0.60,0.60 0 1,0 1.19,0a0.60,0.60 0 1,0 -1.19,0M441.2,723.3a0.51,0.51 0 1,0 1.02,0a0.51,0.51 0 1,0 -1.02,0M453.7,730.1a0.61,0.61 0 1,0 1.21,0a0.61,0.61 0 1,0 -1.21,0M444.9,722.0a0.58,0.58 0 1,0 1.17,0a0.58,0.58 0 1,0 -1.17,0M494.3,736.7a0.45,0.45 0 1,0 0.90,0a0.45,0.45 0 1,0 -0.90,0M470.5,759.5a0.52,0.52 0 1,0 1.04,0a0.52,0.52 0 1,0 -1.04,0M464.6,731.0a0.39,0.39 0 1,0 0.78,0a0.39,0.39 0 1,0 -0.78,0M489.8,760.0a0.58,0.58 0 1,0 1.16,0a0.58,0.58 0 1,0 -1.16,0M438.9,753.9a0.42,0.42 0 1,0 0.84,0a0.42,0.42 0 1,0 -0.84,0M441.7,719.1a0.54,0.54 0 1,0 1.07,0a0.54,0.54 0 1,0 -1.07,0M438.8,763.0a0.49,0.49 0 1,0 0.98,0a0.49,0.49 0 1,0 -0.98,0M439.2,744.1a0.69,0.69 0 1,0 1.38,0a0.69,0.69 0 1,0 -1.38,0M440.7,711.8a0.39,0.39 0 1,0 0.78,0a0.39,0.39 0 1,0 -0.78,0M471.4,725.5a0.36,0.36 0 1,0 0.72,0a0.36,0.36 0 1,0 -0.72,0M525.2,749.3a0.45,0.45 0 1,0 0.90,0a0.45,0.45 0 1,0 -0.90,0M495.0,731.5a0.63,0.63 0 1,0 1.26,0a0.63,0.63 0 1,0 -1.26,0M460.0,760.9a0.61,0.61 0 1,0 1.21,0a0.61,0.61 0 1,0 -1.21,0M494.7,736.9a0.58,0.58 0 1,0 1.16,0a0.58,0.58 0 1,0 -1.16,0M440.5,756.8a0.52,0.52 0 1,0 1.04,0a0.52,0.52 0 1,0 -1.04,0M456.2,724.1a0.60,0.60 0 1,0 1.21,0a0.60,0.60 0 1,0 -1.21,0M509.1,715.3a0.48,0.48 0 1,0 0.97,0a0.48,0.48 0 1,0 -0.97,0M527.5,705.9a0.49,0.49 0 1,0 0.98,0a0.49,0.49 0 1,0 -0.98,0M524.3,746.4a0.53,0.53 0 1,0 1.06,0a0.53,0.53 0 1,0 -1.06,0M478.8,706.3a0.61,0.61 0 1,0 1.23,0a0.61,0.61 0 1,0 -1.23,0M468.9,706.6a0.69,0.69 0 1,0 1.38,0a0.69,0.69 0 1,0 -1.38,0M446.2,730.9a0.59,0.59 0 1,0 1.19,0a0.59,0.59 0 1,0 -1.19,0M487.2,726.3a0.61,0.61 0 1,0 1.22,0a0.61,0.61 0 1,0 -1.22,0M460.6,745.2a0.50,0.50 0 1,0 0.99,0a0.50,0.50 0 1,0 -0.99,0M525.5,754.6a0.43,0.43 0 1,0 0.86,0a0.43,0.43 0 1,0 -0.86,0M518.8,729.4a0.47,0.47 0 1,0 0.94,0a0.47,0.47 0 1,0 -0.94,0M452.0,712.8a0.36,0.36 0 1,0 0.73,0a0.36,0.36 0 1,0 -0.73,0M458.3,725.9a0.59,0.59 0 1,0 1.18,0a0.59,0.59 0 1,0 -1.18,0M519.8,744.5a0.69,0.69 0 1,0 1.37,0a0.69,0.69 0 1,0 -1.37,0M523.6,755.5a0.45,0.45 0 1,0 0.90,0a0.45,0.45 0 1,0 -0.90,0M442.5,738.4a0.48,0.48 0 1,0 0.96,0a0.48,0.48 0 1,0 -0.96,0M526.6,703.5a0.68,0.68 0 1,0 1.36,0a0.68,0.68 0 1,0 -1.36,0M463.8,743.8a0.60,0.60 0 1,0 1.21,0a0.60,0.60 0 1,0 -1.21,0M481.5,749.6a0.64,0.64 0 1,0 1.29,0a0.64,0.64 0 1,0 -1.29,0M449.4,752.3a0.69,0.69 0 1,0 1.39,0a0.69,0.69 0 1,0 -1.39,0M512.6,738.5a0.56,0.56 0 1,0 1.12,0a0.56,0.56 0 1,0 -1.12,0M447.3,736.5a0.45,0.45 0 1,0 0.91,0a0.45,0.45 0 1,0 -0.91,0M459.5,759.3a0.44,0.44 0 1,0 0.88,0a0.44,0.44 0 1,0 -0.88,0M456.3,754.9a0.54,0.54 0 1,0 1.07,0a0.54,0.54 0 1,0 -1.07,0M517.3,712.7a0.67,0.67 0 1,0 1.33,0a0.67,0.67 0 1,0 -1.33,0M476.1,756.5a0.56,0.56 0 1,0 1.13,0a0.56,0.56 0 1,0 -1.13,0M469.2,723.9a0.39,0.39 0 1,0 0.78,0a0.39,0.39 0 1,0 -0.78,0M488.1,706.5a0.67,0.67 0 1,0 1.33,0a0.67,0.67 0 1,0 -1.33,0M461.7,721.7a0.48,0.48 0 1,0 0.97,0a0.48,0.48 0 1,0 -0.97,0M481.6,759.0a0.38,0.38 0 1,0 0.75,0a0.38,0.38 0 1,0 -0.75,0M470.2,735.4a0.53,0.53 0 1,0 1.06,0a0.53,0.53 0 1,0 -1.06,0M517.1,735.3a0.58,0.58 0 1,0 1.17,0a0.58,0.58 0 1,0 -1.17,0M498.7,725.0a0.50,0.50 0 1,0 1.01,0a0.50,0.50 0 1,0 -1.01,0M457.2,709.0a0.69,0.69 0 1,0 1.37,0a0.69,0.69 0 1,0 -1.37,0M499.1,709.2a0.65,0.65 0 1,0 1.29,0a0.65,0.65 0 1,0 -1.29,0M475.3,727.5a0.63,0.63 0 1,0 1.25,0a0.63,0.63 0 1,0 -1.25,0M465.1,744.1a0.62,0.62 0 1,0 1.25,0a0.62,0.62 0 1,0 -1.25,0M498.8,712.2a0.39,0.39 0 1,0 0.78,0a0.39,0.39 0 1,0 -0.78,0M506.3,739.5a0.48,0.48 0 1,0 0.95,0a0.48,0.48 0 1,0 -0.95,0M522.6,736.1a0.70,0.70 0 1,0 1.39,0a0.70,0.70 0 1,0 -1.39,0M454.8,753.1a0.69,0.69 0 1,0 1.39,0a0.69,0.69 0 1,0 -1.39,0M453.7,714.4a0.52,0.52 0 1,0 1.03,0a0.52,0.52 0 1,0 -1.03,0M467.3,738.2a0.39,0.39 0 1,0 0.77,0a0.39,0.39 0 1,0 -0.77,0M441.8,707.8a0.39,0.39 0 1,0 0.78,0a0.39,0.39 0 1,0 -0.78,0M469.1,750.6a0.55,0.55 0 1,0 1.11,0a0.55,0.55 0 1,0 -1.11,0M453.1,738.7a0.69,0.69 0 1,0 1.39,0a0.69,0.69 0 1,0 -1.39,0M525.0,710.4a0.59,0.59 0 1,0 1.19,0a0.59,0.59 0 1,0 -1.19,0M446.2,755.2a0.46,0.46 0 1,0 0.93,0a0.46,0.46 0 1,0 -0.93,0M495.3,758.3a0.51,0.51 0 1,0 1.01,0a0.51,0.51 0 1,0 -1.01,0M467.1,705.5a0.58,0.58 0 1,0 1.17,0a0.58,0.58 0 1,0 -1.17,0M499.1,743.9a0.38,0.38 0 1,0 0.76,0a0.38,0.38 0 1,0 -0.76,0M469.1,718.9a0.40,0.40 0 1,0 0.81,0a0.40,0.40 0 1,0 -0.81,0M448.3,716.1a0.65,0.65 0 1,0 1.30,0a0.65,0.65 0 1,0 -1.30,0M516.6,739.5a0.46,0.46 0 1,0 0.93,0a0.46,0.46 0 1,0 -0.93,0M468.2,757.6a0.40,0.40 0 1,0 0.80,0a0.40,0.40 0 1,0 -0.80,0M448.9,760.3a0.45,0.45 0 1,0 0.89,0a0.45,0.45 0 1,0 -0.89,0M524.5,720.1a0.38,0.38 0 1,0 0.77,0a0.38,0.38 0 1,0 -0.77,0M467.2,755.0a0.65,0.65 0 1,0 1.30,0a0.65,0.65 0 1,0 -1.30,0M493.4,734.6a0.50,0.50 0 1,0 1.01,0a0.50,0.50 0 1,0 -1.01,0M469.5,759.8a0.49,0.49 0 1,0 0.98,0a0.49,0.49 0 1,0 -0.98,0M448.3,738.1a0.48,0.48 0 1,0 0.96,0a0.48,0.48 0 1,0 -0.96,0M466.9,760.2a0.58,0.58 0 1,0 1.17,0a0.58,0.58 0 1,0 -1.17,0M480.3,758.9a0.41,0.41 0 1,0 0.83,0a0.41,0.41 0 1,0 -0.83,0M454.8,761.9a0.39,0.39 0 1,0 0.78,0a0.39,0.39 0 1,0 -0.78,0M505.4,719.7a0.39,0.39 0 1,0 0.77,0a0.39,0.39 0 1,0 -0.77,0M523.7,746.3a0.46,0.46 0 1,0 0.93,0a0.46,0.46 0 1,0 -0.93,0M457.2,746.1a0.61,0.61 0 1,0 1.23,0a0.61,0.61 0 1,0 -1.23,0M465.1,704.3a0.47,0.47 0 1,0 0.95,0a0.47,0.47 0 1,0 -0.95,0M487.5,720.8a0.62,0.62 0 1,0 1.24,0a0.62,0.62 0 1,0 -1.24,0M480.9,715.4a0.54,0.54 0 1,0 1.08,0a0.54,0.54 0 1,0 -1.08,0M450.7,745.7a0.69,0.69 0 1,0 1.38,0a0.69,0.69 0 1,0 -1.38,0" fill="#8050b8"/>
<path d="M459.4,712.9a0.47,0.47 0 1,0 0.95,0a0.47,0.47 0 1,0 -0.95,0M460.5,708.9a0.45,0.45 0 1,0 0.90,0a0.45,0.45 0 1,0 -0.90,0M455.3,743.9a0.45,0.45 0 1,0 0.90,0a0.45,0.45 0 1,0 -0.90,0M458.6,757.9a0.46,0.46 0 1,0 0.93,0a0.46,0.46 0 1,0 -0.93,0M509.8,750.4a0.38,0.38 0 1,0 0.75,0a0.38,0.38 0 1,0 -0.75,0M458.6,719.8a0.45,0.45 0 1,0 0.91,0a0.45,0.45 0 1,0 -0.91,0M505.0,709.5a0.38,0.38 0 1,0 0.76,0a0.38,0.38 0 1,0 -0.76,0M439.9,751.3a0.58,0.58 0 1,0 1.16,0a0.58,0.58 0 1,0 -1.16,0M491.9,738.1a0.43,0.43 0 1,0 0.86,0a0.43,0.43 0 1,0 -0.86,0M468.1,725.1a0.30,0.30 0 1,0 0.60,0a0.30,0.30 0 1,0 -0.60,0M459.6,731.4a0.40,0.40 0 1,0 0.80,0a0.40,0.40 0 1,0 -0.80,0M494.1,711.3a0.42,0.42 0 1,0 0.83,0a0.42,0.42 0 1,0 -0.83,0M522.1,715.5a0.60,0.60 0 1,0 1.19,0a0.60,0.60 0 1,0 -1.19,0M438.6,761.7a0.59,0.59 0 1,0 1.18,0a0.59,0.59 0 1,0 -1.18,0M520.7,763.4a0.59,0.59 0 1,0 1.19,0a0.59,0.59 0 1,0 -1.19,0M483.8,752.1a0.35,0.35 0 1,0 0.71,0a0.35,0.35 0 1,0 -0.71,0M512.1,712.5a0.56,0.56 0 1,0 1.12,0a0.56,0.56 0 1,0 -1.12,0M507.6,744.1a0.53,0.53 0 1,0 1.07,0a0.53,0.53 0 1,0 -1.07,0M467.8,751.8a0.58,0.58 0 1,0 1.15,0a0.58,0.58 0 1,0 -1.15,0M496.1,744.1a0.37,0.37 0 1,0 0.74,0a0.37,0.37 0 1,0 -0.74,0M474.7,745.9a0.48,0.48 0 1,0 0.95,0a0.48,0.48 0 1,0 -0.95,0M488.1,710.3a0.30,0.30 0 1,0 0.61,0a0.30,0.30 0 1,0 -0.61,0M481.7,752.6a0.60,0.60 0 1,0 1.20,0a0.60,0.60 0 1,0 -1.20,0M451.4,762.3a0.38,0.38 0 1,0 0.77,0a0.38,0.38 0 1,0 -0.77,0M526.2,727.5a0.54,0.54 0 1,0 1.08,0a0.54,0.54 0 1,0 -1.08,0M490.0,741.6a0.32,0.32 0 1,0 0.64,0a0.32,0.32 0 1,0 -0.64,0M450.8,757.8a0.32,0.32 0 1,0 0.63,0a0.32,0.32 0 1,0 -0.63,0M493.8,760.5a0.49,0.49 0 1,0 0.98,0a0.49,0.49 0 1,0 -0.98,0M490.3,745.6a0.54,0.54 0 1,0 1.07,0a0.54,0.54 0 1,0 -1.07,0M464.8,709.0a0.39,0.39 0 1,0 0.78,0a0.39,0.39 0 1,0 -0.78,0M495.2,715.3a0.41,0.41 0 1,0 0.81,0a0.41,0.41 0 1,0 -0.81,0M480.4,723.1a0.49,0.49 0 1,0 0.99,0a0.49,0.49 0 1,0 -0.99,0M522.9,735.1a0.54,0.54 0 1,0 1.08,0a0.54,0.54 0 1,0 -1.08,0M459.4,757.0a0.56,0.56 0 1,0 1.11,0a0.56,0.56 0 1,0 -1.11,0M448.6,703.0a0.43,0.43 0 1,0 0.85,0a0.43,0.43 0 1,0 -0.85,0M461.0,702.5a0.35,0.35 0 1,0 0.70,0a0.35,0.35 0 1,0 -0.70,0M512.4,732.2a0.49,0.49 0 1,0 0.98,0a0.49,0.49 0 1,0 -0.98,0M483.1,708.6a0.60,0.60 0 1,0 1.19,0a0.60,0.60 0 1,0 -1.19,0M522.8,729.5a0.59,0.59 0 1,0 1.18,0a0.59,0.59 0 1,0 -1.18,0M499.3,727.8a0.34,0.34 0 1,0 0.67,0a0.34,0.34 0 1,0 -0.67,0M527.5,704.3a0.43,0.43 0 1,0 0.85,0a0.43,0.43 0 1,0 -0.85,0M467.8,747.0a0.42,0.42 0 1,0 0.83,0a0.42,0.42 0 1,0 -0.83,0M443.7,726.0a0.31,0.31 0 1,0 0.62,0a0.31,0.31 0 1,0 -0.62,0M491.4,759.5a0.50,0.50 0 1,0 1.00,0a0.50,0.50 0 1,0 -1.00,0M524.9,736.8a0.47,0.47 0 1,0 0.93,0a0.47,0.47 0 1,0 -0.93,0M490.0,703.4a0.39,0.39 0 1,0 0.79,0a0.39,0.39 0 1,0 -0.79,0M480.5,735.3a0.57,0.57 0 1,0 1.14,0a0.57,0.57 0 1,0 -1.14,0M502.0,722.8a0.60,0.60 0 1,0 1.19,0a0.60,0.60 0 1,0 -1.19,0M493.4,706.5a0.46,0.46 0 1,0 0.91,0a0.46,0.46 0 1,0 -0.91,0M465.0,726.6a0.48,0.48 0 1,0 0.97,0a0.48,0.48 0 1,0 -0.97,0M514.0,746.5a0.58,0.58 0 1,0 1.17,0a0.58,0.58 0 1,0 -1.17,0M490.0,708.9a0.48,0.48 0 1,0 0.95,0a0.48,0.48 0 1,0 -0.95,0M517.3,722.4a0.59,0.59 0 1,0 1.18,0a0.59,0.59 0 1,0 -1.18,0M445.0,739.7a0.37,0.37 0 1,0 0.74,0a0.37,0.37 0 1,0 -0.74,0M491.4,716.6a0.46,0.46 0 1,0 0.92,0a0.46,0.46 0 1,0 -0.92,0M455.3,759.0a0.58,0.58 0 1,0 1.15,0a0.58,0.58 0 1,0 -1.15,0M484.7,712.5a0.46,0.46 0 1,0 0.93,0a0.46,0.46 0 1,0 -0.93,0M456.8,759.0a0.55,0.55 0 1,0 1.11,0a0.55,0.55 0 1,0 -1.11,0M449.5,710.9a0.49,0.49 0 1,0 0.99,0a0.49,0.49 0 1,0 -0.99,0M461.7,709.5a0.35,0.35 0 1,0 0.70,0a0.35,0.35 0 1,0 -0.70,0M442.1,755.3a0.34,0.34 0 1,0 0.68,0a0.34,0.34 0 1,0 -0.68,0M445.2,719.3a0.31,0.31 0 1,0 0.62,0a0.31,0.31 0 1,0 -0.62,0M509.1,749.1a0.46,0.46 0 1,0 0.92,0a0.46,0.46 0 1,0 -0.92,0M527.0,758.9a0.47,0.47 0 1,0 0.95,0a0.47,0.47 0 1,0 -0.95,0M453.0,748.2a0.30,0.30 0 1,0 0.60,0a0.30,0.30 0 1,0 -0.60,0M524.5,750.5a0.50,0.50 0 1,0 1.00,0a0.50,0.50 0 1,0 -1.00,0M449.6,751.6a0.54,0.54 0 1,0 1.07,0a0.54,0.54 0 1,0 -1.07,0M523.4,728.6a0.41,0.41 0 1,0 0.82,0a0.41,0.41 0 1,0 -0.82,0M517.3,728.1a0.50,0.50 0 1,0 1.00,0a0.50,0.50 0 1,0 -1.00,0M506.3,714.7a0.47,0.47 0 1,0 0.94,0a0.47,0.47 0 1,0 -0.94,0M511.3,762.5a0.37,0.37 0 1,0 0.75,0a0.37,0.37 0 1,0 -0.75,0M469.0,730.4a0.35,0.35 0 1,0 0.70,0a0.35,0.35 0 1,0 -0.70,0M438.7,742.7a0.52,0.52 0 1,0 1.04,0a0.52,0.52 0 1,0 -1.04,0M476.1,710.4a0.42,0.42 0 1,0 0.84,0a0.42,0.42 0 1,0 -0.84,0M449.7,740.5a0.32,0.32 0 1,0 0.64,0a0.32,0.32 0 1,0 -0.64,0M463.3,705.3a0.45,0.45 0 1,0 0.90,0a0.45,0.45 0 1,0 -0.90,0M521.4,744.1a0.34,0.34 0 1,0 0.67,0a0.34,0.34 0 1,0 -0.67,0M451.0,743.2a0.33,0.33 0 1,0 0.65,0a0.33,0.33 0 1,0 -0.65,0M492.0,704.3a0.33,0.33 0 1,0 0.66,0a0.33,0.33 0 1,0 -0.66,0M518.0,726.7a0.40,0.40 0 1,0 0.79,0a0.40,0.40 0 1,0 -0.79,0" fill="#5a3aa0"/>
<rect x="500.50" y="761.80" width="26.50" height="1.30" fill="#000" />
<text x="515.00" y="759.60" font-size="3.3" text-anchor="middle" fill="#333" >100μm</text>
</g>
<rect x="172.40" y="646.40" width="23.90" height="18.00" fill="none" stroke="#8e8e8e" stroke-width="1.2" />
<line x1="196.30" y1="646.40" x2="238.80" y2="631.00" stroke="#8e8e8e" stroke-width="1.3" />
<line x1="196.30" y1="664.40" x2="238.80" y2="692.60" stroke="#8e8e8e" stroke-width="1.3" />
<rect x="172.40" y="725.10" width="23.90" height="17.30" fill="none" stroke="#8e8e8e" stroke-width="1.2" />
<line x1="196.30" y1="725.10" x2="238.80" y2="702.00" stroke="#8e8e8e" stroke-width="1.3" />
<line x1="196.30" y1="742.40" x2="238.80" y2="763.60" stroke="#8e8e8e" stroke-width="1.3" />
<text x="534.20" y="601.60" font-size="12.0" >H</text>
<line x1="564.40" y1="756.10" x2="571.50" y2="756.10" stroke="#000" stroke-width="1.3" />
<text x="564.60" y="760.20" font-size="12.0" text-anchor="end" >0</text>
<line x1="566.80" y1="742.13" x2="571.50" y2="742.13" stroke="#000" stroke-width="1.3" />
<line x1="564.40" y1="728.16" x2="571.50" y2="728.16" stroke="#000" stroke-width="1.3" />
<text x="564.60" y="732.26" font-size="12.0" text-anchor="end" >20</text>
<line x1="566.80" y1="714.19" x2="571.50" y2="714.19" stroke="#000" stroke-width="1.3" />
<line x1="564.40" y1="700.22" x2="571.50" y2="700.22" stroke="#000" stroke-width="1.3" />
<text x="564.60" y="704.32" font-size="12.0" text-anchor="end" >40</text>
<line x1="566.80" y1="686.25" x2="571.50" y2="686.25" stroke="#000" stroke-width="1.3" />
<line x1="564.40" y1="672.28" x2="571.50" y2="672.28" stroke="#000" stroke-width="1.3" />
<text x="564.60" y="676.38" font-size="12.0" text-anchor="end" >60</text>
<line x1="566.80" y1="658.31" x2="571.50" y2="658.31" stroke="#000" stroke-width="1.3" />
<line x1="564.40" y1="644.34" x2="571.50" y2="644.34" stroke="#000" stroke-width="1.3" />
<text x="564.60" y="648.44" font-size="12.0" text-anchor="end" >80</text>
<line x1="566.80" y1="630.37" x2="571.50" y2="630.37" stroke="#000" stroke-width="1.3" />
<line x1="564.40" y1="616.40" x2="571.50" y2="616.40" stroke="#000" stroke-width="1.3" />
<text x="564.60" y="620.50" font-size="12.0" text-anchor="end" >100</text>
<line x1="570.90" y1="616.00" x2="570.90" y2="756.70" stroke="#000" stroke-width="1.4" />
<line x1="570.30" y1="756.00" x2="680.30" y2="756.00" stroke="#000" stroke-width="1.4" />
<rect x="586.70" y="748.42" width="31.80" height="7.58" fill="#dba637" />
<rect x="635.10" y="694.63" width="31.60" height="61.37" fill="#2f4055" />
<line x1="651.00" y1="694.63" x2="651.00" y2="669.20" stroke="#000" stroke-width="1.4" />
<line x1="643.30" y1="669.20" x2="659.10" y2="669.20" stroke="#000" stroke-width="1.6" />
<line x1="602.60" y1="748.42" x2="602.60" y2="740.90" stroke="#c08a20" stroke-width="1.4" />
<line x1="594.90" y1="740.90" x2="610.90" y2="740.90" stroke="#c08a20" stroke-width="1.6" />
<circle cx="652.98" cy="632.29" r="2.00" fill="#000" />
<circle cx="649.29" cy="636.40" r="2.00" fill="#000" />
<circle cx="652.98" cy="642.96" r="2.00" fill="#000" />
<circle cx="649.29" cy="648.09" r="2.00" fill="#000" />
<circle cx="652.98" cy="648.51" r="2.00" fill="#000" />
<circle cx="657.08" cy="650.56" r="2.00" fill="#000" />
<circle cx="652.57" cy="654.66" r="2.00" fill="#000" />
<circle cx="645.18" cy="662.05" r="2.00" fill="#000" />
<circle cx="652.98" cy="661.43" r="2.00" fill="#000" />
<circle cx="657.08" cy="662.46" r="2.00" fill="#000" />
<circle cx="649.29" cy="666.15" r="2.00" fill="#000" />
<circle cx="652.98" cy="666.56" r="2.00" fill="#000" />
<circle cx="645.80" cy="671.69" r="2.00" fill="#000" />
<circle cx="651.34" cy="672.72" r="2.00" fill="#000" />
<circle cx="657.08" cy="672.72" r="2.00" fill="#000" />
<circle cx="645.18" cy="675.80" r="2.00" fill="#000" />
<circle cx="648.88" cy="678.88" r="2.00" fill="#000" />
<circle cx="652.98" cy="678.88" r="2.00" fill="#000" />
<circle cx="656.67" cy="682.57" r="2.00" fill="#000" />
<circle cx="645.80" cy="681.34" r="2.00" fill="#000" />
<circle cx="641.08" cy="686.67" r="2.00" fill="#000" />
<circle cx="644.77" cy="689.55" r="2.00" fill="#000" />
<circle cx="648.88" cy="689.55" r="2.00" fill="#000" />
<circle cx="652.98" cy="689.55" r="2.00" fill="#000" />
<circle cx="657.08" cy="689.55" r="2.00" fill="#000" />
<circle cx="651.34" cy="695.29" r="2.00" fill="#000" />
<circle cx="649.29" cy="696.32" r="2.00" fill="#000" />
<circle cx="637.18" cy="699.81" r="2.00" fill="#000" />
<circle cx="641.08" cy="702.48" r="2.00" fill="#000" />
<circle cx="645.18" cy="702.48" r="2.00" fill="#000" />
<circle cx="649.29" cy="699.81" r="2.00" fill="#000" />
<circle cx="653.39" cy="699.81" r="2.00" fill="#000" />
<circle cx="657.08" cy="699.81" r="2.00" fill="#000" />
<circle cx="661.19" cy="699.81" r="2.00" fill="#000" />
<circle cx="664.88" cy="699.81" r="2.00" fill="#000" />
<circle cx="640.67" cy="706.58" r="2.00" fill="#000" />
<circle cx="645.18" cy="706.58" r="2.00" fill="#000" />
<circle cx="649.29" cy="706.58" r="2.00" fill="#000" />
<circle cx="653.39" cy="706.58" r="2.00" fill="#000" />
<circle cx="657.08" cy="706.58" r="2.00" fill="#000" />
<circle cx="661.19" cy="706.58" r="2.00" fill="#000" />
<circle cx="640.67" cy="709.66" r="2.00" fill="#000" />
<circle cx="644.77" cy="709.66" r="2.00" fill="#000" />
<circle cx="648.88" cy="711.71" r="2.00" fill="#000" />
<circle cx="652.98" cy="709.66" r="2.00" fill="#000" />
<circle cx="657.08" cy="709.66" r="2.00" fill="#000" />
<circle cx="661.19" cy="709.66" r="2.00" fill="#000" />
<circle cx="664.88" cy="709.66" r="2.00" fill="#000" />
<circle cx="641.08" cy="717.46" r="2.00" fill="#000" />
<circle cx="645.18" cy="713.76" r="2.00" fill="#000" />
<circle cx="649.29" cy="717.46" r="2.00" fill="#000" />
<circle cx="653.39" cy="717.46" r="2.00" fill="#000" />
<circle cx="657.08" cy="717.46" r="2.00" fill="#000" />
<circle cx="661.60" cy="713.76" r="2.00" fill="#000" />
<circle cx="645.18" cy="723.00" r="2.00" fill="#000" />
<circle cx="649.29" cy="723.00" r="2.00" fill="#000" />
<circle cx="653.39" cy="723.00" r="2.00" fill="#000" />
<circle cx="657.08" cy="723.00" r="2.00" fill="#000" />
<circle cx="645.18" cy="728.13" r="2.00" fill="#000" />
<circle cx="649.29" cy="730.18" r="2.00" fill="#000" />
<circle cx="653.39" cy="730.18" r="2.00" fill="#000" />
<circle cx="657.08" cy="728.13" r="2.00" fill="#000" />
<circle cx="644.77" cy="735.31" r="2.00" fill="#000" />
<circle cx="652.98" cy="734.28" r="2.00" fill="#000" />
<circle cx="657.08" cy="733.87" r="2.00" fill="#000" />
<circle cx="588.95" cy="746.60" r="2.10" fill="#cc9628" />
<circle cx="595.52" cy="746.19" r="2.10" fill="#cc9628" />
<circle cx="602.70" cy="736.34" r="2.10" fill="#cc9628" />
<circle cx="609.89" cy="734.69" r="2.10" fill="#cc9628" />
<circle cx="595.52" cy="750.70" r="2.10" fill="#cc9628" />
<circle cx="602.70" cy="748.65" r="2.10" fill="#cc9628" />
<circle cx="609.89" cy="749.67" r="2.10" fill="#cc9628" />
<circle cx="617.07" cy="749.67" r="2.10" fill="#cc9628" />
<circle cx="595.52" cy="756.45" r="2.10" fill="#cc9628" />
<circle cx="602.70" cy="756.45" r="2.10" fill="#cc9628" />
<circle cx="609.89" cy="756.45" r="2.10" fill="#cc9628" />
<circle cx="589.36" cy="752.34" r="2.10" fill="#cc9628" />
<line x1="605.40" y1="620.00" x2="649.90" y2="620.00" stroke="#111" stroke-width="0.9" />
<text x="629.80" y="620.60" font-size="12.2" text-anchor="middle" >***</text>
<line x1="602.60" y1="756.00" x2="602.60" y2="761.40" stroke="#000" stroke-width="1.4" />
<line x1="650.90" y1="756.00" x2="650.90" y2="761.40" stroke="#000" stroke-width="1.4" />
<text x="583.70" y="771.30" font-size="10.1" text-anchor="middle" >Healthy tendon</text>
<text x="651.60" y="771.30" font-size="10.1" text-anchor="middle" >Tendinopathy</text>
<text transform="translate(544.4,688.2) rotate(-90)" font-size="12.55" text-anchor="middle">% of <tspan font-style="italic">Lox</tspan><tspan font-size="0.68em" baseline-shift="50%">+</tspan><tspan font-style="italic">Uts2r</tspan><tspan font-size="0.68em" baseline-shift="50%">+</tspan> Cells</text>
</svg></body></html>
